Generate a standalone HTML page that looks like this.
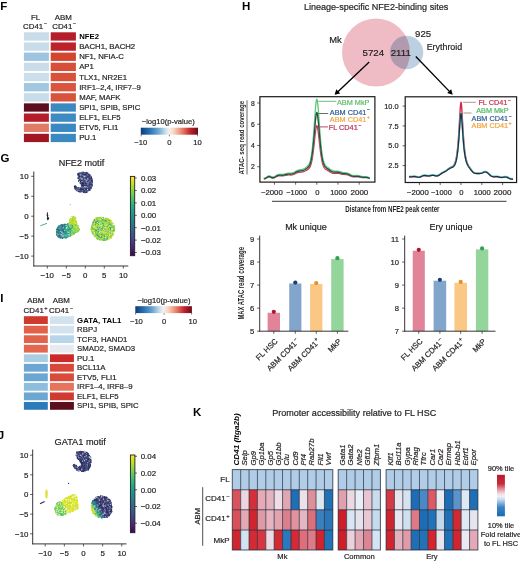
<!DOCTYPE html><html><head><meta charset="utf-8"><style>html,body{margin:0;padding:0;background:#fff;}svg{display:block;will-change:transform;}text{font-family:"Liberation Sans",sans-serif;}</style></head><body><svg width="520" height="561" viewBox="0 0 520 561" font-family='"Liberation Sans", sans-serif' fill="#231f20"><text x="0.30" y="9.80" font-size="11.5" font-weight="bold" fill="#000">F</text>
<text x="35.60" y="19.90" font-size="7.9" stroke="#231f20" stroke-width="0.2" text-anchor="middle">FL</text>
<text x="63.30" y="19.90" font-size="7.9" stroke="#231f20" stroke-width="0.2" text-anchor="middle">ABM</text>
<text x="35.00" y="28.70" font-size="7.9" stroke="#231f20" stroke-width="0.2" text-anchor="middle">CD41<tspan font-size="5.69" dx="0.47" dy="-3.32">&#8722;</tspan></text>
<text x="64.20" y="28.70" font-size="7.9" stroke="#231f20" stroke-width="0.2" text-anchor="middle">CD41<tspan font-size="5.69" dx="0.47" dy="-3.32">&#8722;</tspan></text>
<rect x="23.90" y="32.30" width="25.00" height="8.30" fill="#c9dcea"/>
<rect x="50.70" y="32.30" width="25.20" height="8.30" fill="#b51d2a"/>
<text x="79.20" y="38.90" font-size="7.75" font-weight="bold" fill="#000">NFE2</text>
<rect x="23.90" y="42.45" width="25.00" height="8.30" fill="#c9dcea"/>
<rect x="50.70" y="42.45" width="25.20" height="8.30" fill="#bd2129"/>
<text x="79.20" y="49.05" font-size="7.75" stroke="#231f20" stroke-width="0.2">BACH1, BACH2</text>
<rect x="23.90" y="52.60" width="25.00" height="8.30" fill="#9dc5df"/>
<rect x="50.70" y="52.60" width="25.20" height="8.30" fill="#d4452f"/>
<text x="79.20" y="59.20" font-size="7.75" stroke="#231f20" stroke-width="0.2">NF1, NFIA-C</text>
<rect x="23.90" y="62.75" width="25.00" height="8.30" fill="#cadcea"/>
<rect x="50.70" y="62.75" width="25.20" height="8.30" fill="#d94e39"/>
<text x="79.20" y="69.35" font-size="7.75" stroke="#231f20" stroke-width="0.2">AP1</text>
<rect x="23.90" y="72.90" width="25.00" height="8.30" fill="#cddeeb"/>
<rect x="50.70" y="72.90" width="25.20" height="8.30" fill="#d9503b"/>
<text x="79.20" y="79.50" font-size="7.75" stroke="#231f20" stroke-width="0.2">TLX1, NR2E1</text>
<rect x="23.90" y="83.05" width="25.00" height="8.30" fill="#a2c8e0"/>
<rect x="50.70" y="83.05" width="25.20" height="8.30" fill="#da543e"/>
<text x="79.20" y="89.65" font-size="7.75" stroke="#231f20" stroke-width="0.2">IRF1&#8211;2,4, IRF7&#8211;9</text>
<rect x="23.90" y="93.20" width="25.00" height="8.30" fill="#c9dcea"/>
<rect x="50.70" y="93.20" width="25.20" height="8.30" fill="#d9523c"/>
<text x="79.20" y="99.80" font-size="7.75" stroke="#231f20" stroke-width="0.2">MAF, MAFK</text>
<rect x="23.90" y="103.35" width="25.00" height="8.30" fill="#5c0d1e"/>
<rect x="50.70" y="103.35" width="25.20" height="8.30" fill="#3c88c0"/>
<text x="79.20" y="109.95" font-size="7.75" stroke="#231f20" stroke-width="0.2">SPI1, SPIB, SPIC</text>
<rect x="23.90" y="113.50" width="25.00" height="8.30" fill="#b51d2b"/>
<rect x="50.70" y="113.50" width="25.20" height="8.30" fill="#3d8bc2"/>
<text x="79.20" y="120.10" font-size="7.75" stroke="#231f20" stroke-width="0.2">ELF1, ELF5</text>
<rect x="23.90" y="123.65" width="25.00" height="8.30" fill="#e07b65"/>
<rect x="50.70" y="123.65" width="25.20" height="8.30" fill="#3a88c1"/>
<text x="79.20" y="130.25" font-size="7.75" stroke="#231f20" stroke-width="0.2">ETV5, FLI1</text>
<rect x="23.90" y="133.80" width="25.00" height="8.30" fill="#9e1722"/>
<rect x="50.70" y="133.80" width="25.20" height="8.30" fill="#3b89c1"/>
<text x="79.20" y="140.40" font-size="7.75" stroke="#231f20" stroke-width="0.2">PU.1</text>
<defs><linearGradient id="gF" x1="0" x2="1" y1="0" y2="0"><stop offset="0" stop-color="#0a3d7a"/><stop offset="0.15" stop-color="#2a6fb0"/><stop offset="0.3" stop-color="#6aa5d0"/><stop offset="0.45" stop-color="#d5e5f0"/><stop offset="0.5" stop-color="#f4f1f0"/><stop offset="0.58" stop-color="#f8d4c0"/><stop offset="0.72" stop-color="#e8836a"/><stop offset="0.86" stop-color="#c0272d"/><stop offset="1" stop-color="#6a0a1a"/></linearGradient></defs>
<rect x="140.80" y="127.70" width="57.20" height="7.00" fill="url(#gF)"/>
<line x1="141.20" y1="134.70" x2="141.20" y2="136.30" stroke="#231f20" stroke-width="0.6"/>
<line x1="169.40" y1="134.70" x2="169.40" y2="136.30" stroke="#231f20" stroke-width="0.6"/>
<line x1="197.60" y1="134.70" x2="197.60" y2="136.30" stroke="#231f20" stroke-width="0.6"/>
<text x="168.20" y="124.20" font-size="7.6" stroke="#231f20" stroke-width="0.2" text-anchor="middle">&#8722;log10(p-value)</text>
<text x="140.80" y="145.40" font-size="7.6" stroke="#231f20" stroke-width="0.2" text-anchor="middle">&#8722;10</text>
<text x="169.40" y="145.40" font-size="7.6" stroke="#231f20" stroke-width="0.2" text-anchor="middle">0</text>
<text x="197.60" y="145.40" font-size="7.6" stroke="#231f20" stroke-width="0.2" text-anchor="middle">10</text>
<text x="0.60" y="162.00" font-size="11.5" font-weight="bold" fill="#000">G</text>
<text x="81.45" y="165.50" font-size="9.1" stroke="#231f20" stroke-width="0.2" text-anchor="middle">NFE2 motif</text>
<line x1="33.80" y1="171.50" x2="33.80" y2="266.40" stroke="#231f20" stroke-width="0.9"/>
<line x1="33.40" y1="266.00" x2="128.30" y2="266.00" stroke="#231f20" stroke-width="0.9"/>
<line x1="31.20" y1="176.30" x2="33.80" y2="176.30" stroke="#231f20" stroke-width="0.7"/>
<text x="28.60" y="179.00" font-size="7.9" stroke="#231f20" stroke-width="0.2" text-anchor="end">10</text>
<line x1="31.20" y1="196.25" x2="33.80" y2="196.25" stroke="#231f20" stroke-width="0.7"/>
<text x="28.60" y="198.95" font-size="7.9" stroke="#231f20" stroke-width="0.2" text-anchor="end">5</text>
<line x1="31.20" y1="216.20" x2="33.80" y2="216.20" stroke="#231f20" stroke-width="0.7"/>
<text x="28.60" y="218.90" font-size="7.9" stroke="#231f20" stroke-width="0.2" text-anchor="end">0</text>
<line x1="31.20" y1="236.15" x2="33.80" y2="236.15" stroke="#231f20" stroke-width="0.7"/>
<text x="28.60" y="238.85" font-size="7.9" stroke="#231f20" stroke-width="0.2" text-anchor="end">&#8722;5</text>
<line x1="31.20" y1="256.10" x2="33.80" y2="256.10" stroke="#231f20" stroke-width="0.7"/>
<text x="28.60" y="258.80" font-size="7.9" stroke="#231f20" stroke-width="0.2" text-anchor="end">&#8722;10</text>
<line x1="47.30" y1="266.00" x2="47.30" y2="268.60" stroke="#231f20" stroke-width="0.7"/>
<text x="47.30" y="277.80" font-size="7.9" stroke="#231f20" stroke-width="0.2" text-anchor="middle">&#8722;10</text>
<line x1="66.30" y1="266.00" x2="66.30" y2="268.60" stroke="#231f20" stroke-width="0.7"/>
<text x="66.30" y="277.80" font-size="7.9" stroke="#231f20" stroke-width="0.2" text-anchor="middle">&#8722;5</text>
<line x1="85.30" y1="266.00" x2="85.30" y2="268.60" stroke="#231f20" stroke-width="0.7"/>
<text x="85.30" y="277.80" font-size="7.9" stroke="#231f20" stroke-width="0.2" text-anchor="middle">0</text>
<line x1="104.30" y1="266.00" x2="104.30" y2="268.60" stroke="#231f20" stroke-width="0.7"/>
<text x="104.30" y="277.80" font-size="7.9" stroke="#231f20" stroke-width="0.2" text-anchor="middle">5</text>
<line x1="123.30" y1="266.00" x2="123.30" y2="268.60" stroke="#231f20" stroke-width="0.7"/>
<text x="123.30" y="277.80" font-size="7.9" stroke="#231f20" stroke-width="0.2" text-anchor="middle">10</text>
<defs><linearGradient id="vG" x1="0" x2="0" y1="0" y2="1"><stop offset="0.000" stop-color="#fde725"/><stop offset="0.067" stop-color="#d2e21b"/><stop offset="0.133" stop-color="#a5db36"/><stop offset="0.200" stop-color="#7ad151"/><stop offset="0.267" stop-color="#54c568"/><stop offset="0.333" stop-color="#35b779"/><stop offset="0.400" stop-color="#22a884"/><stop offset="0.467" stop-color="#1f988b"/><stop offset="0.533" stop-color="#23888e"/><stop offset="0.600" stop-color="#2a788e"/><stop offset="0.667" stop-color="#31688e"/><stop offset="0.733" stop-color="#39568c"/><stop offset="0.800" stop-color="#414487"/><stop offset="0.867" stop-color="#472f7d"/><stop offset="0.933" stop-color="#481a6c"/><stop offset="1.000" stop-color="#440154"/></linearGradient></defs>
<rect x="130.40" y="176.40" width="4.30" height="79.30" fill="url(#vG)" stroke="#231f20" stroke-width="0.9"/>
<line x1="134.70" y1="178.00" x2="136.80" y2="178.00" stroke="#231f20" stroke-width="0.7"/>
<text x="140.90" y="180.80" font-size="7.9" stroke="#231f20" stroke-width="0.2">0.03</text>
<line x1="134.70" y1="190.50" x2="136.80" y2="190.50" stroke="#231f20" stroke-width="0.7"/>
<text x="140.90" y="193.30" font-size="7.9" stroke="#231f20" stroke-width="0.2">0.02</text>
<line x1="134.70" y1="202.90" x2="136.80" y2="202.90" stroke="#231f20" stroke-width="0.7"/>
<text x="140.90" y="205.70" font-size="7.9" stroke="#231f20" stroke-width="0.2">0.01</text>
<line x1="134.70" y1="215.30" x2="136.80" y2="215.30" stroke="#231f20" stroke-width="0.7"/>
<text x="140.90" y="218.10" font-size="7.9" stroke="#231f20" stroke-width="0.2">0.00</text>
<line x1="134.70" y1="227.70" x2="136.80" y2="227.70" stroke="#231f20" stroke-width="0.7"/>
<text x="140.90" y="230.50" font-size="7.9" stroke="#231f20" stroke-width="0.2">&#8722;0.01</text>
<line x1="134.70" y1="240.10" x2="136.80" y2="240.10" stroke="#231f20" stroke-width="0.7"/>
<text x="140.90" y="242.90" font-size="7.9" stroke="#231f20" stroke-width="0.2">&#8722;0.02</text>
<line x1="134.70" y1="252.50" x2="136.80" y2="252.50" stroke="#231f20" stroke-width="0.7"/>
<text x="140.90" y="255.30" font-size="7.9" stroke="#231f20" stroke-width="0.2">&#8722;0.03</text>
<polygon points="78.0,173.5 83.0,172.2 88.0,173.0 91.3,176.5 92.4,181.0 92.0,186.0 90.0,190.0 86.0,192.4 81.0,192.3 77.5,191.0 75.0,188.8 74.5,186.3 75.3,185.5 77.0,187.3 79.5,188.3 81.2,187.5 81.8,184.8 79.5,182.0 78.3,178.5" fill="#35386f" fill-opacity="0.35"/>
<circle cx="84.1" cy="185.3" r="0.65" fill="#2b2d5e"/>
<circle cx="79.3" cy="181.4" r="0.65" fill="#3a3570"/>
<circle cx="83.7" cy="192.2" r="0.65" fill="#3d4d80"/>
<circle cx="89.8" cy="182.5" r="0.65" fill="#33306a"/>
<circle cx="88.0" cy="173.5" r="0.65" fill="#dfe3ea"/>
<circle cx="88.4" cy="190.0" r="0.65" fill="#24224f"/>
<circle cx="81.4" cy="172.4" r="0.65" fill="#2f5f7f"/>
<circle cx="83.3" cy="189.1" r="0.65" fill="#2b2d5e"/>
<circle cx="79.7" cy="172.9" r="0.65" fill="#403a78"/>
<circle cx="83.0" cy="172.0" r="0.65" fill="#4a5a8a"/>
<circle cx="83.7" cy="185.4" r="0.65" fill="#33306a"/>
<circle cx="86.0" cy="190.4" r="0.65" fill="#3b3f7c"/>
<circle cx="80.6" cy="173.6" r="0.65" fill="#4a7a90"/>
<circle cx="91.7" cy="181.0" r="0.65" fill="#282c58"/>
<circle cx="87.3" cy="180.3" r="0.65" fill="#2e2a60"/>
<circle cx="90.2" cy="175.6" r="0.65" fill="#2e2a60"/>
<circle cx="88.4" cy="188.8" r="0.65" fill="#2b2d5e"/>
<circle cx="85.3" cy="184.1" r="0.65" fill="#dfe3ea"/>
<circle cx="89.0" cy="179.8" r="0.65" fill="#403a78"/>
<circle cx="89.0" cy="178.5" r="0.65" fill="#2b2d5e"/>
<circle cx="87.4" cy="176.6" r="0.65" fill="#2b2d5e"/>
<circle cx="88.8" cy="187.0" r="0.65" fill="#3d4d80"/>
<circle cx="86.3" cy="181.3" r="0.65" fill="#3b3f7c"/>
<circle cx="80.4" cy="182.7" r="0.65" fill="#403a78"/>
<circle cx="79.3" cy="173.8" r="0.65" fill="#4a5a8a"/>
<circle cx="81.6" cy="190.8" r="0.65" fill="#4a5a8a"/>
<circle cx="83.8" cy="183.5" r="0.65" fill="#4a5a8a"/>
<circle cx="88.6" cy="174.6" r="0.65" fill="#2b2d5e"/>
<circle cx="77.9" cy="188.1" r="0.65" fill="#4a7a90"/>
<circle cx="82.1" cy="182.6" r="0.65" fill="#3a3570"/>
<circle cx="82.5" cy="183.0" r="0.65" fill="#282c58"/>
<circle cx="87.3" cy="186.2" r="0.65" fill="#3a3570"/>
<circle cx="81.8" cy="186.0" r="0.65" fill="#dfe3ea"/>
<circle cx="89.5" cy="174.7" r="0.65" fill="#3a3570"/>
<circle cx="76.5" cy="187.3" r="0.65" fill="#2f5f7f"/>
<circle cx="81.8" cy="180.5" r="0.65" fill="#2b2d5e"/>
<circle cx="80.8" cy="181.7" r="0.65" fill="#3b3f7c"/>
<circle cx="87.4" cy="173.7" r="0.65" fill="#3d4d80"/>
<circle cx="81.0" cy="190.8" r="0.65" fill="#dfe3ea"/>
<circle cx="89.0" cy="178.7" r="0.65" fill="#3a3570"/>
<circle cx="78.8" cy="180.9" r="0.65" fill="#3b3f7c"/>
<circle cx="91.6" cy="181.8" r="0.65" fill="#2b2d5e"/>
<circle cx="79.1" cy="179.0" r="0.65" fill="#33306a"/>
<circle cx="88.1" cy="180.3" r="0.65" fill="#282c58"/>
<circle cx="78.6" cy="174.5" r="0.65" fill="#33306a"/>
<circle cx="84.9" cy="183.2" r="0.65" fill="#3d4d80"/>
<circle cx="90.9" cy="183.5" r="0.65" fill="#24224f"/>
<circle cx="79.7" cy="179.1" r="0.65" fill="#3b3f7c"/>
<circle cx="80.3" cy="189.5" r="0.65" fill="#2e2a60"/>
<circle cx="83.9" cy="182.4" r="0.65" fill="#3a3570"/>
<circle cx="79.6" cy="189.3" r="0.65" fill="#24224f"/>
<circle cx="92.0" cy="179.5" r="0.65" fill="#3d4d80"/>
<circle cx="91.9" cy="185.0" r="0.65" fill="#3d4d80"/>
<circle cx="90.7" cy="188.7" r="0.65" fill="#403a78"/>
<circle cx="80.3" cy="174.3" r="0.65" fill="#24224f"/>
<circle cx="83.5" cy="177.4" r="0.65" fill="#3a3570"/>
<circle cx="86.1" cy="189.0" r="0.65" fill="#4a5a8a"/>
<circle cx="81.9" cy="185.2" r="0.65" fill="#dfe3ea"/>
<circle cx="87.1" cy="192.2" r="0.65" fill="#403a78"/>
<circle cx="78.6" cy="173.4" r="0.65" fill="#282c58"/>
<circle cx="89.5" cy="187.6" r="0.65" fill="#2e2a60"/>
<circle cx="76.8" cy="190.3" r="0.65" fill="#33306a"/>
<circle cx="92.2" cy="182.7" r="0.65" fill="#3d4d80"/>
<circle cx="90.2" cy="186.7" r="0.65" fill="#3d4d80"/>
<circle cx="84.5" cy="185.4" r="0.65" fill="#4a5a8a"/>
<circle cx="90.2" cy="178.6" r="0.65" fill="#33306a"/>
<circle cx="78.5" cy="177.1" r="0.65" fill="#2e2a60"/>
<circle cx="80.2" cy="192.0" r="0.65" fill="#403a78"/>
<circle cx="92.2" cy="185.6" r="0.65" fill="#3d4d80"/>
<circle cx="78.2" cy="178.1" r="0.65" fill="#33306a"/>
<circle cx="89.8" cy="187.6" r="0.65" fill="#3a3570"/>
<circle cx="88.3" cy="181.2" r="0.65" fill="#2e2a60"/>
<circle cx="82.9" cy="178.8" r="0.65" fill="#2b2d5e"/>
<circle cx="78.0" cy="175.2" r="0.65" fill="#2e2a60"/>
<circle cx="80.4" cy="179.3" r="0.65" fill="#3a6d8a"/>
<circle cx="79.9" cy="180.6" r="0.65" fill="#35587a"/>
<circle cx="87.4" cy="177.0" r="0.65" fill="#2e2a60"/>
<circle cx="91.4" cy="177.1" r="0.65" fill="#33306a"/>
<circle cx="92.4" cy="181.2" r="0.65" fill="#4a5a8a"/>
<circle cx="85.6" cy="186.2" r="0.65" fill="#2b2d5e"/>
<circle cx="89.6" cy="186.4" r="0.65" fill="#3d4d80"/>
<circle cx="83.3" cy="188.9" r="0.65" fill="#2b2d5e"/>
<circle cx="78.9" cy="181.3" r="0.65" fill="#3a6d8a"/>
<circle cx="90.3" cy="187.7" r="0.65" fill="#2b2d5e"/>
<circle cx="84.9" cy="177.3" r="0.65" fill="#3d4d80"/>
<circle cx="86.3" cy="177.9" r="0.65" fill="#2b2d5e"/>
<circle cx="81.5" cy="177.1" r="0.65" fill="#282c58"/>
<circle cx="84.5" cy="175.4" r="0.65" fill="#3a3570"/>
<circle cx="88.9" cy="184.7" r="0.65" fill="#3d4d80"/>
<circle cx="79.5" cy="191.7" r="0.65" fill="#33306a"/>
<circle cx="82.5" cy="177.9" r="0.65" fill="#3a3570"/>
<circle cx="91.4" cy="180.6" r="0.65" fill="#282c58"/>
<circle cx="85.6" cy="186.4" r="0.65" fill="#3d4d80"/>
<circle cx="89.5" cy="189.5" r="0.65" fill="#2b2d5e"/>
<circle cx="86.8" cy="175.9" r="0.65" fill="#3a3570"/>
<circle cx="81.5" cy="180.0" r="0.65" fill="#dfe3ea"/>
<circle cx="90.1" cy="182.9" r="0.65" fill="#3a3570"/>
<circle cx="84.0" cy="174.5" r="0.65" fill="#4a5a8a"/>
<circle cx="84.6" cy="192.5" r="0.65" fill="#4a5a8a"/>
<circle cx="84.1" cy="174.5" r="0.65" fill="#33306a"/>
<circle cx="78.8" cy="175.3" r="0.65" fill="#3d4d80"/>
<circle cx="75.1" cy="188.7" r="0.65" fill="#3b3f7c"/>
<circle cx="89.9" cy="175.4" r="0.65" fill="#3a3570"/>
<circle cx="80.9" cy="191.6" r="0.65" fill="#4a7a90"/>
<circle cx="82.7" cy="174.9" r="0.65" fill="#403a78"/>
<circle cx="92.0" cy="186.0" r="0.65" fill="#2e2a60"/>
<circle cx="79.7" cy="189.4" r="0.65" fill="#403a78"/>
<circle cx="82.8" cy="183.7" r="0.65" fill="#3a3570"/>
<circle cx="75.2" cy="188.6" r="0.65" fill="#2e2a60"/>
<circle cx="83.6" cy="182.6" r="0.65" fill="#4a5a8a"/>
<circle cx="86.1" cy="177.6" r="0.65" fill="#33306a"/>
<circle cx="89.7" cy="190.0" r="0.65" fill="#3a3570"/>
<circle cx="77.1" cy="188.7" r="0.65" fill="#2f5f7f"/>
<circle cx="83.7" cy="182.0" r="0.65" fill="#33306a"/>
<circle cx="80.5" cy="191.2" r="0.65" fill="#3b3f7c"/>
<circle cx="80.6" cy="190.1" r="0.65" fill="#2f5f7f"/>
<circle cx="89.2" cy="185.1" r="0.65" fill="#3b3f7c"/>
<circle cx="89.4" cy="187.8" r="0.65" fill="#3d4d80"/>
<circle cx="87.7" cy="177.1" r="0.65" fill="#3b3f7c"/>
<circle cx="83.4" cy="186.2" r="0.65" fill="#3b3f7c"/>
<circle cx="84.7" cy="188.0" r="0.65" fill="#3a3570"/>
<circle cx="86.8" cy="172.5" r="0.65" fill="#24224f"/>
<circle cx="85.8" cy="180.8" r="0.65" fill="#403a78"/>
<circle cx="86.8" cy="177.5" r="0.65" fill="#3d4d80"/>
<circle cx="76.2" cy="189.9" r="0.65" fill="#282c58"/>
<circle cx="83.6" cy="183.7" r="0.65" fill="#3a3570"/>
<circle cx="80.0" cy="174.6" r="0.65" fill="#2b2d5e"/>
<circle cx="81.4" cy="180.1" r="0.65" fill="#3a6d8a"/>
<circle cx="85.2" cy="179.2" r="0.65" fill="#dfe3ea"/>
<circle cx="81.7" cy="180.4" r="0.65" fill="#282c58"/>
<circle cx="83.5" cy="190.1" r="0.65" fill="#3a3570"/>
<circle cx="88.0" cy="177.7" r="0.65" fill="#dfe3ea"/>
<circle cx="89.2" cy="183.7" r="0.65" fill="#282c58"/>
<circle cx="84.1" cy="172.7" r="0.65" fill="#282c58"/>
<circle cx="89.1" cy="183.8" r="0.65" fill="#24224f"/>
<circle cx="81.2" cy="188.7" r="0.65" fill="#dfe3ea"/>
<circle cx="82.1" cy="172.8" r="0.65" fill="#dfe3ea"/>
<circle cx="81.6" cy="176.5" r="0.65" fill="#24224f"/>
<circle cx="87.8" cy="176.6" r="0.65" fill="#4a5a8a"/>
<circle cx="84.0" cy="191.9" r="0.65" fill="#3d4d80"/>
<circle cx="78.8" cy="187.8" r="0.65" fill="#2e2a60"/>
<circle cx="80.8" cy="178.3" r="0.65" fill="#403a78"/>
<circle cx="81.9" cy="183.5" r="0.65" fill="#2f5f7f"/>
<circle cx="89.9" cy="177.5" r="0.65" fill="#2e2a60"/>
<circle cx="83.5" cy="185.2" r="0.65" fill="#3b3f7c"/>
<circle cx="80.9" cy="173.6" r="0.65" fill="#2e2a60"/>
<circle cx="86.3" cy="190.8" r="0.65" fill="#4a5a8a"/>
<circle cx="88.7" cy="188.5" r="0.65" fill="#24224f"/>
<circle cx="81.3" cy="190.5" r="0.65" fill="#35587a"/>
<circle cx="85.6" cy="188.5" r="0.65" fill="#4a5a8a"/>
<circle cx="81.4" cy="183.4" r="0.65" fill="#24224f"/>
<circle cx="90.7" cy="176.5" r="0.65" fill="#3a3570"/>
<circle cx="83.3" cy="178.3" r="0.65" fill="#dfe3ea"/>
<circle cx="82.5" cy="177.9" r="0.65" fill="#403a78"/>
<circle cx="84.6" cy="192.0" r="0.65" fill="#4a5a8a"/>
<circle cx="77.6" cy="187.6" r="0.65" fill="#2e2a60"/>
<circle cx="80.3" cy="173.2" r="0.65" fill="#33306a"/>
<circle cx="89.8" cy="175.0" r="0.65" fill="#4a5a8a"/>
<circle cx="81.3" cy="191.8" r="0.65" fill="#4a7a90"/>
<circle cx="74.4" cy="186.4" r="0.65" fill="#4a7a90"/>
<circle cx="80.2" cy="183.3" r="0.65" fill="#2f5f7f"/>
<circle cx="81.3" cy="188.1" r="0.65" fill="#282c58"/>
<circle cx="82.4" cy="177.2" r="0.65" fill="#3d4d80"/>
<circle cx="86.3" cy="183.7" r="0.65" fill="#282c58"/>
<circle cx="92.5" cy="182.8" r="0.65" fill="#2b2d5e"/>
<circle cx="90.7" cy="178.3" r="0.65" fill="#24224f"/>
<circle cx="86.6" cy="179.0" r="0.65" fill="#2b2d5e"/>
<circle cx="79.0" cy="189.3" r="0.65" fill="#dfe3ea"/>
<circle cx="81.4" cy="188.8" r="0.65" fill="#24224f"/>
<circle cx="80.0" cy="190.7" r="0.65" fill="#33306a"/>
<circle cx="89.8" cy="175.2" r="0.65" fill="#2b2d5e"/>
<circle cx="86.3" cy="185.2" r="0.65" fill="#3a3570"/>
<circle cx="87.6" cy="181.1" r="0.65" fill="#dfe3ea"/>
<circle cx="74.9" cy="187.6" r="0.65" fill="#35587a"/>
<circle cx="87.9" cy="175.0" r="0.65" fill="#282c58"/>
<circle cx="87.4" cy="184.4" r="0.65" fill="#dfe3ea"/>
<circle cx="81.7" cy="184.1" r="0.65" fill="#2f5f7f"/>
<circle cx="79.0" cy="181.0" r="0.65" fill="#33306a"/>
<circle cx="85.9" cy="192.4" r="0.65" fill="#403a78"/>
<circle cx="86.4" cy="175.7" r="0.65" fill="#33306a"/>
<circle cx="79.3" cy="189.6" r="0.65" fill="#4a5a8a"/>
<circle cx="86.3" cy="177.1" r="0.65" fill="#24224f"/>
<circle cx="82.6" cy="185.0" r="0.65" fill="#2e2a60"/>
<circle cx="91.4" cy="178.7" r="0.65" fill="#2b2d5e"/>
<circle cx="83.4" cy="173.6" r="0.65" fill="#4a5a8a"/>
<circle cx="84.0" cy="190.6" r="0.65" fill="#24224f"/>
<circle cx="74.9" cy="187.0" r="0.65" fill="#282c58"/>
<circle cx="83.7" cy="172.6" r="0.65" fill="#3a3570"/>
<circle cx="82.2" cy="187.3" r="0.65" fill="#3d4d80"/>
<circle cx="86.7" cy="187.7" r="0.65" fill="#403a78"/>
<circle cx="84.6" cy="172.6" r="0.65" fill="#3a3570"/>
<circle cx="91.0" cy="188.0" r="0.65" fill="#2e2a60"/>
<circle cx="90.7" cy="188.4" r="0.65" fill="#3d4d80"/>
<circle cx="81.7" cy="185.3" r="0.65" fill="#282c58"/>
<circle cx="81.1" cy="181.7" r="0.65" fill="#282c58"/>
<circle cx="78.6" cy="177.5" r="0.65" fill="#282c58"/>
<circle cx="79.1" cy="176.0" r="0.65" fill="#2b2d5e"/>
<circle cx="89.3" cy="178.5" r="0.65" fill="#3d4d80"/>
<circle cx="87.1" cy="188.2" r="0.65" fill="#282c58"/>
<circle cx="79.5" cy="180.6" r="0.65" fill="#24224f"/>
<circle cx="80.7" cy="189.3" r="0.65" fill="#33306a"/>
<circle cx="83.5" cy="179.6" r="0.65" fill="#2b2d5e"/>
<circle cx="81.0" cy="176.8" r="0.65" fill="#2b2d5e"/>
<circle cx="78.4" cy="187.6" r="0.65" fill="#3a3570"/>
<circle cx="87.0" cy="173.1" r="0.65" fill="#403a78"/>
<circle cx="82.8" cy="181.9" r="0.65" fill="#3a3570"/>
<circle cx="79.3" cy="176.5" r="0.65" fill="#2b2d5e"/>
<circle cx="77.1" cy="190.9" r="0.65" fill="#403a78"/>
<circle cx="89.4" cy="187.6" r="0.65" fill="#282c58"/>
<circle cx="79.2" cy="176.9" r="0.65" fill="#35587a"/>
<circle cx="83.5" cy="177.2" r="0.65" fill="#4a5a8a"/>
<circle cx="88.2" cy="176.8" r="0.65" fill="#3d4d80"/>
<circle cx="86.2" cy="180.2" r="0.65" fill="#3a3570"/>
<circle cx="89.1" cy="187.9" r="0.65" fill="#4a5a8a"/>
<circle cx="83.6" cy="185.4" r="0.65" fill="#2e2a60"/>
<circle cx="75.9" cy="187.1" r="0.65" fill="#35587a"/>
<circle cx="80.7" cy="188.2" r="0.65" fill="#3a3570"/>
<circle cx="86.5" cy="179.4" r="0.65" fill="#403a78"/>
<circle cx="77.8" cy="174.4" r="0.65" fill="#3b3f7c"/>
<circle cx="80.5" cy="177.1" r="0.65" fill="#dfe3ea"/>
<circle cx="83.0" cy="185.7" r="0.65" fill="#3a3570"/>
<circle cx="80.2" cy="189.9" r="0.65" fill="#3b3f7c"/>
<circle cx="81.6" cy="184.9" r="0.65" fill="#24224f"/>
<circle cx="90.2" cy="184.7" r="0.65" fill="#3b3f7c"/>
<circle cx="92.2" cy="180.3" r="0.65" fill="#403a78"/>
<circle cx="91.1" cy="183.5" r="0.65" fill="#4a5a8a"/>
<circle cx="77.5" cy="188.9" r="0.65" fill="#3d4d80"/>
<circle cx="91.6" cy="178.4" r="0.65" fill="#282c58"/>
<circle cx="78.4" cy="174.6" r="0.65" fill="#2f5f7f"/>
<circle cx="82.9" cy="189.4" r="0.65" fill="#282c58"/>
<circle cx="90.1" cy="179.9" r="0.65" fill="#3d4d80"/>
<circle cx="89.8" cy="190.4" r="0.65" fill="#2e2a60"/>
<circle cx="78.2" cy="177.1" r="0.65" fill="#33306a"/>
<circle cx="76.2" cy="186.5" r="0.65" fill="#4a7a90"/>
<circle cx="81.9" cy="189.6" r="0.65" fill="#33306a"/>
<circle cx="86.0" cy="173.4" r="0.65" fill="#403a78"/>
<circle cx="80.1" cy="175.0" r="0.65" fill="#3b3f7c"/>
<circle cx="89.8" cy="176.8" r="0.65" fill="#3b3f7c"/>
<circle cx="87.9" cy="183.6" r="0.65" fill="#dfe3ea"/>
<circle cx="83.3" cy="178.9" r="0.65" fill="#3d4d80"/>
<circle cx="89.7" cy="185.2" r="0.65" fill="#24224f"/>
<circle cx="84.6" cy="190.5" r="0.65" fill="#3a3570"/>
<circle cx="80.8" cy="174.3" r="0.65" fill="#2e2a60"/>
<circle cx="76.4" cy="188.9" r="0.65" fill="#dfe3ea"/>
<circle cx="86.3" cy="172.9" r="0.65" fill="#3d4d80"/>
<circle cx="91.0" cy="176.0" r="0.65" fill="#dfe3ea"/>
<circle cx="89.0" cy="182.6" r="0.65" fill="#3d4d80"/>
<circle cx="87.7" cy="190.7" r="0.65" fill="#2e2a60"/>
<circle cx="83.3" cy="182.6" r="0.65" fill="#3d4d80"/>
<circle cx="89.7" cy="175.5" r="0.65" fill="#3d4d80"/>
<circle cx="76.4" cy="188.0" r="0.65" fill="#24224f"/>
<circle cx="83.9" cy="186.3" r="0.65" fill="#3d4d80"/>
<circle cx="88.5" cy="174.7" r="0.65" fill="#3a3570"/>
<circle cx="88.9" cy="187.0" r="0.65" fill="#403a78"/>
<circle cx="82.2" cy="188.4" r="0.65" fill="#4a5a8a"/>
<circle cx="87.6" cy="181.4" r="0.65" fill="#2e2a60"/>
<circle cx="85.1" cy="185.4" r="0.65" fill="#282c58"/>
<circle cx="89.4" cy="179.9" r="0.65" fill="#2e2a60"/>
<circle cx="75.2" cy="185.9" r="0.65" fill="#3d4d80"/>
<circle cx="87.9" cy="177.4" r="0.65" fill="#3b3f7c"/>
<circle cx="82.1" cy="185.4" r="0.65" fill="#24224f"/>
<circle cx="91.2" cy="187.5" r="0.65" fill="#3a3570"/>
<circle cx="77.5" cy="188.1" r="0.65" fill="#dfe3ea"/>
<circle cx="83.4" cy="183.2" r="0.65" fill="#4a5a8a"/>
<circle cx="86.5" cy="175.7" r="0.65" fill="#3d4d80"/>
<circle cx="92.0" cy="184.3" r="0.65" fill="#3d4d80"/>
<circle cx="83.1" cy="174.9" r="0.65" fill="#2b2d5e"/>
<circle cx="89.7" cy="185.3" r="0.65" fill="#3d4d80"/>
<circle cx="85.0" cy="178.4" r="0.65" fill="#282c58"/>
<circle cx="90.7" cy="182.0" r="0.65" fill="#403a78"/>
<circle cx="83.8" cy="181.5" r="0.65" fill="#4a5a8a"/>
<circle cx="83.8" cy="181.1" r="0.65" fill="#403a78"/>
<circle cx="80.4" cy="173.1" r="0.65" fill="#3a6d8a"/>
<circle cx="85.7" cy="184.9" r="0.65" fill="#24224f"/>
<circle cx="87.1" cy="173.9" r="0.65" fill="#2b2d5e"/>
<circle cx="86.2" cy="189.4" r="0.65" fill="#2e2a60"/>
<circle cx="85.9" cy="178.7" r="0.65" fill="#282c58"/>
<circle cx="82.0" cy="185.8" r="0.65" fill="#33306a"/>
<circle cx="84.4" cy="172.6" r="0.65" fill="#4a5a8a"/>
<circle cx="81.2" cy="176.8" r="0.65" fill="#2b2d5e"/>
<circle cx="80.2" cy="180.9" r="0.65" fill="#3a6d8a"/>
<circle cx="84.9" cy="180.9" r="0.65" fill="#24224f"/>
<circle cx="74.5" cy="186.8" r="0.65" fill="#2b2d5e"/>
<circle cx="79.2" cy="178.0" r="0.65" fill="#24224f"/>
<circle cx="81.4" cy="185.4" r="0.65" fill="#403a78"/>
<circle cx="91.8" cy="184.7" r="0.65" fill="#282c58"/>
<circle cx="89.6" cy="177.5" r="0.65" fill="#3b3f7c"/>
<circle cx="82.8" cy="183.7" r="0.65" fill="#2b2d5e"/>
<circle cx="84.5" cy="181.0" r="0.65" fill="#3b3f7c"/>
<circle cx="80.6" cy="180.4" r="0.65" fill="#4a5a8a"/>
<circle cx="78.1" cy="178.3" r="0.65" fill="#2b2d5e"/>
<circle cx="76.3" cy="189.7" r="0.65" fill="#4a7a90"/>
<circle cx="89.8" cy="180.8" r="0.65" fill="#33306a"/>
<circle cx="78.2" cy="174.3" r="0.65" fill="#3d4d80"/>
<circle cx="88.5" cy="176.7" r="0.65" fill="#2e2a60"/>
<circle cx="82.8" cy="178.1" r="0.65" fill="#282c58"/>
<circle cx="84.5" cy="191.8" r="0.65" fill="#2e2a60"/>
<circle cx="86.1" cy="186.7" r="0.65" fill="#3d4d80"/>
<circle cx="87.4" cy="190.1" r="0.65" fill="#2e2a60"/>
<circle cx="79.3" cy="174.4" r="0.65" fill="#4a5a8a"/>
<circle cx="78.4" cy="173.6" r="0.65" fill="#dfe3ea"/>
<circle cx="87.6" cy="191.1" r="0.65" fill="#3a3570"/>
<circle cx="78.7" cy="191.2" r="0.65" fill="#403a78"/>
<circle cx="82.7" cy="183.0" r="0.65" fill="#3b3f7c"/>
<circle cx="78.2" cy="173.6" r="0.65" fill="#3d4d80"/>
<circle cx="79.7" cy="178.0" r="0.65" fill="#3a6d8a"/>
<circle cx="87.6" cy="189.2" r="0.65" fill="#2b2d5e"/>
<circle cx="85.1" cy="174.3" r="0.65" fill="#282c58"/>
<circle cx="89.4" cy="175.0" r="0.65" fill="#3a3570"/>
<circle cx="86.3" cy="181.1" r="0.65" fill="#dfe3ea"/>
<circle cx="81.2" cy="191.3" r="0.65" fill="#35587a"/>
<circle cx="79.6" cy="180.5" r="0.65" fill="#2f5f7f"/>
<circle cx="91.2" cy="185.1" r="0.65" fill="#403a78"/>
<circle cx="76.8" cy="188.3" r="0.65" fill="#403a78"/>
<circle cx="83.9" cy="180.8" r="0.65" fill="#4a5a8a"/>
<circle cx="87.5" cy="189.6" r="0.65" fill="#dfe3ea"/>
<circle cx="81.3" cy="175.9" r="0.65" fill="#33306a"/>
<circle cx="78.9" cy="176.7" r="0.65" fill="#dfe3ea"/>
<circle cx="84.0" cy="187.9" r="0.65" fill="#33306a"/>
<circle cx="89.0" cy="189.2" r="0.65" fill="#403a78"/>
<circle cx="91.3" cy="186.4" r="0.65" fill="#4a5a8a"/>
<circle cx="78.6" cy="177.5" r="0.65" fill="#2e2a60"/>
<circle cx="79.5" cy="181.8" r="0.65" fill="#3b3f7c"/>
<circle cx="83.8" cy="184.9" r="0.65" fill="#4a5a8a"/>
<circle cx="86.3" cy="192.4" r="0.65" fill="#403a78"/>
<circle cx="88.5" cy="185.5" r="0.65" fill="#4a5a8a"/>
<circle cx="74.6" cy="186.5" r="0.65" fill="#282c58"/>
<circle cx="81.2" cy="187.4" r="0.65" fill="#4a7a90"/>
<circle cx="82.2" cy="188.7" r="0.65" fill="#403a78"/>
<circle cx="87.5" cy="176.3" r="0.65" fill="#3b3f7c"/>
<circle cx="78.8" cy="189.6" r="0.65" fill="#3b3f7c"/>
<circle cx="81.6" cy="187.6" r="0.65" fill="#dfe3ea"/>
<circle cx="75.4" cy="188.0" r="0.65" fill="#2e2a60"/>
<circle cx="89.6" cy="184.0" r="0.65" fill="#3a3570"/>
<circle cx="86.1" cy="189.2" r="0.65" fill="#3b3f7c"/>
<circle cx="86.2" cy="173.6" r="0.65" fill="#3d4d80"/>
<circle cx="80.9" cy="182.4" r="0.65" fill="#4a5a8a"/>
<circle cx="80.4" cy="174.3" r="0.65" fill="#2f5f7f"/>
<circle cx="88.4" cy="186.6" r="0.65" fill="#4a5a8a"/>
<circle cx="81.6" cy="174.2" r="0.65" fill="#4a5a8a"/>
<circle cx="79.6" cy="188.1" r="0.65" fill="#24224f"/>
<circle cx="84.3" cy="174.8" r="0.65" fill="#33306a"/>
<circle cx="80.7" cy="191.1" r="0.65" fill="#2f5f7f"/>
<circle cx="86.3" cy="177.6" r="0.65" fill="#282c58"/>
<circle cx="82.6" cy="188.1" r="0.65" fill="#3d4d80"/>
<circle cx="86.7" cy="178.1" r="0.65" fill="#3d4d80"/>
<circle cx="84.5" cy="192.1" r="0.65" fill="#4a5a8a"/>
<circle cx="85.7" cy="192.6" r="0.65" fill="#33306a"/>
<circle cx="83.1" cy="172.4" r="0.65" fill="#3d4d80"/>
<circle cx="80.3" cy="178.2" r="0.65" fill="#dfe3ea"/>
<circle cx="82.4" cy="177.0" r="0.65" fill="#33306a"/>
<circle cx="82.4" cy="183.4" r="0.65" fill="#3d4d80"/>
<circle cx="75.0" cy="186.1" r="0.65" fill="#33306a"/>
<circle cx="81.5" cy="182.7" r="0.65" fill="#35587a"/>
<circle cx="87.9" cy="185.6" r="0.65" fill="#4a5a8a"/>
<circle cx="85.7" cy="174.5" r="0.65" fill="#2e2a60"/>
<circle cx="86.8" cy="179.9" r="0.65" fill="#dfe3ea"/>
<circle cx="86.1" cy="188.6" r="0.65" fill="#2b2d5e"/>
<circle cx="90.2" cy="179.5" r="0.65" fill="#4a5a8a"/>
<circle cx="83.2" cy="184.3" r="0.65" fill="#2b2d5e"/>
<circle cx="79.8" cy="177.3" r="0.65" fill="#4a7a90"/>
<circle cx="90.0" cy="184.5" r="0.65" fill="#24224f"/>
<circle cx="87.8" cy="185.9" r="0.65" fill="#3d4d80"/>
<circle cx="79.9" cy="174.5" r="0.65" fill="#4a7a90"/>
<circle cx="89.1" cy="176.1" r="0.65" fill="#403a78"/>
<circle cx="84.1" cy="187.7" r="0.65" fill="#4a5a8a"/>
<circle cx="89.2" cy="174.7" r="0.65" fill="#282c58"/>
<circle cx="89.4" cy="175.6" r="0.65" fill="#2b2d5e"/>
<circle cx="86.1" cy="186.6" r="0.65" fill="#dfe3ea"/>
<circle cx="83.9" cy="184.1" r="0.65" fill="#282c58"/>
<circle cx="89.1" cy="187.0" r="0.65" fill="#3b3f7c"/>
<circle cx="88.9" cy="174.1" r="0.65" fill="#3a3570"/>
<circle cx="91.1" cy="176.5" r="0.65" fill="#4a5a8a"/>
<circle cx="89.3" cy="174.9" r="0.65" fill="#4a5a8a"/>
<circle cx="83.4" cy="176.1" r="0.65" fill="#3d4d80"/>
<circle cx="78.5" cy="173.5" r="0.65" fill="#3d4d80"/>
<circle cx="87.0" cy="182.1" r="0.65" fill="#4a5a8a"/>
<circle cx="88.0" cy="173.1" r="0.65" fill="#3d4d80"/>
<circle cx="86.3" cy="175.9" r="0.65" fill="#4a5a8a"/>
<circle cx="92.4" cy="185.0" r="0.65" fill="#4a5a8a"/>
<circle cx="82.8" cy="177.7" r="0.65" fill="#4a5a8a"/>
<circle cx="78.5" cy="189.3" r="0.65" fill="#3a3570"/>
<circle cx="85.6" cy="182.2" r="0.65" fill="#2e2a60"/>
<circle cx="83.5" cy="191.6" r="0.65" fill="#24224f"/>
<circle cx="82.4" cy="177.0" r="0.65" fill="#24224f"/>
<circle cx="81.8" cy="185.0" r="0.65" fill="#24224f"/>
<circle cx="82.6" cy="189.4" r="0.65" fill="#2b2d5e"/>
<circle cx="78.7" cy="176.4" r="0.65" fill="#3a6d8a"/>
<circle cx="79.6" cy="176.4" r="0.65" fill="#24224f"/>
<circle cx="83.4" cy="192.1" r="0.65" fill="#24224f"/>
<circle cx="85.0" cy="182.8" r="0.65" fill="#4a5a8a"/>
<circle cx="86.2" cy="190.5" r="0.65" fill="#3d4d80"/>
<circle cx="79.0" cy="180.4" r="0.65" fill="#282c58"/>
<circle cx="88.9" cy="176.4" r="0.65" fill="#4a5a8a"/>
<circle cx="90.3" cy="185.1" r="0.65" fill="#4a5a8a"/>
<circle cx="88.1" cy="181.2" r="0.65" fill="#4a5a8a"/>
<circle cx="82.2" cy="191.4" r="0.65" fill="#4a5a8a"/>
<circle cx="80.8" cy="183.4" r="0.65" fill="#33306a"/>
<circle cx="75.6" cy="186.5" r="0.65" fill="#33306a"/>
<circle cx="81.4" cy="182.0" r="0.65" fill="#dfe3ea"/>
<circle cx="83.3" cy="191.8" r="0.65" fill="#3b3f7c"/>
<circle cx="84.2" cy="185.8" r="0.65" fill="#3a3570"/>
<circle cx="78.4" cy="177.3" r="0.65" fill="#35587a"/>
<circle cx="85.8" cy="172.8" r="0.65" fill="#3b3f7c"/>
<circle cx="87.9" cy="191.1" r="0.65" fill="#dfe3ea"/>
<circle cx="83.0" cy="174.2" r="0.65" fill="#282c58"/>
<circle cx="89.1" cy="176.4" r="0.65" fill="#2b2d5e"/>
<circle cx="82.2" cy="188.4" r="0.65" fill="#4a5a8a"/>
<circle cx="89.1" cy="187.0" r="0.65" fill="#4a5a8a"/>
<circle cx="87.0" cy="177.8" r="0.65" fill="#3d4d80"/>
<circle cx="87.1" cy="184.6" r="0.65" fill="#24224f"/>
<circle cx="88.7" cy="183.9" r="0.65" fill="#4a5a8a"/>
<circle cx="88.1" cy="176.7" r="0.65" fill="#33306a"/>
<circle cx="81.5" cy="182.7" r="0.65" fill="#403a78"/>
<circle cx="78.7" cy="188.5" r="0.65" fill="#dfe3ea"/>
<circle cx="86.5" cy="191.8" r="0.65" fill="#3a3570"/>
<circle cx="81.6" cy="177.6" r="0.65" fill="#33306a"/>
<circle cx="80.8" cy="187.8" r="0.65" fill="#3a6d8a"/>
<circle cx="82.1" cy="173.2" r="0.65" fill="#282c58"/>
<circle cx="87.5" cy="185.6" r="0.65" fill="#3d4d80"/>
<circle cx="85.2" cy="192.5" r="0.65" fill="#403a78"/>
<circle cx="89.8" cy="189.4" r="0.65" fill="#403a78"/>
<circle cx="90.7" cy="181.3" r="0.65" fill="#3d4d80"/>
<circle cx="86.8" cy="173.0" r="0.65" fill="#403a78"/>
<circle cx="83.0" cy="180.4" r="0.65" fill="#3b3f7c"/>
<circle cx="81.2" cy="180.5" r="0.65" fill="#2e2a60"/>
<circle cx="87.5" cy="183.1" r="0.65" fill="#33306a"/>
<circle cx="79.6" cy="181.5" r="0.65" fill="#dfe3ea"/>
<circle cx="85.4" cy="183.4" r="0.65" fill="#2e2a60"/>
<circle cx="81.7" cy="189.2" r="0.65" fill="#24224f"/>
<circle cx="85.2" cy="175.7" r="0.65" fill="#3d4d80"/>
<circle cx="86.0" cy="174.4" r="0.65" fill="#403a78"/>
<circle cx="78.2" cy="173.4" r="0.65" fill="#2b2d5e"/>
<circle cx="81.0" cy="184.0" r="0.65" fill="#3d4d80"/>
<circle cx="86.1" cy="192.1" r="0.65" fill="#3a3570"/>
<circle cx="81.3" cy="174.9" r="0.65" fill="#282c58"/>
<circle cx="91.5" cy="180.5" r="0.65" fill="#24224f"/>
<circle cx="78.9" cy="191.7" r="0.65" fill="#3a3570"/>
<circle cx="75.3" cy="189.0" r="0.65" fill="#282c58"/>
<circle cx="83.8" cy="179.1" r="0.65" fill="#2b2d5e"/>
<circle cx="86.3" cy="172.9" r="0.65" fill="#4a5a8a"/>
<circle cx="79.9" cy="179.2" r="0.65" fill="#403a78"/>
<circle cx="81.1" cy="187.9" r="0.65" fill="#2e2a60"/>
<circle cx="88.1" cy="180.9" r="0.65" fill="#3a3570"/>
<circle cx="82.7" cy="183.4" r="0.65" fill="#33306a"/>
<circle cx="85.8" cy="182.1" r="0.65" fill="#3d4d80"/>
<circle cx="86.2" cy="185.8" r="0.65" fill="#2e2a60"/>
<circle cx="85.9" cy="191.2" r="0.65" fill="#3d4d80"/>
<circle cx="82.3" cy="172.8" r="0.65" fill="#3d4d80"/>
<circle cx="85.2" cy="189.3" r="0.65" fill="#24224f"/>
<circle cx="83.3" cy="179.7" r="0.65" fill="#4a5a8a"/>
<circle cx="85.4" cy="185.0" r="0.65" fill="#4a5a8a"/>
<circle cx="81.0" cy="178.7" r="0.65" fill="#3d4d80"/>
<circle cx="92.0" cy="178.8" r="0.65" fill="#3a3570"/>
<circle cx="84.0" cy="180.0" r="0.65" fill="#3d4d80"/>
<circle cx="84.6" cy="185.1" r="0.65" fill="#282c58"/>
<circle cx="81.4" cy="173.9" r="0.65" fill="#3d4d80"/>
<circle cx="80.5" cy="181.4" r="0.65" fill="#24224f"/>
<circle cx="82.4" cy="173.4" r="0.65" fill="#3b3f7c"/>
<circle cx="77.0" cy="187.7" r="0.65" fill="#4a5a8a"/>
<circle cx="82.0" cy="178.2" r="0.65" fill="#dfe3ea"/>
<circle cx="78.1" cy="189.1" r="0.65" fill="#2f5f7f"/>
<circle cx="80.3" cy="189.7" r="0.65" fill="#2e2a60"/>
<circle cx="78.1" cy="188.4" r="0.65" fill="#33306a"/>
<circle cx="84.5" cy="174.4" r="0.65" fill="#282c58"/>
<circle cx="82.0" cy="190.9" r="0.65" fill="#3d4d80"/>
<circle cx="82.9" cy="185.9" r="0.65" fill="#33306a"/>
<circle cx="81.3" cy="188.9" r="0.65" fill="#3a3570"/>
<circle cx="75.4" cy="186.7" r="0.65" fill="#2e2a60"/>
<circle cx="84.9" cy="187.8" r="0.65" fill="#3d4d80"/>
<circle cx="84.9" cy="174.3" r="0.65" fill="#2b2d5e"/>
<circle cx="86.7" cy="179.6" r="0.65" fill="#403a78"/>
<circle cx="92.2" cy="180.9" r="0.65" fill="#2b2d5e"/>
<circle cx="84.0" cy="176.1" r="0.65" fill="#dfe3ea"/>
<circle cx="83.5" cy="183.0" r="0.65" fill="#33306a"/>
<circle cx="81.9" cy="176.3" r="0.65" fill="#403a78"/>
<circle cx="83.9" cy="181.8" r="0.65" fill="#4a5a8a"/>
<circle cx="78.9" cy="174.1" r="0.65" fill="#403a78"/>
<circle cx="80.8" cy="174.8" r="0.65" fill="#dfe3ea"/>
<circle cx="91.1" cy="188.6" r="0.65" fill="#4a5a8a"/>
<circle cx="84.9" cy="186.7" r="0.65" fill="#dfe3ea"/>
<circle cx="91.4" cy="177.6" r="0.65" fill="#2e2a60"/>
<circle cx="82.1" cy="183.9" r="0.65" fill="#4a5a8a"/>
<circle cx="87.9" cy="190.9" r="0.65" fill="#3b3f7c"/>
<circle cx="78.3" cy="174.5" r="0.65" fill="#2e2a60"/>
<circle cx="82.6" cy="183.4" r="0.65" fill="#24224f"/>
<circle cx="83.9" cy="180.3" r="0.65" fill="#4a5a8a"/>
<circle cx="86.2" cy="173.0" r="0.65" fill="#282c58"/>
<circle cx="86.2" cy="185.3" r="0.65" fill="#282c58"/>
<circle cx="79.6" cy="175.9" r="0.65" fill="#3a3570"/>
<circle cx="78.4" cy="191.4" r="0.65" fill="#2e2a60"/>
<circle cx="88.8" cy="175.9" r="0.65" fill="#3d4d80"/>
<circle cx="81.9" cy="186.4" r="0.65" fill="#3a3570"/>
<circle cx="79.9" cy="176.9" r="0.65" fill="#24224f"/>
<polygon points="96.0,218.0 102.0,217.3 108.0,218.5 112.5,222.0 114.6,227.0 114.0,233.0 111.0,238.0 105.0,240.4 98.0,239.5 93.5,235.5 91.2,230.0 92.5,223.0" fill="#b8dc30" fill-opacity="0.35"/>
<circle cx="95.8" cy="218.4" r="0.65" fill="#6bcc59"/>
<circle cx="103.0" cy="239.5" r="0.65" fill="#aadb32"/>
<circle cx="97.9" cy="238.8" r="0.65" fill="#83d34b"/>
<circle cx="98.9" cy="222.4" r="0.65" fill="#9fd939"/>
<circle cx="105.2" cy="232.8" r="0.65" fill="#a1da38"/>
<circle cx="110.3" cy="224.0" r="0.65" fill="#a3da37"/>
<circle cx="109.6" cy="220.0" r="0.65" fill="#9ed93a"/>
<circle cx="103.4" cy="227.7" r="0.65" fill="#209f87"/>
<circle cx="103.6" cy="217.8" r="0.65" fill="#e7e420"/>
<circle cx="110.3" cy="236.1" r="0.65" fill="#dbe31d"/>
<circle cx="102.5" cy="238.4" r="0.65" fill="#a1da38"/>
<circle cx="107.7" cy="223.2" r="0.65" fill="#7ad150"/>
<circle cx="98.0" cy="232.5" r="0.65" fill="#20a087"/>
<circle cx="108.4" cy="222.1" r="0.65" fill="#20918c"/>
<circle cx="107.0" cy="234.7" r="0.65" fill="#62c95f"/>
<circle cx="107.2" cy="227.2" r="0.65" fill="#8cd545"/>
<circle cx="91.9" cy="229.9" r="0.65" fill="#e2e31e"/>
<circle cx="113.7" cy="227.3" r="0.65" fill="#21a385"/>
<circle cx="97.2" cy="219.3" r="0.65" fill="#73ce55"/>
<circle cx="97.6" cy="223.3" r="0.65" fill="#b1dc2e"/>
<circle cx="105.0" cy="219.0" r="0.65" fill="#7cd14f"/>
<circle cx="100.6" cy="238.6" r="0.65" fill="#eef2d8"/>
<circle cx="107.9" cy="228.7" r="0.65" fill="#c4df23"/>
<circle cx="98.4" cy="226.5" r="0.65" fill="#77d052"/>
<circle cx="106.2" cy="239.4" r="0.65" fill="#7fd24d"/>
<circle cx="105.7" cy="218.5" r="0.65" fill="#23878e"/>
<circle cx="103.3" cy="227.3" r="0.65" fill="#7ad150"/>
<circle cx="108.8" cy="219.2" r="0.65" fill="#e2e31e"/>
<circle cx="114.2" cy="226.5" r="0.65" fill="#b3dd2d"/>
<circle cx="98.2" cy="219.4" r="0.65" fill="#e8e420"/>
<circle cx="99.6" cy="229.1" r="0.65" fill="#29788e"/>
<circle cx="107.2" cy="218.4" r="0.65" fill="#cfe11c"/>
<circle cx="101.8" cy="222.0" r="0.65" fill="#7fd24d"/>
<circle cx="100.1" cy="227.0" r="0.65" fill="#5ec861"/>
<circle cx="108.3" cy="236.6" r="0.65" fill="#9bd83c"/>
<circle cx="99.9" cy="233.2" r="0.65" fill="#7ad150"/>
<circle cx="109.8" cy="221.8" r="0.65" fill="#20a186"/>
<circle cx="108.6" cy="230.1" r="0.65" fill="#67cb5c"/>
<circle cx="99.1" cy="234.8" r="0.65" fill="#ece521"/>
<circle cx="110.9" cy="223.2" r="0.65" fill="#dbe31d"/>
<circle cx="101.2" cy="234.3" r="0.65" fill="#22888d"/>
<circle cx="104.4" cy="219.9" r="0.65" fill="#8dd544"/>
<circle cx="104.6" cy="239.2" r="0.65" fill="#26808e"/>
<circle cx="98.8" cy="222.6" r="0.65" fill="#91d642"/>
<circle cx="105.8" cy="224.2" r="0.65" fill="#9ed93a"/>
<circle cx="106.7" cy="232.8" r="0.65" fill="#287c8e"/>
<circle cx="108.7" cy="223.0" r="0.65" fill="#6dcd58"/>
<circle cx="106.1" cy="228.1" r="0.65" fill="#66ca5d"/>
<circle cx="93.6" cy="224.0" r="0.65" fill="#85d349"/>
<circle cx="91.9" cy="226.3" r="0.65" fill="#cce11e"/>
<circle cx="108.7" cy="224.9" r="0.65" fill="#a3da36"/>
<circle cx="110.6" cy="236.0" r="0.65" fill="#1f9c88"/>
<circle cx="113.4" cy="229.8" r="0.65" fill="#68cb5b"/>
<circle cx="113.4" cy="233.6" r="0.65" fill="#9cd93b"/>
<circle cx="108.6" cy="225.6" r="0.65" fill="#d6e21c"/>
<circle cx="110.4" cy="236.6" r="0.65" fill="#22898d"/>
<circle cx="91.5" cy="228.8" r="0.65" fill="#218d8d"/>
<circle cx="106.8" cy="229.2" r="0.65" fill="#77d052"/>
<circle cx="107.1" cy="238.2" r="0.65" fill="#a9db33"/>
<circle cx="112.8" cy="222.4" r="0.65" fill="#eef2d8"/>
<circle cx="104.9" cy="226.4" r="0.65" fill="#89d446"/>
<circle cx="98.7" cy="229.4" r="0.65" fill="#d1e11b"/>
<circle cx="107.4" cy="239.5" r="0.65" fill="#e9e420"/>
<circle cx="109.4" cy="220.0" r="0.65" fill="#9ed939"/>
<circle cx="95.2" cy="231.2" r="0.65" fill="#bfdf26"/>
<circle cx="106.2" cy="236.5" r="0.65" fill="#eef2d8"/>
<circle cx="104.5" cy="221.5" r="0.65" fill="#20a087"/>
<circle cx="91.7" cy="230.5" r="0.65" fill="#e9e420"/>
<circle cx="110.0" cy="224.0" r="0.65" fill="#25818e"/>
<circle cx="101.4" cy="219.3" r="0.65" fill="#74cf54"/>
<circle cx="107.5" cy="237.6" r="0.65" fill="#64ca5d"/>
<circle cx="94.3" cy="228.9" r="0.65" fill="#78d051"/>
<circle cx="100.0" cy="225.5" r="0.65" fill="#d5e21b"/>
<circle cx="112.2" cy="231.1" r="0.65" fill="#25828e"/>
<circle cx="95.9" cy="221.2" r="0.65" fill="#a1da38"/>
<circle cx="106.7" cy="220.2" r="0.65" fill="#eef2d8"/>
<circle cx="101.6" cy="238.2" r="0.65" fill="#25818e"/>
<circle cx="108.7" cy="235.2" r="0.65" fill="#eef2d8"/>
<circle cx="106.5" cy="233.7" r="0.65" fill="#7fd24d"/>
<circle cx="108.9" cy="228.5" r="0.65" fill="#8dd544"/>
<circle cx="102.3" cy="224.6" r="0.65" fill="#9dd93a"/>
<circle cx="95.1" cy="229.3" r="0.65" fill="#eef2d8"/>
<circle cx="105.1" cy="240.3" r="0.65" fill="#61c95f"/>
<circle cx="100.8" cy="239.0" r="0.65" fill="#5fc860"/>
<circle cx="108.7" cy="221.3" r="0.65" fill="#9bd83c"/>
<circle cx="95.2" cy="236.4" r="0.65" fill="#b1dc2e"/>
<circle cx="108.3" cy="222.3" r="0.65" fill="#5ec861"/>
<circle cx="105.1" cy="221.1" r="0.65" fill="#addc30"/>
<circle cx="99.6" cy="228.3" r="0.65" fill="#eef2d8"/>
<circle cx="107.8" cy="228.1" r="0.65" fill="#21a584"/>
<circle cx="100.4" cy="234.1" r="0.65" fill="#a5db35"/>
<circle cx="93.6" cy="228.4" r="0.65" fill="#dbe31d"/>
<circle cx="104.6" cy="221.2" r="0.65" fill="#64ca5e"/>
<circle cx="100.3" cy="217.5" r="0.65" fill="#267e8e"/>
<circle cx="103.1" cy="219.9" r="0.65" fill="#eef2d8"/>
<circle cx="94.3" cy="220.8" r="0.65" fill="#8ed543"/>
<circle cx="102.8" cy="221.0" r="0.65" fill="#78d051"/>
<circle cx="100.4" cy="220.4" r="0.65" fill="#6acc5a"/>
<circle cx="109.1" cy="230.4" r="0.65" fill="#bdde27"/>
<circle cx="112.6" cy="235.1" r="0.65" fill="#83d34b"/>
<circle cx="105.2" cy="221.3" r="0.65" fill="#b4dd2c"/>
<circle cx="91.3" cy="229.1" r="0.65" fill="#eef2d8"/>
<circle cx="101.6" cy="230.5" r="0.65" fill="#81d24c"/>
<circle cx="102.6" cy="218.3" r="0.65" fill="#7cd14f"/>
<circle cx="97.7" cy="235.4" r="0.65" fill="#8dd544"/>
<circle cx="107.9" cy="219.4" r="0.65" fill="#64ca5e"/>
<circle cx="110.9" cy="228.2" r="0.65" fill="#cee11c"/>
<circle cx="104.4" cy="226.7" r="0.65" fill="#20938b"/>
<circle cx="109.9" cy="228.3" r="0.65" fill="#82d24b"/>
<circle cx="113.3" cy="234.0" r="0.65" fill="#9ed939"/>
<circle cx="111.5" cy="222.3" r="0.65" fill="#c1df25"/>
<circle cx="107.1" cy="221.1" r="0.65" fill="#5ac664"/>
<circle cx="108.4" cy="221.9" r="0.65" fill="#5cc763"/>
<circle cx="93.2" cy="229.0" r="0.65" fill="#24a982"/>
<circle cx="94.9" cy="236.6" r="0.65" fill="#85d34a"/>
<circle cx="95.9" cy="218.3" r="0.65" fill="#63c95e"/>
<circle cx="98.6" cy="237.6" r="0.65" fill="#eef2d8"/>
<circle cx="111.2" cy="230.5" r="0.65" fill="#8ad446"/>
<circle cx="95.2" cy="234.4" r="0.65" fill="#6dcd58"/>
<circle cx="114.3" cy="229.2" r="0.65" fill="#8dd544"/>
<circle cx="94.8" cy="236.6" r="0.65" fill="#65ca5d"/>
<circle cx="109.3" cy="231.3" r="0.65" fill="#5dc862"/>
<circle cx="111.0" cy="220.9" r="0.65" fill="#a3da36"/>
<circle cx="98.2" cy="229.0" r="0.65" fill="#eef2d8"/>
<circle cx="99.6" cy="235.4" r="0.65" fill="#228a8d"/>
<circle cx="100.0" cy="230.0" r="0.65" fill="#63ca5e"/>
<circle cx="100.3" cy="221.3" r="0.65" fill="#72ce55"/>
<circle cx="97.0" cy="236.1" r="0.65" fill="#efe521"/>
<circle cx="102.1" cy="234.9" r="0.65" fill="#eae420"/>
<circle cx="106.8" cy="223.3" r="0.65" fill="#7cd14f"/>
<circle cx="111.4" cy="225.1" r="0.65" fill="#93d641"/>
<circle cx="92.2" cy="225.6" r="0.65" fill="#70ce56"/>
<circle cx="100.3" cy="240.1" r="0.65" fill="#8ad446"/>
<circle cx="97.6" cy="238.0" r="0.65" fill="#23a983"/>
<circle cx="107.9" cy="225.5" r="0.65" fill="#cde11d"/>
<circle cx="110.6" cy="222.1" r="0.65" fill="#e6e41f"/>
<circle cx="103.0" cy="226.9" r="0.65" fill="#86d349"/>
<circle cx="101.1" cy="239.7" r="0.65" fill="#e2e31e"/>
<circle cx="107.2" cy="228.7" r="0.65" fill="#c2df24"/>
<circle cx="92.3" cy="224.6" r="0.65" fill="#d8e21c"/>
<circle cx="99.6" cy="219.2" r="0.65" fill="#6bcc59"/>
<circle cx="96.3" cy="222.8" r="0.65" fill="#20a186"/>
<circle cx="100.2" cy="235.3" r="0.65" fill="#8dd544"/>
<circle cx="113.4" cy="234.0" r="0.65" fill="#eee521"/>
<circle cx="100.4" cy="225.2" r="0.65" fill="#e1e31e"/>
<circle cx="107.4" cy="228.8" r="0.65" fill="#d6e21c"/>
<circle cx="96.8" cy="235.2" r="0.65" fill="#6bcc59"/>
<circle cx="100.7" cy="229.1" r="0.65" fill="#7ad150"/>
<circle cx="111.4" cy="224.1" r="0.65" fill="#76cf53"/>
<circle cx="108.9" cy="225.3" r="0.65" fill="#e3e41f"/>
<circle cx="95.8" cy="225.7" r="0.65" fill="#a6db34"/>
<circle cx="105.1" cy="230.9" r="0.65" fill="#23878e"/>
<circle cx="111.0" cy="223.9" r="0.65" fill="#8dd544"/>
<circle cx="97.8" cy="227.9" r="0.65" fill="#9dd93a"/>
<circle cx="96.0" cy="226.1" r="0.65" fill="#21a684"/>
<circle cx="94.4" cy="229.6" r="0.65" fill="#66ca5c"/>
<circle cx="94.8" cy="222.0" r="0.65" fill="#267f8e"/>
<circle cx="96.0" cy="230.7" r="0.65" fill="#84d34a"/>
<circle cx="103.2" cy="219.2" r="0.65" fill="#e8e420"/>
<circle cx="109.2" cy="219.9" r="0.65" fill="#d1e11b"/>
<circle cx="92.7" cy="224.7" r="0.65" fill="#aedc30"/>
<circle cx="98.9" cy="221.1" r="0.65" fill="#20908c"/>
<circle cx="101.1" cy="220.2" r="0.65" fill="#80d24c"/>
<circle cx="107.2" cy="238.9" r="0.65" fill="#21a386"/>
<circle cx="97.7" cy="217.7" r="0.65" fill="#9bd83c"/>
<circle cx="109.2" cy="230.9" r="0.65" fill="#24a982"/>
<circle cx="100.9" cy="223.0" r="0.65" fill="#bcde27"/>
<circle cx="105.1" cy="234.4" r="0.65" fill="#7bd150"/>
<circle cx="110.7" cy="225.1" r="0.65" fill="#61c95f"/>
<circle cx="107.1" cy="223.2" r="0.65" fill="#9ed939"/>
<circle cx="110.0" cy="227.4" r="0.65" fill="#97d73e"/>
<circle cx="102.2" cy="236.7" r="0.65" fill="#26808e"/>
<circle cx="107.2" cy="219.9" r="0.65" fill="#b9de29"/>
<circle cx="103.0" cy="235.6" r="0.65" fill="#d3e21b"/>
<circle cx="104.7" cy="221.9" r="0.65" fill="#d8e21c"/>
<circle cx="104.2" cy="239.4" r="0.65" fill="#59c664"/>
<circle cx="103.7" cy="233.4" r="0.65" fill="#a9db33"/>
<circle cx="107.8" cy="223.1" r="0.65" fill="#acdc31"/>
<circle cx="97.6" cy="223.4" r="0.65" fill="#96d73e"/>
<circle cx="103.6" cy="220.7" r="0.65" fill="#98d83d"/>
<circle cx="101.9" cy="221.6" r="0.65" fill="#287b8e"/>
<circle cx="110.6" cy="220.7" r="0.65" fill="#287b8e"/>
<circle cx="112.0" cy="225.5" r="0.65" fill="#d7e21c"/>
<circle cx="94.6" cy="220.8" r="0.65" fill="#60c860"/>
<circle cx="93.1" cy="227.8" r="0.65" fill="#eef2d8"/>
<circle cx="111.5" cy="224.5" r="0.65" fill="#c0df25"/>
<circle cx="100.2" cy="218.7" r="0.65" fill="#b1dc2e"/>
<circle cx="106.1" cy="232.2" r="0.65" fill="#65ca5d"/>
<circle cx="109.8" cy="227.3" r="0.65" fill="#a7db34"/>
<circle cx="107.4" cy="236.8" r="0.65" fill="#20908c"/>
<circle cx="95.3" cy="220.8" r="0.65" fill="#e9e420"/>
<circle cx="114.3" cy="228.2" r="0.65" fill="#dbe31d"/>
<circle cx="98.8" cy="218.0" r="0.65" fill="#b0dc2e"/>
<circle cx="111.3" cy="236.0" r="0.65" fill="#bdde27"/>
<circle cx="95.2" cy="218.8" r="0.65" fill="#74cf54"/>
<circle cx="108.0" cy="219.5" r="0.65" fill="#83d34b"/>
<circle cx="98.5" cy="232.5" r="0.65" fill="#cfe11c"/>
<circle cx="99.8" cy="239.4" r="0.65" fill="#a7db34"/>
<circle cx="108.7" cy="221.5" r="0.65" fill="#cee11c"/>
<circle cx="98.7" cy="218.0" r="0.65" fill="#c5e022"/>
<circle cx="103.9" cy="223.0" r="0.65" fill="#9fd939"/>
<circle cx="98.6" cy="224.4" r="0.65" fill="#209e88"/>
<circle cx="104.7" cy="229.8" r="0.65" fill="#efe521"/>
<circle cx="99.5" cy="230.2" r="0.65" fill="#eef2d8"/>
<circle cx="104.1" cy="225.1" r="0.65" fill="#74cf54"/>
<circle cx="96.6" cy="233.1" r="0.65" fill="#a2da37"/>
<circle cx="96.6" cy="230.8" r="0.65" fill="#69cb5a"/>
<circle cx="102.2" cy="226.3" r="0.65" fill="#8cd545"/>
<circle cx="109.8" cy="232.2" r="0.65" fill="#6acc5a"/>
<circle cx="101.5" cy="236.2" r="0.65" fill="#71ce56"/>
<circle cx="102.3" cy="220.8" r="0.65" fill="#dce31d"/>
<circle cx="106.4" cy="221.5" r="0.65" fill="#cfe11c"/>
<circle cx="99.2" cy="234.0" r="0.65" fill="#dbe31d"/>
<circle cx="99.3" cy="235.2" r="0.65" fill="#20918c"/>
<circle cx="104.2" cy="226.4" r="0.65" fill="#73ce55"/>
<circle cx="104.2" cy="231.7" r="0.65" fill="#a6db34"/>
<circle cx="99.8" cy="230.8" r="0.65" fill="#20908c"/>
<circle cx="114.1" cy="231.5" r="0.65" fill="#addc31"/>
<circle cx="92.0" cy="226.0" r="0.65" fill="#27ac80"/>
<circle cx="102.3" cy="232.2" r="0.65" fill="#61c95f"/>
<circle cx="100.1" cy="225.8" r="0.65" fill="#dee31d"/>
<circle cx="108.2" cy="227.3" r="0.65" fill="#d4e21b"/>
<circle cx="96.7" cy="222.8" r="0.65" fill="#b9de29"/>
<circle cx="94.8" cy="219.4" r="0.65" fill="#f0e521"/>
<circle cx="91.2" cy="229.7" r="0.65" fill="#a5db35"/>
<circle cx="103.3" cy="217.7" r="0.65" fill="#218d8c"/>
<circle cx="94.2" cy="225.0" r="0.65" fill="#eef2d8"/>
<circle cx="111.1" cy="226.8" r="0.65" fill="#e1e31e"/>
<circle cx="104.3" cy="232.7" r="0.65" fill="#c1df24"/>
<circle cx="108.1" cy="223.8" r="0.65" fill="#a8db33"/>
<circle cx="99.4" cy="225.4" r="0.65" fill="#a1da38"/>
<circle cx="93.7" cy="231.7" r="0.65" fill="#20908c"/>
<circle cx="110.3" cy="234.6" r="0.65" fill="#85d349"/>
<circle cx="95.5" cy="219.3" r="0.65" fill="#d9e21c"/>
<circle cx="104.8" cy="238.6" r="0.65" fill="#20938b"/>
<circle cx="95.3" cy="220.3" r="0.65" fill="#cee11d"/>
<circle cx="106.2" cy="219.8" r="0.65" fill="#72ce55"/>
<circle cx="100.8" cy="228.3" r="0.65" fill="#89d447"/>
<circle cx="108.9" cy="238.6" r="0.65" fill="#70ce56"/>
<circle cx="102.4" cy="220.8" r="0.65" fill="#e3e41f"/>
<circle cx="106.1" cy="233.8" r="0.65" fill="#a6db35"/>
<circle cx="101.4" cy="234.5" r="0.65" fill="#21a784"/>
<circle cx="95.0" cy="234.1" r="0.65" fill="#b6dd2b"/>
<circle cx="96.6" cy="223.8" r="0.65" fill="#76cf53"/>
<circle cx="93.6" cy="234.9" r="0.65" fill="#8ad446"/>
<circle cx="94.2" cy="222.0" r="0.65" fill="#ece521"/>
<circle cx="106.4" cy="234.9" r="0.65" fill="#81d24c"/>
<circle cx="93.4" cy="221.8" r="0.65" fill="#89d447"/>
<circle cx="102.3" cy="229.1" r="0.65" fill="#dee31d"/>
<circle cx="106.9" cy="231.0" r="0.65" fill="#77d052"/>
<circle cx="110.2" cy="222.1" r="0.65" fill="#d1e11b"/>
<circle cx="105.7" cy="218.8" r="0.65" fill="#9bd83c"/>
<circle cx="102.4" cy="225.9" r="0.65" fill="#c8e020"/>
<circle cx="109.4" cy="222.4" r="0.65" fill="#63c95e"/>
<circle cx="97.9" cy="229.5" r="0.65" fill="#20928c"/>
<circle cx="95.1" cy="236.8" r="0.65" fill="#cbe01e"/>
<circle cx="110.4" cy="233.3" r="0.65" fill="#c7e021"/>
<circle cx="99.4" cy="219.9" r="0.65" fill="#9cd93b"/>
<circle cx="108.3" cy="219.8" r="0.65" fill="#67cb5c"/>
<circle cx="110.5" cy="222.7" r="0.65" fill="#218d8d"/>
<circle cx="113.9" cy="225.9" r="0.65" fill="#21a784"/>
<circle cx="103.7" cy="240.3" r="0.65" fill="#efe521"/>
<circle cx="97.4" cy="231.0" r="0.65" fill="#5ac763"/>
<circle cx="104.2" cy="234.7" r="0.65" fill="#60c860"/>
<circle cx="105.7" cy="232.6" r="0.65" fill="#78d052"/>
<circle cx="96.6" cy="232.8" r="0.65" fill="#ebe420"/>
<circle cx="103.7" cy="239.6" r="0.65" fill="#6ecd57"/>
<circle cx="93.3" cy="229.4" r="0.65" fill="#d9e21c"/>
<circle cx="96.0" cy="232.0" r="0.65" fill="#228b8d"/>
<circle cx="98.7" cy="223.0" r="0.65" fill="#7cd14f"/>
<circle cx="93.0" cy="222.5" r="0.65" fill="#6acc5a"/>
<circle cx="106.9" cy="226.5" r="0.65" fill="#bbde28"/>
<circle cx="102.7" cy="226.2" r="0.65" fill="#73ce54"/>
<circle cx="101.2" cy="230.4" r="0.65" fill="#95d73f"/>
<circle cx="106.7" cy="236.4" r="0.65" fill="#cbe11e"/>
<circle cx="108.1" cy="235.9" r="0.65" fill="#b9de29"/>
<circle cx="94.0" cy="231.1" r="0.65" fill="#eef2d8"/>
<circle cx="98.6" cy="236.9" r="0.65" fill="#21a485"/>
<circle cx="103.0" cy="224.4" r="0.65" fill="#20a087"/>
<circle cx="97.4" cy="221.2" r="0.65" fill="#26808e"/>
<circle cx="107.3" cy="235.2" r="0.65" fill="#cae01f"/>
<circle cx="112.6" cy="233.0" r="0.65" fill="#8dd544"/>
<circle cx="113.2" cy="225.9" r="0.65" fill="#72ce55"/>
<circle cx="112.2" cy="232.3" r="0.65" fill="#eef2d8"/>
<circle cx="97.6" cy="223.6" r="0.65" fill="#6acc5a"/>
<circle cx="93.0" cy="230.4" r="0.65" fill="#ede521"/>
<circle cx="103.9" cy="227.3" r="0.65" fill="#8ad446"/>
<circle cx="113.8" cy="228.2" r="0.65" fill="#84d34a"/>
<circle cx="106.2" cy="234.5" r="0.65" fill="#c1df24"/>
<circle cx="101.5" cy="217.0" r="0.65" fill="#eef2d8"/>
<circle cx="106.8" cy="218.2" r="0.65" fill="#a8db33"/>
<circle cx="99.4" cy="234.3" r="0.65" fill="#c2df24"/>
<circle cx="106.9" cy="231.0" r="0.65" fill="#5dc861"/>
<circle cx="108.6" cy="221.8" r="0.65" fill="#cce11e"/>
<circle cx="96.1" cy="221.0" r="0.65" fill="#cae01f"/>
<circle cx="103.0" cy="237.7" r="0.65" fill="#5fc861"/>
<circle cx="100.6" cy="217.6" r="0.65" fill="#a7db34"/>
<circle cx="94.8" cy="219.9" r="0.65" fill="#21a585"/>
<circle cx="114.4" cy="228.2" r="0.65" fill="#a1da38"/>
<circle cx="110.0" cy="238.5" r="0.65" fill="#d6e21b"/>
<circle cx="103.2" cy="231.1" r="0.65" fill="#eae420"/>
<circle cx="95.9" cy="221.7" r="0.65" fill="#1f958b"/>
<circle cx="105.0" cy="234.4" r="0.65" fill="#6fcd57"/>
<circle cx="93.0" cy="222.8" r="0.65" fill="#cfe11c"/>
<circle cx="95.5" cy="222.2" r="0.65" fill="#ede521"/>
<circle cx="103.5" cy="230.9" r="0.65" fill="#e7e420"/>
<circle cx="98.5" cy="231.3" r="0.65" fill="#277e8e"/>
<circle cx="112.8" cy="227.3" r="0.65" fill="#aedc30"/>
<circle cx="109.1" cy="237.2" r="0.65" fill="#5dc862"/>
<circle cx="112.8" cy="226.5" r="0.65" fill="#8fd643"/>
<circle cx="110.3" cy="230.4" r="0.65" fill="#63c95e"/>
<circle cx="107.4" cy="220.3" r="0.65" fill="#acdc31"/>
<circle cx="99.3" cy="233.9" r="0.65" fill="#5dc862"/>
<circle cx="96.2" cy="230.4" r="0.65" fill="#a0da38"/>
<circle cx="111.2" cy="237.6" r="0.65" fill="#a9db33"/>
<circle cx="100.7" cy="225.1" r="0.65" fill="#9fd939"/>
<circle cx="108.8" cy="236.3" r="0.65" fill="#277e8e"/>
<circle cx="107.3" cy="229.7" r="0.65" fill="#1f948b"/>
<circle cx="106.8" cy="230.6" r="0.65" fill="#eef2d8"/>
<circle cx="108.7" cy="231.5" r="0.65" fill="#b4dd2c"/>
<circle cx="110.9" cy="227.7" r="0.65" fill="#e5e41f"/>
<circle cx="109.7" cy="220.3" r="0.65" fill="#96d73f"/>
<circle cx="97.1" cy="237.3" r="0.65" fill="#b4dd2c"/>
<circle cx="92.8" cy="225.5" r="0.65" fill="#ece521"/>
<circle cx="99.6" cy="226.0" r="0.65" fill="#b1dc2e"/>
<circle cx="110.3" cy="231.1" r="0.65" fill="#69cb5b"/>
<circle cx="109.8" cy="225.6" r="0.65" fill="#eef2d8"/>
<circle cx="100.9" cy="229.2" r="0.65" fill="#64ca5e"/>
<circle cx="106.5" cy="232.8" r="0.65" fill="#cae01f"/>
<circle cx="102.6" cy="217.6" r="0.65" fill="#cfe11c"/>
<circle cx="102.5" cy="224.8" r="0.65" fill="#eef2d8"/>
<circle cx="94.9" cy="220.3" r="0.65" fill="#c6e021"/>
<circle cx="107.0" cy="224.0" r="0.65" fill="#218e8c"/>
<circle cx="111.2" cy="234.3" r="0.65" fill="#25818e"/>
<circle cx="108.6" cy="219.8" r="0.65" fill="#cde11d"/>
<circle cx="92.1" cy="231.7" r="0.65" fill="#b5dd2c"/>
<circle cx="97.1" cy="220.0" r="0.65" fill="#20918c"/>
<circle cx="96.3" cy="237.0" r="0.65" fill="#b2dd2d"/>
<circle cx="104.4" cy="233.9" r="0.65" fill="#c9e01f"/>
<circle cx="107.1" cy="227.5" r="0.65" fill="#b0dc2e"/>
<circle cx="105.2" cy="229.9" r="0.65" fill="#9bd83b"/>
<circle cx="95.4" cy="232.9" r="0.65" fill="#6bcc59"/>
<circle cx="105.1" cy="234.1" r="0.65" fill="#74cf54"/>
<circle cx="97.3" cy="239.0" r="0.65" fill="#ece521"/>
<circle cx="98.1" cy="238.2" r="0.65" fill="#93d640"/>
<circle cx="95.5" cy="236.0" r="0.65" fill="#a0d938"/>
<circle cx="96.6" cy="229.2" r="0.65" fill="#eef2d8"/>
<circle cx="103.2" cy="239.8" r="0.65" fill="#dde31d"/>
<circle cx="107.9" cy="230.8" r="0.65" fill="#9cd83b"/>
<circle cx="108.7" cy="230.8" r="0.65" fill="#c8e020"/>
<circle cx="104.6" cy="221.6" r="0.65" fill="#75cf53"/>
<circle cx="95.9" cy="232.1" r="0.65" fill="#cee11c"/>
<circle cx="108.7" cy="235.3" r="0.65" fill="#6ecd57"/>
<circle cx="96.3" cy="237.4" r="0.65" fill="#64ca5e"/>
<circle cx="105.0" cy="240.0" r="0.65" fill="#e4e41f"/>
<circle cx="98.4" cy="232.5" r="0.65" fill="#267f8e"/>
<circle cx="114.3" cy="227.7" r="0.65" fill="#e3e41f"/>
<circle cx="105.8" cy="230.4" r="0.65" fill="#bbde28"/>
<circle cx="101.4" cy="218.5" r="0.65" fill="#27ac80"/>
<circle cx="109.2" cy="238.9" r="0.65" fill="#d6e21c"/>
<circle cx="107.7" cy="225.8" r="0.65" fill="#1f9a89"/>
<circle cx="112.7" cy="222.6" r="0.65" fill="#eef2d8"/>
<circle cx="111.1" cy="232.7" r="0.65" fill="#d1e11b"/>
<circle cx="99.3" cy="239.6" r="0.65" fill="#a8db33"/>
<circle cx="109.8" cy="232.1" r="0.65" fill="#70ce56"/>
<circle cx="95.5" cy="219.0" r="0.65" fill="#a5db35"/>
<circle cx="100.8" cy="233.0" r="0.65" fill="#63c95e"/>
<circle cx="96.9" cy="234.7" r="0.65" fill="#6ccc59"/>
<circle cx="92.1" cy="231.5" r="0.65" fill="#5cc762"/>
<circle cx="109.6" cy="219.6" r="0.65" fill="#cbe01e"/>
<circle cx="109.4" cy="226.6" r="0.65" fill="#e0e31e"/>
<circle cx="108.7" cy="226.6" r="0.65" fill="#eef2d8"/>
<circle cx="104.8" cy="239.1" r="0.65" fill="#61c960"/>
<circle cx="107.2" cy="235.2" r="0.65" fill="#7cd14f"/>
<circle cx="112.1" cy="225.7" r="0.65" fill="#209d88"/>
<circle cx="108.4" cy="234.7" r="0.65" fill="#20918c"/>
<circle cx="93.5" cy="228.0" r="0.65" fill="#59c664"/>
<circle cx="94.7" cy="231.4" r="0.65" fill="#c4df23"/>
<circle cx="96.3" cy="237.6" r="0.65" fill="#e2e31e"/>
<circle cx="96.4" cy="218.1" r="0.65" fill="#d2e21b"/>
<circle cx="95.5" cy="222.6" r="0.65" fill="#287b8e"/>
<circle cx="100.5" cy="233.8" r="0.65" fill="#5fc861"/>
<circle cx="106.1" cy="219.3" r="0.65" fill="#23858e"/>
<circle cx="103.3" cy="230.4" r="0.65" fill="#74cf54"/>
<circle cx="96.7" cy="227.7" r="0.65" fill="#a1da38"/>
<circle cx="94.9" cy="219.7" r="0.65" fill="#218f8c"/>
<circle cx="92.6" cy="224.1" r="0.65" fill="#20a186"/>
<circle cx="95.9" cy="218.7" r="0.65" fill="#61c95f"/>
<circle cx="107.2" cy="220.6" r="0.65" fill="#60c960"/>
<circle cx="99.7" cy="219.3" r="0.65" fill="#bbde28"/>
<circle cx="113.0" cy="230.6" r="0.65" fill="#24838e"/>
<circle cx="107.1" cy="237.3" r="0.65" fill="#209e88"/>
<circle cx="111.8" cy="235.7" r="0.65" fill="#5bc763"/>
<circle cx="103.7" cy="223.2" r="0.65" fill="#228b8d"/>
<circle cx="103.5" cy="222.3" r="0.65" fill="#8bd546"/>
<circle cx="99.7" cy="237.1" r="0.65" fill="#7fd24d"/>
<circle cx="111.2" cy="224.2" r="0.65" fill="#ede521"/>
<circle cx="100.7" cy="233.1" r="0.65" fill="#e6e41f"/>
<circle cx="102.1" cy="219.6" r="0.65" fill="#e9e420"/>
<circle cx="94.6" cy="233.8" r="0.65" fill="#76cf53"/>
<circle cx="96.5" cy="222.8" r="0.65" fill="#d5e21b"/>
<circle cx="99.5" cy="229.4" r="0.65" fill="#21a386"/>
<circle cx="110.2" cy="227.7" r="0.65" fill="#63c95e"/>
<circle cx="98.1" cy="226.8" r="0.65" fill="#eef2d8"/>
<circle cx="113.2" cy="223.8" r="0.65" fill="#a9db33"/>
<circle cx="93.3" cy="222.2" r="0.65" fill="#efe521"/>
<circle cx="97.5" cy="227.5" r="0.65" fill="#22a883"/>
<circle cx="102.6" cy="217.5" r="0.65" fill="#9ed939"/>
<circle cx="94.1" cy="229.3" r="0.65" fill="#20908c"/>
<circle cx="109.3" cy="233.3" r="0.65" fill="#c8e020"/>
<circle cx="109.8" cy="235.8" r="0.65" fill="#eef2d8"/>
<circle cx="101.0" cy="224.8" r="0.65" fill="#7cd14f"/>
<circle cx="98.8" cy="234.3" r="0.65" fill="#ebe420"/>
<circle cx="97.9" cy="234.3" r="0.65" fill="#d6e21c"/>
<circle cx="105.7" cy="236.0" r="0.65" fill="#eae420"/>
<circle cx="103.2" cy="219.4" r="0.65" fill="#cae01f"/>
<circle cx="112.5" cy="227.9" r="0.65" fill="#a9db33"/>
<circle cx="103.3" cy="238.3" r="0.65" fill="#6fcd57"/>
<circle cx="98.8" cy="236.0" r="0.65" fill="#69cb5a"/>
<circle cx="106.1" cy="223.3" r="0.65" fill="#67cb5c"/>
<circle cx="111.3" cy="225.7" r="0.65" fill="#5ac763"/>
<circle cx="96.4" cy="218.3" r="0.65" fill="#7ad150"/>
<circle cx="101.9" cy="232.6" r="0.65" fill="#eef2d8"/>
<circle cx="106.4" cy="240.2" r="0.65" fill="#72ce55"/>
<circle cx="104.4" cy="227.9" r="0.65" fill="#e7e420"/>
<circle cx="100.7" cy="237.6" r="0.65" fill="#eae420"/>
<circle cx="114.1" cy="230.2" r="0.65" fill="#6ecd57"/>
<circle cx="110.4" cy="221.5" r="0.65" fill="#ebe420"/>
<circle cx="91.7" cy="227.5" r="0.65" fill="#a3da36"/>
<circle cx="106.6" cy="220.8" r="0.65" fill="#e8e420"/>
<circle cx="105.7" cy="223.7" r="0.65" fill="#6dcd58"/>
<circle cx="94.7" cy="228.4" r="0.65" fill="#7dd14e"/>
<circle cx="110.6" cy="233.1" r="0.65" fill="#1f998a"/>
<circle cx="96.8" cy="234.3" r="0.65" fill="#20938b"/>
<circle cx="92.6" cy="231.9" r="0.65" fill="#81d24c"/>
<circle cx="97.2" cy="228.9" r="0.65" fill="#89d447"/>
<circle cx="101.8" cy="238.0" r="0.65" fill="#23878e"/>
<circle cx="98.7" cy="235.5" r="0.65" fill="#6ccc59"/>
<circle cx="105.5" cy="223.5" r="0.65" fill="#b0dc2f"/>
<circle cx="110.2" cy="225.3" r="0.65" fill="#69cb5b"/>
<circle cx="94.9" cy="230.0" r="0.65" fill="#96d73f"/>
<circle cx="98.1" cy="232.9" r="0.65" fill="#bbde28"/>
<circle cx="108.5" cy="225.7" r="0.65" fill="#88d447"/>
<circle cx="101.3" cy="225.8" r="0.65" fill="#eef2d8"/>
<circle cx="101.1" cy="238.8" r="0.65" fill="#209e88"/>
<circle cx="93.5" cy="233.1" r="0.65" fill="#62c95f"/>
<circle cx="95.6" cy="219.2" r="0.65" fill="#aadb32"/>
<circle cx="96.6" cy="225.5" r="0.65" fill="#cfe11c"/>
<circle cx="106.5" cy="238.2" r="0.65" fill="#c2df24"/>
<circle cx="97.1" cy="228.5" r="0.65" fill="#e0e31e"/>
<circle cx="93.4" cy="221.6" r="0.65" fill="#5dc762"/>
<circle cx="108.2" cy="232.1" r="0.65" fill="#24848e"/>
<circle cx="101.5" cy="234.6" r="0.65" fill="#76d052"/>
<circle cx="97.3" cy="238.9" r="0.65" fill="#d1e11b"/>
<circle cx="102.3" cy="233.3" r="0.65" fill="#70cd57"/>
<circle cx="106.7" cy="221.5" r="0.65" fill="#22a883"/>
<circle cx="111.8" cy="234.6" r="0.65" fill="#1f958b"/>
<circle cx="106.8" cy="226.2" r="0.65" fill="#1f9b89"/>
<circle cx="105.5" cy="218.8" r="0.65" fill="#c8e020"/>
<circle cx="112.1" cy="234.4" r="0.65" fill="#c7e021"/>
<circle cx="97.0" cy="226.2" r="0.65" fill="#c9e020"/>
<circle cx="103.5" cy="239.9" r="0.65" fill="#5ec861"/>
<circle cx="110.5" cy="220.7" r="0.65" fill="#a2da37"/>
<circle cx="109.3" cy="223.2" r="0.65" fill="#80d24c"/>
<circle cx="109.1" cy="236.4" r="0.65" fill="#b9de29"/>
<circle cx="97.8" cy="218.0" r="0.65" fill="#ebe420"/>
<circle cx="112.5" cy="225.3" r="0.65" fill="#cae01f"/>
<circle cx="108.3" cy="236.0" r="0.65" fill="#1f9c89"/>
<circle cx="113.3" cy="231.3" r="0.65" fill="#aedc30"/>
<circle cx="103.3" cy="226.0" r="0.65" fill="#d9e21c"/>
<circle cx="110.6" cy="236.2" r="0.65" fill="#8cd545"/>
<circle cx="109.7" cy="224.0" r="0.65" fill="#8ad446"/>
<circle cx="100.2" cy="224.1" r="0.65" fill="#66ca5c"/>
<circle cx="98.3" cy="228.3" r="0.65" fill="#acdc31"/>
<circle cx="103.0" cy="228.6" r="0.65" fill="#85d349"/>
<circle cx="109.5" cy="224.3" r="0.65" fill="#21a286"/>
<circle cx="98.8" cy="226.2" r="0.65" fill="#98d73e"/>
<circle cx="107.5" cy="234.1" r="0.65" fill="#e0e31e"/>
<circle cx="101.8" cy="231.0" r="0.65" fill="#a6db34"/>
<circle cx="111.6" cy="230.1" r="0.65" fill="#eef2d8"/>
<circle cx="99.9" cy="222.0" r="0.65" fill="#c1df24"/>
<circle cx="98.6" cy="219.7" r="0.65" fill="#eef2d8"/>
<circle cx="102.9" cy="224.7" r="0.65" fill="#a6db35"/>
<circle cx="97.4" cy="225.9" r="0.65" fill="#7fd24d"/>
<circle cx="111.0" cy="221.7" r="0.65" fill="#d7e21c"/>
<circle cx="110.7" cy="229.8" r="0.65" fill="#eee521"/>
<circle cx="102.3" cy="236.9" r="0.65" fill="#d7e21c"/>
<circle cx="92.5" cy="229.4" r="0.65" fill="#cbe01f"/>
<circle cx="110.8" cy="234.7" r="0.65" fill="#a2da37"/>
<circle cx="101.2" cy="223.8" r="0.65" fill="#6acc5a"/>
<circle cx="100.6" cy="232.3" r="0.65" fill="#dce31d"/>
<circle cx="96.9" cy="225.2" r="0.65" fill="#afdc2f"/>
<circle cx="98.3" cy="217.6" r="0.65" fill="#9fd939"/>
<circle cx="102.0" cy="237.0" r="0.65" fill="#b2dd2d"/>
<circle cx="110.6" cy="227.7" r="0.65" fill="#218d8d"/>
<circle cx="101.9" cy="232.3" r="0.65" fill="#68cb5b"/>
<circle cx="97.2" cy="232.4" r="0.65" fill="#69cb5b"/>
<circle cx="97.0" cy="225.5" r="0.65" fill="#c1df24"/>
<circle cx="111.6" cy="234.7" r="0.65" fill="#94d740"/>
<circle cx="92.6" cy="233.0" r="0.65" fill="#c9e020"/>
<circle cx="107.8" cy="222.7" r="0.65" fill="#9ed93a"/>
<circle cx="104.1" cy="239.9" r="0.65" fill="#eae420"/>
<circle cx="107.2" cy="233.5" r="0.65" fill="#eee521"/>
<circle cx="105.3" cy="235.8" r="0.65" fill="#d3e21b"/>
<circle cx="103.2" cy="220.1" r="0.65" fill="#22898d"/>
<circle cx="112.8" cy="229.1" r="0.65" fill="#ece521"/>
<circle cx="108.7" cy="237.6" r="0.65" fill="#b0dc2f"/>
<circle cx="95.5" cy="225.0" r="0.65" fill="#a8db33"/>
<circle cx="114.6" cy="229.7" r="0.65" fill="#75cf53"/>
<circle cx="96.4" cy="230.3" r="0.65" fill="#9ad83c"/>
<circle cx="111.8" cy="236.6" r="0.65" fill="#bbde28"/>
<circle cx="103.7" cy="224.5" r="0.65" fill="#6ccc59"/>
<circle cx="104.7" cy="236.6" r="0.65" fill="#c1df24"/>
<circle cx="113.7" cy="228.3" r="0.65" fill="#60c860"/>
<circle cx="107.0" cy="218.9" r="0.65" fill="#e9e420"/>
<circle cx="103.9" cy="239.8" r="0.65" fill="#58c665"/>
<circle cx="109.6" cy="231.5" r="0.65" fill="#eef2d8"/>
<circle cx="106.3" cy="225.5" r="0.65" fill="#eef2d8"/>
<circle cx="107.9" cy="223.9" r="0.65" fill="#c8e020"/>
<circle cx="103.9" cy="224.7" r="0.65" fill="#7fd24d"/>
<circle cx="103.6" cy="231.5" r="0.65" fill="#e9e420"/>
<circle cx="106.4" cy="223.3" r="0.65" fill="#79d051"/>
<circle cx="99.5" cy="217.4" r="0.65" fill="#a6db35"/>
<circle cx="107.8" cy="221.6" r="0.65" fill="#84d34a"/>
<circle cx="103.4" cy="228.4" r="0.65" fill="#80d24c"/>
<circle cx="102.4" cy="226.6" r="0.65" fill="#a4da36"/>
<circle cx="95.3" cy="231.0" r="0.65" fill="#21a485"/>
<circle cx="108.6" cy="224.9" r="0.65" fill="#9cd93b"/>
<circle cx="106.1" cy="238.5" r="0.65" fill="#97d73e"/>
<circle cx="108.8" cy="236.4" r="0.65" fill="#cae01f"/>
<circle cx="97.2" cy="219.2" r="0.65" fill="#8fd643"/>
<circle cx="107.2" cy="237.3" r="0.65" fill="#8bd446"/>
<circle cx="97.2" cy="218.0" r="0.65" fill="#6acc5a"/>
<circle cx="101.6" cy="237.3" r="0.65" fill="#22888d"/>
<circle cx="111.4" cy="232.4" r="0.65" fill="#bbde28"/>
<circle cx="107.8" cy="222.8" r="0.65" fill="#c3df23"/>
<circle cx="99.4" cy="239.5" r="0.65" fill="#76cf53"/>
<circle cx="99.4" cy="228.1" r="0.65" fill="#58c665"/>
<circle cx="113.7" cy="227.9" r="0.65" fill="#d6e21b"/>
<circle cx="98.4" cy="218.7" r="0.65" fill="#c3df23"/>
<circle cx="110.8" cy="222.1" r="0.65" fill="#e0e31e"/>
<circle cx="103.7" cy="234.5" r="0.65" fill="#92d641"/>
<circle cx="99.6" cy="227.2" r="0.65" fill="#eef2d8"/>
<circle cx="109.2" cy="237.9" r="0.65" fill="#5ac764"/>
<circle cx="101.1" cy="221.1" r="0.65" fill="#62c95e"/>
<circle cx="96.4" cy="233.8" r="0.65" fill="#b6dd2b"/>
<circle cx="102.7" cy="221.0" r="0.65" fill="#b3dd2d"/>
<circle cx="105.2" cy="220.4" r="0.65" fill="#cce11e"/>
<circle cx="96.1" cy="236.1" r="0.65" fill="#cee11c"/>
<circle cx="106.0" cy="221.7" r="0.65" fill="#6dcd58"/>
<circle cx="105.1" cy="225.8" r="0.65" fill="#61c95f"/>
<circle cx="106.7" cy="233.6" r="0.65" fill="#c4df22"/>
<circle cx="99.9" cy="222.9" r="0.65" fill="#d9e21c"/>
<circle cx="95.5" cy="237.7" r="0.65" fill="#eef2d8"/>
<circle cx="110.4" cy="224.1" r="0.65" fill="#63c95e"/>
<circle cx="97.9" cy="233.9" r="0.65" fill="#287b8e"/>
<circle cx="97.9" cy="224.6" r="0.65" fill="#63c95e"/>
<circle cx="104.2" cy="231.4" r="0.65" fill="#82d24b"/>
<circle cx="107.6" cy="230.2" r="0.65" fill="#58c665"/>
<circle cx="99.7" cy="219.5" r="0.65" fill="#dee31d"/>
<circle cx="102.6" cy="240.0" r="0.65" fill="#5cc762"/>
<circle cx="106.6" cy="232.9" r="0.65" fill="#69cb5b"/>
<circle cx="103.8" cy="234.5" r="0.65" fill="#ebe420"/>
<circle cx="110.4" cy="222.0" r="0.65" fill="#bfdf26"/>
<circle cx="91.4" cy="231.1" r="0.65" fill="#c1df24"/>
<circle cx="107.6" cy="238.7" r="0.65" fill="#277e8e"/>
<circle cx="104.1" cy="223.6" r="0.65" fill="#afdc2f"/>
<circle cx="100.4" cy="233.3" r="0.65" fill="#6dcd58"/>
<circle cx="94.3" cy="229.6" r="0.65" fill="#e4e41f"/>
<circle cx="107.2" cy="225.3" r="0.65" fill="#eef2d8"/>
<circle cx="107.4" cy="227.0" r="0.65" fill="#9cd93b"/>
<circle cx="110.8" cy="230.3" r="0.65" fill="#99d83d"/>
<circle cx="95.8" cy="233.2" r="0.65" fill="#20a286"/>
<circle cx="95.6" cy="224.5" r="0.65" fill="#dde31d"/>
<circle cx="110.4" cy="229.7" r="0.65" fill="#218e8c"/>
<circle cx="110.4" cy="223.4" r="0.65" fill="#c7e021"/>
<circle cx="95.4" cy="218.6" r="0.65" fill="#eee521"/>
<circle cx="109.1" cy="232.6" r="0.65" fill="#71ce56"/>
<circle cx="114.6" cy="228.4" r="0.65" fill="#74cf54"/>
<circle cx="103.8" cy="218.1" r="0.65" fill="#5bc763"/>
<circle cx="94.6" cy="225.2" r="0.65" fill="#d0e11b"/>
<circle cx="106.7" cy="226.9" r="0.65" fill="#bdde27"/>
<circle cx="109.1" cy="224.9" r="0.65" fill="#a2da37"/>
<circle cx="104.2" cy="235.4" r="0.65" fill="#24838e"/>
<circle cx="113.7" cy="227.2" r="0.65" fill="#21a784"/>
<circle cx="109.1" cy="236.9" r="0.65" fill="#e3e41f"/>
<circle cx="107.5" cy="232.0" r="0.65" fill="#a0d938"/>
<circle cx="104.5" cy="240.1" r="0.65" fill="#21a485"/>
<circle cx="112.3" cy="229.6" r="0.65" fill="#eef2d8"/>
<circle cx="113.9" cy="230.4" r="0.65" fill="#21a485"/>
<circle cx="113.9" cy="225.9" r="0.65" fill="#6bcc59"/>
<circle cx="102.5" cy="219.5" r="0.65" fill="#addc30"/>
<circle cx="104.6" cy="224.5" r="0.65" fill="#d2e21b"/>
<circle cx="96.5" cy="230.8" r="0.65" fill="#1f968b"/>
<circle cx="106.4" cy="239.4" r="0.65" fill="#23a983"/>
<circle cx="100.9" cy="222.2" r="0.65" fill="#cde11d"/>
<circle cx="101.5" cy="238.1" r="0.65" fill="#b0dc2f"/>
<circle cx="109.2" cy="234.2" r="0.65" fill="#f0e521"/>
<circle cx="96.8" cy="231.8" r="0.65" fill="#91d642"/>
<circle cx="103.2" cy="219.0" r="0.65" fill="#81d24c"/>
<circle cx="108.1" cy="234.0" r="0.65" fill="#25aa82"/>
<circle cx="98.6" cy="220.2" r="0.65" fill="#e1e31e"/>
<circle cx="110.4" cy="220.9" r="0.65" fill="#c4df23"/>
<circle cx="102.7" cy="235.3" r="0.65" fill="#21a386"/>
<circle cx="105.5" cy="222.8" r="0.65" fill="#afdc2f"/>
<circle cx="101.9" cy="234.2" r="0.65" fill="#b6dd2b"/>
<circle cx="112.2" cy="227.3" r="0.65" fill="#a7db34"/>
<circle cx="94.5" cy="220.7" r="0.65" fill="#d1e11b"/>
<circle cx="108.4" cy="229.1" r="0.65" fill="#21a684"/>
<circle cx="95.2" cy="224.4" r="0.65" fill="#228a8d"/>
<circle cx="107.7" cy="235.0" r="0.65" fill="#70ce56"/>
<circle cx="108.3" cy="234.6" r="0.65" fill="#c6e021"/>
<circle cx="98.8" cy="222.5" r="0.65" fill="#62c95f"/>
<circle cx="98.3" cy="235.3" r="0.65" fill="#277e8e"/>
<circle cx="104.5" cy="222.7" r="0.65" fill="#71ce56"/>
<circle cx="93.8" cy="233.9" r="0.65" fill="#acdc31"/>
<circle cx="105.2" cy="219.5" r="0.65" fill="#78d051"/>
<circle cx="102.7" cy="239.8" r="0.65" fill="#72ce55"/>
<circle cx="101.5" cy="234.7" r="0.65" fill="#297a8e"/>
<circle cx="96.7" cy="236.9" r="0.65" fill="#c3df23"/>
<circle cx="101.4" cy="219.8" r="0.65" fill="#d0e11c"/>
<circle cx="92.3" cy="232.7" r="0.65" fill="#62c95f"/>
<circle cx="106.4" cy="225.8" r="0.65" fill="#a8db33"/>
<circle cx="102.3" cy="218.5" r="0.65" fill="#eef2d8"/>
<circle cx="107.5" cy="235.0" r="0.65" fill="#78d051"/>
<circle cx="111.3" cy="222.0" r="0.65" fill="#e5e41f"/>
<circle cx="111.8" cy="230.5" r="0.65" fill="#5bc763"/>
<circle cx="112.4" cy="234.3" r="0.65" fill="#c1df24"/>
<circle cx="104.3" cy="221.5" r="0.65" fill="#a8db33"/>
<circle cx="94.1" cy="220.5" r="0.65" fill="#218c8d"/>
<circle cx="101.9" cy="230.2" r="0.65" fill="#69cb5a"/>
<circle cx="110.0" cy="224.2" r="0.65" fill="#21a386"/>
<circle cx="103.9" cy="234.9" r="0.65" fill="#7ed24e"/>
<circle cx="97.9" cy="226.6" r="0.65" fill="#59c664"/>
<circle cx="97.4" cy="235.7" r="0.65" fill="#209e88"/>
<circle cx="112.1" cy="232.3" r="0.65" fill="#77d052"/>
<circle cx="94.1" cy="224.0" r="0.65" fill="#eae420"/>
<circle cx="105.9" cy="223.9" r="0.65" fill="#e5e41f"/>
<circle cx="99.0" cy="237.5" r="0.65" fill="#21a684"/>
<circle cx="95.2" cy="235.5" r="0.65" fill="#65ca5d"/>
<circle cx="110.2" cy="234.4" r="0.65" fill="#e8e420"/>
<circle cx="93.9" cy="229.2" r="0.65" fill="#61c960"/>
<circle cx="100.2" cy="228.9" r="0.65" fill="#d7e21c"/>
<circle cx="94.1" cy="233.7" r="0.65" fill="#eef2d8"/>
<circle cx="102.7" cy="234.4" r="0.65" fill="#1f9a89"/>
<circle cx="112.9" cy="225.7" r="0.65" fill="#84d34a"/>
<circle cx="109.1" cy="238.3" r="0.65" fill="#eef2d8"/>
<circle cx="99.5" cy="229.8" r="0.65" fill="#eef2d8"/>
<circle cx="99.7" cy="239.8" r="0.65" fill="#a4da36"/>
<circle cx="107.1" cy="235.5" r="0.65" fill="#ede521"/>
<circle cx="98.4" cy="228.3" r="0.65" fill="#75cf53"/>
<circle cx="107.9" cy="226.2" r="0.65" fill="#22898d"/>
<circle cx="107.7" cy="229.7" r="0.65" fill="#e0e31e"/>
<circle cx="97.2" cy="232.3" r="0.65" fill="#e8e420"/>
<circle cx="100.5" cy="226.9" r="0.65" fill="#77d052"/>
<circle cx="96.6" cy="224.2" r="0.65" fill="#cee11d"/>
<circle cx="102.7" cy="226.5" r="0.65" fill="#9dd93a"/>
<circle cx="108.5" cy="223.9" r="0.65" fill="#9ed93a"/>
<circle cx="98.2" cy="233.5" r="0.65" fill="#d5e21b"/>
<circle cx="98.3" cy="239.1" r="0.65" fill="#dbe31d"/>
<circle cx="105.9" cy="236.6" r="0.65" fill="#58c665"/>
<circle cx="101.2" cy="226.1" r="0.65" fill="#73cf54"/>
<circle cx="96.1" cy="231.0" r="0.65" fill="#91d642"/>
<circle cx="114.4" cy="226.8" r="0.65" fill="#7bd14f"/>
<circle cx="106.3" cy="233.7" r="0.65" fill="#6ccc59"/>
<circle cx="108.8" cy="225.9" r="0.65" fill="#a4da36"/>
<circle cx="99.4" cy="238.8" r="0.65" fill="#a5db35"/>
<circle cx="92.5" cy="233.8" r="0.65" fill="#21a485"/>
<circle cx="101.7" cy="225.3" r="0.65" fill="#e8e420"/>
<circle cx="97.2" cy="237.5" r="0.65" fill="#87d448"/>
<circle cx="102.1" cy="228.7" r="0.65" fill="#93d641"/>
<circle cx="98.9" cy="221.0" r="0.65" fill="#5cc762"/>
<circle cx="92.9" cy="231.0" r="0.65" fill="#aedc30"/>
<circle cx="98.4" cy="220.6" r="0.65" fill="#64ca5e"/>
<circle cx="102.2" cy="238.9" r="0.65" fill="#e5e41f"/>
<circle cx="105.9" cy="218.9" r="0.65" fill="#d9e21c"/>
<circle cx="112.0" cy="222.4" r="0.65" fill="#d4e21b"/>
<circle cx="98.1" cy="225.5" r="0.65" fill="#afdc2f"/>
<circle cx="96.6" cy="218.2" r="0.65" fill="#85d349"/>
<circle cx="93.3" cy="223.4" r="0.65" fill="#a7db34"/>
<circle cx="101.3" cy="222.0" r="0.65" fill="#66ca5d"/>
<circle cx="111.1" cy="238.0" r="0.65" fill="#86d348"/>
<circle cx="101.4" cy="226.3" r="0.65" fill="#92d641"/>
<circle cx="104.3" cy="236.9" r="0.65" fill="#72ce55"/>
<circle cx="103.2" cy="228.7" r="0.65" fill="#bfdf26"/>
<circle cx="93.2" cy="222.8" r="0.65" fill="#24848e"/>
<circle cx="114.4" cy="228.9" r="0.65" fill="#8bd546"/>
<circle cx="106.3" cy="229.9" r="0.65" fill="#dfe31e"/>
<circle cx="102.3" cy="240.4" r="0.65" fill="#d4e21b"/>
<circle cx="92.9" cy="225.1" r="0.65" fill="#67cb5c"/>
<circle cx="92.1" cy="226.3" r="0.65" fill="#b0dc2f"/>
<circle cx="99.9" cy="233.6" r="0.65" fill="#a9db33"/>
<circle cx="98.6" cy="229.9" r="0.65" fill="#1f9c88"/>
<circle cx="110.4" cy="220.5" r="0.65" fill="#b2dd2e"/>
<circle cx="108.1" cy="218.5" r="0.65" fill="#e5e41f"/>
<circle cx="106.8" cy="239.3" r="0.65" fill="#7dd14e"/>
<circle cx="103.1" cy="224.2" r="0.65" fill="#6fcd57"/>
<circle cx="110.8" cy="227.8" r="0.65" fill="#cee11d"/>
<circle cx="99.1" cy="235.4" r="0.65" fill="#b0dc2f"/>
<circle cx="104.1" cy="231.8" r="0.65" fill="#ede521"/>
<circle cx="95.4" cy="229.7" r="0.65" fill="#1f9b89"/>
<circle cx="96.2" cy="222.7" r="0.65" fill="#72ce55"/>
<circle cx="112.3" cy="230.0" r="0.65" fill="#cbe11e"/>
<circle cx="108.8" cy="232.6" r="0.65" fill="#d1e11b"/>
<circle cx="102.5" cy="234.7" r="0.65" fill="#94d740"/>
<circle cx="100.9" cy="237.3" r="0.65" fill="#218f8c"/>
<circle cx="111.5" cy="234.3" r="0.65" fill="#d8e21c"/>
<circle cx="105.9" cy="231.2" r="0.65" fill="#64ca5d"/>
<circle cx="102.2" cy="229.0" r="0.65" fill="#209e88"/>
<circle cx="102.2" cy="238.1" r="0.65" fill="#d2e21b"/>
<circle cx="108.1" cy="221.2" r="0.65" fill="#eef2d8"/>
<circle cx="101.3" cy="235.6" r="0.65" fill="#218f8c"/>
<circle cx="100.1" cy="235.6" r="0.65" fill="#ece521"/>
<circle cx="111.1" cy="223.2" r="0.65" fill="#9bd83b"/>
<circle cx="105.1" cy="222.3" r="0.65" fill="#d9e21c"/>
<circle cx="91.7" cy="229.0" r="0.65" fill="#287a8e"/>
<circle cx="110.2" cy="219.8" r="0.65" fill="#e7e420"/>
<circle cx="100.1" cy="220.0" r="0.65" fill="#eef2d8"/>
<circle cx="111.9" cy="227.4" r="0.65" fill="#66ca5c"/>
<circle cx="99.4" cy="239.3" r="0.65" fill="#70cd57"/>
<circle cx="113.7" cy="224.9" r="0.65" fill="#eef2d8"/>
<circle cx="105.0" cy="229.0" r="0.65" fill="#24858e"/>
<circle cx="104.2" cy="236.7" r="0.65" fill="#23a983"/>
<circle cx="98.6" cy="219.0" r="0.65" fill="#efe521"/>
<circle cx="98.9" cy="237.0" r="0.65" fill="#88d447"/>
<circle cx="109.4" cy="228.1" r="0.65" fill="#88d448"/>
<circle cx="109.4" cy="228.6" r="0.65" fill="#c2df24"/>
<circle cx="102.0" cy="228.1" r="0.65" fill="#209d88"/>
<circle cx="102.6" cy="239.9" r="0.65" fill="#78d051"/>
<circle cx="97.4" cy="235.1" r="0.65" fill="#228a8d"/>
<circle cx="96.6" cy="229.9" r="0.65" fill="#1f958b"/>
<circle cx="93.6" cy="228.7" r="0.65" fill="#9bd83b"/>
<circle cx="104.3" cy="218.1" r="0.65" fill="#eef2d8"/>
<circle cx="99.4" cy="227.6" r="0.65" fill="#218f8c"/>
<circle cx="112.7" cy="234.7" r="0.65" fill="#8ad446"/>
<circle cx="100.6" cy="235.1" r="0.65" fill="#c9e01f"/>
<circle cx="102.4" cy="220.7" r="0.65" fill="#7ad150"/>
<circle cx="111.7" cy="224.8" r="0.65" fill="#77d052"/>
<circle cx="98.7" cy="235.5" r="0.65" fill="#60c860"/>
<circle cx="98.6" cy="230.6" r="0.65" fill="#cbe11e"/>
<circle cx="92.4" cy="228.6" r="0.65" fill="#73ce55"/>
<circle cx="110.0" cy="227.5" r="0.65" fill="#23868e"/>
<circle cx="101.4" cy="236.2" r="0.65" fill="#20908c"/>
<circle cx="102.6" cy="223.2" r="0.65" fill="#209d88"/>
<circle cx="108.1" cy="238.9" r="0.65" fill="#c4df23"/>
<circle cx="107.4" cy="232.7" r="0.65" fill="#9fd939"/>
<circle cx="97.0" cy="221.4" r="0.65" fill="#26ab81"/>
<circle cx="99.1" cy="233.6" r="0.65" fill="#b9de29"/>
<circle cx="104.9" cy="221.1" r="0.65" fill="#20938b"/>
<circle cx="103.2" cy="225.7" r="0.65" fill="#20a087"/>
<circle cx="93.1" cy="231.3" r="0.65" fill="#e2e31e"/>
<circle cx="110.5" cy="228.7" r="0.65" fill="#21a684"/>
<circle cx="112.3" cy="226.8" r="0.65" fill="#6bcc5a"/>
<circle cx="99.7" cy="220.4" r="0.65" fill="#79d051"/>
<circle cx="110.9" cy="231.7" r="0.65" fill="#6ecd57"/>
<circle cx="95.9" cy="226.4" r="0.65" fill="#9cd93b"/>
<circle cx="94.5" cy="231.0" r="0.65" fill="#9ed93a"/>
<circle cx="95.2" cy="227.9" r="0.65" fill="#cee11c"/>
<circle cx="106.9" cy="218.4" r="0.65" fill="#a9db33"/>
<circle cx="97.5" cy="232.1" r="0.65" fill="#77d052"/>
<circle cx="99.2" cy="225.8" r="0.65" fill="#cee11c"/>
<circle cx="109.9" cy="228.1" r="0.65" fill="#20a186"/>
<circle cx="98.1" cy="232.2" r="0.65" fill="#6ccc58"/>
<circle cx="109.0" cy="220.6" r="0.65" fill="#23868e"/>
<circle cx="95.5" cy="220.0" r="0.65" fill="#ede521"/>
<circle cx="109.3" cy="228.1" r="0.65" fill="#c4df22"/>
<circle cx="99.0" cy="236.6" r="0.65" fill="#24838e"/>
<circle cx="95.2" cy="220.6" r="0.65" fill="#84d34a"/>
<circle cx="108.0" cy="222.3" r="0.65" fill="#5cc762"/>
<circle cx="106.7" cy="219.9" r="0.65" fill="#acdc31"/>
<circle cx="102.1" cy="239.7" r="0.65" fill="#84d34a"/>
<circle cx="94.7" cy="227.3" r="0.65" fill="#bfdf26"/>
<circle cx="101.2" cy="225.9" r="0.65" fill="#eef2d8"/>
<circle cx="92.1" cy="227.7" r="0.65" fill="#1f998a"/>
<circle cx="114.1" cy="227.4" r="0.65" fill="#cce11e"/>
<circle cx="107.9" cy="234.9" r="0.65" fill="#90d642"/>
<circle cx="99.6" cy="218.9" r="0.65" fill="#9cd83b"/>
<circle cx="98.6" cy="237.7" r="0.65" fill="#77d052"/>
<circle cx="96.0" cy="223.0" r="0.65" fill="#26808e"/>
<circle cx="100.4" cy="230.6" r="0.65" fill="#7cd14f"/>
<circle cx="91.1" cy="229.0" r="0.65" fill="#d3e21b"/>
<circle cx="93.9" cy="225.5" r="0.65" fill="#73cf54"/>
<circle cx="93.1" cy="229.1" r="0.65" fill="#84d34a"/>
<circle cx="102.3" cy="219.7" r="0.65" fill="#1f9c89"/>
<circle cx="100.4" cy="229.2" r="0.65" fill="#6ccc59"/>
<circle cx="97.5" cy="233.9" r="0.65" fill="#6acc5a"/>
<circle cx="98.9" cy="218.7" r="0.65" fill="#85d349"/>
<circle cx="106.5" cy="233.6" r="0.65" fill="#6bcc5a"/>
<circle cx="91.2" cy="228.9" r="0.65" fill="#bbde28"/>
<circle cx="93.1" cy="233.7" r="0.65" fill="#c2df24"/>
<circle cx="91.9" cy="229.3" r="0.65" fill="#83d34b"/>
<circle cx="101.7" cy="238.4" r="0.65" fill="#b7dd2a"/>
<circle cx="111.1" cy="232.2" r="0.65" fill="#eef2d8"/>
<circle cx="96.1" cy="228.8" r="0.65" fill="#b2dd2d"/>
<circle cx="102.4" cy="227.3" r="0.65" fill="#6ecd58"/>
<circle cx="111.3" cy="230.5" r="0.65" fill="#c4df23"/>
<circle cx="92.6" cy="228.3" r="0.65" fill="#66ca5c"/>
<circle cx="111.6" cy="226.3" r="0.65" fill="#74cf54"/>
<circle cx="110.0" cy="232.1" r="0.65" fill="#80d24c"/>
<circle cx="95.1" cy="234.1" r="0.65" fill="#b3dd2d"/>
<circle cx="103.6" cy="240.4" r="0.65" fill="#61c95f"/>
<circle cx="106.0" cy="232.7" r="0.65" fill="#eef2d8"/>
<circle cx="108.6" cy="224.3" r="0.65" fill="#6dcd58"/>
<circle cx="106.8" cy="233.3" r="0.65" fill="#8bd545"/>
<circle cx="112.9" cy="223.2" r="0.65" fill="#a1da38"/>
<circle cx="107.1" cy="230.9" r="0.65" fill="#aedc30"/>
<circle cx="93.5" cy="227.0" r="0.65" fill="#efe521"/>
<circle cx="97.0" cy="238.4" r="0.65" fill="#5ac764"/>
<circle cx="113.3" cy="234.1" r="0.65" fill="#9ed93a"/>
<circle cx="105.7" cy="220.3" r="0.65" fill="#24848e"/>
<circle cx="113.0" cy="235.0" r="0.65" fill="#c2df24"/>
<circle cx="97.5" cy="239.1" r="0.65" fill="#61c95f"/>
<circle cx="101.4" cy="235.4" r="0.65" fill="#e6e41f"/>
<polygon points="56.2,230.5 58.5,226.5 62.0,224.5 67.0,224.0 69.5,222.5 70.5,218.0 73.5,216.3 75.5,218.0 76.5,223.0 78.0,226.5 79.8,230.0 77.0,232.0 72.0,235.0 66.0,237.8 60.0,238.0 57.0,235.5" fill="#3a8a6a" fill-opacity="0.35"/>
<circle cx="64.1" cy="231.7" r="0.65" fill="#267f8e"/>
<circle cx="78.4" cy="231.0" r="0.65" fill="#d5e21b"/>
<circle cx="69.8" cy="231.9" r="0.65" fill="#23878e"/>
<circle cx="76.4" cy="230.9" r="0.65" fill="#68cb5b"/>
<circle cx="68.1" cy="227.6" r="0.65" fill="#4bc16c"/>
<circle cx="56.7" cy="231.3" r="0.65" fill="#277c8e"/>
<circle cx="72.4" cy="226.3" r="0.65" fill="#a4da36"/>
<circle cx="74.9" cy="218.1" r="0.65" fill="#93d640"/>
<circle cx="59.1" cy="236.1" r="0.65" fill="#1f9d88"/>
<circle cx="68.9" cy="230.1" r="0.65" fill="#1f968b"/>
<circle cx="61.9" cy="236.9" r="0.65" fill="#e8f0e0"/>
<circle cx="65.4" cy="225.6" r="0.65" fill="#22898d"/>
<circle cx="69.0" cy="236.3" r="0.65" fill="#1f9c89"/>
<circle cx="71.4" cy="225.3" r="0.65" fill="#87d448"/>
<circle cx="70.2" cy="232.9" r="0.65" fill="#46be6f"/>
<circle cx="73.2" cy="216.7" r="0.65" fill="#b2dd2d"/>
<circle cx="77.1" cy="228.2" r="0.65" fill="#5cc762"/>
<circle cx="71.5" cy="217.5" r="0.65" fill="#9ed939"/>
<circle cx="57.6" cy="231.8" r="0.65" fill="#355d8c"/>
<circle cx="60.8" cy="226.1" r="0.65" fill="#277d8e"/>
<circle cx="65.4" cy="226.7" r="0.65" fill="#1f958b"/>
<circle cx="58.2" cy="229.0" r="0.65" fill="#277e8e"/>
<circle cx="69.6" cy="228.0" r="0.65" fill="#1f9a89"/>
<circle cx="72.6" cy="223.9" r="0.65" fill="#7dd14f"/>
<circle cx="79.0" cy="227.5" r="0.65" fill="#e8f0e0"/>
<circle cx="73.5" cy="234.0" r="0.65" fill="#62c95e"/>
<circle cx="68.2" cy="235.7" r="0.65" fill="#1f9b89"/>
<circle cx="65.2" cy="233.3" r="0.65" fill="#22888d"/>
<circle cx="66.5" cy="225.4" r="0.65" fill="#2db07d"/>
<circle cx="64.9" cy="237.7" r="0.65" fill="#27ac80"/>
<circle cx="74.6" cy="218.7" r="0.65" fill="#fce624"/>
<circle cx="70.4" cy="222.3" r="0.65" fill="#89d447"/>
<circle cx="67.5" cy="223.8" r="0.65" fill="#36b778"/>
<circle cx="74.9" cy="227.4" r="0.65" fill="#c8e020"/>
<circle cx="76.8" cy="226.4" r="0.65" fill="#87d448"/>
<circle cx="67.9" cy="236.9" r="0.65" fill="#29ae7f"/>
<circle cx="66.7" cy="230.0" r="0.65" fill="#31b37b"/>
<circle cx="67.1" cy="235.8" r="0.65" fill="#e8f0e0"/>
<circle cx="71.6" cy="217.1" r="0.65" fill="#86d349"/>
<circle cx="75.8" cy="218.4" r="0.65" fill="#f4e623"/>
<circle cx="63.0" cy="230.0" r="0.65" fill="#38578c"/>
<circle cx="56.8" cy="233.8" r="0.65" fill="#218f8c"/>
<circle cx="74.0" cy="232.3" r="0.65" fill="#63c95e"/>
<circle cx="59.0" cy="237.1" r="0.65" fill="#33628d"/>
<circle cx="74.1" cy="233.7" r="0.65" fill="#93d641"/>
<circle cx="60.0" cy="232.3" r="0.65" fill="#2a778e"/>
<circle cx="71.1" cy="230.5" r="0.65" fill="#56c566"/>
<circle cx="77.4" cy="231.6" r="0.65" fill="#70ce56"/>
<circle cx="78.8" cy="229.8" r="0.65" fill="#8fd643"/>
<circle cx="69.6" cy="221.9" r="0.65" fill="#f8e623"/>
<circle cx="60.9" cy="233.5" r="0.65" fill="#22898d"/>
<circle cx="74.5" cy="232.6" r="0.65" fill="#75cf53"/>
<circle cx="76.1" cy="221.4" r="0.65" fill="#85d349"/>
<circle cx="75.7" cy="224.7" r="0.65" fill="#76cf52"/>
<circle cx="75.2" cy="227.8" r="0.65" fill="#51c469"/>
<circle cx="71.4" cy="226.6" r="0.65" fill="#c3df23"/>
<circle cx="59.6" cy="231.0" r="0.65" fill="#33618d"/>
<circle cx="57.6" cy="231.9" r="0.65" fill="#1f9d88"/>
<circle cx="78.0" cy="225.9" r="0.65" fill="#e8f0e0"/>
<circle cx="62.5" cy="227.3" r="0.65" fill="#37598c"/>
<circle cx="65.5" cy="227.0" r="0.65" fill="#43bd71"/>
<circle cx="68.7" cy="230.1" r="0.65" fill="#e8f0e0"/>
<circle cx="76.3" cy="225.5" r="0.65" fill="#a8db33"/>
<circle cx="70.2" cy="229.0" r="0.65" fill="#218f8c"/>
<circle cx="66.7" cy="237.3" r="0.65" fill="#3cba74"/>
<circle cx="64.8" cy="232.7" r="0.65" fill="#4bc06c"/>
<circle cx="75.8" cy="228.7" r="0.65" fill="#71ce56"/>
<circle cx="75.5" cy="227.3" r="0.65" fill="#d3e21b"/>
<circle cx="58.6" cy="226.2" r="0.65" fill="#32b57a"/>
<circle cx="73.3" cy="216.7" r="0.65" fill="#80d24c"/>
<circle cx="58.7" cy="233.0" r="0.65" fill="#2c718e"/>
<circle cx="78.1" cy="225.6" r="0.65" fill="#c3df23"/>
<circle cx="60.9" cy="225.3" r="0.65" fill="#41bc71"/>
<circle cx="73.0" cy="232.9" r="0.65" fill="#5dc762"/>
<circle cx="61.7" cy="227.5" r="0.65" fill="#30688e"/>
<circle cx="74.2" cy="222.4" r="0.65" fill="#d3e21b"/>
<circle cx="63.3" cy="228.1" r="0.65" fill="#41bc72"/>
<circle cx="57.5" cy="228.4" r="0.65" fill="#228b8d"/>
<circle cx="75.4" cy="228.6" r="0.65" fill="#d4e21b"/>
<circle cx="69.4" cy="228.7" r="0.65" fill="#22898d"/>
<circle cx="62.8" cy="237.9" r="0.65" fill="#29798e"/>
<circle cx="69.3" cy="228.2" r="0.65" fill="#218e8c"/>
<circle cx="73.9" cy="218.8" r="0.65" fill="#dfe31e"/>
<circle cx="71.7" cy="230.6" r="0.65" fill="#46be6f"/>
<circle cx="74.7" cy="228.0" r="0.65" fill="#bede26"/>
<circle cx="71.0" cy="223.1" r="0.65" fill="#ebe420"/>
<circle cx="76.8" cy="226.7" r="0.65" fill="#67cb5c"/>
<circle cx="70.3" cy="234.4" r="0.65" fill="#20a087"/>
<circle cx="75.3" cy="217.4" r="0.65" fill="#a6db35"/>
<circle cx="71.0" cy="225.1" r="0.65" fill="#1f9a89"/>
<circle cx="79.0" cy="229.4" r="0.65" fill="#c8e020"/>
<circle cx="74.1" cy="229.0" r="0.65" fill="#cce11e"/>
<circle cx="74.5" cy="226.1" r="0.65" fill="#74cf54"/>
<circle cx="75.8" cy="232.3" r="0.65" fill="#73ce55"/>
<circle cx="73.5" cy="225.0" r="0.65" fill="#cee11d"/>
<circle cx="75.7" cy="222.8" r="0.65" fill="#e0e31e"/>
<circle cx="57.0" cy="234.3" r="0.65" fill="#2c718e"/>
<circle cx="71.9" cy="234.8" r="0.65" fill="#7cd14f"/>
<circle cx="70.8" cy="222.1" r="0.65" fill="#f7e623"/>
<circle cx="74.6" cy="221.8" r="0.65" fill="#ede521"/>
<circle cx="61.0" cy="236.2" r="0.65" fill="#218d8c"/>
<circle cx="77.3" cy="225.1" r="0.65" fill="#addc30"/>
<circle cx="66.1" cy="237.9" r="0.65" fill="#24848e"/>
<circle cx="56.5" cy="231.2" r="0.65" fill="#32658d"/>
<circle cx="59.9" cy="237.8" r="0.65" fill="#2d708e"/>
<circle cx="68.4" cy="225.8" r="0.65" fill="#57c665"/>
<circle cx="63.8" cy="235.9" r="0.65" fill="#24848e"/>
<circle cx="65.8" cy="226.3" r="0.65" fill="#218c8d"/>
<circle cx="70.3" cy="236.2" r="0.65" fill="#21a386"/>
<circle cx="76.5" cy="228.1" r="0.65" fill="#e8f0e0"/>
<circle cx="58.4" cy="228.8" r="0.65" fill="#33638d"/>
<circle cx="72.1" cy="235.2" r="0.65" fill="#b5dd2b"/>
<circle cx="75.1" cy="219.0" r="0.65" fill="#d7e21c"/>
<circle cx="56.6" cy="229.3" r="0.65" fill="#2f6c8e"/>
<circle cx="63.3" cy="229.5" r="0.65" fill="#2b738e"/>
<circle cx="60.4" cy="228.2" r="0.65" fill="#23858e"/>
<circle cx="59.3" cy="225.8" r="0.65" fill="#21a585"/>
<circle cx="76.0" cy="230.7" r="0.65" fill="#5cc762"/>
<circle cx="73.5" cy="219.4" r="0.65" fill="#c7e021"/>
<circle cx="58.2" cy="233.2" r="0.65" fill="#3d4b89"/>
<circle cx="75.1" cy="218.6" r="0.65" fill="#d7e21c"/>
<circle cx="61.5" cy="233.3" r="0.65" fill="#e8f0e0"/>
<circle cx="61.5" cy="225.6" r="0.65" fill="#2a778e"/>
<circle cx="70.4" cy="235.5" r="0.65" fill="#52c468"/>
<circle cx="73.1" cy="233.6" r="0.65" fill="#82d34b"/>
<circle cx="70.6" cy="232.5" r="0.65" fill="#209f87"/>
<circle cx="77.4" cy="229.7" r="0.65" fill="#91d642"/>
<circle cx="57.1" cy="229.4" r="0.65" fill="#3c4f8a"/>
<circle cx="78.4" cy="227.5" r="0.65" fill="#50c369"/>
<circle cx="61.1" cy="229.7" r="0.65" fill="#2b748e"/>
<circle cx="68.7" cy="225.2" r="0.65" fill="#e8f0e0"/>
<circle cx="65.4" cy="231.2" r="0.65" fill="#2a768e"/>
<circle cx="68.9" cy="226.0" r="0.65" fill="#21a485"/>
<circle cx="74.4" cy="219.5" r="0.65" fill="#cce11e"/>
<circle cx="74.6" cy="233.1" r="0.65" fill="#afdc2f"/>
<circle cx="63.3" cy="235.7" r="0.65" fill="#32b47a"/>
<circle cx="63.6" cy="229.5" r="0.65" fill="#3ab975"/>
<circle cx="69.6" cy="222.5" r="0.65" fill="#81d24c"/>
<circle cx="68.4" cy="230.6" r="0.65" fill="#26ab81"/>
<circle cx="68.8" cy="224.8" r="0.65" fill="#39b876"/>
<circle cx="67.6" cy="228.6" r="0.65" fill="#209e88"/>
<circle cx="76.5" cy="231.3" r="0.65" fill="#b3dd2d"/>
<circle cx="63.7" cy="224.3" r="0.65" fill="#228a8d"/>
<circle cx="76.6" cy="223.5" r="0.65" fill="#80d24c"/>
<circle cx="62.7" cy="229.7" r="0.65" fill="#32b57a"/>
<circle cx="65.3" cy="228.7" r="0.65" fill="#2cb07d"/>
<circle cx="77.3" cy="228.8" r="0.65" fill="#a4da36"/>
<circle cx="59.1" cy="228.9" r="0.65" fill="#e8f0e0"/>
<circle cx="68.1" cy="229.4" r="0.65" fill="#43bd71"/>
<circle cx="64.8" cy="224.3" r="0.65" fill="#20908c"/>
<circle cx="60.3" cy="233.3" r="0.65" fill="#287c8e"/>
<circle cx="78.1" cy="227.4" r="0.65" fill="#addc31"/>
<circle cx="62.4" cy="226.0" r="0.65" fill="#3d4a88"/>
<circle cx="71.1" cy="233.8" r="0.65" fill="#b8de2a"/>
<circle cx="73.7" cy="234.1" r="0.65" fill="#d8e21c"/>
<circle cx="74.0" cy="216.9" r="0.65" fill="#a0d938"/>
<circle cx="62.7" cy="228.1" r="0.65" fill="#287c8e"/>
<circle cx="64.5" cy="235.6" r="0.65" fill="#e8f0e0"/>
<circle cx="67.5" cy="229.5" r="0.65" fill="#20908c"/>
<circle cx="72.0" cy="228.6" r="0.65" fill="#85d349"/>
<circle cx="66.5" cy="225.8" r="0.65" fill="#31b47a"/>
<circle cx="74.5" cy="224.3" r="0.65" fill="#83d34b"/>
<circle cx="76.9" cy="226.4" r="0.65" fill="#afdc2f"/>
<circle cx="62.0" cy="233.8" r="0.65" fill="#2d6f8e"/>
<circle cx="61.3" cy="230.5" r="0.65" fill="#2c738e"/>
<circle cx="72.8" cy="224.4" r="0.65" fill="#98d83d"/>
<circle cx="68.2" cy="224.9" r="0.65" fill="#228b8d"/>
<circle cx="63.6" cy="236.6" r="0.65" fill="#40bc72"/>
<circle cx="71.7" cy="225.8" r="0.65" fill="#33b57a"/>
<circle cx="59.5" cy="230.4" r="0.65" fill="#32658d"/>
<circle cx="64.0" cy="234.4" r="0.65" fill="#21a386"/>
<circle cx="57.3" cy="228.7" r="0.65" fill="#228b8d"/>
<circle cx="71.7" cy="220.0" r="0.65" fill="#f6e623"/>
<circle cx="65.3" cy="226.2" r="0.65" fill="#1f9a89"/>
<circle cx="66.4" cy="232.9" r="0.65" fill="#20928b"/>
<circle cx="65.1" cy="237.8" r="0.65" fill="#23878e"/>
<circle cx="60.9" cy="227.2" r="0.65" fill="#29788e"/>
<circle cx="72.1" cy="219.2" r="0.65" fill="#cbe11e"/>
<circle cx="61.1" cy="237.4" r="0.65" fill="#209e88"/>
<circle cx="62.3" cy="227.3" r="0.65" fill="#31668d"/>
<circle cx="68.2" cy="225.0" r="0.65" fill="#4cc16c"/>
<circle cx="67.0" cy="229.8" r="0.65" fill="#34b679"/>
<circle cx="70.1" cy="220.4" r="0.65" fill="#e4e41f"/>
<circle cx="72.1" cy="230.7" r="0.65" fill="#c8e020"/>
<circle cx="58.7" cy="233.9" r="0.65" fill="#32648d"/>
<circle cx="66.7" cy="237.6" r="0.65" fill="#1f948b"/>
<circle cx="78.9" cy="228.5" r="0.65" fill="#81d24c"/>
<circle cx="61.7" cy="237.8" r="0.65" fill="#21a386"/>
<circle cx="70.4" cy="220.7" r="0.65" fill="#c5e022"/>
<circle cx="57.4" cy="234.7" r="0.65" fill="#3d4a88"/>
<circle cx="61.4" cy="228.7" r="0.65" fill="#209d88"/>
<circle cx="73.8" cy="230.1" r="0.65" fill="#8fd643"/>
<circle cx="68.7" cy="231.9" r="0.65" fill="#23a883"/>
<circle cx="63.9" cy="231.5" r="0.65" fill="#1f958b"/>
<circle cx="61.7" cy="224.7" r="0.65" fill="#25818e"/>
<circle cx="74.7" cy="220.8" r="0.65" fill="#a0d939"/>
<circle cx="66.0" cy="237.6" r="0.65" fill="#2e6d8e"/>
<circle cx="62.2" cy="225.2" r="0.65" fill="#20a186"/>
<circle cx="77.6" cy="228.2" r="0.65" fill="#cbe11e"/>
<circle cx="73.5" cy="220.3" r="0.65" fill="#c9e020"/>
<circle cx="58.4" cy="227.9" r="0.65" fill="#277d8e"/>
<circle cx="74.7" cy="224.0" r="0.65" fill="#cae01f"/>
<circle cx="70.4" cy="226.1" r="0.65" fill="#b8de2a"/>
<circle cx="73.8" cy="225.2" r="0.65" fill="#e8f0e0"/>
<circle cx="70.1" cy="219.3" r="0.65" fill="#e7e420"/>
<circle cx="67.4" cy="230.2" r="0.65" fill="#209e88"/>
<circle cx="73.0" cy="221.2" r="0.65" fill="#93d740"/>
<circle cx="70.1" cy="223.8" r="0.65" fill="#8ed544"/>
<circle cx="70.8" cy="230.8" r="0.65" fill="#20908c"/>
<circle cx="62.7" cy="230.3" r="0.65" fill="#2cb07d"/>
<circle cx="61.2" cy="236.2" r="0.65" fill="#30688e"/>
<circle cx="63.4" cy="233.0" r="0.65" fill="#e8f0e0"/>
<circle cx="66.0" cy="227.9" r="0.65" fill="#e8f0e0"/>
<circle cx="57.8" cy="230.9" r="0.65" fill="#29ae7f"/>
<circle cx="62.4" cy="237.9" r="0.65" fill="#33618d"/>
<circle cx="68.1" cy="225.5" r="0.65" fill="#e8f0e0"/>
<circle cx="69.4" cy="231.4" r="0.65" fill="#5bc763"/>
<circle cx="61.7" cy="229.4" r="0.65" fill="#32648d"/>
<circle cx="72.7" cy="222.8" r="0.65" fill="#a2da37"/>
<circle cx="73.5" cy="229.3" r="0.65" fill="#aadb32"/>
<circle cx="62.4" cy="235.9" r="0.65" fill="#209f87"/>
<circle cx="63.3" cy="232.0" r="0.65" fill="#25aa81"/>
<circle cx="64.0" cy="231.4" r="0.65" fill="#355d8c"/>
<circle cx="62.6" cy="234.7" r="0.65" fill="#218d8d"/>
<circle cx="63.7" cy="235.6" r="0.65" fill="#267f8e"/>
<circle cx="69.1" cy="231.2" r="0.65" fill="#21a684"/>
<circle cx="62.5" cy="227.6" r="0.65" fill="#209d88"/>
<circle cx="67.6" cy="230.5" r="0.65" fill="#22888d"/>
<circle cx="59.8" cy="233.3" r="0.65" fill="#32658d"/>
<circle cx="71.5" cy="231.4" r="0.65" fill="#7ad150"/>
<circle cx="74.9" cy="231.3" r="0.65" fill="#5cc762"/>
<circle cx="75.8" cy="220.6" r="0.65" fill="#f5e623"/>
<circle cx="73.1" cy="232.3" r="0.65" fill="#4ac06d"/>
<circle cx="58.9" cy="231.3" r="0.65" fill="#25aa81"/>
<circle cx="60.0" cy="230.3" r="0.65" fill="#2e6d8e"/>
<circle cx="73.7" cy="229.6" r="0.65" fill="#c7e021"/>
<circle cx="62.7" cy="225.4" r="0.65" fill="#277d8e"/>
<circle cx="65.2" cy="233.2" r="0.65" fill="#209e88"/>
<circle cx="73.7" cy="233.5" r="0.65" fill="#92d641"/>
<circle cx="60.2" cy="233.4" r="0.65" fill="#20a186"/>
<circle cx="57.2" cy="234.8" r="0.65" fill="#2cb07e"/>
<circle cx="66.2" cy="227.0" r="0.65" fill="#1f948b"/>
<circle cx="69.8" cy="220.8" r="0.65" fill="#e5e41f"/>
<circle cx="66.3" cy="229.9" r="0.65" fill="#4ac06d"/>
<circle cx="64.7" cy="229.4" r="0.65" fill="#5ac664"/>
<circle cx="73.1" cy="234.0" r="0.65" fill="#76cf53"/>
<circle cx="59.8" cy="227.6" r="0.65" fill="#209e88"/>
<circle cx="70.7" cy="225.4" r="0.65" fill="#7ad150"/>
<circle cx="73.0" cy="219.6" r="0.65" fill="#b5dd2c"/>
<circle cx="69.9" cy="227.8" r="0.65" fill="#b6dd2b"/>
<circle cx="62.7" cy="225.7" r="0.65" fill="#3e4a88"/>
<circle cx="73.9" cy="230.9" r="0.65" fill="#acdc31"/>
<circle cx="72.0" cy="220.7" r="0.65" fill="#8cd545"/>
<circle cx="68.7" cy="232.6" r="0.65" fill="#2eb17c"/>
<circle cx="70.3" cy="219.6" r="0.65" fill="#9fd939"/>
<circle cx="66.5" cy="231.4" r="0.65" fill="#2eb17c"/>
<circle cx="71.7" cy="234.5" r="0.65" fill="#acdc31"/>
<circle cx="74.6" cy="232.0" r="0.65" fill="#7ad150"/>
<circle cx="66.1" cy="230.0" r="0.65" fill="#48bf6e"/>
<circle cx="65.4" cy="226.7" r="0.65" fill="#277e8e"/>
<circle cx="75.4" cy="232.3" r="0.65" fill="#4bc16c"/>
<circle cx="76.1" cy="221.5" r="0.65" fill="#c8e020"/>
<circle cx="73.9" cy="220.0" r="0.65" fill="#aedc30"/>
<circle cx="66.1" cy="224.8" r="0.65" fill="#29788e"/>
<circle cx="64.4" cy="233.8" r="0.65" fill="#33b57a"/>
<circle cx="74.9" cy="221.0" r="0.65" fill="#cde11d"/>
<circle cx="63.2" cy="235.9" r="0.65" fill="#e8f0e0"/>
<circle cx="75.0" cy="220.8" r="0.65" fill="#95d73f"/>
<circle cx="57.3" cy="234.7" r="0.65" fill="#e8f0e0"/>
<circle cx="65.9" cy="230.6" r="0.65" fill="#21a784"/>
<circle cx="62.4" cy="230.2" r="0.65" fill="#30688e"/>
<circle cx="75.7" cy="221.3" r="0.65" fill="#85d349"/>
<circle cx="67.5" cy="223.9" r="0.65" fill="#3ab976"/>
<circle cx="72.3" cy="219.6" r="0.65" fill="#c9e020"/>
<circle cx="66.8" cy="233.6" r="0.65" fill="#218c8d"/>
<circle cx="64.3" cy="229.2" r="0.65" fill="#287b8e"/>
<circle cx="57.6" cy="235.8" r="0.65" fill="#2e6e8e"/>
<circle cx="66.4" cy="232.2" r="0.65" fill="#5bc763"/>
<circle cx="61.6" cy="233.8" r="0.65" fill="#e8f0e0"/>
<circle cx="68.6" cy="223.5" r="0.65" fill="#c8e020"/>
<circle cx="62.5" cy="225.6" r="0.65" fill="#3b508a"/>
<circle cx="60.9" cy="233.2" r="0.65" fill="#38578c"/>
<circle cx="71.3" cy="229.3" r="0.65" fill="#d3e21b"/>
<circle cx="71.2" cy="222.6" r="0.65" fill="#84d34a"/>
<circle cx="70.0" cy="229.2" r="0.65" fill="#21a286"/>
<circle cx="63.4" cy="234.0" r="0.65" fill="#2b758e"/>
<circle cx="73.3" cy="224.0" r="0.65" fill="#a2da37"/>
<circle cx="68.9" cy="224.2" r="0.65" fill="#a3da37"/>
<circle cx="59.4" cy="237.3" r="0.65" fill="#e8f0e0"/>
<circle cx="68.5" cy="232.9" r="0.65" fill="#20918c"/>
<circle cx="57.7" cy="227.5" r="0.65" fill="#24848e"/>
<circle cx="59.5" cy="236.5" r="0.65" fill="#33618d"/>
<circle cx="58.4" cy="229.6" r="0.65" fill="#32648d"/>
<circle cx="57.1" cy="235.5" r="0.65" fill="#2e6d8e"/>
<circle cx="75.5" cy="223.3" r="0.65" fill="#84d34a"/>
<circle cx="70.3" cy="227.7" r="0.65" fill="#50c369"/>
<circle cx="60.8" cy="230.2" r="0.65" fill="#22898d"/>
<circle cx="75.4" cy="226.9" r="0.65" fill="#d9e21c"/>
<circle cx="75.5" cy="222.5" r="0.65" fill="#f6e623"/>
<circle cx="72.1" cy="225.6" r="0.65" fill="#7bd150"/>
<circle cx="56.5" cy="232.4" r="0.65" fill="#25828e"/>
<circle cx="62.9" cy="227.6" r="0.65" fill="#29798e"/>
<circle cx="58.4" cy="237.0" r="0.65" fill="#2d6f8e"/>
<circle cx="64.1" cy="233.0" r="0.65" fill="#20a286"/>
<circle cx="65.4" cy="232.9" r="0.65" fill="#39558b"/>
<circle cx="70.2" cy="223.4" r="0.65" fill="#f1e522"/>
<circle cx="64.4" cy="225.4" r="0.65" fill="#218d8c"/>
<circle cx="61.5" cy="231.0" r="0.65" fill="#287b8e"/>
<circle cx="77.9" cy="228.7" r="0.65" fill="#81d24c"/>
<circle cx="68.5" cy="233.0" r="0.65" fill="#57c665"/>
<circle cx="76.3" cy="223.0" r="0.65" fill="#a8db33"/>
<circle cx="66.1" cy="230.8" r="0.65" fill="#47bf6f"/>
<circle cx="77.2" cy="231.9" r="0.65" fill="#b4dd2c"/>
<circle cx="65.3" cy="234.1" r="0.65" fill="#2b738e"/>
<circle cx="63.3" cy="234.0" r="0.65" fill="#218f8c"/>
<circle cx="65.5" cy="237.4" r="0.65" fill="#2e6d8e"/>
<circle cx="72.4" cy="225.7" r="0.65" fill="#7ed24e"/>
<circle cx="57.2" cy="231.8" r="0.65" fill="#3d4c89"/>
<circle cx="57.1" cy="234.7" r="0.65" fill="#3d4b89"/>
<circle cx="63.0" cy="237.8" r="0.65" fill="#2f6c8e"/>
<circle cx="74.4" cy="220.6" r="0.65" fill="#c3df23"/>
<circle cx="73.1" cy="231.8" r="0.65" fill="#66ca5d"/>
<circle cx="57.2" cy="230.9" r="0.65" fill="#2eb17c"/>
<circle cx="78.3" cy="227.5" r="0.65" fill="#afdc2f"/>
<circle cx="75.9" cy="224.5" r="0.65" fill="#78d051"/>
<circle cx="71.4" cy="217.4" r="0.65" fill="#a8db33"/>
<circle cx="76.4" cy="228.9" r="0.65" fill="#8fd643"/>
<circle cx="68.0" cy="226.7" r="0.65" fill="#e8f0e0"/>
<circle cx="70.0" cy="220.5" r="0.65" fill="#8fd543"/>
<circle cx="59.4" cy="230.7" r="0.65" fill="#345f8d"/>
<circle cx="76.7" cy="232.4" r="0.65" fill="#bade29"/>
<circle cx="74.0" cy="233.5" r="0.65" fill="#45be70"/>
<circle cx="68.2" cy="227.2" r="0.65" fill="#1f9c89"/>
<circle cx="68.9" cy="231.0" r="0.65" fill="#21a585"/>
<circle cx="72.4" cy="218.3" r="0.65" fill="#b2dd2d"/>
<circle cx="61.0" cy="232.8" r="0.65" fill="#2b748e"/>
<circle cx="77.3" cy="226.4" r="0.65" fill="#4bc16c"/>
<circle cx="70.1" cy="235.6" r="0.65" fill="#4fc36a"/>
<circle cx="71.0" cy="233.4" r="0.65" fill="#4cc16c"/>
<circle cx="72.7" cy="219.6" r="0.65" fill="#d0e11b"/>
<circle cx="74.0" cy="218.9" r="0.65" fill="#e2e31e"/>
<circle cx="72.5" cy="230.9" r="0.65" fill="#54c567"/>
<circle cx="73.6" cy="222.4" r="0.65" fill="#f3e522"/>
<circle cx="63.4" cy="230.8" r="0.65" fill="#3a518a"/>
<circle cx="61.7" cy="233.2" r="0.65" fill="#2d708e"/>
<circle cx="62.8" cy="233.1" r="0.65" fill="#3c4f8a"/>
<circle cx="61.1" cy="226.1" r="0.65" fill="#365a8c"/>
<circle cx="71.1" cy="223.9" r="0.65" fill="#cfe11c"/>
<circle cx="65.1" cy="237.5" r="0.65" fill="#3ebb74"/>
<circle cx="64.7" cy="236.2" r="0.65" fill="#31678d"/>
<circle cx="58.3" cy="230.3" r="0.65" fill="#33638d"/>
<circle cx="68.0" cy="231.0" r="0.65" fill="#25aa82"/>
<circle cx="72.0" cy="227.3" r="0.65" fill="#a4da36"/>
<circle cx="59.5" cy="233.2" r="0.65" fill="#2e6d8e"/>
<circle cx="70.9" cy="218.9" r="0.65" fill="#e8e420"/>
<circle cx="75.8" cy="228.4" r="0.65" fill="#76cf53"/>
<circle cx="60.1" cy="235.8" r="0.65" fill="#2c738e"/>
<circle cx="59.3" cy="229.6" r="0.65" fill="#228b8d"/>
<circle cx="58.3" cy="226.2" r="0.65" fill="#23a983"/>
<circle cx="62.8" cy="231.6" r="0.65" fill="#32648d"/>
<circle cx="62.0" cy="225.5" r="0.65" fill="#365b8c"/>
<circle cx="72.5" cy="223.2" r="0.65" fill="#e0e31e"/>
<circle cx="75.5" cy="220.1" r="0.65" fill="#e5e41f"/>
<circle cx="59.4" cy="235.4" r="0.65" fill="#26808e"/>
<circle cx="69.1" cy="222.9" r="0.65" fill="#84d34a"/>
<circle cx="57.7" cy="236.2" r="0.65" fill="#209e88"/>
<circle cx="73.8" cy="230.7" r="0.65" fill="#e8f0e0"/>
<circle cx="75.8" cy="225.5" r="0.65" fill="#93d641"/>
<circle cx="67.0" cy="234.7" r="0.65" fill="#23868e"/>
<circle cx="64.5" cy="232.3" r="0.65" fill="#1f998a"/>
<circle cx="77.5" cy="228.5" r="0.65" fill="#51c369"/>
<circle cx="78.2" cy="230.0" r="0.65" fill="#c8e020"/>
<circle cx="75.4" cy="223.4" r="0.65" fill="#e8f0e0"/>
<circle cx="77.4" cy="227.3" r="0.65" fill="#75cf53"/>
<circle cx="77.8" cy="231.5" r="0.65" fill="#6fcd57"/>
<circle cx="75.5" cy="218.1" r="0.65" fill="#c9e01f"/>
<circle cx="68.6" cy="227.0" r="0.65" fill="#21a386"/>
<circle cx="65.1" cy="224.3" r="0.65" fill="#3b508a"/>
<circle cx="72.6" cy="223.4" r="0.65" fill="#a1da37"/>
<circle cx="76.3" cy="222.6" r="0.65" fill="#acdc31"/>
<circle cx="72.2" cy="224.5" r="0.65" fill="#7cd14f"/>
<circle cx="58.2" cy="227.5" r="0.65" fill="#33628d"/>
<circle cx="74.7" cy="225.2" r="0.65" fill="#7dd14e"/>
<circle cx="59.6" cy="228.2" r="0.65" fill="#22888d"/>
<circle cx="73.0" cy="227.7" r="0.65" fill="#7ed24e"/>
<circle cx="70.2" cy="220.3" r="0.65" fill="#86d348"/>
<circle cx="70.6" cy="227.1" r="0.65" fill="#4ac06c"/>
<circle cx="64.1" cy="237.2" r="0.65" fill="#22898d"/>
<circle cx="63.5" cy="234.2" r="0.65" fill="#29788e"/>
<circle cx="63.7" cy="232.4" r="0.65" fill="#2b758e"/>
<circle cx="74.5" cy="219.1" r="0.65" fill="#a2da37"/>
<circle cx="72.0" cy="222.5" r="0.65" fill="#94d740"/>
<circle cx="70.9" cy="223.1" r="0.65" fill="#9ed939"/>
<circle cx="67.1" cy="235.4" r="0.65" fill="#22888d"/>
<circle cx="73.8" cy="220.9" r="0.65" fill="#aedc30"/>
<circle cx="60.7" cy="232.3" r="0.65" fill="#3b508a"/>
<circle cx="76.8" cy="227.4" r="0.65" fill="#e8f0e0"/>
<circle cx="68.5" cy="231.3" r="0.65" fill="#21a386"/>
<circle cx="68.8" cy="233.2" r="0.65" fill="#21a585"/>
<circle cx="67.4" cy="229.9" r="0.65" fill="#45be6f"/>
<circle cx="72.5" cy="224.9" r="0.65" fill="#8ed544"/>
<circle cx="68.4" cy="226.9" r="0.65" fill="#23878e"/>
<circle cx="63.4" cy="226.6" r="0.65" fill="#31678d"/>
<circle cx="68.8" cy="228.1" r="0.65" fill="#20a187"/>
<circle cx="67.4" cy="236.9" r="0.65" fill="#24858e"/>
<circle cx="74.2" cy="218.0" r="0.65" fill="#a6db35"/>
<circle cx="68.5" cy="230.0" r="0.65" fill="#218f8c"/>
<circle cx="63.4" cy="231.6" r="0.65" fill="#3a518a"/>
<circle cx="59.1" cy="233.0" r="0.65" fill="#43bd70"/>
<circle cx="59.8" cy="225.8" r="0.65" fill="#22a883"/>
<circle cx="59.4" cy="230.0" r="0.65" fill="#34608d"/>
<circle cx="75.0" cy="229.5" r="0.65" fill="#5dc762"/>
<circle cx="75.6" cy="228.2" r="0.65" fill="#54c567"/>
<circle cx="72.2" cy="219.5" r="0.65" fill="#97d73e"/>
<circle cx="75.6" cy="227.9" r="0.65" fill="#c3df23"/>
<circle cx="74.4" cy="218.5" r="0.65" fill="#cbe11e"/>
<circle cx="65.3" cy="224.4" r="0.65" fill="#209d88"/>
<circle cx="60.2" cy="234.6" r="0.65" fill="#3fbb73"/>
<circle cx="69.8" cy="231.8" r="0.65" fill="#52c468"/>
<circle cx="78.0" cy="229.0" r="0.65" fill="#cce11e"/>
<circle cx="72.6" cy="217.5" r="0.65" fill="#d7e21c"/>
<circle cx="78.5" cy="229.0" r="0.65" fill="#c2df24"/>
<circle cx="62.6" cy="230.2" r="0.65" fill="#31668d"/>
<circle cx="63.5" cy="229.6" r="0.65" fill="#277d8e"/>
<circle cx="67.7" cy="224.5" r="0.65" fill="#24aa82"/>
<circle cx="76.1" cy="230.3" r="0.65" fill="#a2da37"/>
<circle cx="56.7" cy="234.2" r="0.65" fill="#29798e"/>
<circle cx="75.0" cy="228.4" r="0.65" fill="#7dd14e"/>
<circle cx="60.5" cy="237.4" r="0.65" fill="#2f6a8e"/>
<circle cx="66.3" cy="232.9" r="0.65" fill="#209e88"/>
<circle cx="63.2" cy="228.8" r="0.65" fill="#26808e"/>
<circle cx="74.2" cy="226.2" r="0.65" fill="#bdde27"/>
<circle cx="67.8" cy="226.1" r="0.65" fill="#21a286"/>
<circle cx="74.2" cy="225.6" r="0.65" fill="#87d448"/>
<circle cx="62.8" cy="227.3" r="0.65" fill="#32638d"/>
<circle cx="71.4" cy="221.0" r="0.65" fill="#a1da38"/>
<circle cx="57.9" cy="235.8" r="0.65" fill="#23868e"/>
<circle cx="68.7" cy="231.7" r="0.65" fill="#20928c"/>
<circle cx="66.4" cy="237.4" r="0.65" fill="#29ad7f"/>
<circle cx="66.6" cy="232.2" r="0.65" fill="#228b8d"/>
<circle cx="57.5" cy="228.7" r="0.65" fill="#2f6b8e"/>
<circle cx="58.3" cy="232.4" r="0.65" fill="#3a528a"/>
<circle cx="58.5" cy="235.5" r="0.65" fill="#23868e"/>
<circle cx="64.1" cy="226.3" r="0.65" fill="#2a768e"/>
<circle cx="64.6" cy="234.8" r="0.65" fill="#29ad7f"/>
<circle cx="63.0" cy="233.8" r="0.65" fill="#e8f0e0"/>
<circle cx="58.6" cy="229.9" r="0.65" fill="#375a8c"/>
<circle cx="57.4" cy="228.0" r="0.65" fill="#209e88"/>
<circle cx="68.1" cy="227.7" r="0.65" fill="#e8f0e0"/>
<circle cx="73.8" cy="228.7" r="0.65" fill="#bbde28"/>
<circle cx="59.1" cy="234.9" r="0.65" fill="#267f8e"/>
<circle cx="69.0" cy="229.5" r="0.65" fill="#20a087"/>
<circle cx="57.8" cy="235.6" r="0.65" fill="#3a528a"/>
<circle cx="67.9" cy="227.4" r="0.65" fill="#46be6f"/>
<circle cx="63.4" cy="226.1" r="0.65" fill="#37598c"/>
<circle cx="72.9" cy="217.3" r="0.65" fill="#9ed939"/>
<circle cx="77.8" cy="225.7" r="0.65" fill="#7ad150"/>
<circle cx="73.2" cy="230.0" r="0.65" fill="#c8e020"/>
<circle cx="58.0" cy="229.4" r="0.65" fill="#3c4d89"/>
<circle cx="61.3" cy="232.4" r="0.65" fill="#25aa82"/>
<circle cx="57.8" cy="235.1" r="0.65" fill="#e8f0e0"/>
<circle cx="68.6" cy="225.1" r="0.65" fill="#21a485"/>
<circle cx="61.8" cy="225.1" r="0.65" fill="#29798e"/>
<circle cx="74.3" cy="233.8" r="0.65" fill="#60c860"/>
<circle cx="78.5" cy="230.8" r="0.65" fill="#4fc36a"/>
<circle cx="72.3" cy="232.3" r="0.65" fill="#89d447"/>
<circle cx="71.5" cy="228.4" r="0.65" fill="#3ebb73"/>
<circle cx="65.8" cy="229.3" r="0.65" fill="#228b8d"/>
<circle cx="69.6" cy="228.8" r="0.65" fill="#218f8c"/>
<circle cx="72.2" cy="225.9" r="0.65" fill="#73cf54"/>
<circle cx="70.6" cy="218.6" r="0.65" fill="#c9e020"/>
<circle cx="78.3" cy="228.1" r="0.65" fill="#7cd14f"/>
<circle cx="74.0" cy="230.5" r="0.65" fill="#93d740"/>
<circle cx="71.0" cy="224.9" r="0.65" fill="#5cc762"/>
<circle cx="76.2" cy="222.8" r="0.65" fill="#d5e21b"/>
<circle cx="75.9" cy="222.1" r="0.65" fill="#a4da36"/>
<circle cx="79.4" cy="229.7" r="0.65" fill="#62c95f"/>
<circle cx="77.3" cy="226.5" r="0.65" fill="#dce31d"/>
<circle cx="65.0" cy="228.2" r="0.65" fill="#1f998a"/>
<circle cx="71.5" cy="217.5" r="0.65" fill="#e8f0e0"/>
<circle cx="67.8" cy="225.3" r="0.65" fill="#5cc762"/>
<circle cx="75.3" cy="226.9" r="0.65" fill="#59c664"/>
<circle cx="65.9" cy="229.1" r="0.65" fill="#37b877"/>
<circle cx="59.8" cy="230.5" r="0.65" fill="#2d708e"/>
<circle cx="66.8" cy="227.6" r="0.65" fill="#e8f0e0"/>
<circle cx="62.4" cy="238.2" r="0.65" fill="#3b518a"/>
<circle cx="72.3" cy="227.5" r="0.65" fill="#20a286"/>
<circle cx="59.7" cy="237.0" r="0.65" fill="#2f6c8e"/>
<circle cx="65.8" cy="224.6" r="0.65" fill="#37598c"/>
<circle cx="74.7" cy="223.3" r="0.65" fill="#b1dd2e"/>
<circle cx="65.6" cy="232.4" r="0.65" fill="#2fb27b"/>
<circle cx="60.6" cy="235.7" r="0.65" fill="#23878e"/>
<circle cx="73.1" cy="224.6" r="0.65" fill="#a1da38"/>
<circle cx="66.5" cy="237.6" r="0.65" fill="#21a684"/>
<circle cx="60.7" cy="238.0" r="0.65" fill="#37598c"/>
<circle cx="66.6" cy="232.1" r="0.65" fill="#1f9b89"/>
<circle cx="72.5" cy="225.9" r="0.65" fill="#24858e"/>
<circle cx="67.5" cy="224.8" r="0.65" fill="#21a784"/>
<circle cx="59.2" cy="228.8" r="0.65" fill="#32b57a"/>
<circle cx="57.9" cy="235.3" r="0.65" fill="#26818e"/>
<circle cx="73.6" cy="223.4" r="0.65" fill="#b5dd2c"/>
<circle cx="75.1" cy="217.8" r="0.65" fill="#cfe11c"/>
<circle cx="68.8" cy="233.6" r="0.65" fill="#228a8d"/>
<circle cx="70.3" cy="231.9" r="0.65" fill="#24aa82"/>
<circle cx="64.0" cy="226.8" r="0.65" fill="#20a286"/>
<circle cx="61.6" cy="224.7" r="0.65" fill="#20a087"/>
<circle cx="71.8" cy="222.3" r="0.65" fill="#cee11d"/>
<circle cx="76.6" cy="231.3" r="0.65" fill="#b8de2a"/>
<circle cx="78.1" cy="227.1" r="0.65" fill="#93d640"/>
<circle cx="63.5" cy="226.0" r="0.65" fill="#22888d"/>
<circle cx="68.2" cy="223.8" r="0.65" fill="#2cb07d"/>
<circle cx="65.3" cy="235.9" r="0.65" fill="#22a883"/>
<circle cx="58.0" cy="228.4" r="0.65" fill="#21a485"/>
<circle cx="57.8" cy="229.8" r="0.65" fill="#355e8c"/>
<circle cx="65.5" cy="232.2" r="0.65" fill="#1f988a"/>
<circle cx="59.9" cy="236.8" r="0.65" fill="#24a982"/>
<circle cx="58.8" cy="227.8" r="0.65" fill="#21a485"/>
<circle cx="64.8" cy="224.4" r="0.65" fill="#58c665"/>
<circle cx="59.0" cy="235.4" r="0.65" fill="#365c8c"/>
<circle cx="67.5" cy="233.3" r="0.65" fill="#21a784"/>
<circle cx="71.5" cy="219.3" r="0.65" fill="#e0e31e"/>
<circle cx="75.5" cy="220.4" r="0.65" fill="#c9e020"/>
<circle cx="68.8" cy="232.2" r="0.65" fill="#e8f0e0"/>
<circle cx="73.9" cy="228.9" r="0.65" fill="#5dc862"/>
<circle cx="78.1" cy="228.8" r="0.65" fill="#bedf26"/>
<circle cx="59.2" cy="226.6" r="0.65" fill="#3c4d89"/>
<circle cx="62.4" cy="224.8" r="0.65" fill="#32638d"/>
<circle cx="76.1" cy="228.1" r="0.65" fill="#d7e21c"/>
<circle cx="68.0" cy="227.5" r="0.65" fill="#5cc762"/>
<circle cx="63.0" cy="226.6" r="0.65" fill="#2d6f8e"/>
<circle cx="61.7" cy="229.7" r="0.65" fill="#277d8e"/>
<circle cx="65.2" cy="227.9" r="0.65" fill="#32b47a"/>
<circle cx="64.0" cy="237.3" r="0.65" fill="#228a8d"/>
<circle cx="75.2" cy="218.6" r="0.65" fill="#afdc2f"/>
<circle cx="63.3" cy="227.3" r="0.65" fill="#e8f0e0"/>
<circle cx="73.6" cy="223.4" r="0.65" fill="#99d83c"/>
<circle cx="71.7" cy="221.3" r="0.65" fill="#a0d938"/>
<circle cx="56.8" cy="232.2" r="0.65" fill="#228a8d"/>
<circle cx="60.4" cy="225.1" r="0.65" fill="#32658d"/>
<circle cx="73.9" cy="225.9" r="0.65" fill="#a4da36"/>
<circle cx="73.0" cy="226.6" r="0.65" fill="#4fc26a"/>
<circle cx="74.7" cy="226.7" r="0.65" fill="#d0e11c"/>
<circle cx="66.5" cy="236.9" r="0.65" fill="#23868e"/>
<circle cx="64.3" cy="228.0" r="0.65" fill="#3c4e89"/>
<circle cx="70.9" cy="235.2" r="0.65" fill="#3ab976"/>
<circle cx="70.2" cy="220.6" r="0.65" fill="#c7e021"/>
<circle cx="69.2" cy="227.9" r="0.65" fill="#21a386"/>
<circle cx="62.6" cy="231.5" r="0.65" fill="#24848e"/>
<circle cx="65.5" cy="234.6" r="0.65" fill="#31b47a"/>
<circle cx="74.5" cy="222.3" r="0.65" fill="#fce624"/>
<circle cx="59.4" cy="236.9" r="0.65" fill="#30688e"/>
<circle cx="73.3" cy="234.0" r="0.65" fill="#72ce55"/>
<circle cx="77.1" cy="226.4" r="0.65" fill="#b4dd2c"/>
<circle cx="64.7" cy="227.5" r="0.65" fill="#228a8d"/>
<circle cx="71.5" cy="219.3" r="0.65" fill="#f2e522"/>
<circle cx="75.0" cy="220.9" r="0.65" fill="#d2e21b"/>
<circle cx="59.7" cy="235.3" r="0.65" fill="#30688e"/>
<circle cx="73.3" cy="224.0" r="0.65" fill="#e2e31e"/>
<circle cx="71.0" cy="229.1" r="0.65" fill="#1f998a"/>
<circle cx="61.4" cy="229.5" r="0.65" fill="#2d718e"/>
<circle cx="58.2" cy="236.5" r="0.65" fill="#218f8c"/>
<circle cx="69.8" cy="229.4" r="0.65" fill="#20a186"/>
<circle cx="71.9" cy="229.1" r="0.65" fill="#44be70"/>
<circle cx="72.2" cy="219.2" r="0.65" fill="#7cd14f"/>
<circle cx="75.3" cy="230.6" r="0.65" fill="#87d448"/>
<circle cx="58.3" cy="232.0" r="0.65" fill="#2d6f8e"/>
<circle cx="64.2" cy="226.8" r="0.65" fill="#23868e"/>
<circle cx="63.0" cy="228.8" r="0.65" fill="#24848e"/>
<circle cx="61.9" cy="232.1" r="0.65" fill="#e8f0e0"/>
<circle cx="66.1" cy="225.3" r="0.65" fill="#e8f0e0"/>
<circle cx="70.0" cy="219.0" r="0.65" fill="#c3df23"/>
<circle cx="65.6" cy="231.4" r="0.65" fill="#21a286"/>
<circle cx="64.8" cy="224.4" r="0.65" fill="#3d4c89"/>
<circle cx="75.9" cy="227.8" r="0.65" fill="#d9e21c"/>
<circle cx="73.8" cy="231.3" r="0.65" fill="#7ed24e"/>
<circle cx="69.0" cy="223.9" r="0.65" fill="#e2e31e"/>
<circle cx="76.7" cy="223.6" r="0.65" fill="#bcde27"/>
<line x1="47.40" y1="212.30" x2="47.60" y2="220.20" stroke="#2a2a40" stroke-width="1.0"/>
<line x1="46.00" y1="215.00" x2="48.50" y2="215.50" stroke="#2a2a40" stroke-width="0.6"/>
<ellipse cx="48.0" cy="218.3" rx="1.1" ry="1.6" fill="#2a3040"/>
<line x1="40.30" y1="225.80" x2="47.00" y2="223.30" stroke="#3aa070" stroke-width="0.9"/>
<circle cx="70.3" cy="204.7" r="0.7" fill="#c8c8b0"/>
<text x="0.30" y="301.60" font-size="11.5" font-weight="bold" fill="#000">I</text>
<text x="35.80" y="303.40" font-size="7.9" stroke="#231f20" stroke-width="0.2" text-anchor="middle">ABM</text>
<text x="61.20" y="303.40" font-size="7.9" stroke="#231f20" stroke-width="0.2" text-anchor="middle">ABM</text>
<text x="35.60" y="313.10" font-size="7.9" stroke="#231f20" stroke-width="0.2" text-anchor="middle">CD41<tspan font-size="5.69" dx="0.47" dy="-3.32">+</tspan></text>
<text x="61.00" y="313.10" font-size="7.9" stroke="#231f20" stroke-width="0.2" text-anchor="middle">CD41<tspan font-size="5.69" dx="0.47" dy="-3.32">&#8722;</tspan></text>
<rect x="23.90" y="316.20" width="23.90" height="7.80" fill="#d03a2e"/>
<rect x="50.00" y="316.20" width="23.90" height="7.80" fill="#d2e3ef"/>
<text x="77.10" y="322.50" font-size="7.8" font-weight="bold" fill="#000">GATA, TAL1</text>
<rect x="23.90" y="325.73" width="23.90" height="7.80" fill="#e0624a"/>
<rect x="50.00" y="325.73" width="23.90" height="7.80" fill="#d2e3ef"/>
<text x="77.10" y="332.03" font-size="7.8" stroke="#231f20" stroke-width="0.2">RBPJ</text>
<rect x="23.90" y="335.26" width="23.90" height="7.80" fill="#e0644c"/>
<rect x="50.00" y="335.26" width="23.90" height="7.80" fill="#b8d5e9"/>
<text x="77.10" y="341.56" font-size="7.8" stroke="#231f20" stroke-width="0.2">TCF3, HAND1</text>
<rect x="23.90" y="344.79" width="23.90" height="7.80" fill="#e1684f"/>
<rect x="50.00" y="344.79" width="23.90" height="7.80" fill="#e7eaf0"/>
<text x="77.10" y="351.09" font-size="7.8" stroke="#231f20" stroke-width="0.2">SMAD2, SMAD3</text>
<rect x="23.90" y="354.32" width="23.90" height="7.80" fill="#a9cde3"/>
<rect x="50.00" y="354.32" width="23.90" height="7.80" fill="#cc2a2a"/>
<text x="77.10" y="360.62" font-size="7.8" stroke="#231f20" stroke-width="0.2">PU.1</text>
<rect x="23.90" y="363.85" width="23.90" height="7.80" fill="#6ba7d2"/>
<rect x="50.00" y="363.85" width="23.90" height="7.80" fill="#d9473a"/>
<text x="77.10" y="370.15" font-size="7.8" stroke="#231f20" stroke-width="0.2">BCL11A</text>
<rect x="23.90" y="373.38" width="23.90" height="7.80" fill="#6aa6d1"/>
<rect x="50.00" y="373.38" width="23.90" height="7.80" fill="#d94a3b"/>
<text x="77.10" y="379.68" font-size="7.8" stroke="#231f20" stroke-width="0.2">ETV5, FLI1</text>
<rect x="23.90" y="382.91" width="23.90" height="7.80" fill="#8dbfdc"/>
<rect x="50.00" y="382.91" width="23.90" height="7.80" fill="#e6735d"/>
<text x="77.10" y="389.21" font-size="7.8" stroke="#231f20" stroke-width="0.2">IRF1&#8211;4, IRF8&#8211;9</text>
<rect x="23.90" y="392.44" width="23.90" height="7.80" fill="#6ca7d2"/>
<rect x="50.00" y="392.44" width="23.90" height="7.80" fill="#cf3b30"/>
<text x="77.10" y="398.74" font-size="7.8" stroke="#231f20" stroke-width="0.2">ELF1, ELF5</text>
<rect x="23.90" y="401.97" width="23.90" height="7.80" fill="#2b7bba"/>
<rect x="50.00" y="401.97" width="23.90" height="7.80" fill="#5a0f1c"/>
<text x="77.10" y="408.27" font-size="7.8" stroke="#231f20" stroke-width="0.2">SPI1, SPIB, SPIC</text>
<defs><linearGradient id="gI" x1="0" x2="1" y1="0" y2="0"><stop offset="0" stop-color="#0a3d7a"/><stop offset="0.15" stop-color="#2a6fb0"/><stop offset="0.3" stop-color="#6aa5d0"/><stop offset="0.45" stop-color="#d5e5f0"/><stop offset="0.5" stop-color="#f4f1f0"/><stop offset="0.58" stop-color="#f8d4c0"/><stop offset="0.72" stop-color="#e8836a"/><stop offset="0.86" stop-color="#c0272d"/><stop offset="1" stop-color="#6a0a1a"/></linearGradient></defs>
<rect x="135.30" y="306.20" width="56.60" height="6.90" fill="url(#gI)"/>
<line x1="135.60" y1="313.10" x2="135.60" y2="314.60" stroke="#231f20" stroke-width="0.6"/>
<line x1="164.10" y1="313.10" x2="164.10" y2="314.60" stroke="#231f20" stroke-width="0.6"/>
<line x1="191.60" y1="313.10" x2="191.60" y2="314.60" stroke="#231f20" stroke-width="0.6"/>
<text x="164.00" y="303.20" font-size="7.6" stroke="#231f20" stroke-width="0.2" text-anchor="middle">&#8722;log10(p-value)</text>
<text x="136.40" y="324.00" font-size="7.6" stroke="#231f20" stroke-width="0.2" text-anchor="middle">&#8722;10</text>
<text x="164.10" y="324.00" font-size="7.6" stroke="#231f20" stroke-width="0.2" text-anchor="middle">0</text>
<text x="192.70" y="324.00" font-size="7.6" stroke="#231f20" stroke-width="0.2" text-anchor="middle">10</text>
<text x="-2.20" y="438.60" font-size="11.5" font-weight="bold" fill="#000">J</text>
<text x="80.20" y="444.50" font-size="9.2" stroke="#231f20" stroke-width="0.2" text-anchor="middle">GATA1 motif</text>
<line x1="32.70" y1="449.50" x2="32.70" y2="544.30" stroke="#231f20" stroke-width="0.9"/>
<line x1="32.30" y1="543.90" x2="126.50" y2="543.90" stroke="#231f20" stroke-width="0.9"/>
<line x1="30.10" y1="455.20" x2="32.70" y2="455.20" stroke="#231f20" stroke-width="0.7"/>
<text x="28.50" y="457.90" font-size="7.9" stroke="#231f20" stroke-width="0.2" text-anchor="end">10</text>
<line x1="30.10" y1="474.85" x2="32.70" y2="474.85" stroke="#231f20" stroke-width="0.7"/>
<text x="28.50" y="477.55" font-size="7.9" stroke="#231f20" stroke-width="0.2" text-anchor="end">5</text>
<line x1="30.10" y1="494.50" x2="32.70" y2="494.50" stroke="#231f20" stroke-width="0.7"/>
<text x="28.50" y="497.20" font-size="7.9" stroke="#231f20" stroke-width="0.2" text-anchor="end">0</text>
<line x1="30.10" y1="514.15" x2="32.70" y2="514.15" stroke="#231f20" stroke-width="0.7"/>
<text x="28.50" y="516.85" font-size="7.9" stroke="#231f20" stroke-width="0.2" text-anchor="end">&#8722;5</text>
<line x1="30.10" y1="533.80" x2="32.70" y2="533.80" stroke="#231f20" stroke-width="0.7"/>
<text x="28.50" y="536.50" font-size="7.9" stroke="#231f20" stroke-width="0.2" text-anchor="end">&#8722;10</text>
<line x1="45.20" y1="543.90" x2="45.20" y2="546.50" stroke="#231f20" stroke-width="0.7"/>
<text x="45.20" y="555.80" font-size="7.9" stroke="#231f20" stroke-width="0.2" text-anchor="middle">&#8722;10</text>
<line x1="64.35" y1="543.90" x2="64.35" y2="546.50" stroke="#231f20" stroke-width="0.7"/>
<text x="64.35" y="555.80" font-size="7.9" stroke="#231f20" stroke-width="0.2" text-anchor="middle">&#8722;5</text>
<line x1="83.50" y1="543.90" x2="83.50" y2="546.50" stroke="#231f20" stroke-width="0.7"/>
<text x="83.50" y="555.80" font-size="7.9" stroke="#231f20" stroke-width="0.2" text-anchor="middle">0</text>
<line x1="102.65" y1="543.90" x2="102.65" y2="546.50" stroke="#231f20" stroke-width="0.7"/>
<text x="102.65" y="555.80" font-size="7.9" stroke="#231f20" stroke-width="0.2" text-anchor="middle">5</text>
<line x1="121.80" y1="543.90" x2="121.80" y2="546.50" stroke="#231f20" stroke-width="0.7"/>
<text x="121.80" y="555.80" font-size="7.9" stroke="#231f20" stroke-width="0.2" text-anchor="middle">10</text>
<defs><linearGradient id="vJ" x1="0" x2="0" y1="0" y2="1"><stop offset="0.000" stop-color="#fde725"/><stop offset="0.067" stop-color="#d2e21b"/><stop offset="0.133" stop-color="#a5db36"/><stop offset="0.200" stop-color="#7ad151"/><stop offset="0.267" stop-color="#54c568"/><stop offset="0.333" stop-color="#35b779"/><stop offset="0.400" stop-color="#22a884"/><stop offset="0.467" stop-color="#1f988b"/><stop offset="0.533" stop-color="#23888e"/><stop offset="0.600" stop-color="#2a788e"/><stop offset="0.667" stop-color="#31688e"/><stop offset="0.733" stop-color="#39568c"/><stop offset="0.800" stop-color="#414487"/><stop offset="0.867" stop-color="#472f7d"/><stop offset="0.933" stop-color="#481a6c"/><stop offset="1.000" stop-color="#440154"/></linearGradient></defs>
<rect x="130.40" y="455.00" width="4.50" height="77.70" fill="url(#vJ)" stroke="#231f20" stroke-width="0.9"/>
<line x1="134.90" y1="456.30" x2="137.00" y2="456.30" stroke="#231f20" stroke-width="0.7"/>
<text x="140.70" y="459.10" font-size="7.9" stroke="#231f20" stroke-width="0.2">0.04</text>
<line x1="134.90" y1="473.10" x2="137.00" y2="473.10" stroke="#231f20" stroke-width="0.7"/>
<text x="140.70" y="475.90" font-size="7.9" stroke="#231f20" stroke-width="0.2">0.02</text>
<line x1="134.90" y1="489.80" x2="137.00" y2="489.80" stroke="#231f20" stroke-width="0.7"/>
<text x="140.70" y="492.60" font-size="7.9" stroke="#231f20" stroke-width="0.2">0.00</text>
<line x1="134.90" y1="506.50" x2="137.00" y2="506.50" stroke="#231f20" stroke-width="0.7"/>
<text x="140.70" y="509.30" font-size="7.9" stroke="#231f20" stroke-width="0.2">&#8722;0.02</text>
<line x1="134.90" y1="523.20" x2="137.00" y2="523.20" stroke="#231f20" stroke-width="0.7"/>
<text x="140.70" y="526.00" font-size="7.9" stroke="#231f20" stroke-width="0.2">&#8722;0.04</text>
<polygon points="76.5,452.5 80.0,451.3 86.0,452.0 89.8,455.5 91.0,460.0 90.5,466.0 88.0,470.0 83.0,471.3 78.0,470.8 75.0,468.8 73.4,465.5 73.8,463.8 75.8,465.6 78.2,467.2 80.8,466.5 81.8,463.8 79.5,461.0 77.5,458.0 76.3,455.0" fill="#2e3466" fill-opacity="0.35"/>
<circle cx="81.7" cy="454.8" r="0.65" fill="#282c58"/>
<circle cx="81.7" cy="454.0" r="0.65" fill="#dfe3ea"/>
<circle cx="86.4" cy="453.7" r="0.65" fill="#403a78"/>
<circle cx="89.7" cy="458.8" r="0.65" fill="#24224f"/>
<circle cx="77.7" cy="457.9" r="0.65" fill="#403a78"/>
<circle cx="87.1" cy="461.0" r="0.65" fill="#3a3570"/>
<circle cx="73.2" cy="465.4" r="0.65" fill="#33306a"/>
<circle cx="84.0" cy="462.3" r="0.65" fill="#2b2d5e"/>
<circle cx="87.9" cy="455.5" r="0.65" fill="#282c58"/>
<circle cx="86.1" cy="467.1" r="0.65" fill="#24224f"/>
<circle cx="74.3" cy="464.7" r="0.65" fill="#33306a"/>
<circle cx="87.8" cy="461.1" r="0.65" fill="#403a78"/>
<circle cx="79.2" cy="469.8" r="0.65" fill="#282c58"/>
<circle cx="77.7" cy="458.2" r="0.65" fill="#282c58"/>
<circle cx="90.4" cy="464.5" r="0.65" fill="#2b2d5e"/>
<circle cx="73.9" cy="466.0" r="0.65" fill="#2e2a60"/>
<circle cx="86.2" cy="452.8" r="0.65" fill="#33306a"/>
<circle cx="75.0" cy="465.4" r="0.65" fill="#403a78"/>
<circle cx="80.2" cy="468.0" r="0.65" fill="#403a78"/>
<circle cx="86.1" cy="468.9" r="0.65" fill="#282c58"/>
<circle cx="78.8" cy="471.0" r="0.65" fill="#33306a"/>
<circle cx="86.4" cy="452.9" r="0.65" fill="#2e2a60"/>
<circle cx="79.3" cy="459.8" r="0.65" fill="#403a78"/>
<circle cx="87.9" cy="453.5" r="0.65" fill="#2e2a60"/>
<circle cx="80.6" cy="452.0" r="0.65" fill="#33306a"/>
<circle cx="86.9" cy="455.9" r="0.65" fill="#3a3570"/>
<circle cx="79.2" cy="455.0" r="0.65" fill="#282c58"/>
<circle cx="81.5" cy="461.5" r="0.65" fill="#dfe3ea"/>
<circle cx="80.7" cy="453.6" r="0.65" fill="#282c58"/>
<circle cx="80.8" cy="461.6" r="0.65" fill="#282c58"/>
<circle cx="80.2" cy="458.8" r="0.65" fill="#282c58"/>
<circle cx="79.6" cy="456.9" r="0.65" fill="#24224f"/>
<circle cx="76.4" cy="465.9" r="0.65" fill="#282c58"/>
<circle cx="81.7" cy="457.3" r="0.65" fill="#dfe3ea"/>
<circle cx="78.5" cy="467.9" r="0.65" fill="#24224f"/>
<circle cx="90.1" cy="462.3" r="0.65" fill="#282c58"/>
<circle cx="85.3" cy="465.5" r="0.65" fill="#dfe3ea"/>
<circle cx="77.6" cy="458.0" r="0.65" fill="#3a3570"/>
<circle cx="84.7" cy="467.7" r="0.65" fill="#403a78"/>
<circle cx="84.6" cy="455.4" r="0.65" fill="#282c58"/>
<circle cx="79.7" cy="460.3" r="0.65" fill="#2b2d5e"/>
<circle cx="78.5" cy="452.0" r="0.65" fill="#4a5a8a"/>
<circle cx="90.7" cy="459.6" r="0.65" fill="#2b2d5e"/>
<circle cx="85.0" cy="466.1" r="0.65" fill="#3a3570"/>
<circle cx="88.4" cy="463.6" r="0.65" fill="#403a78"/>
<circle cx="80.2" cy="468.9" r="0.65" fill="#403a78"/>
<circle cx="80.3" cy="458.8" r="0.65" fill="#2e2a60"/>
<circle cx="83.1" cy="459.0" r="0.65" fill="#282c58"/>
<circle cx="76.5" cy="453.3" r="0.65" fill="#33306a"/>
<circle cx="79.4" cy="466.9" r="0.65" fill="#403a78"/>
<circle cx="86.9" cy="454.9" r="0.65" fill="#403a78"/>
<circle cx="80.1" cy="468.5" r="0.65" fill="#2e2a60"/>
<circle cx="90.1" cy="462.4" r="0.65" fill="#2b2d5e"/>
<circle cx="86.1" cy="457.5" r="0.65" fill="#dfe3ea"/>
<circle cx="80.1" cy="470.6" r="0.65" fill="#3b3f7c"/>
<circle cx="78.5" cy="457.1" r="0.65" fill="#24224f"/>
<circle cx="84.2" cy="462.9" r="0.65" fill="#2e2a60"/>
<circle cx="88.9" cy="458.7" r="0.65" fill="#4a5a8a"/>
<circle cx="88.3" cy="467.7" r="0.65" fill="#2b2d5e"/>
<circle cx="77.1" cy="453.4" r="0.65" fill="#282c58"/>
<circle cx="80.4" cy="470.0" r="0.65" fill="#3b3f7c"/>
<circle cx="85.1" cy="470.5" r="0.65" fill="#24224f"/>
<circle cx="84.7" cy="461.2" r="0.65" fill="#2b2d5e"/>
<circle cx="88.2" cy="468.6" r="0.65" fill="#3a6d8a"/>
<circle cx="86.0" cy="454.3" r="0.65" fill="#2b2d5e"/>
<circle cx="79.5" cy="456.3" r="0.65" fill="#2e2a60"/>
<circle cx="85.8" cy="454.7" r="0.65" fill="#dfe3ea"/>
<circle cx="80.2" cy="455.5" r="0.65" fill="#dfe3ea"/>
<circle cx="81.0" cy="468.0" r="0.65" fill="#2e2a60"/>
<circle cx="87.3" cy="461.4" r="0.65" fill="#24224f"/>
<circle cx="82.8" cy="453.8" r="0.65" fill="#3a3570"/>
<circle cx="84.7" cy="460.1" r="0.65" fill="#3a3570"/>
<circle cx="80.5" cy="453.2" r="0.65" fill="#24224f"/>
<circle cx="76.4" cy="469.4" r="0.65" fill="#3a3570"/>
<circle cx="79.2" cy="469.9" r="0.65" fill="#dfe3ea"/>
<circle cx="88.0" cy="461.6" r="0.65" fill="#2e2a60"/>
<circle cx="76.2" cy="468.7" r="0.65" fill="#3a3570"/>
<circle cx="77.0" cy="469.9" r="0.65" fill="#24224f"/>
<circle cx="83.2" cy="461.6" r="0.65" fill="#3a3570"/>
<circle cx="89.9" cy="457.5" r="0.65" fill="#2f5f7f"/>
<circle cx="87.2" cy="455.7" r="0.65" fill="#282c58"/>
<circle cx="74.6" cy="464.8" r="0.65" fill="#3a6d8a"/>
<circle cx="82.9" cy="471.3" r="0.65" fill="#3b3f7c"/>
<circle cx="78.2" cy="457.7" r="0.65" fill="#3a3570"/>
<circle cx="79.5" cy="460.5" r="0.65" fill="#3a3570"/>
<circle cx="77.8" cy="454.0" r="0.65" fill="#24224f"/>
<circle cx="84.6" cy="466.6" r="0.65" fill="#2b2d5e"/>
<circle cx="80.0" cy="469.0" r="0.65" fill="#2b2d5e"/>
<circle cx="86.2" cy="456.0" r="0.65" fill="#33306a"/>
<circle cx="83.1" cy="466.5" r="0.65" fill="#2b2d5e"/>
<circle cx="87.3" cy="469.7" r="0.65" fill="#3a6d8a"/>
<circle cx="86.9" cy="458.7" r="0.65" fill="#403a78"/>
<circle cx="90.1" cy="461.9" r="0.65" fill="#282c58"/>
<circle cx="86.6" cy="465.6" r="0.65" fill="#dfe3ea"/>
<circle cx="78.6" cy="459.1" r="0.65" fill="#3a6d8a"/>
<circle cx="77.2" cy="456.1" r="0.65" fill="#3b3f7c"/>
<circle cx="85.2" cy="463.8" r="0.65" fill="#2b2d5e"/>
<circle cx="83.7" cy="455.3" r="0.65" fill="#3a3570"/>
<circle cx="77.1" cy="469.9" r="0.65" fill="#dfe3ea"/>
<circle cx="76.7" cy="467.1" r="0.65" fill="#24224f"/>
<circle cx="77.9" cy="470.5" r="0.65" fill="#3a3570"/>
<circle cx="81.2" cy="465.1" r="0.65" fill="#2b2d5e"/>
<circle cx="80.8" cy="460.8" r="0.65" fill="#2e2a60"/>
<circle cx="82.7" cy="462.3" r="0.65" fill="#2b2d5e"/>
<circle cx="79.5" cy="451.7" r="0.65" fill="#dfe3ea"/>
<circle cx="88.6" cy="465.0" r="0.65" fill="#3b3f7c"/>
<circle cx="79.1" cy="457.2" r="0.65" fill="#33306a"/>
<circle cx="78.9" cy="459.4" r="0.65" fill="#3a6d8a"/>
<circle cx="86.3" cy="470.4" r="0.65" fill="#24224f"/>
<circle cx="87.4" cy="468.4" r="0.65" fill="#403a78"/>
<circle cx="81.1" cy="452.0" r="0.65" fill="#24224f"/>
<circle cx="84.0" cy="457.2" r="0.65" fill="#282c58"/>
<circle cx="77.5" cy="469.4" r="0.65" fill="#2e2a60"/>
<circle cx="84.8" cy="451.5" r="0.65" fill="#24224f"/>
<circle cx="86.0" cy="465.1" r="0.65" fill="#2e2a60"/>
<circle cx="90.2" cy="464.8" r="0.65" fill="#2b2d5e"/>
<circle cx="77.2" cy="452.5" r="0.65" fill="#2b2d5e"/>
<circle cx="80.9" cy="470.2" r="0.65" fill="#2e2a60"/>
<circle cx="88.9" cy="468.5" r="0.65" fill="#3a3570"/>
<circle cx="87.2" cy="454.5" r="0.65" fill="#403a78"/>
<circle cx="88.7" cy="466.2" r="0.65" fill="#403a78"/>
<circle cx="78.3" cy="452.3" r="0.65" fill="#4a5a8a"/>
<circle cx="77.2" cy="456.9" r="0.65" fill="#24224f"/>
<circle cx="84.1" cy="466.0" r="0.65" fill="#dfe3ea"/>
<circle cx="79.5" cy="458.5" r="0.65" fill="#3a3570"/>
<circle cx="88.4" cy="469.5" r="0.65" fill="#2e2a60"/>
<circle cx="90.9" cy="462.1" r="0.65" fill="#dfe3ea"/>
<circle cx="76.0" cy="455.2" r="0.65" fill="#3a3570"/>
<circle cx="77.3" cy="470.3" r="0.65" fill="#33306a"/>
<circle cx="91.0" cy="462.1" r="0.65" fill="#33306a"/>
<circle cx="86.6" cy="453.2" r="0.65" fill="#dfe3ea"/>
<circle cx="80.1" cy="467.7" r="0.65" fill="#2f5f7f"/>
<circle cx="83.5" cy="470.2" r="0.65" fill="#33306a"/>
<circle cx="79.3" cy="456.4" r="0.65" fill="#282c58"/>
<circle cx="85.7" cy="455.5" r="0.65" fill="#2b2d5e"/>
<circle cx="80.8" cy="462.3" r="0.65" fill="#3b3f7c"/>
<circle cx="82.2" cy="453.4" r="0.65" fill="#dfe3ea"/>
<circle cx="84.4" cy="458.2" r="0.65" fill="#24224f"/>
<circle cx="82.6" cy="463.8" r="0.65" fill="#24224f"/>
<circle cx="80.1" cy="451.6" r="0.65" fill="#3a3570"/>
<circle cx="87.8" cy="453.7" r="0.65" fill="#2b2d5e"/>
<circle cx="81.0" cy="462.4" r="0.65" fill="#dfe3ea"/>
<circle cx="79.2" cy="469.3" r="0.65" fill="#24224f"/>
<circle cx="87.0" cy="467.4" r="0.65" fill="#24224f"/>
<circle cx="90.8" cy="459.1" r="0.65" fill="#3a3570"/>
<circle cx="83.6" cy="451.8" r="0.65" fill="#4a5a8a"/>
<circle cx="84.4" cy="453.8" r="0.65" fill="#3b3f7c"/>
<circle cx="80.8" cy="460.8" r="0.65" fill="#24224f"/>
<circle cx="90.8" cy="461.0" r="0.65" fill="#2b2d5e"/>
<circle cx="78.7" cy="452.4" r="0.65" fill="#3b3f7c"/>
<circle cx="84.2" cy="453.0" r="0.65" fill="#2b2d5e"/>
<circle cx="84.5" cy="470.7" r="0.65" fill="#403a78"/>
<circle cx="88.2" cy="456.0" r="0.65" fill="#3a3570"/>
<circle cx="83.1" cy="465.3" r="0.65" fill="#3b3f7c"/>
<circle cx="89.2" cy="458.0" r="0.65" fill="#33306a"/>
<circle cx="82.6" cy="471.2" r="0.65" fill="#2b2d5e"/>
<circle cx="80.1" cy="456.9" r="0.65" fill="#2e2a60"/>
<circle cx="88.3" cy="466.4" r="0.65" fill="#2e2a60"/>
<circle cx="83.6" cy="468.6" r="0.65" fill="#3b3f7c"/>
<circle cx="79.8" cy="454.0" r="0.65" fill="#2b2d5e"/>
<circle cx="83.2" cy="455.6" r="0.65" fill="#2e2a60"/>
<circle cx="83.4" cy="466.2" r="0.65" fill="#24224f"/>
<circle cx="81.8" cy="451.8" r="0.65" fill="#33306a"/>
<circle cx="81.5" cy="460.0" r="0.65" fill="#24224f"/>
<circle cx="89.7" cy="467.1" r="0.65" fill="#33306a"/>
<circle cx="84.8" cy="458.6" r="0.65" fill="#282c58"/>
<circle cx="81.7" cy="453.1" r="0.65" fill="#3a3570"/>
<circle cx="84.7" cy="469.6" r="0.65" fill="#2b2d5e"/>
<circle cx="81.9" cy="466.4" r="0.65" fill="#282c58"/>
<circle cx="78.6" cy="453.3" r="0.65" fill="#2f5f7f"/>
<circle cx="78.0" cy="455.8" r="0.65" fill="#dfe3ea"/>
<circle cx="78.0" cy="469.5" r="0.65" fill="#dfe3ea"/>
<circle cx="84.1" cy="470.8" r="0.65" fill="#3a3570"/>
<circle cx="89.6" cy="458.7" r="0.65" fill="#282c58"/>
<circle cx="80.4" cy="451.9" r="0.65" fill="#4a5a8a"/>
<circle cx="77.0" cy="470.1" r="0.65" fill="#3b3f7c"/>
<circle cx="88.3" cy="458.3" r="0.65" fill="#2b2d5e"/>
<circle cx="88.7" cy="464.7" r="0.65" fill="#24224f"/>
<circle cx="81.7" cy="466.0" r="0.65" fill="#403a78"/>
<circle cx="81.7" cy="458.5" r="0.65" fill="#33306a"/>
<circle cx="86.3" cy="462.9" r="0.65" fill="#2b2d5e"/>
<circle cx="89.8" cy="460.5" r="0.65" fill="#2f5f7f"/>
<circle cx="80.3" cy="468.7" r="0.65" fill="#282c58"/>
<circle cx="85.9" cy="465.0" r="0.65" fill="#3b3f7c"/>
<circle cx="87.4" cy="466.2" r="0.65" fill="#2b2d5e"/>
<circle cx="85.9" cy="457.4" r="0.65" fill="#33306a"/>
<circle cx="81.3" cy="462.1" r="0.65" fill="#3a6d8a"/>
<circle cx="86.8" cy="463.1" r="0.65" fill="#2b2d5e"/>
<circle cx="84.8" cy="454.5" r="0.65" fill="#282c58"/>
<circle cx="90.5" cy="456.9" r="0.65" fill="#4a5a8a"/>
<circle cx="87.5" cy="457.5" r="0.65" fill="#dfe3ea"/>
<circle cx="88.4" cy="459.0" r="0.65" fill="#2b2d5e"/>
<circle cx="83.1" cy="462.8" r="0.65" fill="#24224f"/>
<circle cx="88.7" cy="459.6" r="0.65" fill="#24224f"/>
<circle cx="90.2" cy="462.4" r="0.65" fill="#282c58"/>
<circle cx="84.7" cy="461.4" r="0.65" fill="#3b3f7c"/>
<circle cx="76.2" cy="469.6" r="0.65" fill="#dfe3ea"/>
<circle cx="79.6" cy="456.0" r="0.65" fill="#282c58"/>
<circle cx="81.3" cy="451.9" r="0.65" fill="#282c58"/>
<circle cx="87.9" cy="457.3" r="0.65" fill="#33306a"/>
<circle cx="80.5" cy="468.1" r="0.65" fill="#403a78"/>
<circle cx="87.9" cy="458.5" r="0.65" fill="#2b2d5e"/>
<circle cx="87.4" cy="459.0" r="0.65" fill="#2f5f7f"/>
<circle cx="84.7" cy="470.3" r="0.65" fill="#282c58"/>
<circle cx="78.4" cy="459.3" r="0.65" fill="#282c58"/>
<circle cx="90.6" cy="461.3" r="0.65" fill="#2e2a60"/>
<circle cx="90.0" cy="466.4" r="0.65" fill="#3b3f7c"/>
<circle cx="78.8" cy="457.6" r="0.65" fill="#4a5a8a"/>
<circle cx="84.7" cy="464.0" r="0.65" fill="#33306a"/>
<circle cx="81.5" cy="471.3" r="0.65" fill="#2b2d5e"/>
<circle cx="79.5" cy="458.3" r="0.65" fill="#2e2a60"/>
<circle cx="83.4" cy="457.2" r="0.65" fill="#33306a"/>
<circle cx="82.6" cy="464.4" r="0.65" fill="#3b3f7c"/>
<circle cx="90.7" cy="457.6" r="0.65" fill="#3a3570"/>
<circle cx="80.6" cy="458.8" r="0.65" fill="#33306a"/>
<circle cx="81.2" cy="454.5" r="0.65" fill="#33306a"/>
<circle cx="80.9" cy="466.1" r="0.65" fill="#3a3570"/>
<circle cx="82.7" cy="456.1" r="0.65" fill="#2e2a60"/>
<circle cx="89.4" cy="466.0" r="0.65" fill="#403a78"/>
<circle cx="79.1" cy="468.4" r="0.65" fill="#3b3f7c"/>
<circle cx="82.9" cy="455.5" r="0.65" fill="#403a78"/>
<circle cx="88.0" cy="454.2" r="0.65" fill="#3b3f7c"/>
<circle cx="90.9" cy="462.6" r="0.65" fill="#2b2d5e"/>
<circle cx="74.0" cy="466.5" r="0.65" fill="#2e2a60"/>
<circle cx="77.9" cy="454.1" r="0.65" fill="#282c58"/>
<circle cx="85.4" cy="469.4" r="0.65" fill="#2f5f7f"/>
<circle cx="85.2" cy="469.8" r="0.65" fill="#2b2d5e"/>
<circle cx="89.7" cy="463.3" r="0.65" fill="#3a3570"/>
<circle cx="88.1" cy="454.1" r="0.65" fill="#24224f"/>
<circle cx="74.4" cy="466.9" r="0.65" fill="#2e2a60"/>
<circle cx="85.4" cy="470.8" r="0.65" fill="#4a5a8a"/>
<circle cx="85.3" cy="464.0" r="0.65" fill="#2b2d5e"/>
<circle cx="81.8" cy="471.3" r="0.65" fill="#4a5a8a"/>
<circle cx="77.6" cy="467.9" r="0.65" fill="#dfe3ea"/>
<circle cx="77.8" cy="455.3" r="0.65" fill="#2e2a60"/>
<circle cx="86.4" cy="463.6" r="0.65" fill="#2b2d5e"/>
<circle cx="79.9" cy="452.1" r="0.65" fill="#dfe3ea"/>
<circle cx="83.6" cy="454.1" r="0.65" fill="#24224f"/>
<circle cx="81.4" cy="466.8" r="0.65" fill="#3b3f7c"/>
<circle cx="88.1" cy="469.1" r="0.65" fill="#403a78"/>
<circle cx="74.7" cy="468.1" r="0.65" fill="#282c58"/>
<circle cx="81.1" cy="451.6" r="0.65" fill="#282c58"/>
<circle cx="85.2" cy="468.0" r="0.65" fill="#403a78"/>
<circle cx="87.8" cy="464.0" r="0.65" fill="#3b3f7c"/>
<circle cx="89.5" cy="467.8" r="0.65" fill="#24224f"/>
<circle cx="81.3" cy="462.6" r="0.65" fill="#4a5a8a"/>
<circle cx="83.9" cy="460.6" r="0.65" fill="#3a6d8a"/>
<circle cx="83.5" cy="468.1" r="0.65" fill="#3b3f7c"/>
<circle cx="80.0" cy="466.9" r="0.65" fill="#24224f"/>
<circle cx="80.4" cy="453.5" r="0.65" fill="#3a3570"/>
<circle cx="80.7" cy="468.3" r="0.65" fill="#2b2d5e"/>
<circle cx="89.1" cy="463.8" r="0.65" fill="#2b2d5e"/>
<circle cx="89.4" cy="455.5" r="0.65" fill="#4a5a8a"/>
<circle cx="83.1" cy="467.9" r="0.65" fill="#2e2a60"/>
<circle cx="87.7" cy="453.3" r="0.65" fill="#3a3570"/>
<circle cx="84.6" cy="465.5" r="0.65" fill="#2b2d5e"/>
<circle cx="74.2" cy="466.8" r="0.65" fill="#2b2d5e"/>
<circle cx="84.1" cy="455.2" r="0.65" fill="#33306a"/>
<circle cx="77.0" cy="466.6" r="0.65" fill="#dfe3ea"/>
<circle cx="87.0" cy="464.6" r="0.65" fill="#3a6d8a"/>
<circle cx="85.3" cy="467.5" r="0.65" fill="#2f5f7f"/>
<circle cx="78.8" cy="454.2" r="0.65" fill="#4a5a8a"/>
<circle cx="80.8" cy="460.2" r="0.65" fill="#3a3570"/>
<circle cx="80.4" cy="458.3" r="0.65" fill="#3a3570"/>
<circle cx="82.6" cy="471.3" r="0.65" fill="#3a3570"/>
<circle cx="81.9" cy="465.4" r="0.65" fill="#24224f"/>
<circle cx="88.0" cy="470.1" r="0.65" fill="#3a3570"/>
<circle cx="82.9" cy="471.2" r="0.65" fill="#2e2a60"/>
<circle cx="81.2" cy="461.4" r="0.65" fill="#403a78"/>
<circle cx="76.3" cy="465.4" r="0.65" fill="#403a78"/>
<circle cx="76.7" cy="452.2" r="0.65" fill="#2e2a60"/>
<circle cx="86.1" cy="462.5" r="0.65" fill="#3b3f7c"/>
<circle cx="88.4" cy="460.8" r="0.65" fill="#2b2d5e"/>
<circle cx="87.5" cy="455.0" r="0.65" fill="#3a3570"/>
<circle cx="87.7" cy="453.9" r="0.65" fill="#33306a"/>
<circle cx="77.8" cy="452.1" r="0.65" fill="#2e2a60"/>
<circle cx="87.4" cy="470.4" r="0.65" fill="#dfe3ea"/>
<circle cx="87.9" cy="459.5" r="0.65" fill="#282c58"/>
<circle cx="86.8" cy="458.2" r="0.65" fill="#282c58"/>
<circle cx="80.7" cy="459.6" r="0.65" fill="#403a78"/>
<circle cx="84.8" cy="464.3" r="0.65" fill="#403a78"/>
<circle cx="90.5" cy="465.7" r="0.65" fill="#33306a"/>
<circle cx="89.1" cy="465.2" r="0.65" fill="#2b2d5e"/>
<circle cx="85.9" cy="460.3" r="0.65" fill="#33306a"/>
<circle cx="82.3" cy="459.2" r="0.65" fill="#3b3f7c"/>
<circle cx="84.5" cy="467.1" r="0.65" fill="#282c58"/>
<circle cx="86.8" cy="465.8" r="0.65" fill="#3a6d8a"/>
<circle cx="82.9" cy="462.0" r="0.65" fill="#403a78"/>
<circle cx="81.5" cy="457.3" r="0.65" fill="#2e2a60"/>
<circle cx="78.4" cy="459.2" r="0.65" fill="#24224f"/>
<circle cx="85.0" cy="468.9" r="0.65" fill="#2b2d5e"/>
<circle cx="90.2" cy="460.6" r="0.65" fill="#403a78"/>
<circle cx="77.0" cy="470.3" r="0.65" fill="#3a6d8a"/>
<circle cx="86.4" cy="455.8" r="0.65" fill="#4a5a8a"/>
<circle cx="90.1" cy="457.2" r="0.65" fill="#3b3f7c"/>
<circle cx="84.2" cy="459.6" r="0.65" fill="#403a78"/>
<circle cx="81.0" cy="458.6" r="0.65" fill="#3a6d8a"/>
<circle cx="83.1" cy="467.6" r="0.65" fill="#2b2d5e"/>
<circle cx="87.9" cy="456.9" r="0.65" fill="#3b3f7c"/>
<circle cx="77.1" cy="452.3" r="0.65" fill="#33306a"/>
<circle cx="84.2" cy="460.6" r="0.65" fill="#3a6d8a"/>
<circle cx="79.6" cy="466.4" r="0.65" fill="#3a3570"/>
<circle cx="81.7" cy="454.1" r="0.65" fill="#24224f"/>
<circle cx="87.7" cy="456.2" r="0.65" fill="#3b3f7c"/>
<circle cx="82.3" cy="468.9" r="0.65" fill="#2e2a60"/>
<circle cx="82.5" cy="459.1" r="0.65" fill="#282c58"/>
<circle cx="81.3" cy="466.6" r="0.65" fill="#33306a"/>
<circle cx="83.8" cy="455.6" r="0.65" fill="#3b3f7c"/>
<circle cx="83.3" cy="464.5" r="0.65" fill="#3b3f7c"/>
<circle cx="75.5" cy="465.5" r="0.65" fill="#282c58"/>
<circle cx="83.0" cy="460.9" r="0.65" fill="#2b2d5e"/>
<circle cx="77.3" cy="458.2" r="0.65" fill="#24224f"/>
<circle cx="83.1" cy="454.4" r="0.65" fill="#4a5a8a"/>
<circle cx="84.8" cy="459.0" r="0.65" fill="#2e2a60"/>
<circle cx="90.2" cy="462.8" r="0.65" fill="#3a3570"/>
<circle cx="82.1" cy="462.1" r="0.65" fill="#2e2a60"/>
<circle cx="85.2" cy="468.1" r="0.65" fill="#3a3570"/>
<circle cx="84.6" cy="462.6" r="0.65" fill="#24224f"/>
<circle cx="88.5" cy="468.9" r="0.65" fill="#33306a"/>
<circle cx="77.3" cy="454.7" r="0.65" fill="#24224f"/>
<circle cx="81.6" cy="461.6" r="0.65" fill="#2f5f7f"/>
<circle cx="82.6" cy="451.9" r="0.65" fill="#403a78"/>
<circle cx="87.6" cy="454.2" r="0.65" fill="#3a3570"/>
<circle cx="84.2" cy="460.9" r="0.65" fill="#dfe3ea"/>
<circle cx="88.9" cy="465.9" r="0.65" fill="#24224f"/>
<circle cx="75.5" cy="466.9" r="0.65" fill="#4a5a8a"/>
<circle cx="85.7" cy="454.8" r="0.65" fill="#282c58"/>
<circle cx="87.4" cy="452.8" r="0.65" fill="#3a3570"/>
<circle cx="81.5" cy="463.2" r="0.65" fill="#3a3570"/>
<circle cx="86.2" cy="454.2" r="0.65" fill="#2f5f7f"/>
<circle cx="80.4" cy="451.5" r="0.65" fill="#3a3570"/>
<circle cx="82.1" cy="464.6" r="0.65" fill="#2e2a60"/>
<circle cx="86.7" cy="452.5" r="0.65" fill="#3b3f7c"/>
<circle cx="83.4" cy="471.2" r="0.65" fill="#282c58"/>
<circle cx="76.9" cy="466.8" r="0.65" fill="#2b2d5e"/>
<circle cx="88.8" cy="462.7" r="0.65" fill="#3a3570"/>
<circle cx="90.9" cy="460.5" r="0.65" fill="#3b3f7c"/>
<circle cx="87.5" cy="460.9" r="0.65" fill="#2e2a60"/>
<circle cx="76.4" cy="468.8" r="0.65" fill="#33306a"/>
<circle cx="85.3" cy="455.5" r="0.65" fill="#33306a"/>
<circle cx="80.7" cy="456.7" r="0.65" fill="#403a78"/>
<circle cx="76.4" cy="466.2" r="0.65" fill="#33306a"/>
<circle cx="78.2" cy="454.2" r="0.65" fill="#403a78"/>
<circle cx="81.3" cy="463.3" r="0.65" fill="#2e2a60"/>
<circle cx="87.9" cy="470.1" r="0.65" fill="#2e2a60"/>
<circle cx="83.8" cy="463.7" r="0.65" fill="#403a78"/>
<circle cx="82.9" cy="461.4" r="0.65" fill="#dfe3ea"/>
<circle cx="83.5" cy="467.8" r="0.65" fill="#3a3570"/>
<circle cx="83.5" cy="469.6" r="0.65" fill="#2b2d5e"/>
<circle cx="82.4" cy="467.6" r="0.65" fill="#3a6d8a"/>
<circle cx="85.3" cy="463.7" r="0.65" fill="#4a5a8a"/>
<circle cx="73.7" cy="464.7" r="0.65" fill="#2b2d5e"/>
<circle cx="79.2" cy="451.8" r="0.65" fill="#403a78"/>
<circle cx="86.0" cy="460.6" r="0.65" fill="#3a3570"/>
<circle cx="83.4" cy="471.5" r="0.65" fill="#282c58"/>
<circle cx="81.4" cy="461.4" r="0.65" fill="#2e2a60"/>
<circle cx="82.7" cy="471.1" r="0.65" fill="#3a3570"/>
<circle cx="86.2" cy="469.2" r="0.65" fill="#33306a"/>
<circle cx="81.9" cy="462.9" r="0.65" fill="#4a5a8a"/>
<circle cx="87.0" cy="463.5" r="0.65" fill="#4a5a8a"/>
<circle cx="76.5" cy="469.0" r="0.65" fill="#33306a"/>
<circle cx="76.9" cy="466.8" r="0.65" fill="#4a5a8a"/>
<circle cx="77.1" cy="452.6" r="0.65" fill="#2f5f7f"/>
<circle cx="86.4" cy="458.2" r="0.65" fill="#2e2a60"/>
<circle cx="82.5" cy="456.3" r="0.65" fill="#403a78"/>
<circle cx="90.0" cy="466.8" r="0.65" fill="#403a78"/>
<circle cx="82.0" cy="467.0" r="0.65" fill="#2f5f7f"/>
<circle cx="90.2" cy="457.6" r="0.65" fill="#3b3f7c"/>
<circle cx="80.1" cy="456.9" r="0.65" fill="#282c58"/>
<circle cx="75.4" cy="468.3" r="0.65" fill="#403a78"/>
<circle cx="82.7" cy="462.9" r="0.65" fill="#3a6d8a"/>
<circle cx="84.5" cy="452.6" r="0.65" fill="#3b3f7c"/>
<circle cx="88.2" cy="455.2" r="0.65" fill="#2e2a60"/>
<circle cx="90.9" cy="462.1" r="0.65" fill="#3a6d8a"/>
<circle cx="83.5" cy="461.3" r="0.65" fill="#2e2a60"/>
<circle cx="78.4" cy="469.8" r="0.65" fill="#3a3570"/>
<circle cx="86.8" cy="455.4" r="0.65" fill="#2f5f7f"/>
<circle cx="83.4" cy="469.1" r="0.65" fill="#2b2d5e"/>
<circle cx="80.4" cy="462.4" r="0.65" fill="#282c58"/>
<circle cx="87.6" cy="467.6" r="0.65" fill="#3a6d8a"/>
<circle cx="76.7" cy="452.8" r="0.65" fill="#dfe3ea"/>
<circle cx="81.3" cy="462.6" r="0.65" fill="#3b3f7c"/>
<circle cx="84.6" cy="468.6" r="0.65" fill="#24224f"/>
<circle cx="82.3" cy="457.1" r="0.65" fill="#2b2d5e"/>
<circle cx="74.1" cy="464.3" r="0.65" fill="#403a78"/>
<circle cx="86.4" cy="468.7" r="0.65" fill="#3a6d8a"/>
<circle cx="83.6" cy="462.0" r="0.65" fill="#403a78"/>
<circle cx="82.7" cy="453.8" r="0.65" fill="#dfe3ea"/>
<circle cx="85.5" cy="460.3" r="0.65" fill="#282c58"/>
<circle cx="77.0" cy="468.8" r="0.65" fill="#403a78"/>
<circle cx="82.7" cy="455.6" r="0.65" fill="#403a78"/>
<circle cx="86.6" cy="468.8" r="0.65" fill="#2f5f7f"/>
<circle cx="83.4" cy="456.1" r="0.65" fill="#24224f"/>
<circle cx="89.6" cy="466.3" r="0.65" fill="#3a3570"/>
<circle cx="83.6" cy="464.0" r="0.65" fill="#3a6d8a"/>
<circle cx="85.7" cy="465.9" r="0.65" fill="#33306a"/>
<circle cx="86.9" cy="457.2" r="0.65" fill="#403a78"/>
<circle cx="79.3" cy="466.7" r="0.65" fill="#3a3570"/>
<circle cx="84.9" cy="461.8" r="0.65" fill="#2f5f7f"/>
<circle cx="80.5" cy="456.4" r="0.65" fill="#3a3570"/>
<circle cx="74.3" cy="467.0" r="0.65" fill="#403a78"/>
<circle cx="77.3" cy="454.5" r="0.65" fill="#dfe3ea"/>
<circle cx="81.6" cy="454.0" r="0.65" fill="#403a78"/>
<circle cx="86.6" cy="457.2" r="0.65" fill="#3a3570"/>
<circle cx="85.7" cy="462.4" r="0.65" fill="#3b3f7c"/>
<circle cx="86.0" cy="469.3" r="0.65" fill="#4a5a8a"/>
<circle cx="76.8" cy="452.5" r="0.65" fill="#3a3570"/>
<circle cx="83.2" cy="470.2" r="0.65" fill="#33306a"/>
<circle cx="86.1" cy="461.2" r="0.65" fill="#24224f"/>
<circle cx="77.8" cy="455.0" r="0.65" fill="#2b2d5e"/>
<circle cx="77.9" cy="453.8" r="0.65" fill="#3a6d8a"/>
<circle cx="79.7" cy="460.8" r="0.65" fill="#2e2a60"/>
<circle cx="83.1" cy="451.9" r="0.65" fill="#2b2d5e"/>
<circle cx="80.1" cy="469.1" r="0.65" fill="#282c58"/>
<circle cx="75.7" cy="465.5" r="0.65" fill="#3b3f7c"/>
<circle cx="85.5" cy="457.7" r="0.65" fill="#3a6d8a"/>
<circle cx="84.8" cy="460.6" r="0.65" fill="#24224f"/>
<circle cx="82.4" cy="456.8" r="0.65" fill="#3a6d8a"/>
<circle cx="75.4" cy="467.2" r="0.65" fill="#2f5f7f"/>
<circle cx="79.9" cy="451.9" r="0.65" fill="#33306a"/>
<circle cx="82.7" cy="465.9" r="0.65" fill="#2e2a60"/>
<circle cx="90.3" cy="458.0" r="0.65" fill="#dfe3ea"/>
<circle cx="77.1" cy="455.9" r="0.65" fill="#33306a"/>
<circle cx="81.4" cy="463.1" r="0.65" fill="#2e2a60"/>
<circle cx="82.0" cy="471.3" r="0.65" fill="#33306a"/>
<circle cx="80.2" cy="451.9" r="0.65" fill="#3a3570"/>
<circle cx="86.4" cy="465.6" r="0.65" fill="#33306a"/>
<circle cx="80.8" cy="458.4" r="0.65" fill="#2f5f7f"/>
<circle cx="82.0" cy="462.7" r="0.65" fill="#24224f"/>
<circle cx="80.7" cy="462.3" r="0.65" fill="#2f5f7f"/>
<circle cx="85.5" cy="455.4" r="0.65" fill="#33306a"/>
<circle cx="86.6" cy="458.4" r="0.65" fill="#3a3570"/>
<circle cx="82.0" cy="452.9" r="0.65" fill="#282c58"/>
<circle cx="78.7" cy="454.3" r="0.65" fill="#2b2d5e"/>
<circle cx="85.0" cy="451.9" r="0.65" fill="#dfe3ea"/>
<circle cx="77.1" cy="452.8" r="0.65" fill="#2e2a60"/>
<circle cx="81.5" cy="467.1" r="0.65" fill="#282c58"/>
<circle cx="86.4" cy="452.4" r="0.65" fill="#282c58"/>
<circle cx="84.3" cy="451.9" r="0.65" fill="#dfe3ea"/>
<circle cx="83.4" cy="456.5" r="0.65" fill="#3a3570"/>
<circle cx="82.1" cy="459.9" r="0.65" fill="#403a78"/>
<circle cx="78.3" cy="470.7" r="0.65" fill="#dfe3ea"/>
<circle cx="77.5" cy="468.1" r="0.65" fill="#dfe3ea"/>
<circle cx="79.8" cy="452.5" r="0.65" fill="#2e2a60"/>
<circle cx="83.4" cy="461.1" r="0.65" fill="#2e2a60"/>
<circle cx="86.0" cy="467.2" r="0.65" fill="#403a78"/>
<circle cx="86.6" cy="456.0" r="0.65" fill="#3a3570"/>
<circle cx="87.1" cy="457.0" r="0.65" fill="#282c58"/>
<circle cx="83.8" cy="459.5" r="0.65" fill="#4a5a8a"/>
<circle cx="89.7" cy="457.4" r="0.65" fill="#dfe3ea"/>
<circle cx="81.0" cy="461.9" r="0.65" fill="#2e2a60"/>
<circle cx="86.7" cy="457.5" r="0.65" fill="#3a6d8a"/>
<circle cx="86.3" cy="455.8" r="0.65" fill="#dfe3ea"/>
<circle cx="78.8" cy="467.3" r="0.65" fill="#2b2d5e"/>
<circle cx="77.9" cy="458.4" r="0.65" fill="#2b2d5e"/>
<circle cx="85.5" cy="457.9" r="0.65" fill="#403a78"/>
<circle cx="85.5" cy="453.5" r="0.65" fill="#3b3f7c"/>
<circle cx="78.9" cy="457.8" r="0.65" fill="#dfe3ea"/>
<circle cx="82.3" cy="467.8" r="0.65" fill="#4a5a8a"/>
<circle cx="77.4" cy="468.4" r="0.65" fill="#33306a"/>
<circle cx="86.3" cy="462.8" r="0.65" fill="#2e2a60"/>
<circle cx="83.5" cy="463.3" r="0.65" fill="#3b3f7c"/>
<circle cx="82.5" cy="466.9" r="0.65" fill="#403a78"/>
<circle cx="81.9" cy="464.2" r="0.65" fill="#2b2d5e"/>
<circle cx="85.4" cy="460.4" r="0.65" fill="#2b2d5e"/>
<circle cx="78.1" cy="470.0" r="0.65" fill="#3b3f7c"/>
<circle cx="78.1" cy="458.6" r="0.65" fill="#3b3f7c"/>
<circle cx="82.7" cy="463.5" r="0.65" fill="#2e2a60"/>
<circle cx="83.9" cy="469.2" r="0.65" fill="#2f5f7f"/>
<circle cx="85.5" cy="455.9" r="0.65" fill="#4a5a8a"/>
<circle cx="80.4" cy="459.8" r="0.65" fill="#282c58"/>
<circle cx="84.6" cy="460.3" r="0.65" fill="#dfe3ea"/>
<circle cx="88.9" cy="468.0" r="0.65" fill="#282c58"/>
<circle cx="83.1" cy="452.0" r="0.65" fill="#2e2a60"/>
<circle cx="84.1" cy="467.0" r="0.65" fill="#282c58"/>
<circle cx="89.2" cy="455.4" r="0.65" fill="#2b2d5e"/>
<circle cx="80.6" cy="467.7" r="0.65" fill="#33306a"/>
<polygon points="96.0,497.3 100.5,496.0 106.5,497.0 110.3,500.5 111.8,506.0 111.5,512.0 108.5,516.5 102.0,518.0 96.5,516.3 93.0,512.5 91.0,507.5 92.5,501.5" fill="#2c3a6e" fill-opacity="0.35"/>
<circle cx="98.1" cy="514.0" r="0.65" fill="#2aae7f"/>
<circle cx="111.3" cy="503.2" r="0.65" fill="#4a5a8a"/>
<circle cx="94.1" cy="509.6" r="0.65" fill="#76cf53"/>
<circle cx="109.5" cy="506.0" r="0.65" fill="#2e2a60"/>
<circle cx="106.8" cy="505.3" r="0.65" fill="#33306a"/>
<circle cx="105.3" cy="515.8" r="0.65" fill="#3a6d8a"/>
<circle cx="103.1" cy="496.4" r="0.65" fill="#dfe3ea"/>
<circle cx="92.7" cy="502.3" r="0.65" fill="#218c8d"/>
<circle cx="106.4" cy="514.8" r="0.65" fill="#2e2a60"/>
<circle cx="104.0" cy="503.7" r="0.65" fill="#3a6d8a"/>
<circle cx="109.6" cy="514.9" r="0.65" fill="#2b2d5e"/>
<circle cx="106.3" cy="497.8" r="0.65" fill="#24224f"/>
<circle cx="102.9" cy="496.8" r="0.65" fill="#2e2a60"/>
<circle cx="96.6" cy="513.2" r="0.65" fill="#83d34b"/>
<circle cx="97.1" cy="513.6" r="0.65" fill="#21a485"/>
<circle cx="107.2" cy="513.4" r="0.65" fill="#2b2d5e"/>
<circle cx="109.8" cy="514.3" r="0.65" fill="#5a5a90"/>
<circle cx="99.1" cy="498.0" r="0.65" fill="#282c58"/>
<circle cx="104.0" cy="509.7" r="0.65" fill="#2e2a60"/>
<circle cx="96.9" cy="502.2" r="0.65" fill="#24224f"/>
<circle cx="105.4" cy="501.6" r="0.65" fill="#33306a"/>
<circle cx="105.2" cy="514.3" r="0.65" fill="#2b2d5e"/>
<circle cx="109.5" cy="515.0" r="0.65" fill="#dfe3ea"/>
<circle cx="110.9" cy="505.6" r="0.65" fill="#dfe3ea"/>
<circle cx="105.6" cy="514.6" r="0.65" fill="#403a78"/>
<circle cx="103.7" cy="496.7" r="0.65" fill="#403a78"/>
<circle cx="97.8" cy="497.2" r="0.65" fill="#403a78"/>
<circle cx="105.4" cy="497.2" r="0.65" fill="#33306a"/>
<circle cx="98.7" cy="516.2" r="0.65" fill="#25ab81"/>
<circle cx="100.2" cy="501.6" r="0.65" fill="#24224f"/>
<circle cx="95.5" cy="502.3" r="0.65" fill="#267f8e"/>
<circle cx="93.8" cy="512.7" r="0.65" fill="#f8e623"/>
<circle cx="103.3" cy="502.5" r="0.65" fill="#2b2d5e"/>
<circle cx="96.6" cy="506.7" r="0.65" fill="#2d708e"/>
<circle cx="91.9" cy="505.9" r="0.65" fill="#3fbb73"/>
<circle cx="99.9" cy="501.9" r="0.65" fill="#33306a"/>
<circle cx="104.4" cy="498.5" r="0.65" fill="#3a6d8a"/>
<circle cx="100.6" cy="496.1" r="0.65" fill="#33306a"/>
<circle cx="92.6" cy="510.4" r="0.65" fill="#8fd643"/>
<circle cx="102.1" cy="500.4" r="0.65" fill="#3a3570"/>
<circle cx="110.1" cy="503.5" r="0.65" fill="#282c58"/>
<circle cx="93.0" cy="505.3" r="0.65" fill="#60c860"/>
<circle cx="109.0" cy="512.5" r="0.65" fill="#282c58"/>
<circle cx="109.2" cy="515.4" r="0.65" fill="#3b3f7c"/>
<circle cx="103.8" cy="502.7" r="0.65" fill="#2e2a60"/>
<circle cx="103.3" cy="496.8" r="0.65" fill="#403a78"/>
<circle cx="100.4" cy="507.2" r="0.65" fill="#3b3f7c"/>
<circle cx="106.8" cy="516.7" r="0.65" fill="#33306a"/>
<circle cx="98.3" cy="506.0" r="0.65" fill="#5a5a90"/>
<circle cx="91.6" cy="508.5" r="0.65" fill="#cce11e"/>
<circle cx="105.6" cy="505.2" r="0.65" fill="#33306a"/>
<circle cx="105.8" cy="512.8" r="0.65" fill="#24224f"/>
<circle cx="104.5" cy="508.5" r="0.65" fill="#2e2a60"/>
<circle cx="94.8" cy="502.4" r="0.65" fill="#3b3f7c"/>
<circle cx="94.1" cy="508.1" r="0.65" fill="#dfe3ea"/>
<circle cx="91.8" cy="506.4" r="0.65" fill="#bfdf25"/>
<circle cx="107.7" cy="498.4" r="0.65" fill="#33306a"/>
<circle cx="104.0" cy="510.0" r="0.65" fill="#2b2d5e"/>
<circle cx="94.8" cy="504.0" r="0.65" fill="#218f8c"/>
<circle cx="102.0" cy="496.3" r="0.65" fill="#2e2a60"/>
<circle cx="103.2" cy="508.8" r="0.65" fill="#403a78"/>
<circle cx="104.8" cy="509.2" r="0.65" fill="#282c58"/>
<circle cx="97.7" cy="511.3" r="0.65" fill="#209e88"/>
<circle cx="95.4" cy="501.3" r="0.65" fill="#218e8c"/>
<circle cx="99.6" cy="506.6" r="0.65" fill="#3b3f7c"/>
<circle cx="107.7" cy="512.3" r="0.65" fill="#3a6d8a"/>
<circle cx="95.2" cy="508.7" r="0.65" fill="#44be70"/>
<circle cx="105.9" cy="511.5" r="0.65" fill="#3a3570"/>
<circle cx="94.5" cy="509.1" r="0.65" fill="#2db17d"/>
<circle cx="108.9" cy="503.6" r="0.65" fill="#282c58"/>
<circle cx="105.2" cy="497.3" r="0.65" fill="#3a3570"/>
<circle cx="109.9" cy="506.5" r="0.65" fill="#dfe3ea"/>
<circle cx="106.7" cy="513.5" r="0.65" fill="#403a78"/>
<circle cx="96.6" cy="511.0" r="0.65" fill="#2eb27c"/>
<circle cx="96.2" cy="502.4" r="0.65" fill="#3b3f7c"/>
<circle cx="92.8" cy="501.6" r="0.65" fill="#31678d"/>
<circle cx="108.9" cy="514.3" r="0.65" fill="#403a78"/>
<circle cx="111.5" cy="507.4" r="0.65" fill="#282c58"/>
<circle cx="106.7" cy="498.0" r="0.65" fill="#24224f"/>
<circle cx="111.2" cy="504.9" r="0.65" fill="#3a6d8a"/>
<circle cx="97.6" cy="503.7" r="0.65" fill="#403a78"/>
<circle cx="95.2" cy="506.7" r="0.65" fill="#34608d"/>
<circle cx="103.2" cy="509.1" r="0.65" fill="#5a5a90"/>
<circle cx="95.3" cy="507.2" r="0.65" fill="#38b876"/>
<circle cx="95.3" cy="500.7" r="0.65" fill="#2b2d5e"/>
<circle cx="110.8" cy="511.2" r="0.65" fill="#5a5a90"/>
<circle cx="108.9" cy="506.3" r="0.65" fill="#dfe3ea"/>
<circle cx="92.5" cy="503.0" r="0.65" fill="#218e8c"/>
<circle cx="100.7" cy="505.2" r="0.65" fill="#2b2d5e"/>
<circle cx="100.1" cy="515.9" r="0.65" fill="#2cb07e"/>
<circle cx="100.5" cy="505.7" r="0.65" fill="#24224f"/>
<circle cx="110.2" cy="502.7" r="0.65" fill="#3a3570"/>
<circle cx="109.8" cy="512.8" r="0.65" fill="#2e2a60"/>
<circle cx="92.2" cy="505.3" r="0.65" fill="#20a087"/>
<circle cx="98.0" cy="500.0" r="0.65" fill="#3a3570"/>
<circle cx="95.8" cy="508.7" r="0.65" fill="#5ac664"/>
<circle cx="94.3" cy="506.0" r="0.65" fill="#218e8c"/>
<circle cx="101.2" cy="517.6" r="0.65" fill="#58c665"/>
<circle cx="110.2" cy="500.7" r="0.65" fill="#282c58"/>
<circle cx="91.9" cy="503.4" r="0.65" fill="#63c95e"/>
<circle cx="92.3" cy="502.4" r="0.65" fill="#28ac80"/>
<circle cx="103.6" cy="516.8" r="0.65" fill="#297a8e"/>
<circle cx="101.3" cy="504.8" r="0.65" fill="#33306a"/>
<circle cx="97.2" cy="504.9" r="0.65" fill="#32648d"/>
<circle cx="110.8" cy="502.7" r="0.65" fill="#403a78"/>
<circle cx="106.4" cy="512.0" r="0.65" fill="#5a5a90"/>
<circle cx="96.7" cy="504.2" r="0.65" fill="#277d8e"/>
<circle cx="104.2" cy="510.3" r="0.65" fill="#24224f"/>
<circle cx="94.8" cy="502.6" r="0.65" fill="#287b8e"/>
<circle cx="102.7" cy="511.6" r="0.65" fill="#2e2a60"/>
<circle cx="98.4" cy="516.2" r="0.65" fill="#2aae7f"/>
<circle cx="103.9" cy="500.8" r="0.65" fill="#282c58"/>
<circle cx="108.9" cy="515.0" r="0.65" fill="#2b2d5e"/>
<circle cx="97.2" cy="512.6" r="0.65" fill="#4bc16c"/>
<circle cx="92.1" cy="510.0" r="0.65" fill="#d8e21c"/>
<circle cx="94.6" cy="505.4" r="0.65" fill="#3ebb74"/>
<circle cx="103.6" cy="509.0" r="0.65" fill="#24224f"/>
<circle cx="106.0" cy="505.3" r="0.65" fill="#2b2d5e"/>
<circle cx="102.5" cy="508.1" r="0.65" fill="#2e2a60"/>
<circle cx="106.0" cy="515.1" r="0.65" fill="#24224f"/>
<circle cx="106.3" cy="505.5" r="0.65" fill="#403a78"/>
<circle cx="95.7" cy="506.9" r="0.65" fill="#23878e"/>
<circle cx="103.9" cy="510.8" r="0.65" fill="#3a3570"/>
<circle cx="94.3" cy="499.2" r="0.65" fill="#3a3570"/>
<circle cx="106.0" cy="502.9" r="0.65" fill="#2b2d5e"/>
<circle cx="106.4" cy="509.8" r="0.65" fill="#2e2a60"/>
<circle cx="104.4" cy="511.5" r="0.65" fill="#3b3f7c"/>
<circle cx="92.6" cy="510.8" r="0.65" fill="#dfe3ea"/>
<circle cx="95.0" cy="504.9" r="0.65" fill="#22888d"/>
<circle cx="101.0" cy="517.4" r="0.65" fill="#dfe3ea"/>
<circle cx="104.4" cy="499.3" r="0.65" fill="#2b2d5e"/>
<circle cx="107.0" cy="504.8" r="0.65" fill="#3b3f7c"/>
<circle cx="97.9" cy="500.8" r="0.65" fill="#2b2d5e"/>
<circle cx="100.2" cy="499.1" r="0.65" fill="#2b2d5e"/>
<circle cx="109.8" cy="504.7" r="0.65" fill="#4a5a8a"/>
<circle cx="96.1" cy="499.5" r="0.65" fill="#3a3570"/>
<circle cx="99.9" cy="515.3" r="0.65" fill="#2d708e"/>
<circle cx="101.3" cy="501.0" r="0.65" fill="#33306a"/>
<circle cx="99.8" cy="510.6" r="0.65" fill="#31668d"/>
<circle cx="108.3" cy="509.5" r="0.65" fill="#2e2a60"/>
<circle cx="94.0" cy="512.1" r="0.65" fill="#bdde27"/>
<circle cx="100.9" cy="499.1" r="0.65" fill="#24224f"/>
<circle cx="108.4" cy="507.8" r="0.65" fill="#3a3570"/>
<circle cx="101.8" cy="510.8" r="0.65" fill="#282c58"/>
<circle cx="109.7" cy="499.5" r="0.65" fill="#403a78"/>
<circle cx="109.7" cy="512.3" r="0.65" fill="#3a6d8a"/>
<circle cx="102.0" cy="517.2" r="0.65" fill="#24858e"/>
<circle cx="101.0" cy="507.3" r="0.65" fill="#3a3570"/>
<circle cx="94.0" cy="503.4" r="0.65" fill="#32648d"/>
<circle cx="103.0" cy="500.9" r="0.65" fill="#3a3570"/>
<circle cx="104.6" cy="496.8" r="0.65" fill="#dfe3ea"/>
<circle cx="108.6" cy="499.5" r="0.65" fill="#282c58"/>
<circle cx="91.9" cy="508.0" r="0.65" fill="#d3e21b"/>
<circle cx="104.9" cy="517.1" r="0.65" fill="#3a3570"/>
<circle cx="96.6" cy="500.5" r="0.65" fill="#5a5a90"/>
<circle cx="102.9" cy="497.0" r="0.65" fill="#3a6d8a"/>
<circle cx="98.8" cy="516.1" r="0.65" fill="#31b47a"/>
<circle cx="101.6" cy="504.9" r="0.65" fill="#33306a"/>
<circle cx="94.7" cy="513.1" r="0.65" fill="#98d83e"/>
<circle cx="106.7" cy="509.4" r="0.65" fill="#403a78"/>
<circle cx="104.5" cy="517.1" r="0.65" fill="#33306a"/>
<circle cx="95.3" cy="510.2" r="0.65" fill="#dfe3ea"/>
<circle cx="107.3" cy="498.9" r="0.65" fill="#2e2a60"/>
<circle cx="104.2" cy="497.5" r="0.65" fill="#33306a"/>
<circle cx="92.2" cy="510.1" r="0.65" fill="#bdde27"/>
<circle cx="99.3" cy="508.6" r="0.65" fill="#2d708e"/>
<circle cx="102.0" cy="503.6" r="0.65" fill="#403a78"/>
<circle cx="95.8" cy="514.8" r="0.65" fill="#dfe3ea"/>
<circle cx="100.0" cy="497.0" r="0.65" fill="#dfe3ea"/>
<circle cx="108.6" cy="506.3" r="0.65" fill="#24224f"/>
<circle cx="95.8" cy="502.2" r="0.65" fill="#2f6a8e"/>
<circle cx="96.9" cy="508.1" r="0.65" fill="#32658d"/>
<circle cx="92.9" cy="507.2" r="0.65" fill="#20a286"/>
<circle cx="103.6" cy="512.9" r="0.65" fill="#24224f"/>
<circle cx="109.8" cy="511.3" r="0.65" fill="#3a3570"/>
<circle cx="104.2" cy="505.7" r="0.65" fill="#282c58"/>
<circle cx="104.6" cy="496.7" r="0.65" fill="#2e2a60"/>
<circle cx="103.7" cy="501.5" r="0.65" fill="#5a5a90"/>
<circle cx="111.0" cy="511.5" r="0.65" fill="#2e2a60"/>
<circle cx="102.9" cy="504.3" r="0.65" fill="#2b2d5e"/>
<circle cx="94.0" cy="506.9" r="0.65" fill="#77d052"/>
<circle cx="111.3" cy="508.8" r="0.65" fill="#33306a"/>
<circle cx="99.9" cy="512.8" r="0.65" fill="#2a768e"/>
<circle cx="110.9" cy="508.1" r="0.65" fill="#282c58"/>
<circle cx="93.4" cy="513.4" r="0.65" fill="#8ad446"/>
<circle cx="105.5" cy="514.4" r="0.65" fill="#3b3f7c"/>
<circle cx="93.9" cy="502.7" r="0.65" fill="#218d8d"/>
<circle cx="100.9" cy="496.0" r="0.65" fill="#403a78"/>
<circle cx="92.4" cy="510.5" r="0.65" fill="#89d447"/>
<circle cx="105.4" cy="503.6" r="0.65" fill="#282c58"/>
<circle cx="96.5" cy="504.6" r="0.65" fill="#29788e"/>
<circle cx="101.3" cy="517.7" r="0.65" fill="#2c718e"/>
<circle cx="108.2" cy="508.0" r="0.65" fill="#2b2d5e"/>
<circle cx="97.6" cy="497.1" r="0.65" fill="#282c58"/>
<circle cx="96.2" cy="503.7" r="0.65" fill="#33306a"/>
<circle cx="103.6" cy="512.7" r="0.65" fill="#dfe3ea"/>
<circle cx="92.2" cy="508.3" r="0.65" fill="#99d83d"/>
<circle cx="100.6" cy="502.7" r="0.65" fill="#33306a"/>
<circle cx="98.7" cy="496.8" r="0.65" fill="#5a5a90"/>
<circle cx="91.8" cy="507.6" r="0.65" fill="#f1e522"/>
<circle cx="97.2" cy="501.5" r="0.65" fill="#3a6d8a"/>
<circle cx="108.1" cy="509.4" r="0.65" fill="#403a78"/>
<circle cx="104.8" cy="515.5" r="0.65" fill="#24224f"/>
<circle cx="93.2" cy="500.5" r="0.65" fill="#33628d"/>
<circle cx="104.3" cy="498.1" r="0.65" fill="#403a78"/>
<circle cx="106.7" cy="510.7" r="0.65" fill="#3b3f7c"/>
<circle cx="99.6" cy="511.7" r="0.65" fill="#31658d"/>
<circle cx="103.5" cy="509.1" r="0.65" fill="#24224f"/>
<circle cx="104.5" cy="508.2" r="0.65" fill="#3a3570"/>
<circle cx="96.3" cy="504.9" r="0.65" fill="#3a3570"/>
<circle cx="98.6" cy="506.9" r="0.65" fill="#24224f"/>
<circle cx="91.5" cy="506.1" r="0.65" fill="#49c06d"/>
<circle cx="107.4" cy="510.1" r="0.65" fill="#3b3f7c"/>
<circle cx="98.3" cy="503.2" r="0.65" fill="#403a78"/>
<circle cx="107.7" cy="512.7" r="0.65" fill="#2e2a60"/>
<circle cx="91.6" cy="508.7" r="0.65" fill="#f3e522"/>
<circle cx="99.3" cy="502.0" r="0.65" fill="#2e2a60"/>
<circle cx="101.5" cy="498.5" r="0.65" fill="#3b3f7c"/>
<circle cx="108.1" cy="502.6" r="0.65" fill="#403a78"/>
<circle cx="109.0" cy="515.6" r="0.65" fill="#2b2d5e"/>
<circle cx="110.6" cy="503.9" r="0.65" fill="#282c58"/>
<circle cx="99.7" cy="509.4" r="0.65" fill="#2b748e"/>
<circle cx="94.1" cy="511.0" r="0.65" fill="#e8e420"/>
<circle cx="109.3" cy="514.8" r="0.65" fill="#24224f"/>
<circle cx="94.7" cy="507.3" r="0.65" fill="#60c960"/>
<circle cx="111.5" cy="508.5" r="0.65" fill="#dfe3ea"/>
<circle cx="111.3" cy="504.8" r="0.65" fill="#282c58"/>
<circle cx="99.1" cy="505.8" r="0.65" fill="#2b2d5e"/>
<circle cx="109.2" cy="511.8" r="0.65" fill="#2b2d5e"/>
<circle cx="106.5" cy="503.0" r="0.65" fill="#24224f"/>
<circle cx="107.8" cy="511.1" r="0.65" fill="#3b3f7c"/>
<circle cx="95.0" cy="509.5" r="0.65" fill="#21a784"/>
<circle cx="110.1" cy="513.5" r="0.65" fill="#3a6d8a"/>
<circle cx="100.7" cy="506.4" r="0.65" fill="#2e2a60"/>
<circle cx="96.2" cy="497.5" r="0.65" fill="#5a5a90"/>
<circle cx="105.5" cy="497.8" r="0.65" fill="#3b3f7c"/>
<circle cx="96.0" cy="497.5" r="0.65" fill="#3a6d8a"/>
<circle cx="91.7" cy="505.2" r="0.65" fill="#2cb07d"/>
<circle cx="100.7" cy="497.7" r="0.65" fill="#282c58"/>
<circle cx="111.5" cy="506.2" r="0.65" fill="#2e2a60"/>
<circle cx="101.1" cy="507.6" r="0.65" fill="#2e2a60"/>
<circle cx="95.1" cy="511.8" r="0.65" fill="#56c566"/>
<circle cx="97.7" cy="497.5" r="0.65" fill="#2e2a60"/>
<circle cx="98.4" cy="516.8" r="0.65" fill="#f9e624"/>
<circle cx="105.1" cy="502.8" r="0.65" fill="#24224f"/>
<circle cx="95.3" cy="505.5" r="0.65" fill="#25838e"/>
<circle cx="97.4" cy="503.4" r="0.65" fill="#3a3570"/>
<circle cx="102.4" cy="506.7" r="0.65" fill="#403a78"/>
<circle cx="92.9" cy="503.9" r="0.65" fill="#2cb07d"/>
<circle cx="104.2" cy="500.6" r="0.65" fill="#24224f"/>
<circle cx="110.5" cy="503.4" r="0.65" fill="#24224f"/>
<circle cx="102.3" cy="516.9" r="0.65" fill="#29788e"/>
<circle cx="104.8" cy="498.2" r="0.65" fill="#2b2d5e"/>
<circle cx="108.3" cy="514.8" r="0.65" fill="#3b3f7c"/>
<circle cx="104.1" cy="517.3" r="0.65" fill="#22898d"/>
<circle cx="100.6" cy="511.5" r="0.65" fill="#2d6f8e"/>
<circle cx="102.1" cy="516.9" r="0.65" fill="#287a8e"/>
<circle cx="95.6" cy="504.4" r="0.65" fill="#dfe3ea"/>
<circle cx="96.4" cy="499.9" r="0.65" fill="#5a5a90"/>
<circle cx="107.7" cy="507.2" r="0.65" fill="#403a78"/>
<circle cx="93.4" cy="513.5" r="0.65" fill="#a6db34"/>
<circle cx="101.2" cy="506.2" r="0.65" fill="#2e2a60"/>
<circle cx="100.6" cy="513.3" r="0.65" fill="#228a8d"/>
<circle cx="102.1" cy="513.7" r="0.65" fill="#24858e"/>
<circle cx="98.2" cy="502.4" r="0.65" fill="#2b2d5e"/>
<circle cx="110.9" cy="507.7" r="0.65" fill="#4a5a8a"/>
<circle cx="93.0" cy="509.3" r="0.65" fill="#f3e522"/>
<circle cx="98.3" cy="512.6" r="0.65" fill="#2aae7f"/>
<circle cx="101.9" cy="513.1" r="0.65" fill="#2c728e"/>
<circle cx="94.0" cy="502.3" r="0.65" fill="#2db17d"/>
<circle cx="100.8" cy="508.2" r="0.65" fill="#3a3570"/>
<circle cx="98.0" cy="498.4" r="0.65" fill="#3b3f7c"/>
<circle cx="101.8" cy="514.9" r="0.65" fill="#33618d"/>
<circle cx="99.5" cy="516.8" r="0.65" fill="#21a485"/>
<circle cx="102.6" cy="498.8" r="0.65" fill="#403a78"/>
<circle cx="99.6" cy="514.2" r="0.65" fill="#218e8c"/>
<circle cx="97.2" cy="507.4" r="0.65" fill="#2c738e"/>
<circle cx="93.5" cy="501.0" r="0.65" fill="#25828e"/>
<circle cx="98.0" cy="501.8" r="0.65" fill="#24224f"/>
<circle cx="101.6" cy="506.0" r="0.65" fill="#3a6d8a"/>
<circle cx="99.6" cy="515.1" r="0.65" fill="#3ebb73"/>
<circle cx="110.5" cy="504.5" r="0.65" fill="#dfe3ea"/>
<circle cx="106.5" cy="512.0" r="0.65" fill="#24224f"/>
<circle cx="100.7" cy="514.2" r="0.65" fill="#287b8e"/>
<circle cx="100.5" cy="511.0" r="0.65" fill="#3b3f7c"/>
<circle cx="95.9" cy="503.7" r="0.65" fill="#29798e"/>
<circle cx="101.2" cy="514.3" r="0.65" fill="#34608d"/>
<circle cx="102.2" cy="507.3" r="0.65" fill="#403a78"/>
<circle cx="98.1" cy="514.2" r="0.65" fill="#21a784"/>
<circle cx="102.0" cy="518.0" r="0.65" fill="#218c8d"/>
<circle cx="103.3" cy="496.5" r="0.65" fill="#dfe3ea"/>
<circle cx="109.1" cy="515.1" r="0.65" fill="#2e2a60"/>
<circle cx="106.2" cy="496.8" r="0.65" fill="#5a5a90"/>
<circle cx="104.4" cy="517.1" r="0.65" fill="#403a78"/>
<circle cx="104.7" cy="513.3" r="0.65" fill="#3b3f7c"/>
<circle cx="104.2" cy="504.4" r="0.65" fill="#3a6d8a"/>
<circle cx="96.8" cy="513.5" r="0.65" fill="#a6db34"/>
<circle cx="100.9" cy="512.7" r="0.65" fill="#30698e"/>
<circle cx="105.7" cy="501.3" r="0.65" fill="#282c58"/>
<circle cx="99.7" cy="507.1" r="0.65" fill="#403a78"/>
<circle cx="100.2" cy="506.6" r="0.65" fill="#4a5a8a"/>
<circle cx="101.8" cy="509.5" r="0.65" fill="#33306a"/>
<circle cx="96.0" cy="513.4" r="0.65" fill="#1f9d88"/>
<circle cx="95.6" cy="509.7" r="0.65" fill="#4dc26b"/>
<circle cx="100.0" cy="500.3" r="0.65" fill="#282c58"/>
<circle cx="103.3" cy="501.2" r="0.65" fill="#403a78"/>
<circle cx="110.8" cy="511.0" r="0.65" fill="#2e2a60"/>
<circle cx="108.9" cy="510.6" r="0.65" fill="#282c58"/>
<circle cx="105.2" cy="501.0" r="0.65" fill="#dfe3ea"/>
<circle cx="100.4" cy="499.3" r="0.65" fill="#33306a"/>
<circle cx="95.7" cy="509.3" r="0.65" fill="#26808e"/>
<circle cx="97.2" cy="514.9" r="0.65" fill="#24a982"/>
<circle cx="103.6" cy="509.7" r="0.65" fill="#282c58"/>
<circle cx="105.1" cy="501.0" r="0.65" fill="#403a78"/>
<circle cx="100.8" cy="505.4" r="0.65" fill="#2e2a60"/>
<circle cx="102.3" cy="511.4" r="0.65" fill="#5a5a90"/>
<circle cx="108.9" cy="515.4" r="0.65" fill="#3b3f7c"/>
<circle cx="99.6" cy="508.8" r="0.65" fill="#3b3f7c"/>
<circle cx="106.7" cy="509.1" r="0.65" fill="#2e2a60"/>
<circle cx="93.4" cy="511.3" r="0.65" fill="#eee521"/>
<circle cx="97.0" cy="497.1" r="0.65" fill="#282c58"/>
<circle cx="106.3" cy="503.0" r="0.65" fill="#3a3570"/>
<circle cx="94.5" cy="500.7" r="0.65" fill="#29798e"/>
<circle cx="94.1" cy="502.0" r="0.65" fill="#2b758e"/>
<circle cx="103.0" cy="504.8" r="0.65" fill="#282c58"/>
<circle cx="109.0" cy="504.5" r="0.65" fill="#2b2d5e"/>
<circle cx="104.9" cy="505.3" r="0.65" fill="#dfe3ea"/>
<circle cx="99.8" cy="511.3" r="0.65" fill="#2e6d8e"/>
<circle cx="105.9" cy="515.1" r="0.65" fill="#2b2d5e"/>
<circle cx="111.2" cy="512.3" r="0.65" fill="#24224f"/>
<circle cx="100.1" cy="501.3" r="0.65" fill="#33306a"/>
<circle cx="110.0" cy="508.1" r="0.65" fill="#3b3f7c"/>
<circle cx="104.0" cy="513.1" r="0.65" fill="#dfe3ea"/>
<circle cx="102.3" cy="510.6" r="0.65" fill="#24224f"/>
<circle cx="107.7" cy="498.8" r="0.65" fill="#2e2a60"/>
<circle cx="92.8" cy="511.8" r="0.65" fill="#b7dd2a"/>
<circle cx="100.5" cy="496.5" r="0.65" fill="#282c58"/>
<circle cx="102.6" cy="497.5" r="0.65" fill="#403a78"/>
<circle cx="96.4" cy="497.4" r="0.65" fill="#2e2a60"/>
<circle cx="98.7" cy="517.0" r="0.65" fill="#bcde27"/>
<circle cx="91.8" cy="503.3" r="0.65" fill="#28ad80"/>
<circle cx="98.2" cy="507.2" r="0.65" fill="#dfe3ea"/>
<circle cx="96.7" cy="506.1" r="0.65" fill="#24838e"/>
<circle cx="91.5" cy="507.8" r="0.65" fill="#d3e21b"/>
<circle cx="94.7" cy="503.9" r="0.65" fill="#2e6d8e"/>
<circle cx="111.5" cy="510.4" r="0.65" fill="#2b2d5e"/>
<circle cx="104.8" cy="506.2" r="0.65" fill="#3a3570"/>
<circle cx="97.8" cy="512.5" r="0.65" fill="#31678d"/>
<circle cx="109.7" cy="501.5" r="0.65" fill="#2b2d5e"/>
<circle cx="106.5" cy="506.9" r="0.65" fill="#3b3f7c"/>
<circle cx="104.3" cy="497.3" r="0.65" fill="#33306a"/>
<circle cx="96.7" cy="500.6" r="0.65" fill="#24224f"/>
<circle cx="104.8" cy="515.0" r="0.65" fill="#2e2a60"/>
<circle cx="102.6" cy="500.9" r="0.65" fill="#33306a"/>
<circle cx="100.3" cy="514.5" r="0.65" fill="#287a8e"/>
<circle cx="94.5" cy="504.1" r="0.65" fill="#30698e"/>
<circle cx="108.9" cy="501.9" r="0.65" fill="#33306a"/>
<circle cx="109.0" cy="511.5" r="0.65" fill="#3b3f7c"/>
<circle cx="102.7" cy="507.5" r="0.65" fill="#3a6d8a"/>
<circle cx="96.0" cy="515.7" r="0.65" fill="#87d448"/>
<circle cx="106.7" cy="513.0" r="0.65" fill="#282c58"/>
<circle cx="110.8" cy="502.2" r="0.65" fill="#3b3f7c"/>
<circle cx="94.3" cy="507.1" r="0.65" fill="#31b47a"/>
<circle cx="99.7" cy="506.0" r="0.65" fill="#2e2a60"/>
<circle cx="101.7" cy="496.5" r="0.65" fill="#282c58"/>
<circle cx="108.6" cy="516.2" r="0.65" fill="#282c58"/>
<circle cx="98.0" cy="512.3" r="0.65" fill="#277d8e"/>
<circle cx="100.5" cy="498.9" r="0.65" fill="#dfe3ea"/>
<circle cx="104.2" cy="504.2" r="0.65" fill="#2b2d5e"/>
<circle cx="104.2" cy="500.4" r="0.65" fill="#4a5a8a"/>
<circle cx="105.0" cy="514.1" r="0.65" fill="#24224f"/>
<circle cx="107.4" cy="516.8" r="0.65" fill="#4a5a8a"/>
<circle cx="92.2" cy="509.9" r="0.65" fill="#f6e623"/>
<circle cx="95.9" cy="512.9" r="0.65" fill="#cbe11e"/>
<circle cx="98.2" cy="507.8" r="0.65" fill="#2b2d5e"/>
<circle cx="96.6" cy="503.9" r="0.65" fill="#277e8e"/>
<circle cx="101.5" cy="507.2" r="0.65" fill="#24224f"/>
<circle cx="95.0" cy="505.0" r="0.65" fill="#31678d"/>
<circle cx="100.3" cy="500.1" r="0.65" fill="#33306a"/>
<circle cx="103.4" cy="497.2" r="0.65" fill="#3b3f7c"/>
<circle cx="101.4" cy="510.3" r="0.65" fill="#403a78"/>
<circle cx="108.6" cy="513.8" r="0.65" fill="#3a3570"/>
<circle cx="91.4" cy="504.8" r="0.65" fill="#d1e11b"/>
<circle cx="102.5" cy="503.0" r="0.65" fill="#24224f"/>
<circle cx="103.8" cy="512.9" r="0.65" fill="#24224f"/>
<circle cx="92.9" cy="504.0" r="0.65" fill="#26ab81"/>
<circle cx="110.9" cy="506.3" r="0.65" fill="#2e2a60"/>
<circle cx="102.5" cy="510.4" r="0.65" fill="#3a6d8a"/>
<circle cx="108.6" cy="509.7" r="0.65" fill="#3b3f7c"/>
<circle cx="101.5" cy="504.9" r="0.65" fill="#2b2d5e"/>
<circle cx="97.0" cy="501.1" r="0.65" fill="#3a3570"/>
<circle cx="98.5" cy="509.4" r="0.65" fill="#24848e"/>
<circle cx="102.8" cy="509.7" r="0.65" fill="#33306a"/>
<circle cx="107.6" cy="516.9" r="0.65" fill="#33306a"/>
<circle cx="96.2" cy="497.1" r="0.65" fill="#dfe3ea"/>
<circle cx="104.8" cy="513.3" r="0.65" fill="#dfe3ea"/>
<circle cx="104.0" cy="510.3" r="0.65" fill="#2e2a60"/>
<circle cx="109.0" cy="499.4" r="0.65" fill="#3a3570"/>
<circle cx="103.5" cy="515.5" r="0.65" fill="#2b758e"/>
<circle cx="107.6" cy="506.6" r="0.65" fill="#4a5a8a"/>
<circle cx="111.2" cy="509.8" r="0.65" fill="#33306a"/>
<circle cx="96.3" cy="501.9" r="0.65" fill="#277d8e"/>
<circle cx="95.7" cy="505.2" r="0.65" fill="#26808e"/>
<circle cx="97.1" cy="497.7" r="0.65" fill="#33306a"/>
<circle cx="94.7" cy="506.8" r="0.65" fill="#dfe3ea"/>
<circle cx="101.1" cy="501.9" r="0.65" fill="#2b2d5e"/>
<circle cx="98.5" cy="516.9" r="0.65" fill="#209f87"/>
<circle cx="97.2" cy="506.8" r="0.65" fill="#24224f"/>
<circle cx="99.0" cy="501.6" r="0.65" fill="#3b3f7c"/>
<circle cx="92.9" cy="507.7" r="0.65" fill="#a7db34"/>
<circle cx="98.5" cy="506.5" r="0.65" fill="#403a78"/>
<circle cx="108.1" cy="503.6" r="0.65" fill="#3a3570"/>
<circle cx="102.7" cy="512.4" r="0.65" fill="#2b2d5e"/>
<circle cx="96.4" cy="505.8" r="0.65" fill="#30698e"/>
<circle cx="106.0" cy="500.6" r="0.65" fill="#2e2a60"/>
<circle cx="101.5" cy="507.6" r="0.65" fill="#3b3f7c"/>
<circle cx="93.6" cy="505.1" r="0.65" fill="#2eb17c"/>
<circle cx="106.3" cy="499.0" r="0.65" fill="#3b3f7c"/>
<circle cx="102.4" cy="512.5" r="0.65" fill="#2c728e"/>
<circle cx="95.5" cy="512.7" r="0.65" fill="#cde11d"/>
<circle cx="103.5" cy="504.9" r="0.65" fill="#403a78"/>
<circle cx="93.0" cy="509.8" r="0.65" fill="#8dd544"/>
<circle cx="95.2" cy="511.5" r="0.65" fill="#34b679"/>
<circle cx="99.8" cy="498.8" r="0.65" fill="#24224f"/>
<circle cx="98.7" cy="502.3" r="0.65" fill="#3a3570"/>
<circle cx="94.8" cy="512.5" r="0.65" fill="#c2df24"/>
<circle cx="111.7" cy="509.1" r="0.65" fill="#3a3570"/>
<circle cx="97.5" cy="509.9" r="0.65" fill="#23858e"/>
<circle cx="93.0" cy="511.3" r="0.65" fill="#d2e21b"/>
<circle cx="93.1" cy="500.8" r="0.65" fill="#26808e"/>
<circle cx="102.0" cy="513.2" r="0.65" fill="#282c58"/>
<circle cx="93.9" cy="512.4" r="0.65" fill="#fce624"/>
<circle cx="98.1" cy="516.2" r="0.65" fill="#6ecd58"/>
<circle cx="98.8" cy="496.7" r="0.65" fill="#282c58"/>
<circle cx="108.1" cy="512.8" r="0.65" fill="#33306a"/>
<circle cx="99.0" cy="498.0" r="0.65" fill="#5a5a90"/>
<circle cx="96.8" cy="501.0" r="0.65" fill="#33306a"/>
<circle cx="98.0" cy="513.5" r="0.65" fill="#39b876"/>
<circle cx="106.7" cy="513.3" r="0.65" fill="#3a6d8a"/>
<circle cx="102.3" cy="506.3" r="0.65" fill="#3a6d8a"/>
<circle cx="95.1" cy="511.8" r="0.65" fill="#c9e01f"/>
<circle cx="101.9" cy="504.7" r="0.65" fill="#3a3570"/>
<circle cx="98.7" cy="508.2" r="0.65" fill="#403a78"/>
<circle cx="94.9" cy="501.6" r="0.65" fill="#25828e"/>
<circle cx="102.5" cy="497.6" r="0.65" fill="#3a6d8a"/>
<circle cx="100.8" cy="514.1" r="0.65" fill="#2d708e"/>
<circle cx="111.1" cy="504.8" r="0.65" fill="#4a5a8a"/>
<circle cx="94.7" cy="499.9" r="0.65" fill="#2e2a60"/>
<circle cx="103.8" cy="509.5" r="0.65" fill="#3a3570"/>
<circle cx="104.1" cy="508.2" r="0.65" fill="#3b3f7c"/>
<circle cx="98.0" cy="498.1" r="0.65" fill="#dfe3ea"/>
<circle cx="92.4" cy="502.7" r="0.65" fill="#2d708e"/>
<circle cx="100.9" cy="501.9" r="0.65" fill="#3a3570"/>
<circle cx="96.1" cy="504.1" r="0.65" fill="#2a778e"/>
<circle cx="99.9" cy="508.0" r="0.65" fill="#4a5a8a"/>
<circle cx="108.4" cy="501.3" r="0.65" fill="#3b3f7c"/>
<circle cx="110.7" cy="505.8" r="0.65" fill="#3a3570"/>
<circle cx="102.2" cy="512.2" r="0.65" fill="#2e2a60"/>
<circle cx="96.6" cy="505.3" r="0.65" fill="#228b8d"/>
<circle cx="101.0" cy="504.3" r="0.65" fill="#3b3f7c"/>
<circle cx="91.7" cy="509.7" r="0.65" fill="#dfe3ea"/>
<circle cx="100.2" cy="515.9" r="0.65" fill="#25828e"/>
<circle cx="100.3" cy="496.2" r="0.65" fill="#4a5a8a"/>
<circle cx="98.8" cy="504.5" r="0.65" fill="#3a3570"/>
<circle cx="94.8" cy="508.5" r="0.65" fill="#218c8d"/>
<circle cx="109.0" cy="515.6" r="0.65" fill="#3b3f7c"/>
<circle cx="101.0" cy="503.8" r="0.65" fill="#33306a"/>
<circle cx="105.1" cy="497.3" r="0.65" fill="#403a78"/>
<circle cx="110.1" cy="508.2" r="0.65" fill="#24224f"/>
<circle cx="109.7" cy="503.4" r="0.65" fill="#3a6d8a"/>
<circle cx="107.6" cy="498.3" r="0.65" fill="#3b3f7c"/>
<circle cx="110.1" cy="513.5" r="0.65" fill="#282c58"/>
<circle cx="95.2" cy="500.9" r="0.65" fill="#31678d"/>
<circle cx="99.2" cy="508.2" r="0.65" fill="#2b758e"/>
<circle cx="103.8" cy="517.4" r="0.65" fill="#2b738e"/>
<circle cx="111.7" cy="511.1" r="0.65" fill="#403a78"/>
<circle cx="103.3" cy="502.8" r="0.65" fill="#24224f"/>
<circle cx="100.3" cy="511.3" r="0.65" fill="#5a5a90"/>
<circle cx="106.4" cy="507.7" r="0.65" fill="#24224f"/>
<circle cx="106.8" cy="504.7" r="0.65" fill="#2e2a60"/>
<circle cx="95.3" cy="513.7" r="0.65" fill="#2db17d"/>
<circle cx="99.9" cy="502.1" r="0.65" fill="#2e2a60"/>
<circle cx="103.4" cy="511.7" r="0.65" fill="#282c58"/>
<circle cx="112.0" cy="507.0" r="0.65" fill="#3a3570"/>
<circle cx="110.9" cy="505.7" r="0.65" fill="#282c58"/>
<circle cx="99.4" cy="515.2" r="0.65" fill="#2c718e"/>
<circle cx="96.2" cy="509.8" r="0.65" fill="#60c860"/>
<circle cx="110.5" cy="502.4" r="0.65" fill="#3a6d8a"/>
<circle cx="95.8" cy="513.0" r="0.65" fill="#3bba75"/>
<circle cx="101.6" cy="501.5" r="0.65" fill="#3a6d8a"/>
<circle cx="99.1" cy="500.9" r="0.65" fill="#33306a"/>
<circle cx="101.0" cy="509.7" r="0.65" fill="#4a5a8a"/>
<circle cx="105.7" cy="509.7" r="0.65" fill="#403a78"/>
<circle cx="109.6" cy="513.2" r="0.65" fill="#dfe3ea"/>
<circle cx="100.3" cy="513.4" r="0.65" fill="#26808e"/>
<circle cx="109.1" cy="509.0" r="0.65" fill="#dfe3ea"/>
<circle cx="101.4" cy="514.2" r="0.65" fill="#287b8e"/>
<circle cx="110.6" cy="501.2" r="0.65" fill="#403a78"/>
<circle cx="108.9" cy="509.6" r="0.65" fill="#24224f"/>
<circle cx="101.4" cy="502.3" r="0.65" fill="#5a5a90"/>
<circle cx="100.2" cy="505.3" r="0.65" fill="#2e2a60"/>
<circle cx="107.2" cy="515.1" r="0.65" fill="#24224f"/>
<circle cx="105.4" cy="514.8" r="0.65" fill="#4a5a8a"/>
<circle cx="97.3" cy="502.3" r="0.65" fill="#3a6d8a"/>
<circle cx="105.9" cy="508.8" r="0.65" fill="#2b2d5e"/>
<circle cx="96.5" cy="497.7" r="0.65" fill="#4a5a8a"/>
<circle cx="109.9" cy="505.4" r="0.65" fill="#24224f"/>
<circle cx="101.9" cy="508.2" r="0.65" fill="#3b3f7c"/>
<circle cx="96.9" cy="500.4" r="0.65" fill="#33306a"/>
<circle cx="102.8" cy="497.2" r="0.65" fill="#3a3570"/>
<circle cx="106.5" cy="508.6" r="0.65" fill="#24224f"/>
<circle cx="95.5" cy="513.9" r="0.65" fill="#aedc30"/>
<circle cx="95.9" cy="508.7" r="0.65" fill="#2a778e"/>
<circle cx="108.9" cy="513.5" r="0.65" fill="#282c58"/>
<circle cx="100.1" cy="511.3" r="0.65" fill="#287c8e"/>
<circle cx="104.4" cy="516.9" r="0.65" fill="#30688e"/>
<circle cx="96.8" cy="499.6" r="0.65" fill="#282c58"/>
<circle cx="103.9" cy="503.5" r="0.65" fill="#282c58"/>
<circle cx="102.2" cy="498.2" r="0.65" fill="#2e2a60"/>
<circle cx="107.6" cy="511.8" r="0.65" fill="#403a78"/>
<circle cx="107.0" cy="497.4" r="0.65" fill="#3b3f7c"/>
<circle cx="96.7" cy="497.7" r="0.65" fill="#dfe3ea"/>
<circle cx="106.8" cy="503.5" r="0.65" fill="#dfe3ea"/>
<circle cx="99.4" cy="500.1" r="0.65" fill="#dfe3ea"/>
<circle cx="102.1" cy="499.5" r="0.65" fill="#282c58"/>
<circle cx="110.0" cy="503.3" r="0.65" fill="#3b3f7c"/>
<circle cx="111.9" cy="511.7" r="0.65" fill="#3b3f7c"/>
<circle cx="99.5" cy="514.6" r="0.65" fill="#2c738e"/>
<circle cx="101.2" cy="502.1" r="0.65" fill="#3a3570"/>
<circle cx="92.8" cy="501.0" r="0.65" fill="#2d6f8e"/>
<circle cx="101.3" cy="505.7" r="0.65" fill="#33306a"/>
<circle cx="109.9" cy="507.7" r="0.65" fill="#dfe3ea"/>
<circle cx="100.2" cy="505.7" r="0.65" fill="#24224f"/>
<circle cx="102.0" cy="509.3" r="0.65" fill="#5a5a90"/>
<circle cx="110.8" cy="513.6" r="0.65" fill="#3b3f7c"/>
<circle cx="106.8" cy="508.2" r="0.65" fill="#403a78"/>
<circle cx="99.8" cy="515.4" r="0.65" fill="#218d8c"/>
<circle cx="100.7" cy="499.4" r="0.65" fill="#282c58"/>
<circle cx="101.5" cy="517.4" r="0.65" fill="#277d8e"/>
<circle cx="92.9" cy="512.8" r="0.65" fill="#95d73f"/>
<circle cx="104.0" cy="503.8" r="0.65" fill="#2b2d5e"/>
<circle cx="95.8" cy="504.8" r="0.65" fill="#2b748e"/>
<circle cx="98.1" cy="499.9" r="0.65" fill="#24224f"/>
<circle cx="100.1" cy="503.9" r="0.65" fill="#2e2a60"/>
<circle cx="100.6" cy="503.4" r="0.65" fill="#3a3570"/>
<circle cx="106.2" cy="507.4" r="0.65" fill="#403a78"/>
<circle cx="96.2" cy="508.1" r="0.65" fill="#30b37b"/>
<circle cx="99.3" cy="506.7" r="0.65" fill="#24224f"/>
<circle cx="96.1" cy="516.4" r="0.65" fill="#ece521"/>
<circle cx="111.1" cy="506.6" r="0.65" fill="#2b2d5e"/>
<circle cx="98.4" cy="500.1" r="0.65" fill="#3a6d8a"/>
<circle cx="104.9" cy="503.2" r="0.65" fill="#4a5a8a"/>
<circle cx="108.0" cy="502.4" r="0.65" fill="#24224f"/>
<circle cx="105.8" cy="503.8" r="0.65" fill="#3b3f7c"/>
<circle cx="106.7" cy="512.3" r="0.65" fill="#403a78"/>
<circle cx="109.3" cy="499.9" r="0.65" fill="#2b2d5e"/>
<circle cx="106.9" cy="509.8" r="0.65" fill="#3a3570"/>
<circle cx="96.6" cy="499.0" r="0.65" fill="#24224f"/>
<circle cx="95.4" cy="509.8" r="0.65" fill="#21a485"/>
<circle cx="102.5" cy="507.8" r="0.65" fill="#282c58"/>
<circle cx="106.9" cy="511.7" r="0.65" fill="#24224f"/>
<circle cx="106.9" cy="503.4" r="0.65" fill="#33306a"/>
<circle cx="91.8" cy="505.2" r="0.65" fill="#f0e522"/>
<circle cx="111.5" cy="506.9" r="0.65" fill="#2e2a60"/>
<circle cx="104.0" cy="503.5" r="0.65" fill="#dfe3ea"/>
<circle cx="102.6" cy="501.5" r="0.65" fill="#24224f"/>
<circle cx="95.8" cy="515.2" r="0.65" fill="#acdc31"/>
<circle cx="102.8" cy="501.8" r="0.65" fill="#33306a"/>
<circle cx="108.7" cy="501.6" r="0.65" fill="#5a5a90"/>
<circle cx="94.1" cy="507.1" r="0.65" fill="#53c468"/>
<circle cx="106.9" cy="514.2" r="0.65" fill="#2e2a60"/>
<circle cx="107.4" cy="506.4" r="0.65" fill="#2b2d5e"/>
<circle cx="92.9" cy="501.4" r="0.65" fill="#34608d"/>
<circle cx="91.3" cy="506.5" r="0.65" fill="#ebe420"/>
<circle cx="97.1" cy="507.2" r="0.65" fill="#287b8e"/>
<circle cx="102.2" cy="496.3" r="0.65" fill="#282c58"/>
<circle cx="111.6" cy="507.1" r="0.65" fill="#24224f"/>
<circle cx="106.5" cy="514.3" r="0.65" fill="#4a5a8a"/>
<circle cx="105.6" cy="499.3" r="0.65" fill="#3a3570"/>
<circle cx="99.9" cy="509.7" r="0.65" fill="#dfe3ea"/>
<circle cx="105.9" cy="503.9" r="0.65" fill="#33306a"/>
<circle cx="98.1" cy="512.1" r="0.65" fill="#2f6a8e"/>
<circle cx="106.5" cy="509.1" r="0.65" fill="#33306a"/>
<circle cx="104.2" cy="509.5" r="0.65" fill="#282c58"/>
<circle cx="104.0" cy="510.8" r="0.65" fill="#dfe3ea"/>
<circle cx="105.5" cy="508.4" r="0.65" fill="#3b3f7c"/>
<circle cx="109.0" cy="508.3" r="0.65" fill="#3b3f7c"/>
<circle cx="94.8" cy="500.4" r="0.65" fill="#2b2d5e"/>
<circle cx="96.6" cy="503.1" r="0.65" fill="#3a3570"/>
<circle cx="106.7" cy="501.1" r="0.65" fill="#282c58"/>
<circle cx="100.8" cy="512.9" r="0.65" fill="#24838e"/>
<circle cx="98.2" cy="499.0" r="0.65" fill="#3b3f7c"/>
<circle cx="105.5" cy="507.4" r="0.65" fill="#24224f"/>
<circle cx="107.9" cy="516.4" r="0.65" fill="#dfe3ea"/>
<circle cx="110.8" cy="511.2" r="0.65" fill="#2e2a60"/>
<circle cx="108.9" cy="507.8" r="0.65" fill="#3b3f7c"/>
<circle cx="108.2" cy="498.5" r="0.65" fill="#2e2a60"/>
<circle cx="97.8" cy="509.7" r="0.65" fill="#345f8d"/>
<circle cx="108.6" cy="506.5" r="0.65" fill="#3a6d8a"/>
<circle cx="107.2" cy="513.7" r="0.65" fill="#403a78"/>
<circle cx="108.9" cy="510.0" r="0.65" fill="#24224f"/>
<circle cx="102.7" cy="496.2" r="0.65" fill="#3a3570"/>
<circle cx="104.7" cy="509.4" r="0.65" fill="#2b2d5e"/>
<circle cx="101.1" cy="516.4" r="0.65" fill="#277d8e"/>
<circle cx="106.1" cy="515.2" r="0.65" fill="#3b3f7c"/>
<circle cx="95.2" cy="514.6" r="0.65" fill="#c0df25"/>
<circle cx="107.6" cy="512.4" r="0.65" fill="#2e2a60"/>
<circle cx="104.5" cy="508.6" r="0.65" fill="#5a5a90"/>
<circle cx="94.7" cy="505.8" r="0.65" fill="#dfe3ea"/>
<circle cx="107.8" cy="515.6" r="0.65" fill="#282c58"/>
<circle cx="92.1" cy="502.1" r="0.65" fill="#218f8c"/>
<circle cx="91.9" cy="507.9" r="0.65" fill="#91d642"/>
<circle cx="103.8" cy="507.6" r="0.65" fill="#282c58"/>
<circle cx="99.1" cy="497.2" r="0.65" fill="#2b2d5e"/>
<circle cx="101.9" cy="502.0" r="0.65" fill="#5a5a90"/>
<circle cx="104.4" cy="497.8" r="0.65" fill="#2e2a60"/>
<circle cx="102.9" cy="515.7" r="0.65" fill="#33306a"/>
<circle cx="104.1" cy="504.5" r="0.65" fill="#24224f"/>
<circle cx="108.1" cy="498.4" r="0.65" fill="#dfe3ea"/>
<circle cx="107.7" cy="505.9" r="0.65" fill="#24224f"/>
<circle cx="102.5" cy="509.6" r="0.65" fill="#3b3f7c"/>
<circle cx="100.2" cy="511.2" r="0.65" fill="#33628d"/>
<circle cx="104.7" cy="509.6" r="0.65" fill="#dfe3ea"/>
<circle cx="100.5" cy="515.0" r="0.65" fill="#2e6c8e"/>
<circle cx="105.8" cy="500.4" r="0.65" fill="#2b2d5e"/>
<circle cx="109.6" cy="507.2" r="0.65" fill="#4a5a8a"/>
<circle cx="98.3" cy="514.9" r="0.65" fill="#63c95e"/>
<circle cx="96.9" cy="498.5" r="0.65" fill="#3a3570"/>
<circle cx="108.0" cy="509.1" r="0.65" fill="#3b3f7c"/>
<circle cx="96.3" cy="516.0" r="0.65" fill="#ece521"/>
<circle cx="110.6" cy="506.6" r="0.65" fill="#4a5a8a"/>
<circle cx="111.3" cy="509.9" r="0.65" fill="#282c58"/>
<circle cx="98.3" cy="517.2" r="0.65" fill="#37b877"/>
<circle cx="107.1" cy="516.9" r="0.65" fill="#2e2a60"/>
<circle cx="96.1" cy="507.8" r="0.65" fill="#2aae7f"/>
<circle cx="98.9" cy="514.8" r="0.65" fill="#1f9c89"/>
<circle cx="106.7" cy="517.0" r="0.65" fill="#33306a"/>
<circle cx="104.9" cy="517.2" r="0.65" fill="#3a3570"/>
<circle cx="96.4" cy="510.6" r="0.65" fill="#3ab976"/>
<circle cx="107.5" cy="510.8" r="0.65" fill="#3a3570"/>
<circle cx="99.6" cy="497.7" r="0.65" fill="#403a78"/>
<circle cx="95.5" cy="512.8" r="0.65" fill="#f3e522"/>
<circle cx="95.7" cy="513.7" r="0.65" fill="#52c468"/>
<circle cx="107.4" cy="513.9" r="0.65" fill="#4a5a8a"/>
<circle cx="101.6" cy="507.9" r="0.65" fill="#24224f"/>
<circle cx="100.0" cy="504.6" r="0.65" fill="#3b3f7c"/>
<circle cx="95.3" cy="514.6" r="0.65" fill="#88d448"/>
<circle cx="109.4" cy="510.1" r="0.65" fill="#dfe3ea"/>
<circle cx="101.7" cy="496.7" r="0.65" fill="#dfe3ea"/>
<circle cx="98.8" cy="515.3" r="0.65" fill="#56c566"/>
<circle cx="107.0" cy="501.7" r="0.65" fill="#5a5a90"/>
<circle cx="97.1" cy="512.1" r="0.65" fill="#29ae7f"/>
<circle cx="93.2" cy="500.8" r="0.65" fill="#31678d"/>
<circle cx="110.9" cy="509.3" r="0.65" fill="#3b3f7c"/>
<circle cx="108.7" cy="507.5" r="0.65" fill="#2b2d5e"/>
<circle cx="101.0" cy="501.8" r="0.65" fill="#3a3570"/>
<circle cx="107.5" cy="503.2" r="0.65" fill="#24224f"/>
<circle cx="107.3" cy="510.8" r="0.65" fill="#3b3f7c"/>
<circle cx="95.9" cy="500.2" r="0.65" fill="#2e2a60"/>
<circle cx="96.7" cy="512.4" r="0.65" fill="#40bc72"/>
<circle cx="94.5" cy="514.1" r="0.65" fill="#aedc30"/>
<circle cx="97.9" cy="506.4" r="0.65" fill="#218e8c"/>
<circle cx="99.9" cy="514.6" r="0.65" fill="#30688e"/>
<circle cx="104.8" cy="503.4" r="0.65" fill="#2e2a60"/>
<circle cx="102.9" cy="510.8" r="0.65" fill="#2e2a60"/>
<circle cx="111.5" cy="509.2" r="0.65" fill="#282c58"/>
<circle cx="93.4" cy="501.1" r="0.65" fill="#23868e"/>
<circle cx="93.8" cy="511.0" r="0.65" fill="#ede521"/>
<circle cx="100.0" cy="516.3" r="0.65" fill="#4dc26b"/>
<circle cx="102.6" cy="501.1" r="0.65" fill="#403a78"/>
<circle cx="93.5" cy="504.2" r="0.65" fill="#32648d"/>
<circle cx="95.8" cy="499.5" r="0.65" fill="#33306a"/>
<circle cx="109.8" cy="509.6" r="0.65" fill="#24224f"/>
<circle cx="105.0" cy="510.0" r="0.65" fill="#3a3570"/>
<circle cx="109.1" cy="506.8" r="0.65" fill="#3a6d8a"/>
<circle cx="96.0" cy="513.5" r="0.65" fill="#59c664"/>
<circle cx="96.7" cy="508.8" r="0.65" fill="#dfe3ea"/>
<circle cx="101.0" cy="499.0" r="0.65" fill="#2e2a60"/>
<circle cx="96.7" cy="507.4" r="0.65" fill="#23878e"/>
<circle cx="103.2" cy="504.9" r="0.65" fill="#dfe3ea"/>
<circle cx="106.9" cy="502.4" r="0.65" fill="#403a78"/>
<circle cx="103.7" cy="509.9" r="0.65" fill="#282c58"/>
<circle cx="96.2" cy="508.4" r="0.65" fill="#37b777"/>
<circle cx="105.6" cy="498.1" r="0.65" fill="#2b2d5e"/>
<circle cx="101.3" cy="505.1" r="0.65" fill="#2b2d5e"/>
<circle cx="102.4" cy="512.6" r="0.65" fill="#4a5a8a"/>
<circle cx="100.5" cy="502.1" r="0.65" fill="#403a78"/>
<circle cx="106.7" cy="510.9" r="0.65" fill="#2b2d5e"/>
<circle cx="91.9" cy="510.5" r="0.65" fill="#e9e420"/>
<polygon points="55.2,506.0 58.0,502.5 62.0,501.0 65.0,498.5 69.0,496.5 72.0,494.8 75.5,494.2 76.8,498.0 77.5,503.0 78.3,508.0 74.0,510.5 68.0,513.0 62.0,515.5 57.5,515.0 55.0,511.0" fill="#c0de2a" fill-opacity="0.3"/>
<circle cx="67.5" cy="503.8" r="0.65" fill="#bedf26"/>
<circle cx="76.7" cy="497.8" r="0.65" fill="#c5df22"/>
<circle cx="60.0" cy="512.2" r="0.65" fill="#44be70"/>
<circle cx="55.8" cy="511.9" r="0.65" fill="#81d24c"/>
<circle cx="58.8" cy="509.7" r="0.65" fill="#4cc16c"/>
<circle cx="73.3" cy="501.0" r="0.65" fill="#bdde27"/>
<circle cx="64.6" cy="506.2" r="0.65" fill="#47bf6e"/>
<circle cx="59.0" cy="507.3" r="0.65" fill="#f6f8e4"/>
<circle cx="55.5" cy="509.9" r="0.65" fill="#65ca5d"/>
<circle cx="69.1" cy="511.3" r="0.65" fill="#d9e21c"/>
<circle cx="72.9" cy="495.4" r="0.65" fill="#f3e522"/>
<circle cx="69.9" cy="512.7" r="0.65" fill="#e9e420"/>
<circle cx="65.5" cy="503.0" r="0.65" fill="#f2e522"/>
<circle cx="69.1" cy="502.9" r="0.65" fill="#e0e31e"/>
<circle cx="69.9" cy="497.4" r="0.65" fill="#fce624"/>
<circle cx="61.1" cy="503.7" r="0.65" fill="#88d447"/>
<circle cx="65.6" cy="510.1" r="0.65" fill="#f6f8e4"/>
<circle cx="69.2" cy="503.7" r="0.65" fill="#d2e21b"/>
<circle cx="70.9" cy="505.4" r="0.65" fill="#e3e41f"/>
<circle cx="59.5" cy="513.9" r="0.65" fill="#95d73f"/>
<circle cx="67.5" cy="500.1" r="0.65" fill="#f5e623"/>
<circle cx="55.8" cy="511.3" r="0.65" fill="#8cd545"/>
<circle cx="70.0" cy="496.4" r="0.65" fill="#b1dc2e"/>
<circle cx="58.7" cy="503.8" r="0.65" fill="#45be70"/>
<circle cx="56.9" cy="505.9" r="0.65" fill="#42bd71"/>
<circle cx="68.3" cy="512.7" r="0.65" fill="#c2df24"/>
<circle cx="68.2" cy="501.0" r="0.65" fill="#f6f8e4"/>
<circle cx="67.2" cy="506.3" r="0.65" fill="#b5dd2c"/>
<circle cx="67.3" cy="512.2" r="0.65" fill="#ece521"/>
<circle cx="57.3" cy="510.6" r="0.65" fill="#4dc16b"/>
<circle cx="76.0" cy="505.2" r="0.65" fill="#e7e41f"/>
<circle cx="76.1" cy="508.7" r="0.65" fill="#e2e31e"/>
<circle cx="66.1" cy="498.4" r="0.65" fill="#bade29"/>
<circle cx="77.1" cy="506.9" r="0.65" fill="#dee31d"/>
<circle cx="61.9" cy="505.8" r="0.65" fill="#9fd939"/>
<circle cx="70.7" cy="500.2" r="0.65" fill="#f6f8e4"/>
<circle cx="71.2" cy="498.9" r="0.65" fill="#c9e020"/>
<circle cx="76.3" cy="496.1" r="0.65" fill="#f6f8e4"/>
<circle cx="74.7" cy="497.6" r="0.65" fill="#e8e420"/>
<circle cx="57.2" cy="508.4" r="0.65" fill="#8cd545"/>
<circle cx="56.6" cy="512.3" r="0.65" fill="#79d051"/>
<circle cx="57.5" cy="514.4" r="0.65" fill="#87d448"/>
<circle cx="64.9" cy="501.1" r="0.65" fill="#f5e623"/>
<circle cx="67.7" cy="501.1" r="0.65" fill="#bfdf25"/>
<circle cx="70.2" cy="504.9" r="0.65" fill="#fae624"/>
<circle cx="67.2" cy="500.6" r="0.65" fill="#e9e420"/>
<circle cx="67.5" cy="510.9" r="0.65" fill="#c2df24"/>
<circle cx="61.9" cy="502.7" r="0.65" fill="#f6f8e4"/>
<circle cx="71.7" cy="502.0" r="0.65" fill="#b5dd2c"/>
<circle cx="60.4" cy="507.0" r="0.65" fill="#f6f8e4"/>
<circle cx="59.8" cy="515.1" r="0.65" fill="#9ed93a"/>
<circle cx="65.1" cy="512.9" r="0.65" fill="#81d24c"/>
<circle cx="69.0" cy="501.9" r="0.65" fill="#bfdf26"/>
<circle cx="58.2" cy="502.6" r="0.65" fill="#53c468"/>
<circle cx="75.7" cy="503.7" r="0.65" fill="#cbe11e"/>
<circle cx="77.8" cy="508.5" r="0.65" fill="#d2e21b"/>
<circle cx="65.7" cy="507.4" r="0.65" fill="#bede26"/>
<circle cx="76.2" cy="499.5" r="0.65" fill="#d3e21b"/>
<circle cx="65.4" cy="514.0" r="0.65" fill="#41bc72"/>
<circle cx="72.9" cy="505.9" r="0.65" fill="#c7e021"/>
<circle cx="66.3" cy="509.0" r="0.65" fill="#cde11d"/>
<circle cx="70.7" cy="496.6" r="0.65" fill="#f6f8e4"/>
<circle cx="55.5" cy="507.1" r="0.65" fill="#5fc860"/>
<circle cx="71.5" cy="501.9" r="0.65" fill="#cae01f"/>
<circle cx="75.6" cy="500.6" r="0.65" fill="#f6f8e4"/>
<circle cx="59.5" cy="501.8" r="0.65" fill="#61c95f"/>
<circle cx="67.7" cy="508.8" r="0.65" fill="#eee521"/>
<circle cx="70.4" cy="511.8" r="0.65" fill="#bedf26"/>
<circle cx="77.4" cy="503.3" r="0.65" fill="#dde31d"/>
<circle cx="63.6" cy="507.7" r="0.65" fill="#7cd14f"/>
<circle cx="70.7" cy="498.5" r="0.65" fill="#cbe11e"/>
<circle cx="74.8" cy="498.6" r="0.65" fill="#b8dd2a"/>
<circle cx="73.5" cy="505.3" r="0.65" fill="#dce31d"/>
<circle cx="60.2" cy="502.3" r="0.65" fill="#6acc5a"/>
<circle cx="65.5" cy="511.3" r="0.65" fill="#59c664"/>
<circle cx="77.6" cy="504.6" r="0.65" fill="#b5dd2b"/>
<circle cx="68.7" cy="502.0" r="0.65" fill="#f6f8e4"/>
<circle cx="64.8" cy="506.6" r="0.65" fill="#f1e522"/>
<circle cx="69.1" cy="506.7" r="0.65" fill="#fae624"/>
<circle cx="65.1" cy="511.3" r="0.65" fill="#6dcd58"/>
<circle cx="74.4" cy="507.8" r="0.65" fill="#f6f8e4"/>
<circle cx="66.3" cy="504.8" r="0.65" fill="#d6e21b"/>
<circle cx="70.2" cy="506.1" r="0.65" fill="#fae624"/>
<circle cx="67.2" cy="498.2" r="0.65" fill="#c1df24"/>
<circle cx="73.3" cy="503.4" r="0.65" fill="#ece521"/>
<circle cx="75.9" cy="503.1" r="0.65" fill="#dbe31d"/>
<circle cx="74.9" cy="502.7" r="0.65" fill="#f0e522"/>
<circle cx="62.7" cy="514.8" r="0.65" fill="#f6f8e4"/>
<circle cx="63.2" cy="501.4" r="0.65" fill="#fbe624"/>
<circle cx="70.1" cy="496.7" r="0.65" fill="#b8de2a"/>
<circle cx="59.3" cy="502.2" r="0.65" fill="#3fbb73"/>
<circle cx="57.4" cy="512.7" r="0.65" fill="#f6f8e4"/>
<circle cx="62.6" cy="514.5" r="0.65" fill="#88d448"/>
<circle cx="70.7" cy="497.0" r="0.65" fill="#f9e624"/>
<circle cx="74.0" cy="505.5" r="0.65" fill="#f6f8e4"/>
<circle cx="69.7" cy="496.0" r="0.65" fill="#f6f8e4"/>
<circle cx="58.5" cy="503.7" r="0.65" fill="#79d051"/>
<circle cx="64.6" cy="505.1" r="0.65" fill="#f7e623"/>
<circle cx="58.7" cy="515.1" r="0.65" fill="#4ac06d"/>
<circle cx="72.4" cy="495.0" r="0.65" fill="#afdc2f"/>
<circle cx="76.0" cy="506.2" r="0.65" fill="#cce11e"/>
<circle cx="64.2" cy="508.7" r="0.65" fill="#97d73e"/>
<circle cx="63.4" cy="501.6" r="0.65" fill="#cfe11c"/>
<circle cx="73.5" cy="507.5" r="0.65" fill="#e0e31e"/>
<circle cx="74.6" cy="504.2" r="0.65" fill="#cfe11c"/>
<circle cx="69.9" cy="502.0" r="0.65" fill="#bade28"/>
<circle cx="71.1" cy="503.1" r="0.65" fill="#cae01f"/>
<circle cx="65.2" cy="501.4" r="0.65" fill="#fce624"/>
<circle cx="68.9" cy="505.3" r="0.65" fill="#d4e21b"/>
<circle cx="77.3" cy="499.7" r="0.65" fill="#d2e21b"/>
<circle cx="77.1" cy="506.6" r="0.65" fill="#b9de29"/>
<circle cx="55.9" cy="512.8" r="0.65" fill="#52c469"/>
<circle cx="66.2" cy="505.0" r="0.65" fill="#f6f8e4"/>
<circle cx="63.4" cy="501.0" r="0.65" fill="#f6f8e4"/>
<circle cx="67.1" cy="507.7" r="0.65" fill="#e5e41f"/>
<circle cx="68.8" cy="506.4" r="0.65" fill="#c2df24"/>
<circle cx="65.4" cy="501.0" r="0.65" fill="#fae624"/>
<circle cx="75.3" cy="509.9" r="0.65" fill="#f0e522"/>
<circle cx="67.1" cy="498.7" r="0.65" fill="#cde11d"/>
<circle cx="73.5" cy="499.6" r="0.65" fill="#f6f8e4"/>
<circle cx="65.2" cy="513.5" r="0.65" fill="#91d642"/>
<circle cx="65.0" cy="505.5" r="0.65" fill="#aedc30"/>
<circle cx="66.9" cy="508.3" r="0.65" fill="#d1e11b"/>
<circle cx="67.9" cy="507.9" r="0.65" fill="#d9e21c"/>
<circle cx="64.8" cy="499.1" r="0.65" fill="#bade28"/>
<circle cx="64.1" cy="514.6" r="0.65" fill="#99d83d"/>
<circle cx="74.4" cy="495.8" r="0.65" fill="#dfe31e"/>
<circle cx="70.9" cy="510.5" r="0.65" fill="#b1dc2e"/>
<circle cx="57.4" cy="504.9" r="0.65" fill="#91d642"/>
<circle cx="61.8" cy="504.3" r="0.65" fill="#bdde27"/>
<circle cx="71.9" cy="509.9" r="0.65" fill="#f3e522"/>
<circle cx="73.0" cy="508.3" r="0.65" fill="#dde31d"/>
<circle cx="70.0" cy="507.2" r="0.65" fill="#c7e021"/>
<circle cx="68.2" cy="508.4" r="0.65" fill="#f1e522"/>
<circle cx="63.5" cy="500.1" r="0.65" fill="#ebe420"/>
<circle cx="66.7" cy="505.7" r="0.65" fill="#bcde27"/>
<circle cx="63.3" cy="511.5" r="0.65" fill="#64ca5d"/>
<circle cx="62.0" cy="511.7" r="0.65" fill="#90d643"/>
<circle cx="69.2" cy="503.8" r="0.65" fill="#b2dd2d"/>
<circle cx="77.3" cy="504.3" r="0.65" fill="#f6f8e4"/>
<circle cx="67.7" cy="499.8" r="0.65" fill="#c7e021"/>
<circle cx="77.3" cy="500.5" r="0.65" fill="#dbe31d"/>
<circle cx="71.7" cy="495.4" r="0.65" fill="#c5df22"/>
<circle cx="68.1" cy="511.7" r="0.65" fill="#e4e41f"/>
<circle cx="59.2" cy="513.3" r="0.65" fill="#f6f8e4"/>
<circle cx="70.6" cy="505.9" r="0.65" fill="#c8e020"/>
<circle cx="60.7" cy="508.3" r="0.65" fill="#79d051"/>
<circle cx="69.6" cy="499.7" r="0.65" fill="#f1e522"/>
<circle cx="63.6" cy="501.3" r="0.65" fill="#ece521"/>
<circle cx="62.8" cy="503.6" r="0.65" fill="#cbe11e"/>
<circle cx="75.4" cy="505.1" r="0.65" fill="#f6f8e4"/>
<circle cx="56.4" cy="504.6" r="0.65" fill="#49c06d"/>
<circle cx="77.1" cy="499.7" r="0.65" fill="#cbe11e"/>
<circle cx="78.2" cy="507.9" r="0.65" fill="#eee521"/>
<circle cx="61.8" cy="502.9" r="0.65" fill="#e4e41f"/>
<circle cx="64.8" cy="514.0" r="0.65" fill="#4ac06c"/>
<circle cx="64.1" cy="511.0" r="0.65" fill="#67cb5c"/>
<circle cx="57.0" cy="503.6" r="0.65" fill="#3ebb73"/>
<circle cx="60.0" cy="508.4" r="0.65" fill="#49c06d"/>
<circle cx="76.3" cy="508.8" r="0.65" fill="#c1df24"/>
<circle cx="59.9" cy="502.2" r="0.65" fill="#75cf53"/>
<circle cx="57.0" cy="504.2" r="0.65" fill="#6ecd58"/>
<circle cx="62.6" cy="507.2" r="0.65" fill="#6ccc59"/>
<circle cx="62.0" cy="503.6" r="0.65" fill="#4dc26b"/>
<circle cx="72.1" cy="497.3" r="0.65" fill="#f6f8e4"/>
<circle cx="55.2" cy="507.9" r="0.65" fill="#57c665"/>
<circle cx="65.1" cy="511.2" r="0.65" fill="#92d641"/>
<circle cx="73.9" cy="501.9" r="0.65" fill="#f6f8e4"/>
<circle cx="63.5" cy="512.2" r="0.65" fill="#f6f8e4"/>
<circle cx="60.6" cy="514.8" r="0.65" fill="#50c369"/>
<circle cx="74.5" cy="495.7" r="0.65" fill="#f6f8e4"/>
<circle cx="56.7" cy="508.2" r="0.65" fill="#44bd70"/>
<circle cx="64.6" cy="501.3" r="0.65" fill="#bade28"/>
<circle cx="75.2" cy="506.6" r="0.65" fill="#b7dd2a"/>
<circle cx="62.6" cy="500.5" r="0.65" fill="#d1e11b"/>
<circle cx="74.8" cy="494.6" r="0.65" fill="#bede26"/>
<circle cx="62.1" cy="502.4" r="0.65" fill="#b8dd2a"/>
<circle cx="72.4" cy="507.2" r="0.65" fill="#f6f8e4"/>
<circle cx="66.9" cy="504.2" r="0.65" fill="#cce11e"/>
<circle cx="72.4" cy="501.2" r="0.65" fill="#f5e623"/>
<circle cx="63.7" cy="500.6" r="0.65" fill="#f6f8e4"/>
<circle cx="66.9" cy="511.7" r="0.65" fill="#f6f8e4"/>
<circle cx="76.5" cy="507.1" r="0.65" fill="#b9de29"/>
<circle cx="75.4" cy="495.7" r="0.65" fill="#dfe31e"/>
<circle cx="67.0" cy="503.7" r="0.65" fill="#f9e624"/>
<circle cx="66.6" cy="511.0" r="0.65" fill="#c3df23"/>
<circle cx="73.1" cy="509.3" r="0.65" fill="#fce624"/>
<circle cx="76.9" cy="502.5" r="0.65" fill="#c5e022"/>
<circle cx="62.9" cy="506.1" r="0.65" fill="#40bc72"/>
<circle cx="76.2" cy="500.1" r="0.65" fill="#fae624"/>
<circle cx="78.0" cy="505.6" r="0.65" fill="#f6f8e4"/>
<circle cx="64.8" cy="501.7" r="0.65" fill="#fce624"/>
<circle cx="74.1" cy="507.2" r="0.65" fill="#bedf26"/>
<circle cx="58.1" cy="505.2" r="0.65" fill="#68cb5b"/>
<circle cx="74.0" cy="501.4" r="0.65" fill="#e6e41f"/>
<circle cx="76.8" cy="507.9" r="0.65" fill="#bede26"/>
<circle cx="66.1" cy="499.6" r="0.65" fill="#f6f8e4"/>
<circle cx="75.8" cy="505.5" r="0.65" fill="#f6f8e4"/>
<circle cx="57.4" cy="514.1" r="0.65" fill="#89d447"/>
<circle cx="69.3" cy="510.3" r="0.65" fill="#dae31d"/>
<circle cx="61.2" cy="502.1" r="0.65" fill="#f6f8e4"/>
<circle cx="62.3" cy="515.2" r="0.65" fill="#52c468"/>
<circle cx="67.4" cy="505.5" r="0.65" fill="#c1df25"/>
<circle cx="72.1" cy="502.4" r="0.65" fill="#c9e01f"/>
<circle cx="66.3" cy="507.8" r="0.65" fill="#c8e020"/>
<circle cx="61.6" cy="511.1" r="0.65" fill="#99d83d"/>
<circle cx="58.7" cy="507.9" r="0.65" fill="#87d448"/>
<circle cx="59.8" cy="504.5" r="0.65" fill="#98d83d"/>
<circle cx="76.0" cy="503.8" r="0.65" fill="#f1e522"/>
<circle cx="67.3" cy="503.0" r="0.65" fill="#ebe521"/>
<circle cx="63.9" cy="509.4" r="0.65" fill="#3cba75"/>
<circle cx="58.4" cy="512.2" r="0.65" fill="#6dcc58"/>
<circle cx="61.6" cy="509.8" r="0.65" fill="#f6f8e4"/>
<circle cx="72.0" cy="498.9" r="0.65" fill="#d9e21c"/>
<circle cx="70.2" cy="496.1" r="0.65" fill="#d9e21c"/>
<circle cx="72.8" cy="500.1" r="0.65" fill="#c7e021"/>
<circle cx="65.3" cy="500.4" r="0.65" fill="#d4e21b"/>
<circle cx="73.1" cy="502.2" r="0.65" fill="#fbe624"/>
<circle cx="67.0" cy="509.5" r="0.65" fill="#f4e623"/>
<circle cx="59.5" cy="501.6" r="0.65" fill="#71ce56"/>
<circle cx="69.0" cy="497.5" r="0.65" fill="#dae31d"/>
<circle cx="66.9" cy="505.1" r="0.65" fill="#d8e21c"/>
<circle cx="75.5" cy="509.7" r="0.65" fill="#bfdf26"/>
<circle cx="66.0" cy="513.5" r="0.65" fill="#89d447"/>
<circle cx="70.0" cy="498.7" r="0.65" fill="#fbe624"/>
<circle cx="61.9" cy="506.2" r="0.65" fill="#f6f8e4"/>
<circle cx="56.8" cy="503.8" r="0.65" fill="#55c567"/>
<circle cx="60.0" cy="507.1" r="0.65" fill="#8ad446"/>
<circle cx="75.7" cy="498.8" r="0.65" fill="#b2dd2e"/>
<circle cx="58.7" cy="504.5" r="0.65" fill="#6fcd57"/>
<circle cx="64.8" cy="501.7" r="0.65" fill="#cbe11e"/>
<circle cx="74.7" cy="504.2" r="0.65" fill="#dbe31d"/>
<circle cx="56.2" cy="512.5" r="0.65" fill="#9cd83b"/>
<circle cx="64.2" cy="514.4" r="0.65" fill="#f6f8e4"/>
<circle cx="62.3" cy="508.7" r="0.65" fill="#8ed544"/>
<circle cx="64.4" cy="503.2" r="0.65" fill="#eee521"/>
<circle cx="64.2" cy="502.2" r="0.65" fill="#b6dd2b"/>
<circle cx="71.3" cy="509.3" r="0.65" fill="#c7e021"/>
<circle cx="73.1" cy="502.4" r="0.65" fill="#f3e522"/>
<circle cx="77.5" cy="504.3" r="0.65" fill="#bcde27"/>
<circle cx="61.8" cy="508.0" r="0.65" fill="#5fc861"/>
<circle cx="75.9" cy="497.3" r="0.65" fill="#fbe624"/>
<circle cx="68.9" cy="499.9" r="0.65" fill="#fbe624"/>
<circle cx="64.7" cy="507.7" r="0.65" fill="#f6f8e4"/>
<circle cx="72.2" cy="497.2" r="0.65" fill="#f6f8e4"/>
<circle cx="75.8" cy="505.4" r="0.65" fill="#dee31e"/>
<circle cx="71.9" cy="505.2" r="0.65" fill="#e2e31e"/>
<circle cx="70.9" cy="508.5" r="0.65" fill="#e3e41f"/>
<circle cx="72.0" cy="504.5" r="0.65" fill="#dde31d"/>
<circle cx="65.3" cy="506.7" r="0.65" fill="#b1dc2e"/>
<circle cx="70.2" cy="512.0" r="0.65" fill="#bcde28"/>
<circle cx="60.6" cy="514.9" r="0.65" fill="#78d051"/>
<circle cx="59.6" cy="505.5" r="0.65" fill="#59c664"/>
<circle cx="76.5" cy="496.8" r="0.65" fill="#f2e522"/>
<circle cx="70.1" cy="509.6" r="0.65" fill="#f6f8e4"/>
<circle cx="76.2" cy="496.9" r="0.65" fill="#c5df22"/>
<circle cx="61.8" cy="503.9" r="0.65" fill="#3cba75"/>
<circle cx="72.9" cy="504.3" r="0.65" fill="#d5e21b"/>
<circle cx="73.0" cy="505.5" r="0.65" fill="#e2e31e"/>
<circle cx="75.5" cy="494.3" r="0.65" fill="#dfe31e"/>
<circle cx="68.8" cy="505.9" r="0.65" fill="#e0e31e"/>
<circle cx="77.7" cy="505.7" r="0.65" fill="#b9de29"/>
<circle cx="75.9" cy="504.6" r="0.65" fill="#dce31d"/>
<circle cx="66.6" cy="513.3" r="0.65" fill="#97d73e"/>
<circle cx="72.6" cy="511.0" r="0.65" fill="#dee31d"/>
<circle cx="59.5" cy="501.9" r="0.65" fill="#6bcc59"/>
<circle cx="67.6" cy="505.2" r="0.65" fill="#f0e522"/>
<circle cx="59.6" cy="511.7" r="0.65" fill="#76cf53"/>
<circle cx="69.5" cy="511.3" r="0.65" fill="#d1e11b"/>
<circle cx="69.5" cy="499.8" r="0.65" fill="#e3e41f"/>
<circle cx="66.1" cy="511.2" r="0.65" fill="#e1e31e"/>
<circle cx="62.6" cy="513.4" r="0.65" fill="#63c95e"/>
<circle cx="71.1" cy="496.2" r="0.65" fill="#e7e420"/>
<circle cx="71.3" cy="495.4" r="0.65" fill="#f7e623"/>
<circle cx="62.5" cy="508.7" r="0.65" fill="#4dc26b"/>
<circle cx="73.5" cy="497.2" r="0.65" fill="#f6f8e4"/>
<circle cx="73.7" cy="502.1" r="0.65" fill="#f2e522"/>
<circle cx="64.7" cy="510.5" r="0.65" fill="#f6f8e4"/>
<circle cx="64.0" cy="505.8" r="0.65" fill="#c6e021"/>
<circle cx="59.9" cy="511.1" r="0.65" fill="#81d24c"/>
<circle cx="61.8" cy="502.7" r="0.65" fill="#e2e31e"/>
<circle cx="55.2" cy="509.1" r="0.65" fill="#70cd56"/>
<circle cx="59.0" cy="504.3" r="0.65" fill="#9bd83c"/>
<circle cx="75.1" cy="494.5" r="0.65" fill="#f6f8e4"/>
<circle cx="69.0" cy="507.9" r="0.65" fill="#e6e41f"/>
<circle cx="70.6" cy="497.5" r="0.65" fill="#dbe31d"/>
<circle cx="71.4" cy="511.3" r="0.65" fill="#bfdf26"/>
<circle cx="62.5" cy="506.2" r="0.65" fill="#82d24b"/>
<circle cx="59.0" cy="509.7" r="0.65" fill="#55c567"/>
<circle cx="65.7" cy="503.7" r="0.65" fill="#c0df25"/>
<circle cx="62.3" cy="510.0" r="0.65" fill="#f6f8e4"/>
<circle cx="67.4" cy="498.4" r="0.65" fill="#c1df24"/>
<circle cx="75.1" cy="507.3" r="0.65" fill="#f3e522"/>
<circle cx="72.6" cy="500.2" r="0.65" fill="#dae21c"/>
<circle cx="63.3" cy="503.1" r="0.65" fill="#f6f8e4"/>
<circle cx="64.4" cy="510.8" r="0.65" fill="#f6f8e4"/>
<circle cx="68.4" cy="499.1" r="0.65" fill="#bedf26"/>
<circle cx="76.1" cy="506.3" r="0.65" fill="#f6f8e4"/>
<circle cx="73.1" cy="502.1" r="0.65" fill="#d4e21b"/>
<circle cx="73.1" cy="495.9" r="0.65" fill="#f6f8e4"/>
<circle cx="67.5" cy="500.6" r="0.65" fill="#c0df25"/>
<circle cx="68.9" cy="505.3" r="0.65" fill="#d9e21c"/>
<circle cx="74.3" cy="509.5" r="0.65" fill="#e3e41f"/>
<circle cx="60.6" cy="502.3" r="0.65" fill="#6fcd57"/>
<circle cx="64.4" cy="501.4" r="0.65" fill="#c4df22"/>
<circle cx="58.5" cy="502.7" r="0.65" fill="#f6f8e4"/>
<circle cx="65.1" cy="498.9" r="0.65" fill="#fbe624"/>
<circle cx="73.4" cy="506.0" r="0.65" fill="#c8e020"/>
<circle cx="56.9" cy="512.1" r="0.65" fill="#9bd83c"/>
<circle cx="64.0" cy="512.0" r="0.65" fill="#74cf54"/>
<circle cx="72.0" cy="497.8" r="0.65" fill="#e7e420"/>
<circle cx="73.7" cy="499.4" r="0.65" fill="#f6f8e4"/>
<circle cx="68.9" cy="509.1" r="0.65" fill="#c0df25"/>
<circle cx="58.5" cy="510.4" r="0.65" fill="#74cf54"/>
<circle cx="57.2" cy="514.9" r="0.65" fill="#4cc16c"/>
<circle cx="58.8" cy="510.1" r="0.65" fill="#f6f8e4"/>
<circle cx="68.4" cy="511.9" r="0.65" fill="#f6f8e4"/>
<circle cx="70.0" cy="509.2" r="0.65" fill="#d5e21b"/>
<circle cx="76.5" cy="498.7" r="0.65" fill="#f6f8e4"/>
<circle cx="76.6" cy="506.4" r="0.65" fill="#b3dd2d"/>
<circle cx="64.8" cy="514.2" r="0.65" fill="#5fc861"/>
<circle cx="64.3" cy="509.0" r="0.65" fill="#47bf6e"/>
<circle cx="59.7" cy="515.2" r="0.65" fill="#f6f8e4"/>
<circle cx="64.4" cy="512.2" r="0.65" fill="#f6f8e4"/>
<circle cx="67.9" cy="500.3" r="0.65" fill="#e1e31e"/>
<circle cx="72.2" cy="500.0" r="0.65" fill="#f2e522"/>
<circle cx="60.8" cy="511.4" r="0.65" fill="#5fc861"/>
<circle cx="60.5" cy="502.1" r="0.65" fill="#f6f8e4"/>
<circle cx="71.1" cy="503.3" r="0.65" fill="#dee31d"/>
<circle cx="64.1" cy="501.3" r="0.65" fill="#eee521"/>
<circle cx="70.8" cy="502.5" r="0.65" fill="#c3df23"/>
<circle cx="76.4" cy="504.9" r="0.65" fill="#c1df25"/>
<circle cx="69.3" cy="498.4" r="0.65" fill="#e7e420"/>
<circle cx="68.9" cy="496.8" r="0.65" fill="#f9e624"/>
<circle cx="60.4" cy="510.5" r="0.65" fill="#85d349"/>
<circle cx="60.3" cy="515.3" r="0.65" fill="#89d447"/>
<circle cx="62.4" cy="508.5" r="0.65" fill="#5bc763"/>
<circle cx="55.3" cy="507.9" r="0.65" fill="#70ce56"/>
<circle cx="59.0" cy="503.0" r="0.65" fill="#55c567"/>
<circle cx="75.6" cy="495.7" r="0.65" fill="#e4e41f"/>
<circle cx="66.5" cy="509.0" r="0.65" fill="#f6f8e4"/>
<circle cx="58.5" cy="509.1" r="0.65" fill="#6acc5a"/>
<circle cx="64.5" cy="510.4" r="0.65" fill="#7fd24d"/>
<circle cx="69.4" cy="504.3" r="0.65" fill="#f2e522"/>
<circle cx="75.5" cy="506.5" r="0.65" fill="#b5dd2c"/>
<circle cx="59.8" cy="511.5" r="0.65" fill="#51c369"/>
<circle cx="70.7" cy="502.1" r="0.65" fill="#c7e021"/>
<circle cx="58.6" cy="507.4" r="0.65" fill="#6fcd57"/>
<circle cx="77.9" cy="506.1" r="0.65" fill="#f7e623"/>
<circle cx="75.8" cy="509.0" r="0.65" fill="#f6f8e4"/>
<circle cx="72.9" cy="510.9" r="0.65" fill="#e9e420"/>
<circle cx="57.2" cy="511.0" r="0.65" fill="#3ebb73"/>
<circle cx="63.1" cy="512.9" r="0.65" fill="#4ec26b"/>
<circle cx="76.7" cy="507.0" r="0.65" fill="#eae420"/>
<circle cx="57.1" cy="505.1" r="0.65" fill="#f6f8e4"/>
<circle cx="69.5" cy="504.8" r="0.65" fill="#d0e11b"/>
<circle cx="73.4" cy="509.1" r="0.65" fill="#dfe31e"/>
<circle cx="59.2" cy="514.8" r="0.65" fill="#f6f8e4"/>
<circle cx="62.2" cy="502.7" r="0.65" fill="#4ac06d"/>
<circle cx="62.5" cy="501.9" r="0.65" fill="#f4e623"/>
<circle cx="73.1" cy="498.8" r="0.65" fill="#bbde28"/>
<circle cx="69.0" cy="502.5" r="0.65" fill="#cee11d"/>
<circle cx="64.9" cy="510.8" r="0.65" fill="#82d24b"/>
<circle cx="74.3" cy="505.6" r="0.65" fill="#c3df23"/>
<circle cx="65.0" cy="507.1" r="0.65" fill="#f6f8e4"/>
<circle cx="72.7" cy="502.8" r="0.65" fill="#f6f8e4"/>
<circle cx="68.4" cy="502.6" r="0.65" fill="#bbde28"/>
<circle cx="59.4" cy="508.4" r="0.65" fill="#3fbb73"/>
<circle cx="68.2" cy="497.2" r="0.65" fill="#bede26"/>
<circle cx="64.7" cy="498.6" r="0.65" fill="#d8e21c"/>
<circle cx="63.4" cy="514.9" r="0.65" fill="#57c665"/>
<circle cx="56.0" cy="505.8" r="0.65" fill="#87d448"/>
<circle cx="61.7" cy="509.4" r="0.65" fill="#90d642"/>
<circle cx="76.8" cy="503.9" r="0.65" fill="#f4e623"/>
<circle cx="61.0" cy="509.6" r="0.65" fill="#5ec861"/>
<circle cx="76.7" cy="498.2" r="0.65" fill="#ede521"/>
<circle cx="70.0" cy="496.3" r="0.65" fill="#f0e522"/>
<circle cx="59.2" cy="502.2" r="0.65" fill="#86d448"/>
<circle cx="61.0" cy="513.4" r="0.65" fill="#63c95e"/>
<circle cx="71.7" cy="498.1" r="0.65" fill="#b4dd2c"/>
<circle cx="64.6" cy="510.4" r="0.65" fill="#54c567"/>
<circle cx="66.1" cy="508.4" r="0.65" fill="#f6f8e4"/>
<circle cx="73.7" cy="501.9" r="0.65" fill="#d2e21b"/>
<circle cx="59.0" cy="512.5" r="0.65" fill="#f6f8e4"/>
<circle cx="61.8" cy="513.9" r="0.65" fill="#4bc16c"/>
<circle cx="76.9" cy="501.1" r="0.65" fill="#d8e21c"/>
<circle cx="76.1" cy="503.1" r="0.65" fill="#c2df24"/>
<circle cx="61.3" cy="502.8" r="0.65" fill="#8ed544"/>
<circle cx="76.9" cy="497.3" r="0.65" fill="#bfdf26"/>
<circle cx="63.5" cy="512.5" r="0.65" fill="#4cc16c"/>
<circle cx="59.1" cy="512.9" r="0.65" fill="#f6f8e4"/>
<circle cx="69.7" cy="501.5" r="0.65" fill="#d8e21c"/>
<circle cx="71.1" cy="496.5" r="0.65" fill="#afdc2f"/>
<circle cx="73.5" cy="510.8" r="0.65" fill="#f8e623"/>
<circle cx="66.3" cy="503.4" r="0.65" fill="#f6f8e4"/>
<circle cx="65.5" cy="513.2" r="0.65" fill="#96d73f"/>
<circle cx="69.3" cy="506.3" r="0.65" fill="#bade28"/>
<circle cx="58.5" cy="511.9" r="0.65" fill="#61c95f"/>
<circle cx="72.2" cy="495.6" r="0.65" fill="#f2e522"/>
<circle cx="74.8" cy="504.3" r="0.65" fill="#f6f8e4"/>
<circle cx="73.5" cy="494.8" r="0.65" fill="#b9de29"/>
<circle cx="70.8" cy="501.1" r="0.65" fill="#f6f8e4"/>
<circle cx="59.3" cy="503.8" r="0.65" fill="#73ce54"/>
<circle cx="64.6" cy="508.0" r="0.65" fill="#9ad83c"/>
<circle cx="64.0" cy="501.0" r="0.65" fill="#f7e623"/>
<circle cx="59.7" cy="502.0" r="0.65" fill="#6fcd57"/>
<circle cx="65.4" cy="511.1" r="0.65" fill="#52c468"/>
<circle cx="65.3" cy="505.9" r="0.65" fill="#b5dd2c"/>
<circle cx="58.4" cy="513.8" r="0.65" fill="#f6f8e4"/>
<circle cx="65.5" cy="510.3" r="0.65" fill="#95d73f"/>
<circle cx="72.6" cy="508.8" r="0.65" fill="#cee11c"/>
<circle cx="68.2" cy="496.8" r="0.65" fill="#c1df25"/>
<circle cx="76.9" cy="501.7" r="0.65" fill="#b0dc2e"/>
<circle cx="61.6" cy="508.0" r="0.65" fill="#9ad83c"/>
<circle cx="64.0" cy="511.1" r="0.65" fill="#66ca5c"/>
<circle cx="65.8" cy="503.3" r="0.65" fill="#d1e11b"/>
<circle cx="62.8" cy="515.0" r="0.65" fill="#3fbb73"/>
<circle cx="62.3" cy="512.4" r="0.65" fill="#f6f8e4"/>
<circle cx="55.4" cy="511.6" r="0.65" fill="#93d641"/>
<circle cx="62.8" cy="514.1" r="0.65" fill="#4ac06c"/>
<circle cx="77.5" cy="501.9" r="0.65" fill="#f2e522"/>
<circle cx="58.3" cy="503.9" r="0.65" fill="#f6f8e4"/>
<circle cx="63.9" cy="507.2" r="0.65" fill="#f6f8e4"/>
<circle cx="67.1" cy="497.6" r="0.65" fill="#e3e41f"/>
<circle cx="72.2" cy="509.0" r="0.65" fill="#e8e420"/>
<circle cx="64.3" cy="501.1" r="0.65" fill="#c9e020"/>
<circle cx="71.4" cy="497.2" r="0.65" fill="#fbe624"/>
<circle cx="55.0" cy="508.9" r="0.65" fill="#51c469"/>
<circle cx="60.2" cy="513.7" r="0.65" fill="#53c468"/>
<circle cx="71.3" cy="504.5" r="0.65" fill="#f6f8e4"/>
<circle cx="75.6" cy="501.2" r="0.65" fill="#ece521"/>
<circle cx="54.8" cy="508.6" r="0.65" fill="#4cc16c"/>
<circle cx="75.6" cy="497.6" r="0.65" fill="#e3e41f"/>
<circle cx="59.8" cy="508.4" r="0.65" fill="#63c95e"/>
<circle cx="63.0" cy="505.7" r="0.65" fill="#93d640"/>
<circle cx="74.5" cy="508.9" r="0.65" fill="#bcde27"/>
<circle cx="65.5" cy="507.3" r="0.65" fill="#98d83e"/>
<circle cx="76.3" cy="497.8" r="0.65" fill="#b5dd2b"/>
<circle cx="72.3" cy="507.7" r="0.65" fill="#f6f8e4"/>
<circle cx="68.5" cy="497.3" r="0.65" fill="#efe521"/>
<circle cx="74.2" cy="506.9" r="0.65" fill="#f6f8e4"/>
<circle cx="56.9" cy="509.3" r="0.65" fill="#4cc16c"/>
<circle cx="76.1" cy="506.8" r="0.65" fill="#b6dd2b"/>
<circle cx="77.1" cy="501.9" r="0.65" fill="#dce31d"/>
<circle cx="68.3" cy="499.6" r="0.65" fill="#f6f8e4"/>
<circle cx="72.8" cy="504.4" r="0.65" fill="#ece521"/>
<circle cx="69.3" cy="504.7" r="0.65" fill="#fce624"/>
<circle cx="63.2" cy="510.6" r="0.65" fill="#7fd24d"/>
<circle cx="57.9" cy="502.4" r="0.65" fill="#82d24b"/>
<circle cx="57.3" cy="512.3" r="0.65" fill="#84d34a"/>
<circle cx="74.2" cy="505.5" r="0.65" fill="#c9e020"/>
<circle cx="63.0" cy="503.3" r="0.65" fill="#d8e21c"/>
<circle cx="67.8" cy="503.6" r="0.65" fill="#b3dd2d"/>
<circle cx="63.3" cy="502.4" r="0.65" fill="#efe521"/>
<circle cx="66.7" cy="505.7" r="0.65" fill="#fce624"/>
<circle cx="58.1" cy="508.4" r="0.65" fill="#96d73f"/>
<circle cx="75.6" cy="500.1" r="0.65" fill="#e1e31e"/>
<circle cx="75.8" cy="495.8" r="0.65" fill="#f7e623"/>
<circle cx="70.4" cy="507.7" r="0.65" fill="#d6e21c"/>
<circle cx="63.4" cy="508.1" r="0.65" fill="#f6f8e4"/>
<circle cx="62.4" cy="501.2" r="0.65" fill="#f6e623"/>
<circle cx="77.9" cy="505.2" r="0.65" fill="#d8e21c"/>
<circle cx="62.6" cy="514.1" r="0.65" fill="#8fd543"/>
<circle cx="64.6" cy="499.4" r="0.65" fill="#eee521"/>
<circle cx="66.7" cy="504.2" r="0.65" fill="#aedc30"/>
<circle cx="76.9" cy="502.9" r="0.65" fill="#e6e41f"/>
<circle cx="55.5" cy="508.9" r="0.65" fill="#94d740"/>
<circle cx="74.6" cy="500.6" r="0.65" fill="#ebe420"/>
<circle cx="57.4" cy="507.8" r="0.65" fill="#f6f8e4"/>
<circle cx="72.0" cy="507.6" r="0.65" fill="#b3dd2d"/>
<circle cx="56.1" cy="507.1" r="0.65" fill="#7bd150"/>
<circle cx="70.6" cy="496.4" r="0.65" fill="#f3e522"/>
<circle cx="56.3" cy="511.8" r="0.65" fill="#f6f8e4"/>
<circle cx="59.9" cy="505.4" r="0.65" fill="#94d740"/>
<circle cx="61.3" cy="513.7" r="0.65" fill="#41bc72"/>
<circle cx="73.2" cy="499.2" r="0.65" fill="#c8e020"/>
<circle cx="71.0" cy="496.5" r="0.65" fill="#d3e21b"/>
<circle cx="66.8" cy="502.8" r="0.65" fill="#efe521"/>
<circle cx="75.1" cy="497.1" r="0.65" fill="#bdde27"/>
<circle cx="61.2" cy="502.6" r="0.65" fill="#5dc762"/>
<circle cx="71.1" cy="500.1" r="0.65" fill="#f5e623"/>
<circle cx="57.6" cy="504.8" r="0.65" fill="#94d740"/>
<circle cx="63.8" cy="504.5" r="0.65" fill="#c4df23"/>
<circle cx="75.2" cy="498.7" r="0.65" fill="#f6f8e4"/>
<circle cx="73.8" cy="500.4" r="0.65" fill="#e1e31e"/>
<circle cx="64.1" cy="510.4" r="0.65" fill="#6fcd57"/>
<circle cx="63.3" cy="508.1" r="0.65" fill="#94d740"/>
<circle cx="59.5" cy="501.8" r="0.65" fill="#f6f8e4"/>
<circle cx="64.6" cy="507.1" r="0.65" fill="#f6f8e4"/>
<circle cx="75.7" cy="504.7" r="0.65" fill="#afdc2f"/>
<circle cx="66.3" cy="502.0" r="0.65" fill="#d3e21b"/>
<circle cx="76.8" cy="500.6" r="0.65" fill="#f5e623"/>
<circle cx="69.1" cy="508.5" r="0.65" fill="#d5e21b"/>
<circle cx="74.8" cy="499.0" r="0.65" fill="#b4dd2c"/>
<circle cx="61.8" cy="515.4" r="0.65" fill="#65ca5d"/>
<circle cx="56.8" cy="512.7" r="0.65" fill="#90d643"/>
<circle cx="75.6" cy="496.4" r="0.65" fill="#f6f8e4"/>
<circle cx="65.6" cy="504.9" r="0.65" fill="#e5e41f"/>
<circle cx="68.8" cy="496.7" r="0.65" fill="#e8e420"/>
<circle cx="68.5" cy="507.0" r="0.65" fill="#f6f8e4"/>
<circle cx="77.1" cy="504.1" r="0.65" fill="#e5e41f"/>
<circle cx="59.0" cy="507.2" r="0.65" fill="#63c95e"/>
<circle cx="62.6" cy="508.0" r="0.65" fill="#66ca5c"/>
<circle cx="73.0" cy="495.8" r="0.65" fill="#c3df23"/>
<circle cx="61.8" cy="504.5" r="0.65" fill="#66ca5c"/>
<circle cx="65.4" cy="500.4" r="0.65" fill="#e0e31e"/>
<circle cx="76.4" cy="503.8" r="0.65" fill="#fce624"/>
<circle cx="61.7" cy="515.2" r="0.65" fill="#51c469"/>
<circle cx="64.5" cy="510.5" r="0.65" fill="#f6f8e4"/>
<circle cx="77.0" cy="500.3" r="0.65" fill="#b2dd2d"/>
<circle cx="58.9" cy="513.6" r="0.65" fill="#85d349"/>
<circle cx="76.7" cy="500.0" r="0.65" fill="#ede521"/>
<circle cx="70.2" cy="496.4" r="0.65" fill="#c9e020"/>
<circle cx="59.1" cy="504.9" r="0.65" fill="#4fc26a"/>
<circle cx="66.9" cy="513.3" r="0.65" fill="#f6f8e4"/>
<circle cx="76.1" cy="497.1" r="0.65" fill="#d8e21c"/>
<circle cx="77.2" cy="506.5" r="0.65" fill="#c8e020"/>
<circle cx="58.4" cy="511.0" r="0.65" fill="#f6f8e4"/>
<circle cx="57.7" cy="506.7" r="0.65" fill="#9ad83c"/>
<circle cx="58.2" cy="513.7" r="0.65" fill="#91d642"/>
<circle cx="77.5" cy="504.7" r="0.65" fill="#bfdf26"/>
<circle cx="71.3" cy="511.1" r="0.65" fill="#f6f8e4"/>
<circle cx="58.1" cy="512.5" r="0.65" fill="#7ed14e"/>
<circle cx="65.9" cy="512.9" r="0.65" fill="#80d24c"/>
<circle cx="77.3" cy="509.0" r="0.65" fill="#d2e21b"/>
<circle cx="72.0" cy="500.0" r="0.65" fill="#efe521"/>
<circle cx="60.8" cy="510.9" r="0.65" fill="#7bd150"/>
<circle cx="63.0" cy="514.7" r="0.65" fill="#5ec861"/>
<circle cx="63.3" cy="503.4" r="0.65" fill="#dfe31e"/>
<circle cx="61.4" cy="507.9" r="0.65" fill="#7dd14f"/>
<circle cx="75.5" cy="496.1" r="0.65" fill="#f6f8e4"/>
<circle cx="66.0" cy="497.9" r="0.65" fill="#b9de29"/>
<circle cx="76.9" cy="506.4" r="0.65" fill="#f6f8e4"/>
<circle cx="76.4" cy="498.5" r="0.65" fill="#e0e31e"/>
<circle cx="73.5" cy="495.7" r="0.65" fill="#d9e21c"/>
<circle cx="61.1" cy="514.2" r="0.65" fill="#42bd71"/>
<circle cx="73.2" cy="499.8" r="0.65" fill="#f0e522"/>
<circle cx="73.4" cy="499.8" r="0.65" fill="#e8e420"/>
<circle cx="65.1" cy="499.4" r="0.65" fill="#f6f8e4"/>
<circle cx="57.2" cy="509.6" r="0.65" fill="#f6f8e4"/>
<circle cx="59.5" cy="513.3" r="0.65" fill="#50c36a"/>
<circle cx="59.9" cy="502.2" r="0.65" fill="#f6f8e4"/>
<circle cx="65.9" cy="513.9" r="0.65" fill="#75cf53"/>
<circle cx="64.6" cy="504.6" r="0.65" fill="#fce624"/>
<circle cx="68.6" cy="508.5" r="0.65" fill="#aedc30"/>
<circle cx="55.2" cy="510.1" r="0.65" fill="#4ec26b"/>
<circle cx="77.8" cy="504.0" r="0.65" fill="#e8e420"/>
<circle cx="67.8" cy="508.1" r="0.65" fill="#f4e522"/>
<circle cx="72.6" cy="511.4" r="0.65" fill="#cde11d"/>
<circle cx="57.3" cy="503.0" r="0.65" fill="#7dd14e"/>
<circle cx="70.6" cy="510.6" r="0.65" fill="#d1e11b"/>
<circle cx="70.2" cy="505.3" r="0.65" fill="#eee521"/>
<circle cx="68.0" cy="508.0" r="0.65" fill="#b8de2a"/>
<circle cx="70.0" cy="506.6" r="0.65" fill="#cfe11c"/>
<circle cx="70.8" cy="510.0" r="0.65" fill="#fae624"/>
<circle cx="56.3" cy="505.5" r="0.65" fill="#f6f8e4"/>
<circle cx="58.6" cy="505.9" r="0.65" fill="#68cb5b"/>
<circle cx="59.9" cy="502.0" r="0.65" fill="#6dcc58"/>
<circle cx="64.3" cy="499.8" r="0.65" fill="#d7e21c"/>
<circle cx="62.4" cy="513.2" r="0.65" fill="#76cf53"/>
<circle cx="70.5" cy="503.4" r="0.65" fill="#c5e022"/>
<circle cx="77.3" cy="506.9" r="0.65" fill="#b3dd2d"/>
<circle cx="73.9" cy="506.1" r="0.65" fill="#e5e41f"/>
<circle cx="60.3" cy="506.3" r="0.65" fill="#6acc5a"/>
<circle cx="71.2" cy="502.6" r="0.65" fill="#b5dd2c"/>
<circle cx="74.3" cy="499.6" r="0.65" fill="#c4df22"/>
<circle cx="60.1" cy="502.4" r="0.65" fill="#9bd83b"/>
<circle cx="56.6" cy="505.2" r="0.65" fill="#8fd643"/>
<circle cx="72.2" cy="506.9" r="0.65" fill="#dfe31e"/>
<circle cx="73.0" cy="501.4" r="0.65" fill="#f8e623"/>
<circle cx="77.9" cy="507.1" r="0.65" fill="#eee521"/>
<circle cx="66.7" cy="510.4" r="0.65" fill="#f1e522"/>
<circle cx="73.8" cy="510.1" r="0.65" fill="#d5e21b"/>
<circle cx="66.5" cy="503.0" r="0.65" fill="#f6f8e4"/>
<circle cx="68.3" cy="506.0" r="0.65" fill="#b9de29"/>
<circle cx="58.2" cy="510.0" r="0.65" fill="#9fd939"/>
<circle cx="71.6" cy="500.2" r="0.65" fill="#cae01f"/>
<circle cx="67.0" cy="502.2" r="0.65" fill="#b5dd2b"/>
<circle cx="71.4" cy="500.8" r="0.65" fill="#fce624"/>
<circle cx="68.4" cy="505.4" r="0.65" fill="#dae21c"/>
<circle cx="61.0" cy="506.1" r="0.65" fill="#64ca5e"/>
<circle cx="76.9" cy="498.6" r="0.65" fill="#f6f8e4"/>
<circle cx="69.2" cy="511.5" r="0.65" fill="#fae624"/>
<circle cx="72.2" cy="508.4" r="0.65" fill="#cee11d"/>
<circle cx="64.4" cy="500.6" r="0.65" fill="#b7dd2a"/>
<circle cx="59.3" cy="513.2" r="0.65" fill="#62c95f"/>
<circle cx="69.5" cy="498.9" r="0.65" fill="#cde11d"/>
<circle cx="72.5" cy="507.5" r="0.65" fill="#e8e420"/>
<ellipse cx="46.5" cy="493.8" rx="1.3" ry="4.6" fill="#e0e040"/>
<line x1="40.00" y1="503.80" x2="44.60" y2="501.40" stroke="#2a2a50" stroke-width="1.1"/>
<circle cx="68.5" cy="483.4" r="0.7" fill="#404060"/>
<text x="242.00" y="10.00" font-size="11.5" font-weight="bold" fill="#000">H</text>
<text x="376.10" y="10.30" font-size="9.05" stroke="#231f20" stroke-width="0.2" text-anchor="middle">Lineage-specific NFE2-binding sites</text>
<circle cx="376" cy="52.5" r="34" fill="#efbcc6"/>
<circle cx="406.6" cy="52.5" r="16.7" fill="#bcd0e2"/>
<defs><clipPath id="cpV"><circle cx="376" cy="52.5" r="34"/></clipPath></defs>
<circle cx="406.6" cy="52.5" r="16.7" fill="#b29aae" clip-path="url(#cpV)"/>
<text x="329.30" y="43.30" font-size="9.4" stroke="#231f20" stroke-width="0.2">Mk</text>
<text x="373.30" y="55.50" font-size="9.7" stroke="#231f20" stroke-width="0.2" text-anchor="middle">5724</text>
<text x="400.80" y="55.50" font-size="9.7" stroke="#231f20" stroke-width="0.2" text-anchor="middle">2111</text>
<text x="423.10" y="36.90" font-size="9.6" stroke="#231f20" stroke-width="0.2" text-anchor="middle">925</text>
<text x="426.70" y="49.60" font-size="8.9" stroke="#231f20" stroke-width="0.2">Erythroid</text>
<line x1="369.20" y1="62.00" x2="336.05" y2="93.42" stroke="#000" stroke-width="1.35"/>
<polygon points="334.6,94.8 336.3,89.3 340.2,93.4" fill="#000"/>
<line x1="415.80" y1="56.50" x2="451.31" y2="93.36" stroke="#000" stroke-width="1.35"/>
<polygon points="452.7,94.8 447.2,93.1 451.2,89.3" fill="#000"/>
<rect x="259.9" y="96.7" width="115.0" height="85.4" fill="none" stroke="#1a1a1a" stroke-width="1.2"/>
<polyline points="263.85,178.97 264.38,178.86 264.91,178.70 265.44,178.51 265.97,178.26 266.50,177.98 267.03,177.67 267.56,177.36 268.09,177.10 268.62,176.92 269.14,176.87 269.67,176.94 270.20,177.13 270.73,177.38 271.26,177.64 271.79,177.86 272.32,178.02 272.85,178.08 273.38,178.05 273.91,177.93 274.44,177.74 274.97,177.49 275.50,177.20 276.03,176.90 276.56,176.60 277.09,176.34 277.62,176.12 278.15,175.95 278.68,175.84 279.21,175.78 279.74,175.77 280.26,175.78 280.79,175.82 281.32,175.85 281.85,175.87 282.38,175.87 282.91,175.85 283.44,175.80 283.97,175.72 284.50,175.61 285.03,175.49 285.56,175.37 286.09,175.25 286.62,175.14 287.15,175.05 287.68,174.99 288.21,174.95 288.74,174.94 289.27,174.95 289.80,174.96 290.32,174.98 290.85,174.99 291.38,174.97 291.91,174.91 292.44,174.82 292.97,174.68 293.50,174.50 294.03,174.29 294.56,174.04 295.09,173.77 295.62,173.50 296.15,173.23 296.68,172.98 297.21,172.76 297.74,172.58 298.27,172.43 298.80,172.33 299.33,172.25 299.86,172.20 300.39,172.17 300.92,172.14 301.44,172.09 301.97,172.03 302.50,171.94 303.03,171.82 303.56,171.66 304.09,171.47 304.62,171.24 305.15,170.99 305.68,170.73 306.21,170.45 306.74,170.16 307.27,169.85 307.80,169.51 308.33,169.11 308.86,168.61 309.39,167.97 309.92,167.11 310.45,165.96 310.98,164.42 311.50,162.42 312.03,159.86 312.56,156.72 313.09,152.96 313.62,148.64 314.15,143.88 314.68,138.88 315.21,134.01 315.74,129.76 316.27,126.76 316.80,125.54 317.33,126.51 317.86,129.29 318.39,133.33 318.92,138.05 319.45,142.94 319.98,147.65 320.51,151.96 321.04,155.75 321.57,158.98 322.10,161.63 322.62,163.75 323.15,165.41 323.68,166.67 324.21,167.62 324.74,168.34 325.27,168.88 325.80,169.31 326.33,169.67 326.86,170.00 327.39,170.31 327.92,170.62 328.45,170.94 328.98,171.27 329.51,171.61 330.04,171.94 330.57,172.26 331.10,172.55 331.63,172.80 332.16,173.01 332.69,173.17 333.21,173.28 333.74,173.34 334.27,173.36 334.80,173.35 335.33,173.32 335.86,173.28 336.39,173.25 336.92,173.23 337.45,173.24 337.98,173.29 338.51,173.36 339.04,173.46 339.57,173.59 340.10,173.73 340.63,173.88 341.16,174.03 341.69,174.16 342.22,174.27 342.75,174.35 343.28,174.41 343.80,174.45 344.33,174.47 344.86,174.48 345.39,174.50 345.92,174.53 346.45,174.58 346.98,174.66 347.51,174.78 348.04,174.94 348.57,175.14 349.10,175.36 349.63,175.60 350.16,175.86 350.69,176.10 351.22,176.33 351.75,176.53 352.28,176.69 352.81,176.81 353.34,176.89 353.87,176.92 354.39,176.92 354.92,176.89 355.45,176.84 355.98,176.79 356.51,176.75 357.04,176.74 357.57,176.74 358.10,176.78 358.63,176.84 359.16,176.93 359.69,177.05 360.22,177.17 360.75,177.29 361.28,177.40 361.81,177.49 362.34,177.56 362.87,177.61 363.40,177.62 363.93,177.62 364.46,177.60 364.98,177.58 365.51,177.57 366.04,177.57 366.57,177.60 367.10,177.67 367.63,177.79 368.16,177.94 368.69,178.13 369.22,178.35 369.75,178.59" fill="none" stroke="#c8365e" stroke-width="1.3" stroke-linejoin="round"/>
<polyline points="263.85,178.87 264.38,178.74 264.91,178.57 265.44,178.36 265.97,178.10 266.50,177.80 267.03,177.48 267.56,177.16 268.09,176.88 268.62,176.69 269.14,176.62 269.67,176.68 270.20,176.85 270.73,177.09 271.26,177.34 271.79,177.55 272.32,177.68 272.85,177.73 273.38,177.68 273.91,177.55 274.44,177.34 274.97,177.08 275.50,176.78 276.03,176.46 276.56,176.15 277.09,175.87 277.62,175.64 278.15,175.46 278.68,175.33 279.21,175.26 279.74,175.23 280.26,175.23 280.79,175.24 281.32,175.26 281.85,175.27 282.38,175.26 282.91,175.22 283.44,175.15 283.97,175.05 284.50,174.93 285.03,174.80 285.56,174.66 286.09,174.52 286.62,174.40 287.15,174.29 287.68,174.21 288.21,174.16 288.74,174.13 289.27,174.12 289.80,174.12 290.32,174.12 290.85,174.11 291.38,174.07 291.91,174.00 292.44,173.89 292.97,173.74 293.50,173.54 294.03,173.30 294.56,173.04 295.09,172.75 295.62,172.46 296.15,172.17 296.68,171.90 297.21,171.66 297.74,171.45 298.27,171.29 298.80,171.16 299.33,171.06 299.86,170.98 300.39,170.92 300.92,170.86 301.44,170.79 301.97,170.70 302.50,170.57 303.03,170.42 303.56,170.22 304.09,169.99 304.62,169.72 305.15,169.43 305.68,169.11 306.21,168.77 306.74,168.42 307.27,168.03 307.80,167.59 308.33,167.07 308.86,166.43 309.39,165.60 309.92,164.49 310.45,163.01 310.98,161.05 311.50,158.51 312.03,155.29 312.56,151.33 313.09,146.62 313.62,141.21 314.15,135.24 314.68,129.00 315.21,122.91 315.74,117.62 316.27,113.88 316.80,112.40 317.33,113.64 317.86,117.14 318.39,122.24 318.92,128.17 319.45,134.30 319.98,140.21 320.51,145.62 321.04,150.37 321.57,154.40 322.10,157.72 322.62,160.38 323.15,162.46 323.68,164.05 324.21,165.25 324.74,166.15 325.27,166.85 325.80,167.39 326.33,167.85 326.86,168.25 327.39,168.63 327.92,169.00 328.45,169.38 328.98,169.75 329.51,170.13 330.04,170.50 330.57,170.86 331.10,171.18 331.63,171.47 332.16,171.71 332.69,171.90 333.21,172.03 333.74,172.12 334.27,172.17 334.80,172.18 335.33,172.17 335.86,172.16 336.39,172.15 336.92,172.15 337.45,172.18 337.98,172.24 338.51,172.34 339.04,172.46 339.57,172.61 340.10,172.77 340.63,172.94 341.16,173.10 341.69,173.25 342.22,173.38 342.75,173.48 343.28,173.56 343.80,173.61 344.33,173.65 344.86,173.68 345.39,173.71 345.92,173.75 346.45,173.82 346.98,173.92 347.51,174.06 348.04,174.23 348.57,174.44 349.10,174.68 349.63,174.94 350.16,175.21 350.69,175.47 351.22,175.72 351.75,175.93 352.28,176.11 352.81,176.24 353.34,176.33 353.87,176.38 354.39,176.39 354.92,176.38 355.45,176.35 355.98,176.31 356.51,176.29 357.04,176.28 357.57,176.31 358.10,176.36 358.63,176.44 359.16,176.54 359.69,176.67 360.22,176.80 360.75,176.94 361.28,177.07 361.81,177.17 362.34,177.26 362.87,177.32 363.40,177.35 363.93,177.36 364.46,177.36 364.98,177.35 365.51,177.35 366.04,177.37 366.57,177.42 367.10,177.50 367.63,177.62 368.16,177.79 368.69,178.00 369.22,178.23 369.75,178.49" fill="none" stroke="#f3a23a" stroke-width="1.3" stroke-linejoin="round"/>
<polyline points="263.85,178.18 264.38,178.05 264.91,177.87 265.44,177.66 265.97,177.39 266.50,177.09 267.03,176.76 267.56,176.43 268.09,176.15 268.62,175.96 269.14,175.88 269.67,175.94 270.20,176.11 270.73,176.34 271.26,176.58 271.79,176.78 272.32,176.91 272.85,176.96 273.38,176.90 273.91,176.77 274.44,176.55 274.97,176.28 275.50,175.97 276.03,175.65 276.56,175.34 277.09,175.05 277.62,174.81 278.15,174.63 278.68,174.49 279.21,174.42 279.74,174.38 280.26,174.37 280.79,174.39 281.32,174.40 281.85,174.40 282.38,174.38 282.91,174.34 283.44,174.26 283.97,174.16 284.50,174.03 285.03,173.89 285.56,173.74 286.09,173.60 286.62,173.47 287.15,173.35 287.68,173.27 288.21,173.21 288.74,173.17 289.27,173.16 289.80,173.15 290.32,173.14 290.85,173.12 291.38,173.08 291.91,173.00 292.44,172.88 292.97,172.71 293.50,172.50 294.03,172.26 294.56,171.98 295.09,171.68 295.62,171.38 296.15,171.08 296.68,170.80 297.21,170.55 297.74,170.33 298.27,170.15 298.80,170.00 299.33,169.89 299.86,169.80 300.39,169.72 300.92,169.64 301.44,169.55 301.97,169.43 302.50,169.29 303.03,169.10 303.56,168.88 304.09,168.61 304.62,168.31 305.15,167.98 305.68,167.62 306.21,167.23 306.74,166.81 307.27,166.35 307.80,165.83 308.33,165.20 308.86,164.41 309.39,163.38 309.92,162.02 310.45,160.21 310.98,157.82 311.50,154.73 312.03,150.82 312.56,146.03 313.09,140.33 313.62,133.78 314.15,126.58 314.68,119.04 315.21,111.69 315.74,105.31 316.27,100.82 316.80,99.06 317.33,100.57 317.86,104.83 318.39,111.02 318.92,118.20 319.45,125.64 319.98,132.78 320.51,139.32 321.04,145.06 321.57,149.94 322.10,153.95 322.62,157.16 323.15,159.66 323.68,161.58 324.21,163.03 324.74,164.13 325.27,164.97 325.80,165.63 326.33,166.17 326.86,166.65 327.39,167.09 327.92,167.51 328.45,167.93 328.98,168.35 329.51,168.76 330.04,169.16 330.57,169.54 331.10,169.89 331.63,170.20 332.16,170.46 332.69,170.67 333.21,170.83 333.74,170.94 334.27,171.00 334.80,171.03 335.33,171.03 335.86,171.03 336.39,171.04 336.92,171.05 337.45,171.10 337.98,171.17 338.51,171.27 339.04,171.41 339.57,171.56 340.10,171.73 340.63,171.91 341.16,172.08 341.69,172.24 342.22,172.38 342.75,172.49 343.28,172.58 343.80,172.64 344.33,172.68 344.86,172.72 345.39,172.76 345.92,172.81 346.45,172.89 346.98,172.99 347.51,173.14 348.04,173.32 348.57,173.53 349.10,173.78 349.63,174.04 350.16,174.32 350.69,174.59 351.22,174.84 351.75,175.06 352.28,175.24 352.81,175.38 353.34,175.48 353.87,175.53 354.39,175.55 354.92,175.54 355.45,175.51 355.98,175.49 356.51,175.47 357.04,175.47 357.57,175.50 358.10,175.55 358.63,175.64 359.16,175.75 359.69,175.88 360.22,176.02 360.75,176.16 361.28,176.30 361.81,176.41 362.34,176.50 362.87,176.56 363.40,176.60 363.93,176.62 364.46,176.62 364.98,176.62 365.51,176.62 366.04,176.65 366.57,176.70 367.10,176.79 367.63,176.92 368.16,177.09 368.69,177.30 369.22,177.54 369.75,177.80" fill="none" stroke="#5cc97a" stroke-width="1.3" stroke-linejoin="round"/>
<polyline points="263.85,178.87 264.38,178.74 264.91,178.57 265.44,178.36 265.97,178.10 266.50,177.80 267.03,177.48 267.56,177.16 268.09,176.88 268.62,176.69 269.14,176.62 269.67,176.68 270.20,176.85 270.73,177.09 271.26,177.34 271.79,177.55 272.32,177.68 272.85,177.73 273.38,177.68 273.91,177.55 274.44,177.34 274.97,177.08 275.50,176.78 276.03,176.46 276.56,176.15 277.09,175.87 277.62,175.64 278.15,175.46 278.68,175.33 279.21,175.26 279.74,175.23 280.26,175.23 280.79,175.24 281.32,175.26 281.85,175.27 282.38,175.26 282.91,175.22 283.44,175.15 283.97,175.05 284.50,174.93 285.03,174.80 285.56,174.66 286.09,174.52 286.62,174.40 287.15,174.29 287.68,174.21 288.21,174.16 288.74,174.13 289.27,174.12 289.80,174.12 290.32,174.12 290.85,174.11 291.38,174.07 291.91,174.00 292.44,173.89 292.97,173.74 293.50,173.54 294.03,173.30 294.56,173.04 295.09,172.75 295.62,172.46 296.15,172.17 296.68,171.90 297.21,171.66 297.74,171.45 298.27,171.29 298.80,171.16 299.33,171.06 299.86,170.98 300.39,170.92 300.92,170.86 301.44,170.79 301.97,170.70 302.50,170.57 303.03,170.42 303.56,170.22 304.09,169.99 304.62,169.72 305.15,169.43 305.68,169.11 306.21,168.77 306.74,168.42 307.27,168.03 307.80,167.59 308.33,167.07 308.86,166.43 309.39,165.60 309.92,164.49 310.45,163.01 310.98,161.05 311.50,158.51 312.03,155.29 312.56,151.33 313.09,146.62 313.62,141.21 314.15,135.24 314.68,129.00 315.21,122.91 315.74,117.62 316.27,113.88 316.80,112.40 317.33,113.64 317.86,117.14 318.39,122.24 318.92,128.17 319.45,134.30 319.98,140.21 320.51,145.62 321.04,150.37 321.57,154.40 322.10,157.72 322.62,160.38 323.15,162.46 323.68,164.05 324.21,165.25 324.74,166.15 325.27,166.85 325.80,167.39 326.33,167.85 326.86,168.25 327.39,168.63 327.92,169.00 328.45,169.38 328.98,169.75 329.51,170.13 330.04,170.50 330.57,170.86 331.10,171.18 331.63,171.47 332.16,171.71 332.69,171.90 333.21,172.03 333.74,172.12 334.27,172.17 334.80,172.18 335.33,172.17 335.86,172.16 336.39,172.15 336.92,172.15 337.45,172.18 337.98,172.24 338.51,172.34 339.04,172.46 339.57,172.61 340.10,172.77 340.63,172.94 341.16,173.10 341.69,173.25 342.22,173.38 342.75,173.48 343.28,173.56 343.80,173.61 344.33,173.65 344.86,173.68 345.39,173.71 345.92,173.75 346.45,173.82 346.98,173.92 347.51,174.06 348.04,174.23 348.57,174.44 349.10,174.68 349.63,174.94 350.16,175.21 350.69,175.47 351.22,175.72 351.75,175.93 352.28,176.11 352.81,176.24 353.34,176.33 353.87,176.38 354.39,176.39 354.92,176.38 355.45,176.35 355.98,176.31 356.51,176.29 357.04,176.28 357.57,176.31 358.10,176.36 358.63,176.44 359.16,176.54 359.69,176.67 360.22,176.80 360.75,176.94 361.28,177.07 361.81,177.17 362.34,177.26 362.87,177.32 363.40,177.35 363.93,177.36 364.46,177.36 364.98,177.35 365.51,177.35 366.04,177.37 366.57,177.42 367.10,177.50 367.63,177.62 368.16,177.79 368.69,178.00 369.22,178.23 369.75,178.49" fill="none" stroke="#1d5250" stroke-width="1.25" stroke-linejoin="round"/>
<line x1="257.20" y1="166.72" x2="259.90" y2="166.72" stroke="#231f20" stroke-width="0.7"/>
<text x="253.00" y="169.42" font-size="7.4" stroke="#231f20" stroke-width="0.2" text-anchor="middle" textLength="3.8" lengthAdjust="spacingAndGlyphs">2</text>
<line x1="257.20" y1="145.48" x2="259.90" y2="145.48" stroke="#231f20" stroke-width="0.7"/>
<text x="253.00" y="148.18" font-size="7.4" stroke="#231f20" stroke-width="0.2" text-anchor="middle" textLength="3.8" lengthAdjust="spacingAndGlyphs">4</text>
<line x1="257.20" y1="124.24" x2="259.90" y2="124.24" stroke="#231f20" stroke-width="0.7"/>
<text x="253.00" y="126.94" font-size="7.4" stroke="#231f20" stroke-width="0.2" text-anchor="middle" textLength="3.8" lengthAdjust="spacingAndGlyphs">6</text>
<line x1="257.20" y1="103.00" x2="259.90" y2="103.00" stroke="#231f20" stroke-width="0.7"/>
<text x="253.00" y="105.70" font-size="7.4" stroke="#231f20" stroke-width="0.2" text-anchor="middle" textLength="3.8" lengthAdjust="spacingAndGlyphs">8</text>
<line x1="274.44" y1="182.10" x2="274.44" y2="184.70" stroke="#231f20" stroke-width="0.7"/>
<line x1="295.62" y1="182.10" x2="295.62" y2="184.70" stroke="#231f20" stroke-width="0.7"/>
<line x1="316.80" y1="182.10" x2="316.80" y2="184.70" stroke="#231f20" stroke-width="0.7"/>
<line x1="337.98" y1="182.10" x2="337.98" y2="184.70" stroke="#231f20" stroke-width="0.7"/>
<line x1="359.16" y1="182.10" x2="359.16" y2="184.70" stroke="#231f20" stroke-width="0.7"/>
<text x="271.85" y="195.30" font-size="7.6" stroke="#231f20" stroke-width="0.2" text-anchor="middle" textLength="21.9" lengthAdjust="spacingAndGlyphs">&#8722;2000</text>
<text x="296.70" y="195.30" font-size="7.6" stroke="#231f20" stroke-width="0.2" text-anchor="middle" textLength="20.8" lengthAdjust="spacingAndGlyphs">&#8722;1000</text>
<text x="317.30" y="195.30" font-size="7.6" stroke="#231f20" stroke-width="0.2" text-anchor="middle">0</text>
<text x="338.60" y="195.30" font-size="7.6" stroke="#231f20" stroke-width="0.2" text-anchor="middle" textLength="16.9" lengthAdjust="spacingAndGlyphs">1000</text>
<text x="359.40" y="195.30" font-size="7.6" stroke="#231f20" stroke-width="0.2" text-anchor="middle" textLength="17.8" lengthAdjust="spacingAndGlyphs">2000</text>
<line x1="318.30" y1="101.30" x2="336.50" y2="101.30" stroke="#5cb870" stroke-width="0.9"/>
<line x1="318.50" y1="113.50" x2="328.20" y2="113.50" stroke="#556055" stroke-width="0.9"/>
<line x1="318.50" y1="126.90" x2="328.00" y2="126.90" stroke="#a04060" stroke-width="0.9"/>
<text x="337.00" y="104.80" font-size="7.3" stroke="#5cbc68" stroke-width="0.2" fill="#5cbc68">ABM MkP</text>
<text x="329.80" y="114.50" font-size="7.3" stroke="#2d5a95" stroke-width="0.2" fill="#2d5a95">ABM CD41<tspan font-size="5.26" dx="0.44" dy="-3.07">&#8722;</tspan></text>
<text x="329.80" y="122.20" font-size="7.3" stroke="#f3a63e" stroke-width="0.2" fill="#f3a63e">ABM CD41<tspan font-size="5.26" dx="0.44" dy="-3.07">+</tspan></text>
<text x="328.80" y="130.30" font-size="7.3" stroke="#b8305a" stroke-width="0.2" fill="#b8305a">FL CD41<tspan font-size="5.26" dx="0.44" dy="-3.07">&#8722;</tspan></text>
<line x1="247.00" y1="100.30" x2="247.00" y2="174.50" stroke="#555" stroke-width="0.9"/>
<text x="243.90" y="137.70" font-size="8.0" text-anchor="middle" font-weight="bold" transform="rotate(-90 243.90 137.70)" textLength="73.5" lengthAdjust="spacingAndGlyphs">ATAC- seq read coverage</text>
<rect x="405.2" y="96.8" width="111.4" height="85.7" fill="none" stroke="#1a1a1a" stroke-width="1.2"/>
<polyline points="409.00,176.62 409.52,176.74 410.04,176.81 410.56,176.85 411.08,176.84 411.60,176.80 412.12,176.73 412.64,176.66 413.16,176.59 413.68,176.54 414.20,176.53 414.72,176.55 415.24,176.61 415.76,176.71 416.28,176.83 416.80,176.96 417.32,177.08 417.84,177.17 418.36,177.22 418.88,177.21 419.40,177.15 419.92,177.02 420.44,176.84 420.96,176.62 421.48,176.38 422.00,176.14 422.52,175.92 423.04,175.73 423.56,175.58 424.08,175.49 424.60,175.46 425.12,175.48 425.64,175.55 426.16,175.63 426.68,175.73 427.20,175.82 427.72,175.88 428.24,175.91 428.76,175.90 429.28,175.85 429.80,175.77 430.32,175.66 430.84,175.55 431.36,175.44 431.88,175.36 432.40,175.31 432.92,175.31 433.44,175.34 433.96,175.41 434.48,175.51 435.00,175.62 435.52,175.72 436.04,175.80 436.56,175.83 437.08,175.80 437.60,175.70 438.12,175.53 438.64,175.29 439.16,175.00 439.68,174.66 440.20,174.29 440.72,173.91 441.24,173.53 441.76,173.17 442.28,172.83 442.80,172.52 443.32,172.23 443.84,171.95 444.36,171.67 444.88,171.39 445.40,171.09 445.92,170.76 446.44,170.41 446.96,170.04 447.48,169.64 448.00,169.23 448.52,168.83 449.04,168.44 449.56,168.07 450.08,167.73 450.60,167.43 451.12,167.15 451.64,166.87 452.16,166.58 452.68,166.23 453.20,165.78 453.72,165.18 454.24,164.37 454.76,163.30 455.28,161.87 455.80,159.99 456.32,157.57 456.84,154.45 457.36,150.45 457.88,145.37 458.40,138.98 458.92,131.14 459.44,122.07 459.96,112.75 460.48,105.26 461.00,102.16 461.52,105.22 462.04,112.67 462.56,121.93 463.08,130.92 463.60,138.66 464.12,144.94 464.64,149.91 465.16,153.80 465.68,156.84 466.20,159.24 466.72,161.15 467.24,162.69 467.76,163.97 468.28,165.05 468.80,166.00 469.32,166.87 469.84,167.68 470.36,168.45 470.88,169.18 471.40,169.89 471.92,170.55 472.44,171.16 472.96,171.71 473.48,172.17 474.00,172.56 474.52,172.85 475.04,173.07 475.56,173.21 476.08,173.29 476.60,173.32 477.12,173.34 477.64,173.34 478.16,173.34 478.68,173.34 479.20,173.35 479.72,173.35 480.24,173.34 480.76,173.29 481.28,173.20 481.80,173.06 482.32,172.87 482.84,172.64 483.36,172.40 483.88,172.18 484.40,171.99 484.92,171.89 485.44,171.87 485.96,171.97 486.48,172.17 487.00,172.47 487.52,172.85 488.04,173.28 488.56,173.76 489.08,174.25 489.60,174.72 490.12,175.17 490.64,175.58 491.16,175.92 491.68,176.19 492.20,176.40 492.72,176.57 493.24,176.68 493.76,176.72 494.28,176.72 494.80,176.69 495.32,176.65 495.84,176.61 496.36,176.59 496.88,176.61 497.40,176.66 497.92,176.75 498.44,176.87 498.96,177.01 499.48,177.15 500.00,177.28 500.52,177.38 501.04,177.45 501.56,177.47 502.08,177.44 502.60,177.38 503.12,177.29 503.64,177.18 504.16,177.08 504.68,177.00 505.20,176.96 505.72,176.97 506.24,177.05 506.76,177.18 507.28,177.38 507.80,177.61 508.32,177.88 508.84,178.15 509.36,178.42 509.88,178.65 510.40,178.84 510.92,178.99 511.44,179.08 511.96,179.11 512.48,179.11 513.00,179.08" fill="none" stroke="#d42a4a" stroke-width="1.4" stroke-linejoin="round"/>
<polyline points="409.00,176.65 409.52,176.76 410.04,176.84 410.56,176.88 411.08,176.87 411.60,176.83 412.12,176.76 412.64,176.69 413.16,176.62 413.68,176.57 414.20,176.56 414.72,176.58 415.24,176.65 415.76,176.74 416.28,176.87 416.80,176.99 417.32,177.11 417.84,177.21 418.36,177.25 418.88,177.25 419.40,177.18 419.92,177.06 420.44,176.88 420.96,176.67 421.48,176.43 422.00,176.19 422.52,175.96 423.04,175.77 423.56,175.63 424.08,175.55 424.60,175.52 425.12,175.54 425.64,175.60 426.16,175.69 426.68,175.79 427.20,175.88 427.72,175.94 428.24,175.97 428.76,175.96 429.28,175.92 429.80,175.84 430.32,175.73 430.84,175.62 431.36,175.52 431.88,175.44 432.40,175.40 432.92,175.39 433.44,175.43 433.96,175.51 434.48,175.61 435.00,175.72 435.52,175.83 436.04,175.91 436.56,175.94 437.08,175.92 437.60,175.82 438.12,175.66 438.64,175.43 439.16,175.14 439.68,174.81 440.20,174.45 440.72,174.08 441.24,173.71 441.76,173.36 442.28,173.03 442.80,172.72 443.32,172.44 443.84,172.18 444.36,171.92 444.88,171.65 445.40,171.37 445.92,171.06 446.44,170.73 446.96,170.38 447.48,170.00 448.00,169.63 448.52,169.25 449.04,168.90 449.56,168.57 450.08,168.29 450.60,168.03 451.12,167.81 451.64,167.61 452.16,167.40 452.68,167.14 453.20,166.81 453.72,166.35 454.24,165.71 454.76,164.83 455.28,163.64 455.80,162.07 456.32,160.03 456.84,157.38 457.36,154.00 457.88,149.70 458.40,144.30 458.92,137.69 459.44,130.06 459.96,122.21 460.48,115.90 461.00,113.27 461.52,115.86 462.04,122.13 462.56,129.92 463.08,137.48 463.60,143.99 464.12,149.27 464.64,153.46 465.16,156.74 465.68,159.30 466.20,161.32 466.72,162.93 467.24,164.22 467.76,165.30 468.28,166.22 468.80,167.03 469.32,167.78 469.84,168.50 470.36,169.18 470.88,169.85 471.40,170.49 471.92,171.10 472.44,171.67 472.96,172.17 473.48,172.60 474.00,172.95 474.52,173.22 475.04,173.41 475.56,173.52 476.08,173.58 476.60,173.60 477.12,173.60 477.64,173.58 478.16,173.57 478.68,173.56 479.20,173.56 479.72,173.55 480.24,173.52 480.76,173.47 481.28,173.37 481.80,173.22 482.32,173.02 482.84,172.79 483.36,172.54 483.88,172.31 484.40,172.12 484.92,172.01 485.44,171.99 485.96,172.08 486.48,172.27 487.00,172.57 487.52,172.94 488.04,173.38 488.56,173.85 489.08,174.33 489.60,174.81 490.12,175.25 490.64,175.65 491.16,175.99 491.68,176.27 492.20,176.47 492.72,176.64 493.24,176.74 493.76,176.79 494.28,176.78 494.80,176.75 495.32,176.70 495.84,176.67 496.36,176.65 496.88,176.66 497.40,176.71 497.92,176.80 498.44,176.92 498.96,177.05 499.48,177.19 500.00,177.32 500.52,177.42 501.04,177.49 501.56,177.51 502.08,177.48 502.60,177.42 503.12,177.33 503.64,177.22 504.16,177.11 504.68,177.03 505.20,176.99 505.72,177.01 506.24,177.08 506.76,177.22 507.28,177.41 507.80,177.64 508.32,177.91 508.84,178.18 509.36,178.45 509.88,178.68 510.40,178.87 510.92,179.01 511.44,179.10 511.96,179.14 512.48,179.14 513.00,179.11" fill="none" stroke="#f3a23a" stroke-width="1.2" stroke-linejoin="round"/>
<polyline points="409.00,176.25 409.52,176.37 410.04,176.44 410.56,176.48 411.08,176.47 411.60,176.43 412.12,176.36 412.64,176.29 413.16,176.22 413.68,176.17 414.20,176.16 414.72,176.19 415.24,176.25 415.76,176.35 416.28,176.47 416.80,176.60 417.32,176.72 417.84,176.81 418.36,176.86 418.88,176.85 419.40,176.79 419.92,176.66 420.44,176.49 420.96,176.27 421.48,176.03 422.00,175.79 422.52,175.57 423.04,175.38 423.56,175.24 424.08,175.15 424.60,175.12 425.12,175.14 425.64,175.20 426.16,175.29 426.68,175.39 427.20,175.48 427.72,175.55 428.24,175.58 428.76,175.57 429.28,175.52 429.80,175.44 430.32,175.34 430.84,175.23 431.36,175.13 431.88,175.05 432.40,175.00 432.92,175.00 433.44,175.04 433.96,175.11 434.48,175.21 435.00,175.33 435.52,175.43 436.04,175.51 436.56,175.54 437.08,175.52 437.60,175.43 438.12,175.26 438.64,175.03 439.16,174.74 439.68,174.41 440.20,174.05 440.72,173.68 441.24,173.31 441.76,172.96 442.28,172.63 442.80,172.33 443.32,172.05 443.84,171.78 444.36,171.52 444.88,171.25 445.40,170.97 445.92,170.66 446.44,170.33 446.96,169.98 447.48,169.61 448.00,169.23 448.52,168.86 449.04,168.50 449.56,168.18 450.08,167.89 450.60,167.64 451.12,167.42 451.64,167.21 452.16,167.00 452.68,166.75 453.20,166.41 453.72,165.95 454.24,165.31 454.76,164.43 455.28,163.24 455.80,161.68 456.32,159.63 456.84,156.99 457.36,153.61 457.88,149.31 458.40,143.91 458.92,137.30 459.44,129.66 459.96,121.81 460.48,115.50 461.00,112.87 461.52,115.47 462.04,121.74 462.56,129.52 463.08,137.08 463.60,143.59 464.12,148.88 464.64,153.06 465.16,156.34 465.68,158.91 466.20,160.93 466.72,162.53 467.24,163.83 467.76,164.90 468.28,165.82 468.80,166.64 469.32,167.39 469.84,168.10 470.36,168.79 470.88,169.45 471.40,170.10 471.92,170.71 472.44,171.27 472.96,171.77 473.48,172.20 474.00,172.55 474.52,172.82 475.04,173.01 475.56,173.13 476.08,173.19 476.60,173.20 477.12,173.20 477.64,173.18 478.16,173.17 478.68,173.16 479.20,173.16 479.72,173.15 480.24,173.13 480.76,173.07 481.28,172.97 481.80,172.82 482.32,172.62 482.84,172.39 483.36,172.14 483.88,171.91 484.40,171.72 484.92,171.61 485.44,171.59 485.96,171.68 486.48,171.88 487.00,172.17 487.52,172.55 488.04,172.98 488.56,173.45 489.08,173.94 489.60,174.41 490.12,174.86 490.64,175.26 491.16,175.60 491.68,175.87 492.20,176.07 492.72,176.24 493.24,176.35 493.76,176.39 494.28,176.39 494.80,176.35 495.32,176.31 495.84,176.27 496.36,176.25 496.88,176.27 497.40,176.32 497.92,176.40 498.44,176.52 498.96,176.66 499.48,176.80 500.00,176.93 500.52,177.03 501.04,177.09 501.56,177.11 502.08,177.09 502.60,177.02 503.12,176.93 503.64,176.82 504.16,176.72 504.68,176.64 505.20,176.60 505.72,176.61 506.24,176.69 506.76,176.82 507.28,177.01 507.80,177.25 508.32,177.51 508.84,177.79 509.36,178.05 509.88,178.28 510.40,178.48 510.92,178.62 511.44,178.71 511.96,178.74 512.48,178.74 513.00,178.71" fill="none" stroke="#52d0b0" stroke-width="1.7" stroke-linejoin="round"/>
<polyline points="409.00,176.65 409.52,176.76 410.04,176.84 410.56,176.88 411.08,176.87 411.60,176.83 412.12,176.76 412.64,176.69 413.16,176.62 413.68,176.57 414.20,176.56 414.72,176.58 415.24,176.65 415.76,176.74 416.28,176.87 416.80,176.99 417.32,177.11 417.84,177.21 418.36,177.25 418.88,177.25 419.40,177.18 419.92,177.06 420.44,176.88 420.96,176.67 421.48,176.43 422.00,176.19 422.52,175.96 423.04,175.77 423.56,175.63 424.08,175.55 424.60,175.52 425.12,175.54 425.64,175.60 426.16,175.69 426.68,175.79 427.20,175.88 427.72,175.94 428.24,175.97 428.76,175.96 429.28,175.92 429.80,175.84 430.32,175.73 430.84,175.62 431.36,175.52 431.88,175.44 432.40,175.40 432.92,175.39 433.44,175.43 433.96,175.51 434.48,175.61 435.00,175.72 435.52,175.83 436.04,175.91 436.56,175.94 437.08,175.92 437.60,175.82 438.12,175.66 438.64,175.43 439.16,175.14 439.68,174.81 440.20,174.45 440.72,174.08 441.24,173.71 441.76,173.36 442.28,173.03 442.80,172.72 443.32,172.44 443.84,172.18 444.36,171.92 444.88,171.65 445.40,171.37 445.92,171.06 446.44,170.73 446.96,170.38 447.48,170.00 448.00,169.63 448.52,169.25 449.04,168.90 449.56,168.57 450.08,168.29 450.60,168.03 451.12,167.81 451.64,167.61 452.16,167.40 452.68,167.14 453.20,166.81 453.72,166.35 454.24,165.71 454.76,164.83 455.28,163.64 455.80,162.07 456.32,160.03 456.84,157.38 457.36,154.00 457.88,149.70 458.40,144.30 458.92,137.69 459.44,130.06 459.96,122.21 460.48,115.90 461.00,113.27 461.52,115.86 462.04,122.13 462.56,129.92 463.08,137.48 463.60,143.99 464.12,149.27 464.64,153.46 465.16,156.74 465.68,159.30 466.20,161.32 466.72,162.93 467.24,164.22 467.76,165.30 468.28,166.22 468.80,167.03 469.32,167.78 469.84,168.50 470.36,169.18 470.88,169.85 471.40,170.49 471.92,171.10 472.44,171.67 472.96,172.17 473.48,172.60 474.00,172.95 474.52,173.22 475.04,173.41 475.56,173.52 476.08,173.58 476.60,173.60 477.12,173.60 477.64,173.58 478.16,173.57 478.68,173.56 479.20,173.56 479.72,173.55 480.24,173.52 480.76,173.47 481.28,173.37 481.80,173.22 482.32,173.02 482.84,172.79 483.36,172.54 483.88,172.31 484.40,172.12 484.92,172.01 485.44,171.99 485.96,172.08 486.48,172.27 487.00,172.57 487.52,172.94 488.04,173.38 488.56,173.85 489.08,174.33 489.60,174.81 490.12,175.25 490.64,175.65 491.16,175.99 491.68,176.27 492.20,176.47 492.72,176.64 493.24,176.74 493.76,176.79 494.28,176.78 494.80,176.75 495.32,176.70 495.84,176.67 496.36,176.65 496.88,176.66 497.40,176.71 497.92,176.80 498.44,176.92 498.96,177.05 499.48,177.19 500.00,177.32 500.52,177.42 501.04,177.49 501.56,177.51 502.08,177.48 502.60,177.42 503.12,177.33 503.64,177.22 504.16,177.11 504.68,177.03 505.20,176.99 505.72,177.01 506.24,177.08 506.76,177.22 507.28,177.41 507.80,177.64 508.32,177.91 508.84,178.18 509.36,178.45 509.88,178.68 510.40,178.87 510.92,179.01 511.44,179.10 511.96,179.14 512.48,179.14 513.00,179.11" fill="none" stroke="#1e2a55" stroke-width="1.2" stroke-linejoin="round"/>
<line x1="402.60" y1="165.57" x2="405.20" y2="165.57" stroke="#231f20" stroke-width="0.7"/>
<text x="398.60" y="168.27" font-size="7.4" stroke="#231f20" stroke-width="0.2" text-anchor="end">2.5</text>
<line x1="402.60" y1="145.75" x2="405.20" y2="145.75" stroke="#231f20" stroke-width="0.7"/>
<text x="398.60" y="148.45" font-size="7.4" stroke="#231f20" stroke-width="0.2" text-anchor="end">5.0</text>
<line x1="402.60" y1="125.92" x2="405.20" y2="125.92" stroke="#231f20" stroke-width="0.7"/>
<text x="398.60" y="128.62" font-size="7.4" stroke="#231f20" stroke-width="0.2" text-anchor="end">7.5</text>
<line x1="402.60" y1="106.10" x2="405.20" y2="106.10" stroke="#231f20" stroke-width="0.7"/>
<text x="398.60" y="108.80" font-size="7.4" stroke="#231f20" stroke-width="0.2" text-anchor="end">10.0</text>
<line x1="419.40" y1="182.50" x2="419.40" y2="185.10" stroke="#231f20" stroke-width="0.7"/>
<line x1="440.20" y1="182.50" x2="440.20" y2="185.10" stroke="#231f20" stroke-width="0.7"/>
<line x1="461.00" y1="182.50" x2="461.00" y2="185.10" stroke="#231f20" stroke-width="0.7"/>
<line x1="481.80" y1="182.50" x2="481.80" y2="185.10" stroke="#231f20" stroke-width="0.7"/>
<line x1="502.60" y1="182.50" x2="502.60" y2="185.10" stroke="#231f20" stroke-width="0.7"/>
<text x="417.80" y="195.30" font-size="7.6" stroke="#231f20" stroke-width="0.2" text-anchor="middle" textLength="21.9" lengthAdjust="spacingAndGlyphs">&#8722;2000</text>
<text x="441.40" y="195.30" font-size="7.6" stroke="#231f20" stroke-width="0.2" text-anchor="middle" textLength="20.8" lengthAdjust="spacingAndGlyphs">&#8722;1000</text>
<text x="461.30" y="195.30" font-size="7.6" stroke="#231f20" stroke-width="0.2" text-anchor="middle">0</text>
<text x="482.30" y="195.30" font-size="7.6" stroke="#231f20" stroke-width="0.2" text-anchor="middle" textLength="16.9" lengthAdjust="spacingAndGlyphs">1000</text>
<text x="502.50" y="195.30" font-size="7.6" stroke="#231f20" stroke-width="0.2" text-anchor="middle" textLength="17.8" lengthAdjust="spacingAndGlyphs">2000</text>
<line x1="463.00" y1="102.30" x2="475.80" y2="102.30" stroke="#a07a70" stroke-width="0.8"/>
<line x1="463.50" y1="113.00" x2="471.50" y2="113.00" stroke="#8a7a70" stroke-width="0.8"/>
<text x="478.40" y="104.70" font-size="7.3" stroke="#c8304e" stroke-width="0.2" fill="#c8304e">FL CD41<tspan font-size="5.26" dx="0.44" dy="-3.07">&#8722;</tspan></text>
<text x="476.20" y="113.40" font-size="7.3" stroke="#4cb860" stroke-width="0.2" fill="#4cb860">ABM MkP</text>
<text x="471.60" y="120.80" font-size="7.3" stroke="#2f5e95" stroke-width="0.2" fill="#2f5e95">ABM CD41<tspan font-size="5.26" dx="0.44" dy="-3.07">&#8722;</tspan></text>
<text x="471.60" y="128.30" font-size="7.3" stroke="#f0a23c" stroke-width="0.2" fill="#f0a23c">ABM CD41<tspan font-size="5.26" dx="0.44" dy="-3.07">+</tspan></text>
<line x1="272.00" y1="201.30" x2="506.50" y2="201.30" stroke="#231f20" stroke-width="0.9"/>
<text x="345.30" y="211.90" font-size="8.2" font-weight="bold" textLength="94.2" lengthAdjust="spacingAndGlyphs">Distance from NFE2 peak center</text>
<rect x="267.60" y="312.76" width="12.40" height="18.44" fill="#e1849a"/>
<circle cx="273.80" cy="311.86" r="2.1" fill="#b0142e"/>
<rect x="289.20" y="283.49" width="12.20" height="47.71" fill="#82a6cb"/>
<circle cx="295.30" cy="282.59" r="2.1" fill="#1a3f70"/>
<rect x="310.10" y="283.95" width="12.30" height="47.25" fill="#fbc784"/>
<circle cx="316.25" cy="283.05" r="2.1" fill="#e3922a"/>
<rect x="331.20" y="259.05" width="12.40" height="72.15" fill="#94d59b"/>
<circle cx="337.40" cy="258.15" r="2.1" fill="#33a052"/>
<line x1="259.70" y1="235.60" x2="259.70" y2="331.65" stroke="#231f20" stroke-width="0.9"/>
<line x1="259.25" y1="331.20" x2="348.30" y2="331.20" stroke="#231f20" stroke-width="0.9"/>
<line x1="257.10" y1="331.20" x2="259.70" y2="331.20" stroke="#231f20" stroke-width="0.7"/>
<text x="254.30" y="333.90" font-size="7.6" stroke="#231f20" stroke-width="0.2" text-anchor="end">5</text>
<line x1="257.10" y1="308.15" x2="259.70" y2="308.15" stroke="#231f20" stroke-width="0.7"/>
<text x="254.30" y="310.85" font-size="7.6" stroke="#231f20" stroke-width="0.2" text-anchor="end">6</text>
<line x1="257.10" y1="285.10" x2="259.70" y2="285.10" stroke="#231f20" stroke-width="0.7"/>
<text x="254.30" y="287.80" font-size="7.6" stroke="#231f20" stroke-width="0.2" text-anchor="end">7</text>
<line x1="257.10" y1="262.05" x2="259.70" y2="262.05" stroke="#231f20" stroke-width="0.7"/>
<text x="254.30" y="264.75" font-size="7.6" stroke="#231f20" stroke-width="0.2" text-anchor="end">8</text>
<line x1="257.10" y1="239.00" x2="259.70" y2="239.00" stroke="#231f20" stroke-width="0.7"/>
<text x="254.30" y="241.70" font-size="7.6" stroke="#231f20" stroke-width="0.2" text-anchor="end">9</text>
<line x1="273.80" y1="331.20" x2="273.80" y2="333.80" stroke="#231f20" stroke-width="0.7"/>
<line x1="295.30" y1="331.20" x2="295.30" y2="333.80" stroke="#231f20" stroke-width="0.7"/>
<line x1="316.25" y1="331.20" x2="316.25" y2="333.80" stroke="#231f20" stroke-width="0.7"/>
<line x1="337.40" y1="331.20" x2="337.40" y2="333.80" stroke="#231f20" stroke-width="0.7"/>
<text x="305.90" y="229.60" font-size="9.0" stroke="#231f20" stroke-width="0.2" text-anchor="middle">Mk unique</text>
<rect x="412.70" y="250.76" width="12.10" height="80.44" fill="#e1849a"/>
<circle cx="418.75" cy="249.86" r="2.1" fill="#b0142e"/>
<rect x="433.60" y="280.72" width="12.60" height="50.48" fill="#82a6cb"/>
<circle cx="439.90" cy="279.82" r="2.1" fill="#1a3f70"/>
<rect x="454.40" y="282.80" width="12.60" height="48.40" fill="#fbc784"/>
<circle cx="460.70" cy="281.90" r="2.1" fill="#e3922a"/>
<rect x="475.90" y="249.37" width="12.40" height="81.83" fill="#94d59b"/>
<circle cx="482.10" cy="248.47" r="2.1" fill="#33a052"/>
<line x1="404.70" y1="235.60" x2="404.70" y2="331.65" stroke="#231f20" stroke-width="0.9"/>
<line x1="404.25" y1="331.20" x2="495.50" y2="331.20" stroke="#231f20" stroke-width="0.9"/>
<line x1="402.10" y1="331.20" x2="404.70" y2="331.20" stroke="#231f20" stroke-width="0.7"/>
<text x="399.00" y="333.90" font-size="7.6" stroke="#231f20" stroke-width="0.2" text-anchor="end">7</text>
<line x1="402.10" y1="308.15" x2="404.70" y2="308.15" stroke="#231f20" stroke-width="0.7"/>
<text x="399.00" y="310.85" font-size="7.6" stroke="#231f20" stroke-width="0.2" text-anchor="end">8</text>
<line x1="402.10" y1="285.10" x2="404.70" y2="285.10" stroke="#231f20" stroke-width="0.7"/>
<text x="399.00" y="287.80" font-size="7.6" stroke="#231f20" stroke-width="0.2" text-anchor="end">9</text>
<line x1="402.10" y1="262.05" x2="404.70" y2="262.05" stroke="#231f20" stroke-width="0.7"/>
<text x="399.00" y="264.75" font-size="7.6" stroke="#231f20" stroke-width="0.2" text-anchor="end">10</text>
<line x1="402.10" y1="239.00" x2="404.70" y2="239.00" stroke="#231f20" stroke-width="0.7"/>
<text x="399.00" y="241.70" font-size="7.6" stroke="#231f20" stroke-width="0.2" text-anchor="end">11</text>
<line x1="418.75" y1="331.20" x2="418.75" y2="333.80" stroke="#231f20" stroke-width="0.7"/>
<line x1="439.90" y1="331.20" x2="439.90" y2="333.80" stroke="#231f20" stroke-width="0.7"/>
<line x1="460.70" y1="331.20" x2="460.70" y2="333.80" stroke="#231f20" stroke-width="0.7"/>
<line x1="482.10" y1="331.20" x2="482.10" y2="333.80" stroke="#231f20" stroke-width="0.7"/>
<text x="451.00" y="230.00" font-size="9.0" stroke="#231f20" stroke-width="0.2" text-anchor="middle">Ery unique</text>
<text x="243.60" y="319.50" font-size="8.3" font-weight="bold" transform="rotate(-90 243.60 319.50)" textLength="29.6" lengthAdjust="spacingAndGlyphs">MAX ATAC</text>
<text x="243.60" y="288.40" font-size="8.3" font-weight="bold" transform="rotate(-90 243.60 288.40)" textLength="41.6" lengthAdjust="spacingAndGlyphs">read coverage</text>
<text x="278.20" y="341.80" font-size="7.7" stroke="#231f20" stroke-width="0.2" text-anchor="end" transform="rotate(-45 278.20 341.80)">FL HSC</text>
<text x="299.70" y="341.80" font-size="7.7" stroke="#231f20" stroke-width="0.2" text-anchor="end" transform="rotate(-45 299.70 341.80)">ABM CD41<tspan font-size="5.47" dx="0.46" dy="-3.19">&#8722;</tspan></text>
<text x="320.65" y="341.80" font-size="7.7" stroke="#231f20" stroke-width="0.2" text-anchor="end" transform="rotate(-45 320.65 341.80)">ABM CD41<tspan font-size="5.47" dx="0.46" dy="-3.19">+</tspan></text>
<text x="341.80" y="341.80" font-size="7.7" stroke="#231f20" stroke-width="0.2" text-anchor="end" transform="rotate(-45 341.80 341.80)">MkP</text>
<text x="423.15" y="341.80" font-size="7.7" stroke="#231f20" stroke-width="0.2" text-anchor="end" transform="rotate(-45 423.15 341.80)">FL HSC</text>
<text x="444.30" y="341.80" font-size="7.7" stroke="#231f20" stroke-width="0.2" text-anchor="end" transform="rotate(-45 444.30 341.80)">ABM CD41<tspan font-size="5.47" dx="0.46" dy="-3.19">&#8722;</tspan></text>
<text x="465.10" y="341.80" font-size="7.7" stroke="#231f20" stroke-width="0.2" text-anchor="end" transform="rotate(-45 465.10 341.80)">ABM CD41<tspan font-size="5.47" dx="0.46" dy="-3.19">+</tspan></text>
<text x="486.50" y="341.80" font-size="7.7" stroke="#231f20" stroke-width="0.2" text-anchor="end" transform="rotate(-45 486.50 341.80)">MkP</text>
<text x="193.00" y="416.20" font-size="11.5" font-weight="bold" fill="#000">K</text>
<text x="354.20" y="415.80" font-size="9.05" stroke="#231f20" stroke-width="0.2" text-anchor="middle">Promoter accessibility relative to FL HSC</text>
<rect x="232.30" y="469.60" width="8.38" height="20.10" fill="#b1cce6"/>
<rect x="232.30" y="489.70" width="8.38" height="20.10" fill="#d9535e"/>
<rect x="232.30" y="509.80" width="8.38" height="20.10" fill="#d9505a"/>
<rect x="232.30" y="529.90" width="8.38" height="20.10" fill="#cf2530"/>
<rect x="240.68" y="469.60" width="8.38" height="20.10" fill="#b1cce6"/>
<rect x="240.68" y="489.70" width="8.38" height="20.10" fill="#ecd5de"/>
<rect x="240.68" y="509.80" width="8.38" height="20.10" fill="#e4a9b5"/>
<rect x="240.68" y="529.90" width="8.38" height="20.10" fill="#d4e3f1"/>
<rect x="249.05" y="469.60" width="8.38" height="20.10" fill="#b1cce6"/>
<rect x="249.05" y="489.70" width="8.38" height="20.10" fill="#d42f3a"/>
<rect x="249.05" y="509.80" width="8.38" height="20.10" fill="#d0252f"/>
<rect x="249.05" y="529.90" width="8.38" height="20.10" fill="#d32a33"/>
<rect x="257.43" y="469.60" width="8.38" height="20.10" fill="#b1cce6"/>
<rect x="257.43" y="489.70" width="8.38" height="20.10" fill="#e5aab5"/>
<rect x="257.43" y="509.80" width="8.38" height="20.10" fill="#df9aa7"/>
<rect x="257.43" y="529.90" width="8.38" height="20.10" fill="#d83540"/>
<rect x="265.80" y="469.60" width="8.38" height="20.10" fill="#b1cce6"/>
<rect x="265.80" y="489.70" width="8.38" height="20.10" fill="#e5b3c0"/>
<rect x="265.80" y="509.80" width="8.38" height="20.10" fill="#e6b4c0"/>
<rect x="265.80" y="529.90" width="8.38" height="20.10" fill="#ecdbe4"/>
<rect x="274.18" y="469.60" width="8.38" height="20.10" fill="#b1cce6"/>
<rect x="274.18" y="489.70" width="8.38" height="20.10" fill="#ecdde6"/>
<rect x="274.18" y="509.80" width="8.38" height="20.10" fill="#e2a4b0"/>
<rect x="274.18" y="529.90" width="8.38" height="20.10" fill="#d02a34"/>
<rect x="282.55" y="469.60" width="8.38" height="20.10" fill="#b1cce6"/>
<rect x="282.55" y="489.70" width="8.38" height="20.10" fill="#e0a6b3"/>
<rect x="282.55" y="509.80" width="8.38" height="20.10" fill="#db7f8c"/>
<rect x="282.55" y="529.90" width="8.38" height="20.10" fill="#2a78bd"/>
<rect x="290.93" y="469.60" width="8.38" height="20.10" fill="#b1cce6"/>
<rect x="290.93" y="489.70" width="8.38" height="20.10" fill="#1f6fb5"/>
<rect x="290.93" y="509.80" width="8.38" height="20.10" fill="#e0929f"/>
<rect x="290.93" y="529.90" width="8.38" height="20.10" fill="#d32a36"/>
<rect x="299.30" y="469.60" width="8.38" height="20.10" fill="#b1cce6"/>
<rect x="299.30" y="489.70" width="8.38" height="20.10" fill="#eee0e8"/>
<rect x="299.30" y="509.80" width="8.38" height="20.10" fill="#e5b5c2"/>
<rect x="299.30" y="529.90" width="8.38" height="20.10" fill="#de6e7b"/>
<rect x="307.68" y="469.60" width="8.38" height="20.10" fill="#b1cce6"/>
<rect x="307.68" y="489.70" width="8.38" height="20.10" fill="#de8f9c"/>
<rect x="307.68" y="509.80" width="8.38" height="20.10" fill="#d9707c"/>
<rect x="307.68" y="529.90" width="8.38" height="20.10" fill="#dd7c88"/>
<rect x="316.05" y="469.60" width="8.38" height="20.10" fill="#b1cce6"/>
<rect x="316.05" y="489.70" width="8.38" height="20.10" fill="#dce7f0"/>
<rect x="316.05" y="509.80" width="8.38" height="20.10" fill="#3a7fc0"/>
<rect x="316.05" y="529.90" width="8.38" height="20.10" fill="#d0242e"/>
<rect x="324.43" y="469.60" width="8.38" height="20.10" fill="#b1cce6"/>
<rect x="324.43" y="489.70" width="8.38" height="20.10" fill="#2171b5"/>
<rect x="324.43" y="509.80" width="8.38" height="20.10" fill="#2a76b8"/>
<rect x="324.43" y="529.90" width="8.38" height="20.10" fill="#2272b6"/>
<line x1="240.68" y1="469.60" x2="240.68" y2="550.00" stroke="#1a2430" stroke-width="1.0" stroke-opacity="0.68"/>
<line x1="249.05" y1="469.60" x2="249.05" y2="550.00" stroke="#1a2430" stroke-width="1.0" stroke-opacity="0.68"/>
<line x1="257.43" y1="469.60" x2="257.43" y2="550.00" stroke="#1a2430" stroke-width="1.0" stroke-opacity="0.68"/>
<line x1="265.80" y1="469.60" x2="265.80" y2="550.00" stroke="#1a2430" stroke-width="1.0" stroke-opacity="0.68"/>
<line x1="274.18" y1="469.60" x2="274.18" y2="550.00" stroke="#1a2430" stroke-width="1.0" stroke-opacity="0.68"/>
<line x1="282.55" y1="469.60" x2="282.55" y2="550.00" stroke="#1a2430" stroke-width="1.0" stroke-opacity="0.68"/>
<line x1="290.93" y1="469.60" x2="290.93" y2="550.00" stroke="#1a2430" stroke-width="1.0" stroke-opacity="0.68"/>
<line x1="299.30" y1="469.60" x2="299.30" y2="550.00" stroke="#1a2430" stroke-width="1.0" stroke-opacity="0.68"/>
<line x1="307.68" y1="469.60" x2="307.68" y2="550.00" stroke="#1a2430" stroke-width="1.0" stroke-opacity="0.68"/>
<line x1="316.05" y1="469.60" x2="316.05" y2="550.00" stroke="#1a2430" stroke-width="1.0" stroke-opacity="0.68"/>
<line x1="324.43" y1="469.60" x2="324.43" y2="550.00" stroke="#1a2430" stroke-width="1.0" stroke-opacity="0.68"/>
<line x1="232.30" y1="489.70" x2="332.80" y2="489.70" stroke="#1a2430" stroke-width="1.05" stroke-opacity="0.7"/>
<line x1="232.30" y1="509.80" x2="332.80" y2="509.80" stroke="#1a2430" stroke-width="1.05" stroke-opacity="0.7"/>
<line x1="232.30" y1="529.90" x2="332.80" y2="529.90" stroke="#1a2430" stroke-width="1.05" stroke-opacity="0.7"/>
<rect x="232.30" y="469.60" width="100.50" height="80.40" fill="none" stroke="#1a2430" stroke-opacity="0.75" stroke-width="1.0"/>
<text x="239.09" y="465.50" font-size="8.1" font-weight="bold" font-style="italic" fill="#000" transform="rotate(-90 239.09 465.50)">CD41 (Itga2b)</text>
<text x="247.46" y="465.50" font-size="7.7" stroke="#231f20" stroke-width="0.2" font-style="italic" transform="rotate(-90 247.46 465.50)">Selp</text>
<text x="255.84" y="465.50" font-size="7.7" stroke="#231f20" stroke-width="0.2" font-style="italic" transform="rotate(-90 255.84 465.50)">Gp9</text>
<text x="264.21" y="465.50" font-size="7.7" stroke="#231f20" stroke-width="0.2" font-style="italic" transform="rotate(-90 264.21 465.50)">Gp1ba</text>
<text x="272.59" y="465.50" font-size="7.7" stroke="#231f20" stroke-width="0.2" font-style="italic" transform="rotate(-90 272.59 465.50)">Gp5</text>
<text x="280.96" y="465.50" font-size="7.7" stroke="#231f20" stroke-width="0.2" font-style="italic" transform="rotate(-90 280.96 465.50)">Gp1bb</text>
<text x="289.34" y="465.50" font-size="7.7" stroke="#231f20" stroke-width="0.2" font-style="italic" transform="rotate(-90 289.34 465.50)">Clu</text>
<text x="297.71" y="465.50" font-size="7.7" stroke="#231f20" stroke-width="0.2" font-style="italic" transform="rotate(-90 297.71 465.50)">Cd9</text>
<text x="306.09" y="465.50" font-size="7.7" stroke="#231f20" stroke-width="0.2" font-style="italic" transform="rotate(-90 306.09 465.50)">Pf4</text>
<text x="314.46" y="465.50" font-size="7.7" stroke="#231f20" stroke-width="0.2" font-style="italic" transform="rotate(-90 314.46 465.50)">Rab27b</text>
<text x="322.84" y="465.50" font-size="7.7" stroke="#231f20" stroke-width="0.2" font-style="italic" transform="rotate(-90 322.84 465.50)">Fli1</text>
<text x="331.21" y="465.50" font-size="7.7" stroke="#231f20" stroke-width="0.2" font-style="italic" transform="rotate(-90 331.21 465.50)">Vwf</text>
<text x="282.40" y="559.00" font-size="7.6" stroke="#231f20" stroke-width="0.2" text-anchor="middle">Mk</text>
<rect x="338.20" y="469.60" width="8.44" height="20.10" fill="#b1cce6"/>
<rect x="338.20" y="489.70" width="8.44" height="20.10" fill="#e0a0ae"/>
<rect x="338.20" y="509.80" width="8.44" height="20.10" fill="#cc1f2a"/>
<rect x="338.20" y="529.90" width="8.44" height="20.10" fill="#cc1f2a"/>
<rect x="346.64" y="469.60" width="8.44" height="20.10" fill="#b1cce6"/>
<rect x="346.64" y="489.70" width="8.44" height="20.10" fill="#ecd8e0"/>
<rect x="346.64" y="509.80" width="8.44" height="20.10" fill="#d8e5f2"/>
<rect x="346.64" y="529.90" width="8.44" height="20.10" fill="#ecd0da"/>
<rect x="355.08" y="469.60" width="8.44" height="20.10" fill="#b1cce6"/>
<rect x="355.08" y="489.70" width="8.44" height="20.10" fill="#e8eef5"/>
<rect x="355.08" y="509.80" width="8.44" height="20.10" fill="#e5e2ec"/>
<rect x="355.08" y="529.90" width="8.44" height="20.10" fill="#e3a8b5"/>
<rect x="363.52" y="469.60" width="8.44" height="20.10" fill="#b1cce6"/>
<rect x="363.52" y="489.70" width="8.44" height="20.10" fill="#e8c5d0"/>
<rect x="363.52" y="509.80" width="8.44" height="20.10" fill="#e8c8d2"/>
<rect x="363.52" y="529.90" width="8.44" height="20.10" fill="#dc8694"/>
<rect x="371.96" y="469.60" width="8.44" height="20.10" fill="#b1cce6"/>
<rect x="371.96" y="489.70" width="8.44" height="20.10" fill="#c8dcee"/>
<rect x="371.96" y="509.80" width="8.44" height="20.10" fill="#c5dbee"/>
<rect x="371.96" y="529.90" width="8.44" height="20.10" fill="#d5e4f2"/>
<line x1="346.64" y1="469.60" x2="346.64" y2="550.00" stroke="#1a2430" stroke-width="1.0" stroke-opacity="0.68"/>
<line x1="355.08" y1="469.60" x2="355.08" y2="550.00" stroke="#1a2430" stroke-width="1.0" stroke-opacity="0.68"/>
<line x1="363.52" y1="469.60" x2="363.52" y2="550.00" stroke="#1a2430" stroke-width="1.0" stroke-opacity="0.68"/>
<line x1="371.96" y1="469.60" x2="371.96" y2="550.00" stroke="#1a2430" stroke-width="1.0" stroke-opacity="0.68"/>
<line x1="338.20" y1="489.70" x2="380.40" y2="489.70" stroke="#1a2430" stroke-width="1.05" stroke-opacity="0.7"/>
<line x1="338.20" y1="509.80" x2="380.40" y2="509.80" stroke="#1a2430" stroke-width="1.05" stroke-opacity="0.7"/>
<line x1="338.20" y1="529.90" x2="380.40" y2="529.90" stroke="#1a2430" stroke-width="1.05" stroke-opacity="0.7"/>
<rect x="338.20" y="469.60" width="42.20" height="80.40" fill="none" stroke="#1a2430" stroke-opacity="0.75" stroke-width="1.0"/>
<text x="345.02" y="465.50" font-size="7.7" stroke="#231f20" stroke-width="0.2" font-style="italic" transform="rotate(-90 345.02 465.50)">Gata1</text>
<text x="353.46" y="465.50" font-size="7.7" stroke="#231f20" stroke-width="0.2" font-style="italic" transform="rotate(-90 353.46 465.50)">Gata2</text>
<text x="361.90" y="465.50" font-size="7.7" stroke="#231f20" stroke-width="0.2" font-style="italic" transform="rotate(-90 361.90 465.50)">Nfe2</text>
<text x="370.34" y="465.50" font-size="7.7" stroke="#231f20" stroke-width="0.2" font-style="italic" transform="rotate(-90 370.34 465.50)">Gfi1b</text>
<text x="378.78" y="465.50" font-size="7.7" stroke="#231f20" stroke-width="0.2" font-style="italic" transform="rotate(-90 378.78 465.50)">Zfpm1</text>
<text x="359.30" y="559.00" font-size="7.6" stroke="#231f20" stroke-width="0.2" text-anchor="middle">Common</text>
<rect x="386.10" y="469.60" width="8.35" height="20.10" fill="#b1cce6"/>
<rect x="386.10" y="489.70" width="8.35" height="20.10" fill="#d23a44"/>
<rect x="386.10" y="509.80" width="8.35" height="20.10" fill="#cf2530"/>
<rect x="386.10" y="529.90" width="8.35" height="20.10" fill="#cf2530"/>
<rect x="394.45" y="469.60" width="8.35" height="20.10" fill="#b1cce6"/>
<rect x="394.45" y="489.70" width="8.35" height="20.10" fill="#e8e5ee"/>
<rect x="394.45" y="509.80" width="8.35" height="20.10" fill="#e8e6ef"/>
<rect x="394.45" y="529.90" width="8.35" height="20.10" fill="#e3b0bd"/>
<rect x="402.79" y="469.60" width="8.35" height="20.10" fill="#b1cce6"/>
<rect x="402.79" y="489.70" width="8.35" height="20.10" fill="#d5e3f0"/>
<rect x="402.79" y="509.80" width="8.35" height="20.10" fill="#cfe0ef"/>
<rect x="402.79" y="529.90" width="8.35" height="20.10" fill="#e09aa8"/>
<rect x="411.14" y="469.60" width="8.35" height="20.10" fill="#b1cce6"/>
<rect x="411.14" y="489.70" width="8.35" height="20.10" fill="#1c6db5"/>
<rect x="411.14" y="509.80" width="8.35" height="20.10" fill="#de7a86"/>
<rect x="411.14" y="529.90" width="8.35" height="20.10" fill="#1f6fb5"/>
<rect x="419.48" y="469.60" width="8.35" height="20.10" fill="#b1cce6"/>
<rect x="419.48" y="489.70" width="8.35" height="20.10" fill="#4a88c6"/>
<rect x="419.48" y="509.80" width="8.35" height="20.10" fill="#1c6db5"/>
<rect x="419.48" y="529.90" width="8.35" height="20.10" fill="#2272b8"/>
<rect x="427.83" y="469.60" width="8.35" height="20.10" fill="#b1cce6"/>
<rect x="427.83" y="489.70" width="8.35" height="20.10" fill="#dc5a66"/>
<rect x="427.83" y="509.80" width="8.35" height="20.10" fill="#2272b8"/>
<rect x="427.83" y="529.90" width="8.35" height="20.10" fill="#d0262f"/>
<rect x="436.17" y="469.60" width="8.35" height="20.10" fill="#b1cce6"/>
<rect x="436.17" y="489.70" width="8.35" height="20.10" fill="#eceaf2"/>
<rect x="436.17" y="509.80" width="8.35" height="20.10" fill="#c3d7ec"/>
<rect x="436.17" y="529.90" width="8.35" height="20.10" fill="#eae4ec"/>
<rect x="444.52" y="469.60" width="8.35" height="20.10" fill="#b1cce6"/>
<rect x="444.52" y="489.70" width="8.35" height="20.10" fill="#1c6db5"/>
<rect x="444.52" y="509.80" width="8.35" height="20.10" fill="#1f70b5"/>
<rect x="444.52" y="529.90" width="8.35" height="20.10" fill="#1f70b5"/>
<rect x="452.86" y="469.60" width="8.35" height="20.10" fill="#b1cce6"/>
<rect x="452.86" y="489.70" width="8.35" height="20.10" fill="#5b93cc"/>
<rect x="452.86" y="509.80" width="8.35" height="20.10" fill="#d02a33"/>
<rect x="452.86" y="529.90" width="8.35" height="20.10" fill="#d0262f"/>
<rect x="461.21" y="469.60" width="8.35" height="20.10" fill="#b1cce6"/>
<rect x="461.21" y="489.70" width="8.35" height="20.10" fill="#dce8f3"/>
<rect x="461.21" y="509.80" width="8.35" height="20.10" fill="#dde9f4"/>
<rect x="461.21" y="529.90" width="8.35" height="20.10" fill="#eae8f0"/>
<rect x="469.55" y="469.60" width="8.35" height="20.10" fill="#b1cce6"/>
<rect x="469.55" y="489.70" width="8.35" height="20.10" fill="#1f6fb5"/>
<rect x="469.55" y="509.80" width="8.35" height="20.10" fill="#e6e4ee"/>
<rect x="469.55" y="529.90" width="8.35" height="20.10" fill="#e3a9b6"/>
<line x1="394.45" y1="469.60" x2="394.45" y2="550.00" stroke="#1a2430" stroke-width="1.0" stroke-opacity="0.68"/>
<line x1="402.79" y1="469.60" x2="402.79" y2="550.00" stroke="#1a2430" stroke-width="1.0" stroke-opacity="0.68"/>
<line x1="411.14" y1="469.60" x2="411.14" y2="550.00" stroke="#1a2430" stroke-width="1.0" stroke-opacity="0.68"/>
<line x1="419.48" y1="469.60" x2="419.48" y2="550.00" stroke="#1a2430" stroke-width="1.0" stroke-opacity="0.68"/>
<line x1="427.83" y1="469.60" x2="427.83" y2="550.00" stroke="#1a2430" stroke-width="1.0" stroke-opacity="0.68"/>
<line x1="436.17" y1="469.60" x2="436.17" y2="550.00" stroke="#1a2430" stroke-width="1.0" stroke-opacity="0.68"/>
<line x1="444.52" y1="469.60" x2="444.52" y2="550.00" stroke="#1a2430" stroke-width="1.0" stroke-opacity="0.68"/>
<line x1="452.86" y1="469.60" x2="452.86" y2="550.00" stroke="#1a2430" stroke-width="1.0" stroke-opacity="0.68"/>
<line x1="461.21" y1="469.60" x2="461.21" y2="550.00" stroke="#1a2430" stroke-width="1.0" stroke-opacity="0.68"/>
<line x1="469.55" y1="469.60" x2="469.55" y2="550.00" stroke="#1a2430" stroke-width="1.0" stroke-opacity="0.68"/>
<line x1="386.10" y1="489.70" x2="477.90" y2="489.70" stroke="#1a2430" stroke-width="1.05" stroke-opacity="0.7"/>
<line x1="386.10" y1="509.80" x2="477.90" y2="509.80" stroke="#1a2430" stroke-width="1.05" stroke-opacity="0.7"/>
<line x1="386.10" y1="529.90" x2="477.90" y2="529.90" stroke="#1a2430" stroke-width="1.05" stroke-opacity="0.7"/>
<rect x="386.10" y="469.60" width="91.80" height="80.40" fill="none" stroke="#1a2430" stroke-opacity="0.75" stroke-width="1.0"/>
<text x="392.87" y="465.50" font-size="7.7" stroke="#231f20" stroke-width="0.2" font-style="italic" transform="rotate(-90 392.87 465.50)">Klf1</text>
<text x="401.22" y="465.50" font-size="7.7" stroke="#231f20" stroke-width="0.2" font-style="italic" transform="rotate(-90 401.22 465.50)">Bcl11a</text>
<text x="409.56" y="465.50" font-size="7.7" stroke="#231f20" stroke-width="0.2" font-style="italic" transform="rotate(-90 409.56 465.50)">Gypa</text>
<text x="417.91" y="465.50" font-size="7.7" stroke="#231f20" stroke-width="0.2" font-style="italic" transform="rotate(-90 417.91 465.50)">Rhag</text>
<text x="426.25" y="465.50" font-size="7.7" stroke="#231f20" stroke-width="0.2" font-style="italic" transform="rotate(-90 426.25 465.50)">Tfrc</text>
<text x="434.60" y="465.50" font-size="7.7" stroke="#231f20" stroke-width="0.2" font-style="italic" transform="rotate(-90 434.60 465.50)">Car1</text>
<text x="442.95" y="465.50" font-size="7.7" stroke="#231f20" stroke-width="0.2" font-style="italic" transform="rotate(-90 442.95 465.50)">Car2</text>
<text x="451.29" y="465.50" font-size="7.7" stroke="#231f20" stroke-width="0.2" font-style="italic" transform="rotate(-90 451.29 465.50)">Ermap</text>
<text x="459.64" y="465.50" font-size="7.7" stroke="#231f20" stroke-width="0.2" font-style="italic" transform="rotate(-90 459.64 465.50)">Hbb-b1</text>
<text x="467.98" y="465.50" font-size="7.7" stroke="#231f20" stroke-width="0.2" font-style="italic" transform="rotate(-90 467.98 465.50)">Edrf1</text>
<text x="476.33" y="465.50" font-size="7.7" stroke="#231f20" stroke-width="0.2" font-style="italic" transform="rotate(-90 476.33 465.50)">Epor</text>
<text x="431.90" y="559.00" font-size="7.6" stroke="#231f20" stroke-width="0.2" text-anchor="middle">Ery</text>
<text x="229.60" y="481.60" font-size="8.0" stroke="#231f20" stroke-width="0.2" text-anchor="end">FL</text>
<text x="229.60" y="501.40" font-size="8.0" stroke="#231f20" stroke-width="0.2" text-anchor="end">CD41<tspan font-size="5.76" dx="0.48" dy="-3.36">&#8722;</tspan></text>
<text x="229.60" y="521.30" font-size="8.0" stroke="#231f20" stroke-width="0.2" text-anchor="end">CD41<tspan font-size="5.76" dx="0.48" dy="-3.36">+</tspan></text>
<text x="229.60" y="543.30" font-size="8.0" stroke="#231f20" stroke-width="0.2" text-anchor="end">MkP</text>
<line x1="202.70" y1="487.20" x2="202.70" y2="545.80" stroke="#231f20" stroke-width="0.8"/>
<text x="200.20" y="516.20" font-size="7.6" stroke="#231f20" stroke-width="0.2" text-anchor="middle" transform="rotate(-90 200.20 516.20)">ABM</text>
<defs><linearGradient id="gK" x1="0" x2="0" y1="0" y2="1"><stop offset="0" stop-color="#b41c2c"/><stop offset="0.22" stop-color="#c92d3a"/><stop offset="0.3" stop-color="#dc6c7a"/><stop offset="0.38" stop-color="#e9aab4"/><stop offset="0.46" stop-color="#f1dde2"/><stop offset="0.52" stop-color="#eef0f5"/><stop offset="0.6" stop-color="#c3d8ec"/><stop offset="0.68" stop-color="#86b3dc"/><stop offset="0.78" stop-color="#3a83c4"/><stop offset="1" stop-color="#1c6bb0"/></linearGradient></defs>
<rect x="497.00" y="474.80" width="7.90" height="41.50" fill="url(#gK)"/>
<text x="501.00" y="471.20" font-size="7.4" stroke="#231f20" stroke-width="0.2" text-anchor="middle">90% tile</text>
<text x="501.00" y="528.40" font-size="7.4" stroke="#231f20" stroke-width="0.2" text-anchor="middle">10% tile</text>
<text x="501.00" y="536.80" font-size="7.4" stroke="#231f20" stroke-width="0.2" text-anchor="middle">Fold relative</text>
<text x="501.00" y="545.90" font-size="7.4" stroke="#231f20" stroke-width="0.2" text-anchor="middle">to FL HSC</text></svg></body></html>
